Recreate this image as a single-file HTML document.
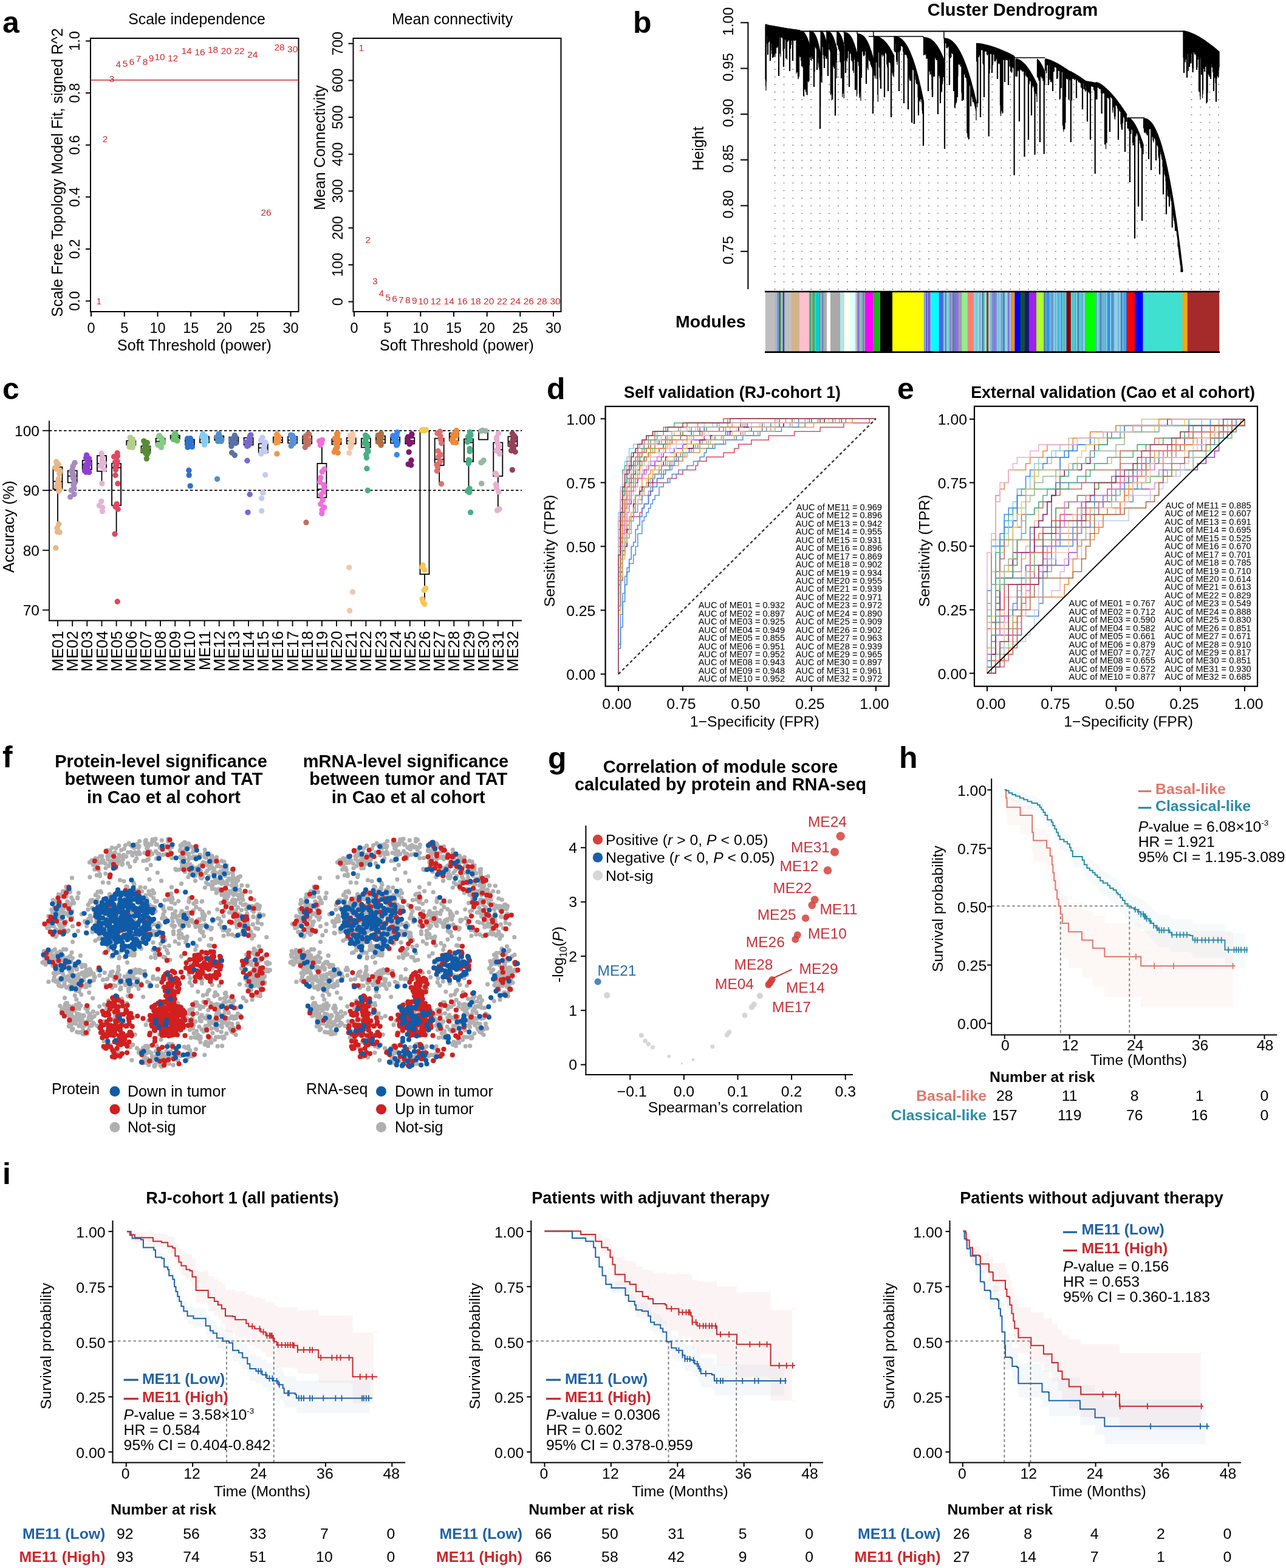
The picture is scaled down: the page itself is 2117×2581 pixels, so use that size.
<!DOCTYPE html>
<html><head><meta charset="utf-8"><title>Figure</title>
<style>
html,body{margin:0;padding:0;background:#fff;}
svg{display:block;font-family:"Liberation Sans",Arial,sans-serif;}
</style></head><body>
<svg width="2117" height="2581" viewBox="0 0 2117 2581" font-family="Liberation Sans, Arial, sans-serif">
<rect width="2117" height="2581" fill="#fff"/>
<text x="4" y="53.5" font-size="50" font-weight="bold">a</text>
<rect x="149" y="63" width="342.5" height="450" fill="none" stroke="#000" stroke-width="2" />
<line x1="141" y1="495.5" x2="149" y2="495.5" stroke="#000" stroke-width="2" />
<text x="131" y="495.5" font-size="23.5" text-anchor="middle" transform="rotate(-90 131 495.5)">0.0</text>
<line x1="141" y1="409.9" x2="149" y2="409.9" stroke="#000" stroke-width="2" />
<text x="131" y="409.9" font-size="23.5" text-anchor="middle" transform="rotate(-90 131 409.9)">0.2</text>
<line x1="141" y1="324.3" x2="149" y2="324.3" stroke="#000" stroke-width="2" />
<text x="131" y="324.3" font-size="23.5" text-anchor="middle" transform="rotate(-90 131 324.3)">0.4</text>
<line x1="141" y1="238.7" x2="149" y2="238.7" stroke="#000" stroke-width="2" />
<text x="131" y="238.7" font-size="23.5" text-anchor="middle" transform="rotate(-90 131 238.7)">0.6</text>
<line x1="141" y1="153.1" x2="149" y2="153.1" stroke="#000" stroke-width="2" />
<text x="131" y="153.1" font-size="23.5" text-anchor="middle" transform="rotate(-90 131 153.1)">0.8</text>
<line x1="141" y1="67.5" x2="149" y2="67.5" stroke="#000" stroke-width="2" />
<text x="131" y="67.5" font-size="23.5" text-anchor="middle" transform="rotate(-90 131 67.5)">1.0</text>
<line x1="150" y1="513" x2="150" y2="521" stroke="#000" stroke-width="2" />
<text x="150" y="548" font-size="23.5" text-anchor="middle">0</text>
<line x1="204.8" y1="513" x2="204.8" y2="521" stroke="#000" stroke-width="2" />
<text x="204.8" y="548" font-size="23.5" text-anchor="middle">5</text>
<line x1="259.5" y1="513" x2="259.5" y2="521" stroke="#000" stroke-width="2" />
<text x="259.5" y="548" font-size="23.5" text-anchor="middle">10</text>
<line x1="314.2" y1="513" x2="314.2" y2="521" stroke="#000" stroke-width="2" />
<text x="314.2" y="548" font-size="23.5" text-anchor="middle">15</text>
<line x1="369" y1="513" x2="369" y2="521" stroke="#000" stroke-width="2" />
<text x="369" y="548" font-size="23.5" text-anchor="middle">20</text>
<line x1="423.8" y1="513" x2="423.8" y2="521" stroke="#000" stroke-width="2" />
<text x="423.8" y="548" font-size="23.5" text-anchor="middle">25</text>
<line x1="478.5" y1="513" x2="478.5" y2="521" stroke="#000" stroke-width="2" />
<text x="478.5" y="548" font-size="23.5" text-anchor="middle">30</text>
<line x1="150" y1="513" x2="478.5" y2="513" stroke="#000" stroke-width="2" />
<text x="320" y="577" font-size="25" text-anchor="middle">Soft Threshold (power)</text>
<text x="102.5" y="284" font-size="25" text-anchor="middle" transform="rotate(-90 102.5 284)">Scale Free Topology Model Fit, signed R^2</text>
<text x="324" y="39.5" font-size="24.9" text-anchor="middle">Scale independence</text>
<line x1="149" y1="131.8" x2="491.5" y2="131.8" stroke="#d02a2e" stroke-width="1.6" />
<text x="162.7" y="501.3" font-size="15.5" text-anchor="middle" fill="#d02a2e">1</text>
<text x="173" y="233.5" font-size="15.5" text-anchor="middle" fill="#d02a2e">2</text>
<text x="184" y="135.2" font-size="15.5" text-anchor="middle" fill="#d02a2e">3</text>
<text x="194.7" y="111" font-size="15.5" text-anchor="middle" fill="#d02a2e">4</text>
<text x="206" y="109.5" font-size="15.5" text-anchor="middle" fill="#d02a2e">5</text>
<text x="217" y="107.4" font-size="15.5" text-anchor="middle" fill="#d02a2e">6</text>
<text x="228" y="102" font-size="15.5" text-anchor="middle" fill="#d02a2e">7</text>
<text x="239" y="107.4" font-size="15.5" text-anchor="middle" fill="#d02a2e">8</text>
<text x="249" y="101.4" font-size="15.5" text-anchor="middle" fill="#d02a2e">9</text>
<text x="263" y="99.3" font-size="15.5" text-anchor="middle" fill="#d02a2e">10</text>
<text x="284.6" y="100.8" font-size="15.5" text-anchor="middle" fill="#d02a2e">12</text>
<text x="307" y="88.5" font-size="15.5" text-anchor="middle" fill="#d02a2e">14</text>
<text x="329" y="90.9" font-size="15.5" text-anchor="middle" fill="#d02a2e">16</text>
<text x="350.5" y="87" font-size="15.5" text-anchor="middle" fill="#d02a2e">18</text>
<text x="372.4" y="88.8" font-size="15.5" text-anchor="middle" fill="#d02a2e">20</text>
<text x="394" y="88.8" font-size="15.5" text-anchor="middle" fill="#d02a2e">22</text>
<text x="415.8" y="94.5" font-size="15.5" text-anchor="middle" fill="#d02a2e">24</text>
<text x="438" y="354.5" font-size="15.5" text-anchor="middle" fill="#d02a2e">26</text>
<text x="460" y="83.4" font-size="15.5" text-anchor="middle" fill="#d02a2e">28</text>
<text x="481.7" y="86.4" font-size="15.5" text-anchor="middle" fill="#d02a2e">30</text>
<rect x="581.5" y="63" width="342" height="450" fill="none" stroke="#000" stroke-width="2" />
<line x1="573.5" y1="496.6" x2="581.5" y2="496.6" stroke="#000" stroke-width="2" />
<text x="564" y="496.6" font-size="23.5" text-anchor="middle" transform="rotate(-90 564 496.6)">0</text>
<line x1="573.5" y1="435.9" x2="581.5" y2="435.9" stroke="#000" stroke-width="2" />
<text x="564" y="435.9" font-size="23.5" text-anchor="middle" transform="rotate(-90 564 435.9)">100</text>
<line x1="573.5" y1="375.2" x2="581.5" y2="375.2" stroke="#000" stroke-width="2" />
<text x="564" y="375.2" font-size="23.5" text-anchor="middle" transform="rotate(-90 564 375.2)">200</text>
<line x1="573.5" y1="314.5" x2="581.5" y2="314.5" stroke="#000" stroke-width="2" />
<text x="564" y="314.5" font-size="23.5" text-anchor="middle" transform="rotate(-90 564 314.5)">300</text>
<line x1="573.5" y1="253.8" x2="581.5" y2="253.8" stroke="#000" stroke-width="2" />
<text x="564" y="253.8" font-size="23.5" text-anchor="middle" transform="rotate(-90 564 253.8)">400</text>
<line x1="573.5" y1="193.1" x2="581.5" y2="193.1" stroke="#000" stroke-width="2" />
<text x="564" y="193.1" font-size="23.5" text-anchor="middle" transform="rotate(-90 564 193.1)">500</text>
<line x1="573.5" y1="132.4" x2="581.5" y2="132.4" stroke="#000" stroke-width="2" />
<text x="564" y="132.4" font-size="23.5" text-anchor="middle" transform="rotate(-90 564 132.4)">600</text>
<line x1="573.5" y1="71.7" x2="581.5" y2="71.7" stroke="#000" stroke-width="2" />
<text x="564" y="71.7" font-size="23.5" text-anchor="middle" transform="rotate(-90 564 71.7)">700</text>
<line x1="583" y1="513" x2="583" y2="521" stroke="#000" stroke-width="2" />
<text x="583" y="548" font-size="23.5" text-anchor="middle">0</text>
<line x1="637.7" y1="513" x2="637.7" y2="521" stroke="#000" stroke-width="2" />
<text x="637.7" y="548" font-size="23.5" text-anchor="middle">5</text>
<line x1="692.3" y1="513" x2="692.3" y2="521" stroke="#000" stroke-width="2" />
<text x="692.3" y="548" font-size="23.5" text-anchor="middle">10</text>
<line x1="747" y1="513" x2="747" y2="521" stroke="#000" stroke-width="2" />
<text x="747" y="548" font-size="23.5" text-anchor="middle">15</text>
<line x1="801.7" y1="513" x2="801.7" y2="521" stroke="#000" stroke-width="2" />
<text x="801.7" y="548" font-size="23.5" text-anchor="middle">20</text>
<line x1="856.3" y1="513" x2="856.3" y2="521" stroke="#000" stroke-width="2" />
<text x="856.3" y="548" font-size="23.5" text-anchor="middle">25</text>
<line x1="911" y1="513" x2="911" y2="521" stroke="#000" stroke-width="2" />
<text x="911" y="548" font-size="23.5" text-anchor="middle">30</text>
<line x1="583" y1="513" x2="911" y2="513" stroke="#000" stroke-width="2" />
<text x="752" y="577" font-size="25" text-anchor="middle">Soft Threshold (power)</text>
<text x="535" y="243" font-size="25" text-anchor="middle" transform="rotate(-90 535 243)">Mean Connectivity</text>
<text x="744.5" y="40" font-size="24.9" text-anchor="middle">Mean connectivity</text>
<text x="594.7" y="83.8" font-size="15.5" text-anchor="middle" fill="#d02a2e">1</text>
<text x="605.8" y="400" font-size="15.5" text-anchor="middle" fill="#d02a2e">2</text>
<text x="617.2" y="467.8" font-size="15.5" text-anchor="middle" fill="#d02a2e">3</text>
<text x="627.7" y="488.1" font-size="15.5" text-anchor="middle" fill="#d02a2e">4</text>
<text x="638.8" y="494.5" font-size="15.5" text-anchor="middle" fill="#d02a2e">5</text>
<text x="649.5" y="497.2" font-size="15.5" text-anchor="middle" fill="#d02a2e">6</text>
<text x="660.3" y="498.5" font-size="15.5" text-anchor="middle" fill="#d02a2e">7</text>
<text x="671.4" y="499.2" font-size="15.5" text-anchor="middle" fill="#d02a2e">8</text>
<text x="682.4" y="500" font-size="15.5" text-anchor="middle" fill="#d02a2e">9</text>
<text x="696.8" y="500.5" font-size="15.5" text-anchor="middle" fill="#d02a2e">10</text>
<text x="717.3" y="500.5" font-size="15.5" text-anchor="middle" fill="#d02a2e">12</text>
<text x="739.2" y="500.5" font-size="15.5" text-anchor="middle" fill="#d02a2e">14</text>
<text x="761" y="500.5" font-size="15.5" text-anchor="middle" fill="#d02a2e">16</text>
<text x="783" y="500.5" font-size="15.5" text-anchor="middle" fill="#d02a2e">18</text>
<text x="804.7" y="500.5" font-size="15.5" text-anchor="middle" fill="#d02a2e">20</text>
<text x="826.6" y="500.5" font-size="15.5" text-anchor="middle" fill="#d02a2e">22</text>
<text x="848.4" y="500.5" font-size="15.5" text-anchor="middle" fill="#d02a2e">24</text>
<text x="870.3" y="500.5" font-size="15.5" text-anchor="middle" fill="#d02a2e">26</text>
<text x="892" y="500.5" font-size="15.5" text-anchor="middle" fill="#d02a2e">28</text>
<text x="914" y="500.5" font-size="15.5" text-anchor="middle" fill="#d02a2e">30</text>
<text x="1042" y="53.5" font-size="50" font-weight="bold">b</text>
<text x="1667" y="26" font-size="29" text-anchor="middle" font-weight="bold">Cluster Dendrogram</text>
<line x1="1231.4" y1="36.3" x2="1231.4" y2="476" stroke="#000" stroke-width="2" />
<line x1="1219" y1="37.3" x2="1231.4" y2="37.3" stroke="#000" stroke-width="2" />
<text x="1207.4" y="35.3" font-size="24" text-anchor="middle" transform="rotate(-90 1207.4 35.3)">1.00</text>
<line x1="1219" y1="112.6" x2="1231.4" y2="112.6" stroke="#000" stroke-width="2" />
<text x="1207.4" y="110.6" font-size="24" text-anchor="middle" transform="rotate(-90 1207.4 110.6)">0.95</text>
<line x1="1219" y1="187.9" x2="1231.4" y2="187.9" stroke="#000" stroke-width="2" />
<text x="1207.4" y="185.9" font-size="24" text-anchor="middle" transform="rotate(-90 1207.4 185.9)">0.90</text>
<line x1="1219" y1="263.2" x2="1231.4" y2="263.2" stroke="#000" stroke-width="2" />
<text x="1207.4" y="261.2" font-size="24" text-anchor="middle" transform="rotate(-90 1207.4 261.2)">0.85</text>
<line x1="1219" y1="338.5" x2="1231.4" y2="338.5" stroke="#000" stroke-width="2" />
<text x="1207.4" y="336.5" font-size="24" text-anchor="middle" transform="rotate(-90 1207.4 336.5)">0.80</text>
<line x1="1219" y1="413.8" x2="1231.4" y2="413.8" stroke="#000" stroke-width="2" />
<text x="1207.4" y="411.8" font-size="24" text-anchor="middle" transform="rotate(-90 1207.4 411.8)">0.75</text>
<text x="1158" y="244.5" font-size="25" text-anchor="middle" transform="rotate(-90 1158 244.5)">Height</text>
<text x="1112" y="539" font-size="28.5" font-weight="bold">Modules</text>
<path d="M1260 40.5V130.6M1260.5 40.7V141.5M1261 40.9V148.9M1261.5 41V133.8M1262 41.2V57.9M1262.5 41.3V59.5M1263 41.4V71.7M1263.5 41.6V75.7M1264 41.7V63.4M1264.5 41.8V62.8M1265 41.9V66.8M1265.5 42V69.7M1266 42.2V64.4M1266.5 42.3V65.3M1267 42.4V68.1M1267.5 42.5V68.9M1268 42.6V68.3M1268.5 42.7V68M1269 42.8V71.8M1269.5 42.9V67.6M1270 43V82.5M1270.5 43.1V89M1271 43.2V81.1M1271.5 43.3V84M1272 43.4V94.9M1272.5 43.5V85.8M1273 43.6V90.9M1273.5 43.7V93.4M1274 43.8V93.8M1274.5 43.8V88.9M1275 43.9V89.1M1275.5 44V90.7M1276 44.1V94M1276.5 44.2V86.5M1277 44.3V70.8M1277.5 44.4V75.1M1278 44.5V77.1M1278.5 44.6V78.3M1279 44.7V74.7M1279.5 44.7V78.9M1280 44.8V74.9M1280.5 44.9V76.8M1281 45V76.1M1281.5 45.1V74.2M1282 45.2V62.5M1282.5 45.3V59.8M1283 45.3V61.2M1283.5 45.4V61.6M1284 45.5V88.5M1284.5 45.6V88M1285 45.7V93.2M1285.5 45.8V60M1286 45.8V61M1286.5 45.9V61.4M1287 46V62.6M1287.5 46.1V61.7M1288 46.2V61.1M1288.5 46.2V63.8M1289 46.3V83.5M1289.5 46.4V84.2M1290 46.5V82.2M1290.5 46.6V81.4M1291 46.6V80.2M1291.5 46.7V80.3M1292 46.8V64.7M1292.5 46.9V64.6M1293 47V65.4M1293.5 47V64.2M1294 47.1V64.1M1294.5 47.2V94.3M1295 47.3V96M1295.5 47.3V98M1296 47.4V64.9M1296.5 47.5V68M1297 47.6V68.7M1297.5 47.7V66.6M1298 47.7V66.7M1298.5 47.8V65.1M1299 47.9V65.3M1299.5 48V66.3M1300 48V76.4M1300.5 48.1V81.5M1301 48.2V77.6M1301.5 48.3V79.9M1302 48.3V70M1302.5 48.4V74.1M1303 48.5V66.1M1303.5 48.6V67.1M1304 48.6V65.5M1304.5 48.7V65.1M1305 48.8V67.5M1305.5 48.9V68.2M1306 48.9V66.7M1306.5 49V64.5M1307 49.1V65.7M1307.5 49.1V66.6M1308 49.2V67.6M1308.5 49.3V67M1309 49.4V65.9M1309.5 49.4V64.9M1310 49.5V66.5M1310.5 49.6V65.6M1311 49.6V121M1311.5 49.7V118.7M1312 49.8V118.9M1312.5 49.9V118.4M1313 49.9V118.6M1313.5 50V125.6M1314 50.1V130.2M1314.5 50.1V129.3M1315 50.2V123.4M1315.5 50.3V126.3M1316 50.4V88.9M1316.5 50.4V91.8M1317 50.5V87.4M1317 50.5V94.3M1317.5 51.5V93.3M1318 51.5V91.1M1318.5 51.6V99.9M1319 51.7V100.3M1319.5 51.8V109.3M1320 52V108.3M1320.5 52.2V100.8M1321 52.4V109M1321.5 52.8V111.1M1322 53.1V107.7M1322.5 53.5V157.5M1323 54V144.3M1323.5 54.5V159M1324 55.1V146.2M1324.5 55.8V141.7M1325 56.5V147.5M1325.5 57.3V139.9M1326 58.1V144.9M1326.5 59.1V151.4M1327 60.1V137.6M1327.5 61.1V151.6M1328 62.3V155.8M1328.5 63.5V152.5M1329 64.8V156.7M1329.5 66.1V132.4M1330 67.6V133.7M1330.5 69.1V127.8M1331 70.7V135.6M1331.5 72.4V133.5M1332 74.1V132.7M1332.5 76V94.7M1332.5 76V107.4M1333 51.5V78.5M1333.5 51.5V94.3M1334 51.6V90.3M1334.5 51.6V98.7M1335 51.7V90.8M1335.5 51.9V93.5M1336 52.1V99.9M1336.5 52.3V92.4M1337 52.6V92.2M1337.5 52.9V96.7M1338 53.3V94.9M1338.5 53.8V96.9M1339 54.3V98.1M1339.5 54.9V117.7M1340 55.6V117.9M1340.5 56.3V118.3M1341 57.2V118.1M1341.5 58.1V76.2M1342 59.1V77.6M1342.5 60.2V75.9M1343 61.3V79.2M1343.5 62.6V80.2M1344 64V79.6M1344.5 65.4V83.9M1345 67V85.7M1345.5 68.6V90.7M1346 70.4V95.1M1346.5 72.3V94.6M1347 74.3V103M1347.5 76.4V105.9M1348 78.6V110.9M1348.5 80.9V108.4M1349 83.3V114.5M1349.5 85.9V116.3M1350 88.6V116.1M1350.5 91.4V121.1M1350.6 92V176M1351.1 51.5V123.7M1351.6 51.6V134.9M1352.1 51.9V121.6M1352.6 52.2V125.1M1353.1 52.6V136.4M1353.6 53.1V77.2M1354.1 53.8V77.4M1354.6 54.6V75.4M1355.1 55.5V90.5M1355.6 56.5V91.1M1356.1 57.7V96.5M1356.6 59V83M1357.1 60.4V85.3M1357.6 62V83.2M1358.1 63.7V85.3M1358.6 65.6V92.5M1359.1 67.6V91.4M1359.6 69.7V96.2M1360.1 72V97M1360.3 73V97.2M1360.8 51.5V75.1M1361.3 51.5V93.1M1361.8 51.6V95.6M1362.3 51.6V97.9M1362.8 51.8V68.9M1363.3 51.9V72.1M1363.8 52.1V71.6M1364.3 52.3V70.3M1364.8 52.6V81.5M1365.3 53V81.8M1365.8 53.4V81.5M1366.3 53.8V84.1M1366.8 54.3V85.1M1367.3 54.9V156.6M1367.8 55.6V154.6M1368.3 56.3V153.8M1368.8 57.1V149.7M1369.3 57.9V165.3M1369.8 58.9V156.3M1370.3 59.9V149.1M1370.8 60.9V163.6M1371.3 62.1V105.2M1371.8 63.4V107M1372.3 64.7V110M1372.8 66.1V108.4M1373.3 67.6V112.8M1373.8 69.2V94.3M1374.3 70.9V94.3M1374.8 72.7V101M1375.3 74.5V99M1375.8 76.5V99M1376.3 78.6V99.6M1376.8 80.7V103.2M1377.3 83V129M1377.3 83V104.1M1377.8 52.7V73.6M1378.3 52.8V74.7M1378.8 53V74.4M1379.3 53.2V74.9M1379.8 53.5V77.9M1380.3 53.9V81.6M1380.8 54.4V81.6M1381.3 54.9V78.7M1381.8 55.6V84M1382.3 56.3V85.1M1382.8 57.2V102.2M1383.3 58.1V101.7M1383.8 59.1V101M1384.3 60.3V104.4M1384.8 61.5V98.4M1385.3 62.9V105.8M1385.8 64.3V108.3M1386.3 65.9V109.1M1386.8 67.6V159.7M1387.3 69.3V150.7M1387.8 71.2V153.9M1388.3 73.2V148.5M1388.8 75.3V150M1389.3 77.5V161.7M1389.4 78V97.9M1389.9 54V72.9M1390.4 54V73M1390.9 54V100.3M1391.4 54.1V100.7M1391.9 54.2V94.9M1392.4 54.3V100.1M1392.9 54.4V95.1M1393.4 54.6V99.3M1393.9 54.8V97.7M1394.4 55V101.6M1394.9 55.2V95.1M1395.4 55.5V95.7M1395.9 55.9V84.3M1396.4 56.3V84.3M1396.9 56.7V71.1M1397.4 57.2V71.7M1397.9 57.7V72.1M1398.4 58.3V87.4M1398.9 58.9V89.4M1399.4 59.5V87.3M1399.9 60.3V86.6M1400.4 61V87.6M1400.9 61.9V89.2M1401.4 62.7V99.8M1401.9 63.7V94.3M1402.4 64.7V95.4M1402.9 65.7V101.4M1403.4 66.9V98.8M1403.9 68V116.3M1404.4 69.3V115.7M1404.9 70.6V112.4M1405.4 71.9V120.3M1405.9 73.4V94.9M1406.4 74.9V95.1M1406.9 76.5V98.2M1407.4 78.1V98.4M1407.9 79.8V99.9M1408.4 81.6V106.6M1408.9 83.4V104.7M1409.4 85.3V145.9M1409.9 87.3V148.2M1410.4 89.4V158.7M1410.9 91.6V155.4M1411 92V141.9M1411.5 56.3V99.3M1412 56.3V99.5M1412.5 56.3V102M1413 56.4V100.6M1413.5 56.4V108.7M1414 56.5V104.8M1414.5 56.6V154.5M1415 56.7V161.2M1415.5 56.8V159M1416 57V151.3M1416.5 57.1V146.2M1417 57.3V165.7M1417.5 57.6V80.5M1418 57.8V83.3M1418.5 58.1V83.1M1419 58.4V85M1419.5 58.8V84M1420 59.2V84.3M1420.5 59.6V85M1421 60V89.7M1421.5 60.5V92.4M1422 61V90.7M1422.5 61.6V92.1M1423 62.2V90.6M1423.5 62.8V90.8M1424 63.5V82.3M1424.5 64.2V84.4M1425 64.9V84.5M1425.5 65.7V83.9M1426 66.5V84.8M1426.5 67.4V86.1M1427 68.3V109.5M1427.5 69.3V108.6M1428 70.3V112.5M1428.5 71.4V112.1M1429 72.5V115.6M1429.5 73.6V94M1430 74.8V95.5M1430.5 76V99.1M1431 77.3V99.9M1431.5 78.7V101.3M1432 80.1V98.7M1432.5 81.5V100.2M1433 83V104.9M1433.5 84.5V107.3M1434 86.1V106.9M1434.5 87.8V109.8M1435 89.5V109.7M1435.5 91.2V111.2M1436 93V113M1436.5 94.9V116.3M1437 96.8V115.7M1437.5 98.8V140.1M1437.8 100V166.7M1438.3 60V115.9M1438.8 60V117.7M1439.3 60V123.9M1439.8 60.1V116.5M1440.3 60.1V126M1440.8 60.2V129.5M1441.3 60.2V124.9M1441.8 60.3V98M1442.3 60.4V102.3M1442.8 60.5V103M1443.3 60.6V101.3M1443.8 60.7V99.9M1444.3 60.9V103.5M1444.8 61V156M1445.3 61.2V167.7M1445.8 61.4V87.1M1446.3 61.6V86M1446.8 61.8V84.1M1447.3 62V110.1M1447.8 62.3V112.1M1448.3 62.5V127.5M1448.8 62.8V131.7M1449.3 63.1V124.8M1449.8 63.4V133.9M1450.3 63.7V133.4M1450.8 64V91M1451.3 64.4V88.1M1451.8 64.7V90.1M1452.3 65.1V89.3M1452.8 65.5V93.2M1453.3 65.9V89.2M1453.8 66.4V88.5M1454.3 66.8V90.2M1454.8 67.3V92.1M1455.3 67.8V88.5M1455.8 68.3V90.3M1456.3 68.8V89.9M1456.8 69.3V84.3M1457.3 69.8V86.6M1457.8 70.4V87.1M1458.3 71V87.1M1458.8 71.6V88.6M1459.3 72.2V89M1459.8 72.8V106.2M1460.3 73.5V105.7M1460.8 74.1V109.4M1461.3 74.8V111M1461.8 75.5V93.9M1462.3 76.3V96.1M1462.8 77V99M1463.3 77.8V98.3M1463.8 78.5V103.2M1464.3 79.3V102M1464.8 80.1V100.8M1465.3 81V103.8M1465.8 81.8V104.2M1466.3 82.7V107.8M1466.8 83.6V105M1467.3 84.5V106.8M1467.8 85.4V110.4M1468.3 86.3V106.9M1468.8 87.3V119.4M1469.3 88.3V121M1469.8 89.3V124.5M1470.3 90.3V120.1M1470.8 91.3V122.1M1471.3 92.4V126.8M1471.6 93V118.6M1472.1 60.5V82.8M1472.6 60.5V85M1473.1 60.5V84.4M1473.6 60.6V85.5M1474.1 60.6V86.3M1474.6 60.7V72M1475.1 60.8V72.1M1475.6 60.8V98.7M1476.1 61V102.1M1476.6 61.1V97.8M1477.1 61.2V106.4M1477.6 61.4V100.8M1478.1 61.6V84M1478.6 61.8V84.4M1479.1 62V86.8M1479.6 62.2V83.4M1480.1 62.5V84.3M1480.6 62.7V87.4M1481.1 63V85.1M1481.6 63.4V84.5M1482.1 63.7V83M1482.6 64.1V81.9M1483.1 64.4V74.3M1483.6 64.8V75.2M1484.1 65.3V76M1484.6 65.7V75M1485.1 66.2V76.2M1485.6 66.7V77.2M1486.1 67.2V77.7M1486.6 67.8V84.3M1487.1 68.3V86.2M1487.6 68.9V84.8M1488.1 69.5V85.6M1488.6 70.2V86.2M1489.1 70.9V86.5M1489.6 71.6V90M1490.1 72.3V89.6M1490.6 73V89.4M1491.1 73.8V90.4M1491.6 74.6V88.7M1492.1 75.4V90.6M1492.6 76.3V88.7M1493.1 77.1V93M1493.6 78V95.7M1494.1 79V94.3M1494.6 79.9V94.6M1495.1 80.9V97.6M1495.6 81.9V127.6M1496.1 83V124.7M1496.6 84V124M1497.1 85.1V130M1497.6 86.2V132.7M1498.1 87.4V126M1498.6 88.6V131.7M1499.1 89.8V133.2M1499.6 91V130.6M1500.1 92.3V133.3M1500.6 93.6V201.7M1501.1 94.9V200.8M1501.6 96.3V202.3M1502.1 97.7V110.9M1502.6 99.1V114.2M1503.1 100.5V114.9M1503.6 102V114.8M1504.1 103.5V116.4M1504.6 105V119.2M1505.1 106.6V120M1505.6 108.2V121.2M1506.1 109.8V125M1506.6 111.5V125.7M1507.1 113.2V130.7M1507.6 114.9V132.7M1508.1 116.7V136.2M1508.6 118.5V138.5M1509.1 120.3V137.8M1509.6 122.1V137.7M1510.1 124V138.6M1510.6 125.9V140.4M1511.1 127.9V160.2M1511.6 129.8V161M1512.1 131.9V159.5M1512.6 133.9V163.7M1513.1 136V164.6M1513.6 138.1V163.3M1514.1 140.2V166.5M1514.6 142.4V167.6M1515.1 144.6V160.5M1515.6 146.8V163.2M1516.1 149.1V163M1516.6 151.4V164.3M1517.1 153.8V167.5M1517.6 156.1V170M1518.1 158.5V181.4M1518.6 161V187.2M1519.1 163.5V185.9M1519.6 166V188.8M1520 168V195.9M1520.5 62.3V91.1M1521 62.3V91M1521.5 62.3V90M1522 62.3V90M1522.5 62.4V88M1523 62.4V88.5M1523.5 62.5V88.9M1524 62.5V91.3M1524.5 62.6V90.9M1525 62.7V97.1M1525.5 62.8V95.7M1526 62.9V95.7M1526.5 63V92.8M1527 63.2V97.3M1527.5 63.3V96.5M1528 63.5V94.8M1528.5 63.7V98.9M1529 63.9V117.4M1529.5 64.1V113.6M1530 64.3V117.4M1530.5 64.6V117.7M1531 64.8V123.3M1531.5 65.1V119.9M1532 65.4V122.1M1532.5 65.7V114.9M1533 66.1V116.3M1533.5 66.4V126.3M1534 66.8V147.3M1534.5 67.2V158.3M1535 67.6V143.7M1535.5 68.1V157.4M1536 68.5V125.5M1536.5 69V120.4M1537 69.5V126.2M1537.5 70V126.3M1538 70.6V118.2M1538.5 71.1V125.9M1539 71.7V91.1M1539.5 72.3V95.2M1540 72.9V92.9M1540.5 73.6V97M1541 74.2V98.3M1541.5 74.9V99.1M1542 75.7V97.8M1542.5 76.4V99.3M1543 77.2V99.1M1543.5 77.9V101M1544 78.8V103M1544.5 79.6V102M1545 80.5V103.1M1545.5 81.3V123.4M1546 82.2V125.2M1546.5 83.2V123.6M1547 84.1V129.3M1547.5 85.1V127.4M1548 86.1V147.7M1548.5 87.2V153.1M1549 88.2V152.5M1549.5 89.3V148.6M1550 90.4V149.8M1550.5 91.6V150.9M1551 92.7V132.2M1551.5 93.9V138.8M1552 95.1V133.4M1552.5 96.4V124.2M1553 97.6V125.8M1553.5 98.9V126.9M1553.9 100V107.6M1554.4 63.5V70.8M1554.9 63.5V71M1555.4 63.5V71.6M1555.9 63.6V70.4M1556.4 63.6V70.6M1556.9 63.7V71.4M1557.4 63.8V70.4M1557.9 63.9V79.2M1558.4 64V78.9M1558.9 64.1V77.8M1559.4 64.2V76.9M1559.9 64.4V79.5M1560.4 64.5V77.6M1560.9 64.7V76.1M1561.4 64.9V75.3M1561.9 65.2V76.9M1562.4 65.4V93.5M1562.9 65.6V93.7M1563.4 65.9V97.6M1563.9 66.2V92.3M1564.4 66.5V95.8M1564.9 66.8V95.3M1565.4 67.2V94.6M1565.9 67.5V93.8M1566.4 67.9V85.5M1566.9 68.3V86.8M1567.4 68.7V87.7M1567.9 69.2V88.6M1568.4 69.6V89.1M1568.9 70.1V88.6M1569.4 70.6V89.9M1569.9 71.1V90M1570.4 71.6V88.7M1570.9 72.2V91.6M1571.4 72.8V177.2M1571.9 73.4V171.6M1572.4 74V178.3M1572.9 74.6V172.6M1573.4 75.3V168.2M1573.9 75.9V166.2M1574.4 76.6V169.7M1574.9 77.3V166.2M1575.4 78.1V119.4M1575.9 78.8V118.1M1576.4 79.6V124.5M1576.9 80.4V125.7M1577.4 81.2V103.1M1577.9 82.1V105.5M1578.4 82.9V102.8M1578.9 83.8V106.8M1579.4 84.7V103.6M1579.9 85.6V105.7M1580.4 86.6V106.6M1580.9 87.6V109.9M1581.4 88.5V104.8M1581.9 89.6V105.5M1582.4 90.6V109M1582.9 91.6V152.4M1583.4 92.7V152.6M1583.9 93.8V154.5M1584.4 94.9V148.6M1584.9 96.1V150M1585.4 97.3V163.6M1585.9 98.5V155.2M1586.4 99.7V165.1M1586.9 100.9V122.6M1587.4 102.2V120.5M1587.9 103.4V121.3M1588.4 104.7V122.9M1588.9 106.1V127.9M1589.4 107.4V126.6M1589.9 108.8V127.1M1590.4 110.2V128M1590.9 111.6V129.5M1591.4 113V133.8M1591.9 114.5V219.3M1592.4 116V208.4M1592.9 117.5V226.5M1593.4 119V218.8M1593.9 120.6V223.2M1594.4 122.2V229.5M1594.9 123.8V228.4M1595.4 125.4V229.1M1595.9 127.1V136.5M1596.4 128.8V140M1596.9 130.5V141.6M1597.4 132.2V143M1597.9 133.9V145.1M1598.4 135.7V156M1598.9 137.5V157.2M1599.4 139.3V157.5M1599.9 141.2V159.5M1600.4 143V161.1M1600.9 144.9V163.3M1601.4 146.8V167.7M1601.9 148.8V165.9M1602.4 150.8V164.9M1602.9 152.7V168M1603.4 154.8V169.3M1603.9 156.8V169.5M1604.4 158.9V172.7M1604.9 161V174.9M1605.4 163.1V178.1M1605.9 165.2V178.9M1606.4 167.4V182.1M1606.9 169.6V183.8M1607 170V198M1607.5 72V100.9M1608 72V101.5M1608.5 72.1V169.9M1609 72.1V176.6M1609.5 72.1V163.3M1610 72.2V170.1M1610.5 72.2V90.7M1611 72.3V93.6M1611.5 72.3V94.2M1612 72.4V91.2M1612.5 72.4V91.2M1613 72.5V90.9M1613.5 72.6V91.4M1614 72.6V82.9M1614.5 72.7V82.7M1615 72.8V82.1M1615.5 72.9V82.6M1616 72.9V82.1M1616.5 73V82M1617 73.1V82.4M1617.5 73.2V82.7M1618 73.3V104.4M1618.5 73.4V105M1619 73.5V106.7M1619.5 73.6V84.2M1620 73.7V85.1M1620.5 73.8V84.2M1621 73.9V84.5M1621.5 74V84.1M1622 74.1V84.6M1622.5 74.3V85.2M1623 74.4V84.3M1623.5 74.5V84.4M1624 74.6V84.7M1624.5 74.7V88.9M1625 74.9V90.3M1625.5 75V90.9M1626 75.1V88.8M1626.5 75.2V88.9M1627 75.4V89.3M1627.5 75.5V89.7M1628 75.7V90.5M1628.5 75.8V120.6M1629 75.9V121.1M1629.5 76.1V113.7M1630 76.2V89.1M1630.5 76.4V89.1M1631 76.5V88.4M1631.5 76.7V87.9M1632 76.8V89.3M1632.5 77V88M1633 77.1V88.4M1633.5 77.3V89.1M1634 77.5V102.5M1634.5 77.6V107.2M1635 77.8V88.4M1635.5 78V89.4M1636 78.1V90M1636.5 78.3V89M1637 78.5V100.3M1637.5 78.6V100.4M1638 78.8V101.6M1638.5 79V100.7M1639 79.2V100.6M1639.5 79.4V99.1M1640 79.5V96.8M1640.5 79.7V95M1641 79.9V96.4M1641.5 80.1V103.8M1642 80.3V102.2M1642.5 80.5V100.1M1643 80.7V104.4M1643.5 80.9V102.9M1644 81.1V103.8M1644.5 81.3V105M1645 81.4V105.4M1645.5 81.6V102.8M1646 81.8V101.4M1646.5 82.1V173.4M1647 82.3V187.3M1647.5 82.5V191M1648 82.7V181.9M1648.5 82.9V172.9M1649 83.1V183.5M1649.5 83.3V183M1650 83.5V187.1M1650.5 83.7V182.8M1651 83.9V185.8M1651.5 84.2V97.1M1652 84.4V98.9M1652.5 84.6V96.8M1653 84.8V97.9M1653.5 85.1V99.4M1654 85.3V99M1654.5 85.5V98.9M1655 85.7V99.2M1655.5 86V98.3M1656 86.2V98.9M1656.5 86.4V99.1M1657 86.7V98.4M1657.5 86.9V98.8M1658 87.1V99.1M1658.5 87.4V99.4M1659 87.6V99.5M1659.5 87.8V97.6M1660 88.1V97.5M1660.5 88.3V97.4M1661 88.6V97.8M1661.5 88.8V97.4M1662 89.1V109.7M1662.5 89.3V108.5M1663 89.6V108M1663.5 89.8V117.8M1664 90.1V114.9M1664.5 90.3V117.9M1665 90.6V118M1665.5 90.8V120M1666 91.1V118.5M1666.5 91.4V110M1667 91.6V110.6M1667.5 91.9V111.6M1668 92.1V111.6M1668.5 92.4V112.8M1669 92.7V106.1M1669.5 92.9V105.4M1672 97.4V125.9M1672.5 97.4V124.7M1673 97.5V121.1M1673.5 97.5V121.2M1674 97.6V126.8M1674.5 97.8V125.2M1675 97.9V114.6M1675.5 98.1V115.8M1676 98.3V117.3M1676.5 98.5V115.2M1677 98.7V110.9M1677.5 98.9V111.6M1678 99.2V111.5M1678.5 99.5V112.4M1679 99.8V112.4M1679.5 100.1V113M1680 100.4V115.8M1680.5 100.7V115.6M1681 101.1V114.2M1681.5 101.5V114.6M1682 101.9V115.9M1682.5 102.3V117.6M1683 102.7V116.9M1683.5 103.1V117.6M1684 103.6V117.9M1684.5 104.1V116.8M1685 104.6V117.6M1685.5 105.1V116.6M1686 105.6V123.6M1686.5 106.1V122.4M1687 106.7V123.1M1687.5 107.2V125.7M1688 107.8V117.8M1688.5 108.4V118.5M1689 109V124M1689.5 109.6V124.5M1690 110.3V126.5M1690.5 110.9V124.3M1691 111.6V127.3M1691.5 112.3V127.6M1692 113V127.4M1692.5 113.7V129.8M1693 114.4V139.6M1693.5 115.1V137.1M1694 115.9V138.2M1694.5 116.6V138.5M1695 117.4V130.9M1695.5 118.2V132M1696 119V133.8M1696.5 119.8V133.4M1697 120.6V134.5M1697.5 121.5V137M1698 122.3V139.7M1698.5 123.2V143.5M1699 124.1V145M1699.5 125V137.6M1700 125.9V141M1700.5 126.8V140.8M1701 127.8V142.7M1701.5 128.7V141.4M1702 129.7V143.7M1702.5 130.7V150.4M1703 131.6V151M1703.5 132.6V152.3M1704 133.7V151.4M1704.5 134.7V154.3M1705 135.7V154.5M1705.5 136.8V154.3M1706 137.8V154.1M1706.5 138.9V158.5M1707 140V155.9M1707 140V168M1707.5 98.2V126.4M1708 98.5V127.5M1708.5 98.9V127.2M1709 99.3V128.4M1709.5 99.9V130.4M1710 100.4V132.9M1710.5 101.1V127.7M1711 101.8V131.8M1711.5 102.5V129M1712 103.2V121.7M1712.5 104.1V121.1M1713 104.9V126.6M1713.5 105.8V125.3M1714 106.7V125.9M1714.5 107.6V125.5M1715 108.6V128.9M1715.5 109.6V128M1716 110.7V128.8M1716.5 111.7V129.2M1717 112.8V133.3M1717.5 114V131.8M1718 115.1V123.2M1718.5 116.3V125.3M1719 117.5V137.4M1719.5 118.7V136.3M1720 120V140.1M1720.4 97.4V116.4M1720.9 97.4V113.8M1721.4 97.5V116.6M1721.9 97.6V115.8M1722.4 97.7V120.7M1722.9 97.8V119.7M1723.4 97.9V106.9M1723.9 98.1V106.2M1724.4 98.2V107M1724.9 98.4V107.5M1725.4 98.5V105.7M1725.9 98.7V107.4M1726.4 98.8V106.2M1726.9 99V107.4M1727.4 99.2V107.1M1727.9 99.4V131.6M1728.4 99.6V129.9M1728.9 99.8V128.4M1729.4 100V135.1M1729.9 100.2V133.4M1730.4 100.4V134.4M1730.9 100.6V131.2M1731.4 100.8V133.3M1731.9 101V136.1M1732.4 101.2V135.3M1732.9 101.4V115.8M1733.4 101.7V116.5M1733.9 101.9V116.7M1734.4 102.1V118.3M1734.9 102.4V116.7M1735.4 102.6V117.7M1735.9 102.9V109.9M1736.4 103.1V110.5M1736.9 103.4V110.8M1737.4 103.6V109.8M1737.9 103.9V111.3M1738.4 104.1V111.5M1738.9 104.4V111.8M1739.4 104.7V111.7M1739.9 104.9V128.1M1740.4 105.2V127M1740.9 105.5V127.4M1741.4 105.8V127.8M1741.9 106V116.6M1742.4 106.3V115.4M1742.9 106.6V116.5M1743.4 106.9V116.9M1743.9 107.2V116.8M1744.4 107.5V163.7M1744.9 107.8V163.9M1745.4 108.1V162M1745.9 108.4V122M1746.4 108.7V121.3M1746.9 109V116.6M1747.4 109.3V118.3M1747.9 109.6V117.6M1748.4 109.9V118.5M1748.9 110.2V118.4M1749.4 110.5V206.8M1749.9 110.9V201.2M1750.4 111.2V213.1M1750.9 111.5V216.8M1751.4 111.8V203.3M1751.9 112.1V213.3M1752.4 112.5V208.1M1752.9 112.8V212.2M1753.4 113.1V201.6M1753.9 113.5V202.2M1754.4 113.8V126.7M1754.9 114.1V128.6M1755.4 114.5V127.9M1755.9 114.8V129.8M1756.4 115.2V129.6M1756.9 115.5V130.1M1757.4 115.9V130.9M1757.9 116.2V129.1M1758.4 116.6V128.8M1758.9 116.9V129.7M1759 117V163.5M1759.5 117.1V161.5M1760 117.3V165.2M1760.5 117.5V132.5M1761 117.7V130.7M1761.5 117.9V131.7M1762 118.2V131.1M1762.5 118.4V131.5M1763 118.6V130.9M1763.5 118.9V159.9M1764 119.2V165.3M1764.5 119.4V165.6M1765 119.7V129.5M1765.5 119.9V129.8M1766 120.2V129.5M1766.5 120.5V129M1767 120.8V129.7M1767.5 121.1V129.4M1768 121.4V130M1768.5 121.6V131.5M1769 121.9V131.4M1769.5 122.2V131.4M1770 122.5V128.9M1770.5 122.8V129.8M1771 123.2V129.6M1771.5 123.5V130M1772 123.8V130.2M1772.5 124.1V131.3M1773 124.4V130.6M1773.5 124.7V132M1774 125V132.2M1774.5 125.4V133.5M1775 125.7V133.4M1775.5 126V135.4M1776 126.3V135.5M1776.5 126.7V135.5M1777 127V135.5M1777.5 127.3V135.6M1778 127.7V136.8M1778.5 128V136.5M1779 128.4V137.1M1779.5 128.7V143.1M1780 129V144.9M1780.5 129.4V143.8M1781 129.7V137.9M1781.5 130.1V139.3M1782 130.4V138.7M1782.5 130.8V136.3M1783 131.1V136.2M1783.5 131.5V137M1784 131.8V146.8M1784.5 132.2V146.5M1785 132.6V146.8M1785.5 132.9V147M1786 133.3V147.9M1786.5 133.6V150.3M1787 134V150.7M1787 134V139.9M1787.5 134.1V141M1788 134.2V140.4M1788.5 134.3V148.7M1789 134.4V148.3M1789.5 134.4V151.3M1790 134.5V150.3M1790.5 134.6V149.2M1791 134.7V150.2M1791.5 134.8V151.9M1792 134.9V149.6M1792.5 135V151.7M1793 135.1V151.6M1793.5 135.1V153.4M1794 135.2V154.4M1794.5 135.3V154.7M1795 135.4V154.2M1795.5 135.5V142.2M1796 135.6V142.5M1796.5 135.7V142.2M1797 135.8V141.8M1797.5 135.9V141.7M1798 135.9V142.7M1798.5 136V142.3M1799 136.1V142.9M1799.5 136.2V142M1800 136.3V143.2M1800.5 136.4V147.4M1801 136.5V148.4M1801.5 136.6V149.4M1802 136.6V147.8M1802.5 136.7V142.8M1803 136.8V142.6M1803.5 136.9V142.9M1804 137V143.3M1804 137V163.2M1804.5 136.1V164.1M1805 136.1V163M1805.5 136.3V161.2M1806 136.4V163.5M1806.5 136.6V143.9M1807 136.8V143.4M1807.5 137V144.3M1808 137.2V144.4M1808.5 137.4V144.5M1809 137.7V145M1809.5 137.9V146.3M1810 138.2V145.2M1810.5 138.5V145.6M1811 138.7V146.9M1811.5 139V146.3M1812 139.3V146.3M1812.5 139.7V152.8M1813 140V152.8M1813.5 140.3V152.4M1814 140.7V153M1814.5 141V153.7M1815 141.4V154.6M1815.5 141.8V151.7M1816 142.1V151.5M1816.5 142.5V152.9M1817 142.9V153.9M1817.5 143.3V152.7M1818 143.7V154.1M1818.5 144.2V238.3M1819 144.6V236.8M1819.5 145V237.3M1820 145.5V226.4M1820.5 145.9V245.6M1821 146.4V227.6M1821.5 146.8V234.3M1822 147.3V235.5M1822.5 147.8V159.9M1823 148.3V160.7M1823.5 148.7V160.9M1824 149.2V161.5M1824.5 149.7V160M1825 150.2V161.6M1825.5 150.7V163.3M1826 151.3V163.7M1826.5 151.8V162.5M1827 152.3V163.5M1827.5 152.9V158.6M1828 153.4V159M1828.5 153.9V160.1M1829 154.5V160.1M1829.5 155V160.9M1830 155.6V161.5M1830.5 156.2V162.8M1831 156.8V162.7M1831.5 157.3V181.4M1832 157.9V185.6M1832.5 158.5V177.3M1833 159.1V174.9M1833.5 159.7V175.8M1834 160.3V176.4M1834.5 160.9V191.6M1835 161.5V194.7M1835.5 162.2V196.7M1836 162.8V191.6M1836.5 163.4V171.6M1837 164V172.6M1837.5 164.7V173.4M1838 165.3V173.9M1838.5 166V174.4M1839 166.6V174.8M1839.5 167.3V178M1840 168V179.1M1840.5 168.6V180.1M1841 169.3V180.4M1841.5 170V182.4M1842 170.7V181.6M1842.5 171.3V181.1M1843 172V182.4M1843.5 172.7V182.8M1844 173.4V184M1844.5 174.1V183.4M1845 174.8V204.6M1845.5 175.5V204.9M1846 176.3V209.8M1846.5 177V206M1847 177.7V188.8M1847.5 178.4V188.5M1848 179.2V202.9M1848.5 179.9V202.4M1849 180.7V190.4M1849.5 181.4V191.8M1850 182.1V192.4M1850.5 182.9V193.7M1851 183.7V194.4M1851.5 184.4V194.5M1852 185.2V195.8M1852.5 186V196.5M1853 186.7V199.6M1853.5 187.5V200.6M1854 188.3V200.6M1854.5 189.1V200.5M1856 194V211.7M1856.5 194V210.4M1857 194.1V209.9M1857.5 194.3V211.4M1858 194.5V211.9M1858.5 194.7V215M1859 194.9V215.6M1859.5 195.2V215.9M1860 195.6V217M1860.5 196V217.7M1861 196.4V218.4M1861.5 196.8V221.1M1862 197.3V220.1M1862.5 197.8V210.7M1863 198.3V213M1863.5 198.9V212.1M1864 199.5V214.6M1864.5 200.1V235.1M1865 200.8V239.6M1865.5 201.5V233.2M1866 202.2V234.2M1866.5 203V239M1867 203.8V239.3M1867.5 204.6V219.9M1868 205.4V220.7M1868.5 206.3V222.1M1869 207.2V222M1869.5 208.1V222.9M1870 209.1V224.6M1870.5 210.1V216.9M1871 211.1V218.2M1871.5 212.1V219.4M1872 213.2V220.7M1872.5 214.3V221.6M1873 215.4V223.3M1873.5 216.6V224.7M1874 217.7V225.3M1874.5 218.9V226.7M1875 220.2V228M1875.5 221.4V231M1876 222.7V231.7M1876.5 224V236.2M1877 225.3V236.5M1877.5 226.7V240M1878 228.1V243.5M1878.5 229.5V243.4M1879 230.9V243.7M1879.5 232.3V246.8M1880 233.8V277.6M1880.5 235.3V283.1M1881 236.9V253.5M1881.5 238.4V253.3M1882 240V253.9M1882.5 195.4V211.3M1883 195.4V210.3M1883.5 195.4V216.7M1884 195.5V218.8M1884.5 195.5V216.5M1885 195.6V218.5M1885.5 195.7V218.5M1886 195.8V216.2M1886.5 196V216.6M1887 196.1V221.2M1887.5 196.3V218.5M1888 196.5V218.4M1888.5 196.8V222.8M1889 197V220.6M1889.5 197.3V223M1890 197.6V209.1M1890.5 198V209.7M1891 198.4V208M1891.5 198.7V208.7M1892 199.2V211.2M1892.5 199.6V212.6M1893 200.1V211.7M1893.5 200.6V212.7M1894 201.1V212.3M1894.5 201.7V212.3M1895 202.3V222.5M1895.5 202.9V221M1896 203.6V222.9M1896.5 204.3V225.1M1897 205V223.8M1897.5 205.7V226.5M1898 206.5V231.2M1898.5 207.3V231.9M1899 208.1V234.5M1899.5 209V225.8M1900 209.9V226M1900.5 210.8V228M1901 211.7V227.1M1901.5 212.7V229.2M1902 213.8V231.3M1902.5 214.8V232.7M1903 215.9V234.2M1903.5 217V235.1M1904 218.2V235.4M1904.5 219.3V239.3M1905 220.5V236.8M1905.5 221.8V239.4M1906 223.1V241.6M1906.5 224.4V242M1907 225.7V256.4M1907.5 227.1V260.4M1908 228.5V259.4M1908.5 230V264.9M1909 231.4V261.1M1909.5 233V246.6M1910 234.5V250M1910.5 236.1V250.1M1911 237.7V253.8M1911.5 239.3V254.4M1912 241V257.3M1912.5 242.7V261.5M1913 244.5V262.9M1913.5 246.3V262.4M1914 248.1V274.6M1914.5 250V275.9M1915 251.9V276.3M1915.5 253.8V278.7M1916 255.8V279M1916.5 257.8V281.5M1917 259.8V287.3M1917.5 261.9V286.4M1918 264V290.4M1918.5 266.1V289.4M1919 268.3V298.5M1919.5 270.5V304.5M1920 272.8V302.2M1920.5 275V305.9M1921 277.4V312M1921.5 279.7V311.4M1922 282.1V321.3M1922.5 284.6V323.6M1923 287V320.2M1923.5 289.5V323.9M1924 292.1V322.2M1924.5 294.7V319.4M1925 297.3V313.4M1925.5 299.9V317.1M1926 302.6V318.1M1926.5 305.4V320.6M1927 308.1V326.3M1927.5 310.9V328.5M1928 313.8V331.2M1928.5 316.7V331.6M1929 319.6V336.9M1929.5 322.5V342.3M1930 325.5V348.2M1930.5 328.6V350M1931 331.6V353.7M1931.5 334.7V354.7M1932 337.9V358.7M1932.5 341.1V363M1933 344.3V361.7M1933.5 347.6V365.9M1934 350.9V369.1M1934.5 354.2V371.4M1935 357.6V369.7M1935.5 361V371.6M1936 364.4V376.8M1936.5 367.9V379.9M1937 371.5V381.8M1937.5 375V386.9M1938 378.7V389.7M1938.5 382.3V394.3M1939 386V405.4M1939.5 389.7V407.1M1940 393.5V410.5M1940.5 397.3V414.9M1941 401.2V419.5M1941.5 405.1V424M1942 409V427.1M1942.5 412.9V430.6M1943 417V435.3M1943.5 421V437.5M1944 425.1V448M1944.5 429.2V448M1945 433.4V448M1945.5 437.6V448M1946 441.8V448M1946.5 446.1V448M1948 51.5V95.1M1948.5 51.5V98.4M1949 51.6V99M1949.5 51.6V96.8M1950 51.7V98.1M1950.5 51.8V96.3M1951 51.9V102.5M1951.5 52V102.2M1952 52.1V97.7M1952.5 52.2V97.8M1953 52.4V88.6M1953.5 52.5V84.4M1954 52.6V89M1954.5 52.8V88.2M1955 52.9V85.7M1955.5 53.1V88.8M1956 53.2V116.9M1956.5 53.4V116.1M1957 53.6V101.6M1957.5 53.7V94.9M1958 53.9V99.9M1958.5 54.1V95.5M1959 54.3V104.5M1959.5 54.5V100M1960 54.7V102.6M1960.5 54.9V104.4M1961 55.1V103.4M1961.5 55.3V88.6M1962 55.5V85.5M1962.5 55.7V87.4M1963 55.9V111.6M1963.5 56.1V111.1M1964 56.4V108.3M1964.5 56.6V112.9M1965 56.8V85M1965.5 57.1V86M1966 57.3V83.9M1966.5 57.6V89.1M1967 57.8V89.8M1967.5 58.1V86.5M1968 58.3V86M1968.5 58.6V89.2M1969 58.8V90.9M1969.5 59.1V91.7M1970 59.4V110.1M1970.5 59.6V107.7M1971 59.9V110.9M1971.5 60.2V94.2M1972 60.5V98.1M1972.5 60.7V93.8M1973 61V92.5M1973.5 61.3V150.7M1974 61.6V143.9M1974.5 61.9V147.5M1975 62.2V152M1975.5 62.5V158.6M1976 62.8V164.3M1976.5 63.1V92.1M1977 63.4V94.4M1977.5 63.7V98.3M1978 64V92.5M1978.5 64.3V92.5M1979 64.6V95.6M1979.5 65V161.4M1980 65.3V155.3M1980.5 65.6V148.3M1981 65.9V111.6M1981.5 66.3V113M1982 66.6V106.3M1982.5 66.9V103.3M1983 67.3V110.9M1983.5 67.6V110M1984 67.9V109.4M1984.5 68.3V108.9M1985 68.6V109.9M1985.5 69V110M1986 69.3V170.2M1986.5 69.7V170.3M1987 70V163.7M1987.5 70.4V167.9M1988 70.8V153.1M1988.5 71.1V119.5M1989 71.5V119.3M1989.5 71.9V122.8M1990 72.2V117.5M1990.5 72.6V125.9M1991 73V122.6M1991.5 73.3V124.1M1992 73.7V126.8M1992.5 74.1V120.5M1993 74.5V118M1993.5 74.9V120.4M1994 75.3V105.2M1994.5 75.6V105.3M1995 76V110.9M1995.5 76.4V105.9M1996 76.8V110.2M1996.5 77.2V118.8M1997 77.6V116.7M1997.5 78V119.3M1998 78.4V125.7M1998.5 78.8V127.8M1999 79.2V124.8M1999.5 79.6V128.1M2000 80V126.7M2000.5 80.5V128.4M2001 80.9V136.8M2001.5 81.3V129.7M2002 81.7V140.4M2002.5 82.1V124.8M2003 82.6V129.2M2003.5 83V122.3M2004 83.4V125.4M2004.5 83.8V122.3M2005 84.3V125.3M2005.5 84.7V128.1M2006 85.1V126.5M2006.5 85.6V109.8M2007 86V110.8" stroke="#000" stroke-width="1.25" fill="none"/>
<path d="M1282 45.2V125M1300 48V117M1272 43.4V95M1290 46.5V110M1325 56.5V147M1340 55.6V143M1350 88.6V212M1375 73.4V190.6M1385 62.1V129M1398 57.8V143M1408 80.1V148M1437 96.8V187M1450 63.5V146M1467 83.9V193M1505 106.3V204M1520 168V240M1544 78.8V188M1555 63.5V245M1584 94V166M1592.6 116.6V168M1604.7 160.1V171M1614 72.6V193M1627.7 75.6V224.5M1642 80.3V130M1654 85.3V135M1669.6 93V288.6M1686.5 106.1V258M1703.5 132.6V254.7M1712 103.2V234M1718.7 116.8V253.5M1762.8 118.5V234M1772 123.8V161.5M1802.7 136.8V286M1813.6 140.4V187M1827 152.3V217M1847 177.7V213.6M1868 205.4V392.6M1880 233.8V363.6M1891 198.4V262M1903 215.9V264M1909 231.4V287M1920 272.8V352.7M1929.7 323.7V374.5M1939 386V392.6M1946.6 447V447M1949 51.6V120M1954 52.6V127.7M1963.6 56.2V119M1978 64V123M1987.8 70.6V121.6M2002 81.7V167.6M2006 85.1V115.6M1264 41.7V90M1268 42.6V100M1277 44.3V88M1294 47.1V96M1305 48.8V100M1312 49.8V108M1330 67.6V118M1345 67V115M1357 60.1V112M1363 51.8V125M1392 54.2V120M1418 57.8V128M1426 66.5V138M1444 60.8V130M1456 68.5V160M1462 75.8V150M1480 62.4V150M1488 69.4V170M1495 80.7V180M1512 131.4V190M1528 63.5V150M1535 67.6V160M1548 86.1V170M1563 65.7V140M1570 71.2V150M1576 79V160M1598 134.3V175M1620 73.7V160M1633 77.1V120M1648 82.7V125M1660 88.1V140M1678 99.2V200M1693 114.4V230M1698 122.3V190M1726 98.7V140M1733 101.5V150M1740 105V130M1747 109V145M1754 113.5V160M1782 130.4V180M1790 134.5V200M1795 135.4V230M1820 145.5V200M1835 161.5V190M1841 169.3V230M1852 185.2V250M1860 195.6V300M1874 217.7V340M1895 202.3V280M1915 251.9V320M1925 297.3V340M1935 357.6V380M1942 409V420M1958 53.9V110M1970 59.4V115M1983 67.3V118M1993 74.5V130M1998 78.4V150" stroke="#000" stroke-width="2.2" fill="none"/>
<path d="M1260 40.5 L1262.8 41.4 L1265.7 42.1 L1268.5 42.7 L1271.4 43.3 L1274.2 43.8 L1277.1 44.3 L1280 44.8 L1282.8 45.3 L1285.7 45.8 L1288.5 46.2 L1291.3 46.7 L1294.2 47.1 L1297 47.6 L1299.9 48 L1302.8 48.4 L1305.6 48.9 L1308.5 49.3 L1311.3 49.7 L1314.2 50.1 L1317 50.5" fill="none" stroke="#000" stroke-width="2.4" />
<path d="M1317 51.5 L1317.8 51.5 L1318.5 51.6 L1319.3 51.8 L1320.1 52 L1320.9 52.4 L1321.7 52.9 L1322.4 53.5 L1323.2 54.2 L1324 55.1 L1324.8 56.1 L1325.5 57.3 L1326.3 58.7 L1327.1 60.2 L1327.8 61.9 L1328.6 63.8 L1329.4 65.8 L1330.2 68.1 L1331 70.5 L1331.7 73.2 L1332.5 76" fill="none" stroke="#000" stroke-width="2.4" />
<path d="M1332.5 51.5 L1333.4 51.5 L1334.3 51.6 L1335.2 51.8 L1336.1 52.1 L1337 52.6 L1337.9 53.3 L1338.8 54.1 L1339.7 55.2 L1340.6 56.6 L1341.5 58.2 L1342.5 60.1 L1343.4 62.2 L1344.3 64.7 L1345.2 67.5 L1346.1 70.7 L1347 74.2 L1347.9 78 L1348.8 82.3 L1349.7 86.9 L1350.6 92" fill="none" stroke="#000" stroke-width="2.4" />
<path d="M1350.6 51.5 L1351.1 51.5 L1351.6 51.6 L1352.1 51.8 L1352.5 52.1 L1353 52.5 L1353.5 53 L1354 53.6 L1354.5 54.4 L1355 55.2 L1355.4 56.2 L1355.9 57.3 L1356.4 58.5 L1356.9 59.8 L1357.4 61.3 L1357.9 62.9 L1358.4 64.7 L1358.8 66.5 L1359.3 68.6 L1359.8 70.7 L1360.3 73" fill="none" stroke="#000" stroke-width="2.4" />
<path d="M1360.3 51.5 L1361.1 51.5 L1362 51.6 L1362.8 51.8 L1363.7 52.1 L1364.5 52.5 L1365.4 53.1 L1366.2 53.8 L1367.1 54.7 L1368 55.8 L1368.8 57.1 L1369.6 58.6 L1370.5 60.3 L1371.3 62.2 L1372.2 64.4 L1373 66.8 L1373.9 69.5 L1374.8 72.5 L1375.6 75.7 L1376.5 79.2 L1377.3 83" fill="none" stroke="#000" stroke-width="2.4" />
<path d="M1377.3 52.7 L1377.9 52.7 L1378.5 52.9 L1379.1 53.1 L1379.7 53.4 L1380.3 53.9 L1380.9 54.5 L1381.5 55.2 L1382.1 56.1 L1382.7 57.1 L1383.3 58.2 L1384 59.5 L1384.6 60.9 L1385.2 62.5 L1385.8 64.2 L1386.4 66.1 L1387 68.2 L1387.6 70.4 L1388.2 72.8 L1388.8 75.3 L1389.4 78" fill="none" stroke="#000" stroke-width="2.4" />
<path d="M1389.4 54 L1390.5 54 L1391.6 54.1 L1392.6 54.3 L1393.7 54.7 L1394.8 55.2 L1395.9 55.9 L1397 56.8 L1398 57.8 L1399.1 59.2 L1400.2 60.7 L1401.3 62.5 L1402.4 64.6 L1403.4 66.9 L1404.5 69.6 L1405.6 72.5 L1406.7 75.8 L1407.8 79.3 L1408.8 83.2 L1409.9 87.4 L1411 92" fill="none" stroke="#000" stroke-width="2.4" />
<line x1="1389.4" y1="51.5" x2="1389.4" y2="54" stroke="#000" stroke-width="1.5" />
<path d="M1411 56.3 L1412.3 56.3 L1413.7 56.4 L1415 56.7 L1416.4 57.1 L1417.7 57.7 L1419 58.5 L1420.4 59.5 L1421.7 60.7 L1423.1 62.2 L1424.4 64 L1425.7 66.1 L1427.1 68.5 L1428.4 71.2 L1429.8 74.2 L1431.1 77.6 L1432.4 81.3 L1433.8 85.4 L1435.1 89.9 L1436.5 94.7 L1437.8 100" fill="none" stroke="#000" stroke-width="2.4" />
<line x1="1411" y1="51.5" x2="1411" y2="56.3" stroke="#000" stroke-width="1.5" />
<path d="M1437.8 60 L1439.5 60 L1441.2 60.2 L1442.9 60.5 L1444.6 61 L1446.2 61.6 L1447.9 62.3 L1449.6 63.3 L1451.3 64.4 L1453 65.7 L1454.7 67.2 L1456.4 68.9 L1458.1 70.7 L1459.8 72.8 L1461.5 75.1 L1463.1 77.5 L1464.8 80.2 L1466.5 83.1 L1468.2 86.2 L1469.9 89.5 L1471.6 93" fill="none" stroke="#000" stroke-width="2.4" />
<line x1="1437.8" y1="51.5" x2="1437.8" y2="60" stroke="#000" stroke-width="1.5" />
<path d="M1471.6 60.5 L1474 60.6 L1476.4 61 L1478.9 61.9 L1481.3 63.2 L1483.7 64.9 L1486.1 67.2 L1488.5 70.1 L1491 73.6 L1493.4 77.6 L1495.8 82.3 L1498.2 87.7 L1500.6 93.7 L1503.1 100.4 L1505.5 107.8 L1507.9 116 L1510.3 124.8 L1512.7 134.5 L1515.2 144.9 L1517.6 156 L1520 168" fill="none" stroke="#000" stroke-width="2.4" />
<path d="M1520 62.3 L1521.7 62.3 L1523.4 62.5 L1525.1 62.7 L1526.8 63.1 L1528.5 63.7 L1530.2 64.4 L1531.9 65.3 L1533.6 66.5 L1535.3 67.8 L1537 69.4 L1538.6 71.3 L1540.3 73.4 L1542 75.7 L1543.7 78.3 L1545.4 81.2 L1547.1 84.4 L1548.8 87.8 L1550.5 91.6 L1552.2 95.6 L1553.9 100" fill="none" stroke="#000" stroke-width="2.4" />
<line x1="1520" y1="60" x2="1520" y2="62.3" stroke="#000" stroke-width="1.5" />
<path d="M1553.9 63.5 L1556.6 63.6 L1559.2 64.2 L1561.9 65.1 L1564.5 66.6 L1567.2 68.5 L1569.8 71 L1572.5 74.1 L1575.1 77.7 L1577.8 81.9 L1580.5 86.7 L1583.1 92.1 L1585.8 98.1 L1588.4 104.8 L1591.1 112.1 L1593.7 120.1 L1596.4 128.7 L1599 138 L1601.7 148 L1604.3 158.6 L1607 170" fill="none" stroke="#000" stroke-width="2.4" />
<line x1="1553.9" y1="51.5" x2="1553.9" y2="63.5" stroke="#000" stroke-width="1.5" />
<path d="M1607 72 L1610.1 72.2 L1613.3 72.5 L1616.4 73 L1619.5 73.6 L1622.7 74.3 L1625.8 75.1 L1628.9 75.9 L1632 76.8 L1635.2 77.9 L1638.3 78.9 L1641.4 80.1 L1644.6 81.3 L1647.7 82.5 L1650.8 83.9 L1653.9 85.3 L1657.1 86.7 L1660.2 88.2 L1663.3 89.7 L1666.5 91.3 L1669.6 93" fill="none" stroke="#000" stroke-width="2.4" />
<path d="M1672 97.4 L1673.8 97.6 L1675.5 98.1 L1677.2 98.8 L1679 99.8 L1680.8 100.9 L1682.5 102.3 L1684.2 103.8 L1686 105.6 L1687.8 107.5 L1689.5 109.6 L1691.2 111.9 L1693 114.4 L1694.8 117 L1696.5 119.8 L1698.2 122.8 L1700 125.9 L1701.8 129.2 L1703.5 132.6 L1705.2 136.2 L1707 140" fill="none" stroke="#000" stroke-width="2.4" />
<path d="M1707 98 L1707.7 98.2 L1708.3 98.7 L1709 99.3 L1709.6 100 L1710.2 100.8 L1710.9 101.6 L1711.5 102.6 L1712.2 103.6 L1712.8 104.6 L1713.5 105.8 L1714.2 107 L1714.8 108.2 L1715.5 109.5 L1716.1 110.9 L1716.8 112.3 L1717.4 113.7 L1718 115.2 L1718.7 116.8 L1719.3 118.4 L1720 120" fill="none" stroke="#000" stroke-width="2.4" />
<path d="M1720.4 97.4 L1722.3 97.7 L1724.3 98.2 L1726.2 98.8 L1728.1 99.5 L1730.1 100.2 L1732 101 L1733.9 101.9 L1735.8 102.8 L1737.8 103.8 L1739.7 104.8 L1741.6 105.9 L1743.6 107 L1745.5 108.1 L1747.4 109.3 L1749.3 110.5 L1751.3 111.7 L1753.2 113 L1755.1 114.3 L1757.1 115.6 L1759 117" fill="none" stroke="#000" stroke-width="2.4" />
<path d="M1759 117 L1760.4 117.5 L1761.8 118.1 L1763.2 118.7 L1764.6 119.5 L1766 120.2 L1767.4 121 L1768.8 121.8 L1770.2 122.7 L1771.6 123.5 L1773 124.4 L1774.4 125.3 L1775.8 126.2 L1777.2 127.1 L1778.6 128.1 L1780 129 L1781.4 130 L1782.8 131 L1784.2 132 L1785.6 133 L1787 134" fill="none" stroke="#000" stroke-width="2.4" />
<path d="M1787 134 L1787.8 134.2 L1788.7 134.3 L1789.5 134.4 L1790.4 134.6 L1791.2 134.8 L1792.1 134.9 L1793 135.1 L1793.8 135.2 L1794.7 135.3 L1795.5 135.5 L1796.3 135.7 L1797.2 135.8 L1798 135.9 L1798.9 136.1 L1799.8 136.2 L1800.6 136.4 L1801.5 136.6 L1802.3 136.7 L1803.2 136.8 L1804 137" fill="none" stroke="#000" stroke-width="2.4" />
<path d="M1804 136 L1806.5 136.6 L1809.1 137.7 L1811.6 139.1 L1814.1 140.8 L1816.7 142.7 L1819.2 144.8 L1821.7 147.1 L1824.3 149.5 L1826.8 152.1 L1829.3 154.9 L1831.9 157.8 L1834.4 160.8 L1837 164 L1839.5 167.3 L1842 170.7 L1844.6 174.2 L1847.1 177.8 L1849.6 181.6 L1852.2 185.4 L1854.7 189.4" fill="none" stroke="#000" stroke-width="2.4" />
<path d="M1856 194 L1857.3 194.2 L1858.6 194.7 L1859.9 195.5 L1861.2 196.5 L1862.5 197.8 L1863.8 199.3 L1865.1 201 L1866.4 202.8 L1867.7 204.9 L1869 207.2 L1870.3 209.7 L1871.6 212.3 L1872.9 215.2 L1874.2 218.2 L1875.5 221.4 L1876.8 224.8 L1878.1 228.3 L1879.4 232.1 L1880.7 235.9 L1882 240" fill="none" stroke="#000" stroke-width="2.4" />
<path d="M1882.5 195.4 L1885.7 195.7 L1888.9 197 L1892.1 199.3 L1895.3 202.7 L1898.5 207.3 L1901.7 213.2 L1904.9 220.4 L1908.1 228.9 L1911.3 238.8 L1914.5 250.2 L1917.8 262.9 L1921 277.2 L1924.2 292.9 L1927.4 310.2 L1930.6 329 L1933.8 349.4 L1937 371.4 L1940.2 394.9 L1943.4 420.2 L1946.6 447" fill="none" stroke="#000" stroke-width="2.4" />
<path d="M1948 51.5 L1951 51.9 L1953.9 52.6 L1956.8 53.5 L1959.8 54.6 L1962.8 55.8 L1965.7 57.2 L1968.7 58.6 L1971.6 60.2 L1974.5 61.9 L1977.5 63.7 L1980.5 65.6 L1983.4 67.5 L1986.3 69.6 L1989.3 71.7 L1992.2 73.9 L1995.2 76.2 L1998.2 78.5 L2001.1 81 L2004 83.4 L2007 86" fill="none" stroke="#000" stroke-width="2.4" />
<line x1="1318" y1="51.5" x2="1950" y2="51.5" stroke="#000" stroke-width="2.2" />
<line x1="1430" y1="60" x2="1520" y2="60" stroke="#000" stroke-width="1.6" />
<line x1="1669.6" y1="95" x2="1720.4" y2="95" stroke="#000" stroke-width="1.6" />
<line x1="1856" y1="194" x2="1884" y2="194" stroke="#000" stroke-width="1.6" />
<line x1="1990" y1="84" x2="2005" y2="84" stroke="#000" stroke-width="1.6" />
<line x1="2005" y1="84" x2="2005" y2="115" stroke="#000" stroke-width="1.6" />
<path d="M1274.8 101.7h1.6M1274.8 114.1h1.6M1274.8 126.6h1.6M1274.8 139.1h1.6M1274.8 151.6h1.6M1274.8 164.1h1.6M1274.8 176.5h1.6M1274.8 189h1.6M1274.8 201.5h1.6M1274.8 214h1.6M1274.8 226.5h1.6M1274.8 238.9h1.6M1274.8 251.4h1.6M1274.8 263.9h1.6M1274.8 276.4h1.6M1274.8 288.9h1.6M1274.8 301.3h1.6M1274.8 313.8h1.6M1274.8 326.3h1.6M1274.8 338.8h1.6M1274.8 351.3h1.6M1274.8 363.7h1.6M1274.8 376.2h1.6M1274.8 388.7h1.6M1274.8 401.2h1.6M1274.8 413.7h1.6M1274.8 426.1h1.6M1274.8 438.6h1.6M1274.8 451.1h1.6M1274.8 463.6h1.6M1274.8 476.1h1.6M1289.7 114.1h1.6M1289.7 126.6h1.6M1289.7 139.1h1.6M1289.7 151.6h1.6M1289.7 164.1h1.6M1289.7 176.5h1.6M1289.7 189h1.6M1289.7 201.5h1.6M1289.7 214h1.6M1289.7 226.5h1.6M1289.7 238.9h1.6M1289.7 251.4h1.6M1289.7 263.9h1.6M1289.7 276.4h1.6M1289.7 288.9h1.6M1289.7 301.3h1.6M1289.7 313.8h1.6M1289.7 326.3h1.6M1289.7 338.8h1.6M1289.7 351.3h1.6M1289.7 363.7h1.6M1289.7 376.2h1.6M1289.7 388.7h1.6M1289.7 401.2h1.6M1289.7 413.7h1.6M1289.7 426.1h1.6M1289.7 438.6h1.6M1289.7 451.1h1.6M1289.7 463.6h1.6M1289.7 476.1h1.6M1304.6 114.1h1.6M1304.6 126.6h1.6M1304.6 139.1h1.6M1304.6 151.6h1.6M1304.6 164.1h1.6M1304.6 176.5h1.6M1304.6 189h1.6M1304.6 201.5h1.6M1304.6 214h1.6M1304.6 226.5h1.6M1304.6 238.9h1.6M1304.6 251.4h1.6M1304.6 263.9h1.6M1304.6 276.4h1.6M1304.6 288.9h1.6M1304.6 301.3h1.6M1304.6 313.8h1.6M1304.6 326.3h1.6M1304.6 338.8h1.6M1304.6 351.3h1.6M1304.6 363.7h1.6M1304.6 376.2h1.6M1304.6 388.7h1.6M1304.6 401.2h1.6M1304.6 413.7h1.6M1304.6 426.1h1.6M1304.6 438.6h1.6M1304.6 451.1h1.6M1304.6 463.6h1.6M1304.6 476.1h1.6M1319.5 164.1h1.6M1319.5 176.5h1.6M1319.5 189h1.6M1319.5 201.5h1.6M1319.5 214h1.6M1319.5 226.5h1.6M1319.5 238.9h1.6M1319.5 251.4h1.6M1319.5 263.9h1.6M1319.5 276.4h1.6M1319.5 288.9h1.6M1319.5 301.3h1.6M1319.5 313.8h1.6M1319.5 326.3h1.6M1319.5 338.8h1.6M1319.5 351.3h1.6M1319.5 363.7h1.6M1319.5 376.2h1.6M1319.5 388.7h1.6M1319.5 401.2h1.6M1319.5 413.7h1.6M1319.5 426.1h1.6M1319.5 438.6h1.6M1319.5 451.1h1.6M1319.5 463.6h1.6M1319.5 476.1h1.6M1334.4 114.1h1.6M1334.4 126.6h1.6M1334.4 139.1h1.6M1334.4 151.6h1.6M1334.4 164.1h1.6M1334.4 176.5h1.6M1334.4 189h1.6M1334.4 201.5h1.6M1334.4 214h1.6M1334.4 226.5h1.6M1334.4 238.9h1.6M1334.4 251.4h1.6M1334.4 263.9h1.6M1334.4 276.4h1.6M1334.4 288.9h1.6M1334.4 301.3h1.6M1334.4 313.8h1.6M1334.4 326.3h1.6M1334.4 338.8h1.6M1334.4 351.3h1.6M1334.4 363.7h1.6M1334.4 376.2h1.6M1334.4 388.7h1.6M1334.4 401.2h1.6M1334.4 413.7h1.6M1334.4 426.1h1.6M1334.4 438.6h1.6M1334.4 451.1h1.6M1334.4 463.6h1.6M1334.4 476.1h1.6M1349.3 226.5h1.6M1349.3 238.9h1.6M1349.3 251.4h1.6M1349.3 263.9h1.6M1349.3 276.4h1.6M1349.3 288.9h1.6M1349.3 301.3h1.6M1349.3 313.8h1.6M1349.3 326.3h1.6M1349.3 338.8h1.6M1349.3 351.3h1.6M1349.3 363.7h1.6M1349.3 376.2h1.6M1349.3 388.7h1.6M1349.3 401.2h1.6M1349.3 413.7h1.6M1349.3 426.1h1.6M1349.3 438.6h1.6M1349.3 451.1h1.6M1349.3 463.6h1.6M1349.3 476.1h1.6M1364.3 139.1h1.6M1364.3 151.6h1.6M1364.3 164.1h1.6M1364.3 176.5h1.6M1364.3 189h1.6M1364.3 201.5h1.6M1364.3 214h1.6M1364.3 226.5h1.6M1364.3 238.9h1.6M1364.3 251.4h1.6M1364.3 263.9h1.6M1364.3 276.4h1.6M1364.3 288.9h1.6M1364.3 301.3h1.6M1364.3 313.8h1.6M1364.3 326.3h1.6M1364.3 338.8h1.6M1364.3 351.3h1.6M1364.3 363.7h1.6M1364.3 376.2h1.6M1364.3 388.7h1.6M1364.3 401.2h1.6M1364.3 413.7h1.6M1364.3 426.1h1.6M1364.3 438.6h1.6M1364.3 451.1h1.6M1364.3 463.6h1.6M1364.3 476.1h1.6M1379.2 89.2h1.6M1379.2 101.7h1.6M1379.2 114.1h1.6M1379.2 126.6h1.6M1379.2 139.1h1.6M1379.2 151.6h1.6M1379.2 164.1h1.6M1379.2 176.5h1.6M1379.2 189h1.6M1379.2 201.5h1.6M1379.2 214h1.6M1379.2 226.5h1.6M1379.2 238.9h1.6M1379.2 251.4h1.6M1379.2 263.9h1.6M1379.2 276.4h1.6M1379.2 288.9h1.6M1379.2 301.3h1.6M1379.2 313.8h1.6M1379.2 326.3h1.6M1379.2 338.8h1.6M1379.2 351.3h1.6M1379.2 363.7h1.6M1379.2 376.2h1.6M1379.2 388.7h1.6M1379.2 401.2h1.6M1379.2 413.7h1.6M1379.2 426.1h1.6M1379.2 438.6h1.6M1379.2 451.1h1.6M1379.2 463.6h1.6M1379.2 476.1h1.6M1394.1 114.1h1.6M1394.1 126.6h1.6M1394.1 139.1h1.6M1394.1 151.6h1.6M1394.1 164.1h1.6M1394.1 176.5h1.6M1394.1 189h1.6M1394.1 201.5h1.6M1394.1 214h1.6M1394.1 226.5h1.6M1394.1 238.9h1.6M1394.1 251.4h1.6M1394.1 263.9h1.6M1394.1 276.4h1.6M1394.1 288.9h1.6M1394.1 301.3h1.6M1394.1 313.8h1.6M1394.1 326.3h1.6M1394.1 338.8h1.6M1394.1 351.3h1.6M1394.1 363.7h1.6M1394.1 376.2h1.6M1394.1 388.7h1.6M1394.1 401.2h1.6M1394.1 413.7h1.6M1394.1 426.1h1.6M1394.1 438.6h1.6M1394.1 451.1h1.6M1394.1 463.6h1.6M1394.1 476.1h1.6M1409 164.1h1.6M1409 176.5h1.6M1409 189h1.6M1409 201.5h1.6M1409 214h1.6M1409 226.5h1.6M1409 238.9h1.6M1409 251.4h1.6M1409 263.9h1.6M1409 276.4h1.6M1409 288.9h1.6M1409 301.3h1.6M1409 313.8h1.6M1409 326.3h1.6M1409 338.8h1.6M1409 351.3h1.6M1409 363.7h1.6M1409 376.2h1.6M1409 388.7h1.6M1409 401.2h1.6M1409 413.7h1.6M1409 426.1h1.6M1409 438.6h1.6M1409 451.1h1.6M1409 463.6h1.6M1409 476.1h1.6M1423.9 151.6h1.6M1423.9 164.1h1.6M1423.9 176.5h1.6M1423.9 189h1.6M1423.9 201.5h1.6M1423.9 214h1.6M1423.9 226.5h1.6M1423.9 238.9h1.6M1423.9 251.4h1.6M1423.9 263.9h1.6M1423.9 276.4h1.6M1423.9 288.9h1.6M1423.9 301.3h1.6M1423.9 313.8h1.6M1423.9 326.3h1.6M1423.9 338.8h1.6M1423.9 351.3h1.6M1423.9 363.7h1.6M1423.9 376.2h1.6M1423.9 388.7h1.6M1423.9 401.2h1.6M1423.9 413.7h1.6M1423.9 426.1h1.6M1423.9 438.6h1.6M1423.9 451.1h1.6M1423.9 463.6h1.6M1423.9 476.1h1.6M1438.8 176.5h1.6M1438.8 189h1.6M1438.8 201.5h1.6M1438.8 214h1.6M1438.8 226.5h1.6M1438.8 238.9h1.6M1438.8 251.4h1.6M1438.8 263.9h1.6M1438.8 276.4h1.6M1438.8 288.9h1.6M1438.8 301.3h1.6M1438.8 313.8h1.6M1438.8 326.3h1.6M1438.8 338.8h1.6M1438.8 351.3h1.6M1438.8 363.7h1.6M1438.8 376.2h1.6M1438.8 388.7h1.6M1438.8 401.2h1.6M1438.8 413.7h1.6M1438.8 426.1h1.6M1438.8 438.6h1.6M1438.8 451.1h1.6M1438.8 463.6h1.6M1438.8 476.1h1.6M1453.7 164.1h1.6M1453.7 176.5h1.6M1453.7 189h1.6M1453.7 201.5h1.6M1453.7 214h1.6M1453.7 226.5h1.6M1453.7 238.9h1.6M1453.7 251.4h1.6M1453.7 263.9h1.6M1453.7 276.4h1.6M1453.7 288.9h1.6M1453.7 301.3h1.6M1453.7 313.8h1.6M1453.7 326.3h1.6M1453.7 338.8h1.6M1453.7 351.3h1.6M1453.7 363.7h1.6M1453.7 376.2h1.6M1453.7 388.7h1.6M1453.7 401.2h1.6M1453.7 413.7h1.6M1453.7 426.1h1.6M1453.7 438.6h1.6M1453.7 451.1h1.6M1453.7 463.6h1.6M1453.7 476.1h1.6M1468.6 139.1h1.6M1468.6 151.6h1.6M1468.6 164.1h1.6M1468.6 176.5h1.6M1468.6 189h1.6M1468.6 201.5h1.6M1468.6 214h1.6M1468.6 226.5h1.6M1468.6 238.9h1.6M1468.6 251.4h1.6M1468.6 263.9h1.6M1468.6 276.4h1.6M1468.6 288.9h1.6M1468.6 301.3h1.6M1468.6 313.8h1.6M1468.6 326.3h1.6M1468.6 338.8h1.6M1468.6 351.3h1.6M1468.6 363.7h1.6M1468.6 376.2h1.6M1468.6 388.7h1.6M1468.6 401.2h1.6M1468.6 413.7h1.6M1468.6 426.1h1.6M1468.6 438.6h1.6M1468.6 451.1h1.6M1468.6 463.6h1.6M1468.6 476.1h1.6M1483.5 89.2h1.6M1483.5 101.7h1.6M1483.5 114.1h1.6M1483.5 126.6h1.6M1483.5 139.1h1.6M1483.5 151.6h1.6M1483.5 164.1h1.6M1483.5 176.5h1.6M1483.5 189h1.6M1483.5 201.5h1.6M1483.5 214h1.6M1483.5 226.5h1.6M1483.5 238.9h1.6M1483.5 251.4h1.6M1483.5 263.9h1.6M1483.5 276.4h1.6M1483.5 288.9h1.6M1483.5 301.3h1.6M1483.5 313.8h1.6M1483.5 326.3h1.6M1483.5 338.8h1.6M1483.5 351.3h1.6M1483.5 363.7h1.6M1483.5 376.2h1.6M1483.5 388.7h1.6M1483.5 401.2h1.6M1483.5 413.7h1.6M1483.5 426.1h1.6M1483.5 438.6h1.6M1483.5 451.1h1.6M1483.5 463.6h1.6M1483.5 476.1h1.6M1498.5 214h1.6M1498.5 226.5h1.6M1498.5 238.9h1.6M1498.5 251.4h1.6M1498.5 263.9h1.6M1498.5 276.4h1.6M1498.5 288.9h1.6M1498.5 301.3h1.6M1498.5 313.8h1.6M1498.5 326.3h1.6M1498.5 338.8h1.6M1498.5 351.3h1.6M1498.5 363.7h1.6M1498.5 376.2h1.6M1498.5 388.7h1.6M1498.5 401.2h1.6M1498.5 413.7h1.6M1498.5 426.1h1.6M1498.5 438.6h1.6M1498.5 451.1h1.6M1498.5 463.6h1.6M1498.5 476.1h1.6M1513.4 201.5h1.6M1513.4 214h1.6M1513.4 226.5h1.6M1513.4 238.9h1.6M1513.4 251.4h1.6M1513.4 263.9h1.6M1513.4 276.4h1.6M1513.4 288.9h1.6M1513.4 301.3h1.6M1513.4 313.8h1.6M1513.4 326.3h1.6M1513.4 338.8h1.6M1513.4 351.3h1.6M1513.4 363.7h1.6M1513.4 376.2h1.6M1513.4 388.7h1.6M1513.4 401.2h1.6M1513.4 413.7h1.6M1513.4 426.1h1.6M1513.4 438.6h1.6M1513.4 451.1h1.6M1513.4 463.6h1.6M1513.4 476.1h1.6M1528.3 164.1h1.6M1528.3 176.5h1.6M1528.3 189h1.6M1528.3 201.5h1.6M1528.3 214h1.6M1528.3 226.5h1.6M1528.3 238.9h1.6M1528.3 251.4h1.6M1528.3 263.9h1.6M1528.3 276.4h1.6M1528.3 288.9h1.6M1528.3 301.3h1.6M1528.3 313.8h1.6M1528.3 326.3h1.6M1528.3 338.8h1.6M1528.3 351.3h1.6M1528.3 363.7h1.6M1528.3 376.2h1.6M1528.3 388.7h1.6M1528.3 401.2h1.6M1528.3 413.7h1.6M1528.3 426.1h1.6M1528.3 438.6h1.6M1528.3 451.1h1.6M1528.3 463.6h1.6M1528.3 476.1h1.6M1543.2 201.5h1.6M1543.2 214h1.6M1543.2 226.5h1.6M1543.2 238.9h1.6M1543.2 251.4h1.6M1543.2 263.9h1.6M1543.2 276.4h1.6M1543.2 288.9h1.6M1543.2 301.3h1.6M1543.2 313.8h1.6M1543.2 326.3h1.6M1543.2 338.8h1.6M1543.2 351.3h1.6M1543.2 363.7h1.6M1543.2 376.2h1.6M1543.2 388.7h1.6M1543.2 401.2h1.6M1543.2 413.7h1.6M1543.2 426.1h1.6M1543.2 438.6h1.6M1543.2 451.1h1.6M1543.2 463.6h1.6M1543.2 476.1h1.6M1558.1 89.2h1.6M1558.1 101.7h1.6M1558.1 114.1h1.6M1558.1 126.6h1.6M1558.1 139.1h1.6M1558.1 151.6h1.6M1558.1 164.1h1.6M1558.1 176.5h1.6M1558.1 189h1.6M1558.1 201.5h1.6M1558.1 214h1.6M1558.1 226.5h1.6M1558.1 238.9h1.6M1558.1 251.4h1.6M1558.1 263.9h1.6M1558.1 276.4h1.6M1558.1 288.9h1.6M1558.1 301.3h1.6M1558.1 313.8h1.6M1558.1 326.3h1.6M1558.1 338.8h1.6M1558.1 351.3h1.6M1558.1 363.7h1.6M1558.1 376.2h1.6M1558.1 388.7h1.6M1558.1 401.2h1.6M1558.1 413.7h1.6M1558.1 426.1h1.6M1558.1 438.6h1.6M1558.1 451.1h1.6M1558.1 463.6h1.6M1558.1 476.1h1.6M1573 189h1.6M1573 201.5h1.6M1573 214h1.6M1573 226.5h1.6M1573 238.9h1.6M1573 251.4h1.6M1573 263.9h1.6M1573 276.4h1.6M1573 288.9h1.6M1573 301.3h1.6M1573 313.8h1.6M1573 326.3h1.6M1573 338.8h1.6M1573 351.3h1.6M1573 363.7h1.6M1573 376.2h1.6M1573 388.7h1.6M1573 401.2h1.6M1573 413.7h1.6M1573 426.1h1.6M1573 438.6h1.6M1573 451.1h1.6M1573 463.6h1.6M1573 476.1h1.6M1587.9 176.5h1.6M1587.9 189h1.6M1587.9 201.5h1.6M1587.9 214h1.6M1587.9 226.5h1.6M1587.9 238.9h1.6M1587.9 251.4h1.6M1587.9 263.9h1.6M1587.9 276.4h1.6M1587.9 288.9h1.6M1587.9 301.3h1.6M1587.9 313.8h1.6M1587.9 326.3h1.6M1587.9 338.8h1.6M1587.9 351.3h1.6M1587.9 363.7h1.6M1587.9 376.2h1.6M1587.9 388.7h1.6M1587.9 401.2h1.6M1587.9 413.7h1.6M1587.9 426.1h1.6M1587.9 438.6h1.6M1587.9 451.1h1.6M1587.9 463.6h1.6M1587.9 476.1h1.6M1602.8 189h1.6M1602.8 201.5h1.6M1602.8 214h1.6M1602.8 226.5h1.6M1602.8 238.9h1.6M1602.8 251.4h1.6M1602.8 263.9h1.6M1602.8 276.4h1.6M1602.8 288.9h1.6M1602.8 301.3h1.6M1602.8 313.8h1.6M1602.8 326.3h1.6M1602.8 338.8h1.6M1602.8 351.3h1.6M1602.8 363.7h1.6M1602.8 376.2h1.6M1602.8 388.7h1.6M1602.8 401.2h1.6M1602.8 413.7h1.6M1602.8 426.1h1.6M1602.8 438.6h1.6M1602.8 451.1h1.6M1602.8 463.6h1.6M1602.8 476.1h1.6M1617.7 164.1h1.6M1617.7 176.5h1.6M1617.7 189h1.6M1617.7 201.5h1.6M1617.7 214h1.6M1617.7 226.5h1.6M1617.7 238.9h1.6M1617.7 251.4h1.6M1617.7 263.9h1.6M1617.7 276.4h1.6M1617.7 288.9h1.6M1617.7 301.3h1.6M1617.7 313.8h1.6M1617.7 326.3h1.6M1617.7 338.8h1.6M1617.7 351.3h1.6M1617.7 363.7h1.6M1617.7 376.2h1.6M1617.7 388.7h1.6M1617.7 401.2h1.6M1617.7 413.7h1.6M1617.7 426.1h1.6M1617.7 438.6h1.6M1617.7 451.1h1.6M1617.7 463.6h1.6M1617.7 476.1h1.6M1632.6 126.6h1.6M1632.6 139.1h1.6M1632.6 151.6h1.6M1632.6 164.1h1.6M1632.6 176.5h1.6M1632.6 189h1.6M1632.6 201.5h1.6M1632.6 214h1.6M1632.6 226.5h1.6M1632.6 238.9h1.6M1632.6 251.4h1.6M1632.6 263.9h1.6M1632.6 276.4h1.6M1632.6 288.9h1.6M1632.6 301.3h1.6M1632.6 313.8h1.6M1632.6 326.3h1.6M1632.6 338.8h1.6M1632.6 351.3h1.6M1632.6 363.7h1.6M1632.6 376.2h1.6M1632.6 388.7h1.6M1632.6 401.2h1.6M1632.6 413.7h1.6M1632.6 426.1h1.6M1632.6 438.6h1.6M1632.6 451.1h1.6M1632.6 463.6h1.6M1632.6 476.1h1.6M1647.5 201.5h1.6M1647.5 214h1.6M1647.5 226.5h1.6M1647.5 238.9h1.6M1647.5 251.4h1.6M1647.5 263.9h1.6M1647.5 276.4h1.6M1647.5 288.9h1.6M1647.5 301.3h1.6M1647.5 313.8h1.6M1647.5 326.3h1.6M1647.5 338.8h1.6M1647.5 351.3h1.6M1647.5 363.7h1.6M1647.5 376.2h1.6M1647.5 388.7h1.6M1647.5 401.2h1.6M1647.5 413.7h1.6M1647.5 426.1h1.6M1647.5 438.6h1.6M1647.5 451.1h1.6M1647.5 463.6h1.6M1647.5 476.1h1.6M1662.5 126.6h1.6M1662.5 139.1h1.6M1662.5 151.6h1.6M1662.5 164.1h1.6M1662.5 176.5h1.6M1662.5 189h1.6M1662.5 201.5h1.6M1662.5 214h1.6M1662.5 226.5h1.6M1662.5 238.9h1.6M1662.5 251.4h1.6M1662.5 263.9h1.6M1662.5 276.4h1.6M1662.5 288.9h1.6M1662.5 301.3h1.6M1662.5 313.8h1.6M1662.5 326.3h1.6M1662.5 338.8h1.6M1662.5 351.3h1.6M1662.5 363.7h1.6M1662.5 376.2h1.6M1662.5 388.7h1.6M1662.5 401.2h1.6M1662.5 413.7h1.6M1662.5 426.1h1.6M1662.5 438.6h1.6M1662.5 451.1h1.6M1662.5 463.6h1.6M1662.5 476.1h1.6M1677.4 214h1.6M1677.4 226.5h1.6M1677.4 238.9h1.6M1677.4 251.4h1.6M1677.4 263.9h1.6M1677.4 276.4h1.6M1677.4 288.9h1.6M1677.4 301.3h1.6M1677.4 313.8h1.6M1677.4 326.3h1.6M1677.4 338.8h1.6M1677.4 351.3h1.6M1677.4 363.7h1.6M1677.4 376.2h1.6M1677.4 388.7h1.6M1677.4 401.2h1.6M1677.4 413.7h1.6M1677.4 426.1h1.6M1677.4 438.6h1.6M1677.4 451.1h1.6M1677.4 463.6h1.6M1677.4 476.1h1.6M1692.3 238.9h1.6M1692.3 251.4h1.6M1692.3 263.9h1.6M1692.3 276.4h1.6M1692.3 288.9h1.6M1692.3 301.3h1.6M1692.3 313.8h1.6M1692.3 326.3h1.6M1692.3 338.8h1.6M1692.3 351.3h1.6M1692.3 363.7h1.6M1692.3 376.2h1.6M1692.3 388.7h1.6M1692.3 401.2h1.6M1692.3 413.7h1.6M1692.3 426.1h1.6M1692.3 438.6h1.6M1692.3 451.1h1.6M1692.3 463.6h1.6M1692.3 476.1h1.6M1707.2 176.5h1.6M1707.2 189h1.6M1707.2 201.5h1.6M1707.2 214h1.6M1707.2 226.5h1.6M1707.2 238.9h1.6M1707.2 251.4h1.6M1707.2 263.9h1.6M1707.2 276.4h1.6M1707.2 288.9h1.6M1707.2 301.3h1.6M1707.2 313.8h1.6M1707.2 326.3h1.6M1707.2 338.8h1.6M1707.2 351.3h1.6M1707.2 363.7h1.6M1707.2 376.2h1.6M1707.2 388.7h1.6M1707.2 401.2h1.6M1707.2 413.7h1.6M1707.2 426.1h1.6M1707.2 438.6h1.6M1707.2 451.1h1.6M1707.2 463.6h1.6M1707.2 476.1h1.6M1722.1 126.6h1.6M1722.1 139.1h1.6M1722.1 151.6h1.6M1722.1 164.1h1.6M1722.1 176.5h1.6M1722.1 189h1.6M1722.1 201.5h1.6M1722.1 214h1.6M1722.1 226.5h1.6M1722.1 238.9h1.6M1722.1 251.4h1.6M1722.1 263.9h1.6M1722.1 276.4h1.6M1722.1 288.9h1.6M1722.1 301.3h1.6M1722.1 313.8h1.6M1722.1 326.3h1.6M1722.1 338.8h1.6M1722.1 351.3h1.6M1722.1 363.7h1.6M1722.1 376.2h1.6M1722.1 388.7h1.6M1722.1 401.2h1.6M1722.1 413.7h1.6M1722.1 426.1h1.6M1722.1 438.6h1.6M1722.1 451.1h1.6M1722.1 463.6h1.6M1722.1 476.1h1.6M1737 139.1h1.6M1737 151.6h1.6M1737 164.1h1.6M1737 176.5h1.6M1737 189h1.6M1737 201.5h1.6M1737 214h1.6M1737 226.5h1.6M1737 238.9h1.6M1737 251.4h1.6M1737 263.9h1.6M1737 276.4h1.6M1737 288.9h1.6M1737 301.3h1.6M1737 313.8h1.6M1737 326.3h1.6M1737 338.8h1.6M1737 351.3h1.6M1737 363.7h1.6M1737 376.2h1.6M1737 388.7h1.6M1737 401.2h1.6M1737 413.7h1.6M1737 426.1h1.6M1737 438.6h1.6M1737 451.1h1.6M1737 463.6h1.6M1737 476.1h1.6M1751.9 226.5h1.6M1751.9 238.9h1.6M1751.9 251.4h1.6M1751.9 263.9h1.6M1751.9 276.4h1.6M1751.9 288.9h1.6M1751.9 301.3h1.6M1751.9 313.8h1.6M1751.9 326.3h1.6M1751.9 338.8h1.6M1751.9 351.3h1.6M1751.9 363.7h1.6M1751.9 376.2h1.6M1751.9 388.7h1.6M1751.9 401.2h1.6M1751.9 413.7h1.6M1751.9 426.1h1.6M1751.9 438.6h1.6M1751.9 451.1h1.6M1751.9 463.6h1.6M1751.9 476.1h1.6M1766.8 139.1h1.6M1766.8 151.6h1.6M1766.8 164.1h1.6M1766.8 176.5h1.6M1766.8 189h1.6M1766.8 201.5h1.6M1766.8 214h1.6M1766.8 226.5h1.6M1766.8 238.9h1.6M1766.8 251.4h1.6M1766.8 263.9h1.6M1766.8 276.4h1.6M1766.8 288.9h1.6M1766.8 301.3h1.6M1766.8 313.8h1.6M1766.8 326.3h1.6M1766.8 338.8h1.6M1766.8 351.3h1.6M1766.8 363.7h1.6M1766.8 376.2h1.6M1766.8 388.7h1.6M1766.8 401.2h1.6M1766.8 413.7h1.6M1766.8 426.1h1.6M1766.8 438.6h1.6M1766.8 451.1h1.6M1766.8 463.6h1.6M1766.8 476.1h1.6M1781.7 189h1.6M1781.7 201.5h1.6M1781.7 214h1.6M1781.7 226.5h1.6M1781.7 238.9h1.6M1781.7 251.4h1.6M1781.7 263.9h1.6M1781.7 276.4h1.6M1781.7 288.9h1.6M1781.7 301.3h1.6M1781.7 313.8h1.6M1781.7 326.3h1.6M1781.7 338.8h1.6M1781.7 351.3h1.6M1781.7 363.7h1.6M1781.7 376.2h1.6M1781.7 388.7h1.6M1781.7 401.2h1.6M1781.7 413.7h1.6M1781.7 426.1h1.6M1781.7 438.6h1.6M1781.7 451.1h1.6M1781.7 463.6h1.6M1781.7 476.1h1.6M1796.6 151.6h1.6M1796.6 164.1h1.6M1796.6 176.5h1.6M1796.6 189h1.6M1796.6 201.5h1.6M1796.6 214h1.6M1796.6 226.5h1.6M1796.6 238.9h1.6M1796.6 251.4h1.6M1796.6 263.9h1.6M1796.6 276.4h1.6M1796.6 288.9h1.6M1796.6 301.3h1.6M1796.6 313.8h1.6M1796.6 326.3h1.6M1796.6 338.8h1.6M1796.6 351.3h1.6M1796.6 363.7h1.6M1796.6 376.2h1.6M1796.6 388.7h1.6M1796.6 401.2h1.6M1796.6 413.7h1.6M1796.6 426.1h1.6M1796.6 438.6h1.6M1796.6 451.1h1.6M1796.6 463.6h1.6M1796.6 476.1h1.6M1811.6 201.5h1.6M1811.6 214h1.6M1811.6 226.5h1.6M1811.6 238.9h1.6M1811.6 251.4h1.6M1811.6 263.9h1.6M1811.6 276.4h1.6M1811.6 288.9h1.6M1811.6 301.3h1.6M1811.6 313.8h1.6M1811.6 326.3h1.6M1811.6 338.8h1.6M1811.6 351.3h1.6M1811.6 363.7h1.6M1811.6 376.2h1.6M1811.6 388.7h1.6M1811.6 401.2h1.6M1811.6 413.7h1.6M1811.6 426.1h1.6M1811.6 438.6h1.6M1811.6 451.1h1.6M1811.6 463.6h1.6M1811.6 476.1h1.6M1826.5 226.5h1.6M1826.5 238.9h1.6M1826.5 251.4h1.6M1826.5 263.9h1.6M1826.5 276.4h1.6M1826.5 288.9h1.6M1826.5 301.3h1.6M1826.5 313.8h1.6M1826.5 326.3h1.6M1826.5 338.8h1.6M1826.5 351.3h1.6M1826.5 363.7h1.6M1826.5 376.2h1.6M1826.5 388.7h1.6M1826.5 401.2h1.6M1826.5 413.7h1.6M1826.5 426.1h1.6M1826.5 438.6h1.6M1826.5 451.1h1.6M1826.5 463.6h1.6M1826.5 476.1h1.6M1841.4 238.9h1.6M1841.4 251.4h1.6M1841.4 263.9h1.6M1841.4 276.4h1.6M1841.4 288.9h1.6M1841.4 301.3h1.6M1841.4 313.8h1.6M1841.4 326.3h1.6M1841.4 338.8h1.6M1841.4 351.3h1.6M1841.4 363.7h1.6M1841.4 376.2h1.6M1841.4 388.7h1.6M1841.4 401.2h1.6M1841.4 413.7h1.6M1841.4 426.1h1.6M1841.4 438.6h1.6M1841.4 451.1h1.6M1841.4 463.6h1.6M1841.4 476.1h1.6M1856.3 226.5h1.6M1856.3 238.9h1.6M1856.3 251.4h1.6M1856.3 263.9h1.6M1856.3 276.4h1.6M1856.3 288.9h1.6M1856.3 301.3h1.6M1856.3 313.8h1.6M1856.3 326.3h1.6M1856.3 338.8h1.6M1856.3 351.3h1.6M1856.3 363.7h1.6M1856.3 376.2h1.6M1856.3 388.7h1.6M1856.3 401.2h1.6M1856.3 413.7h1.6M1856.3 426.1h1.6M1856.3 438.6h1.6M1856.3 451.1h1.6M1856.3 463.6h1.6M1856.3 476.1h1.6M1871.2 351.3h1.6M1871.2 363.7h1.6M1871.2 376.2h1.6M1871.2 388.7h1.6M1871.2 401.2h1.6M1871.2 413.7h1.6M1871.2 426.1h1.6M1871.2 438.6h1.6M1871.2 451.1h1.6M1871.2 463.6h1.6M1871.2 476.1h1.6M1886.1 238.9h1.6M1886.1 251.4h1.6M1886.1 263.9h1.6M1886.1 276.4h1.6M1886.1 288.9h1.6M1886.1 301.3h1.6M1886.1 313.8h1.6M1886.1 326.3h1.6M1886.1 338.8h1.6M1886.1 351.3h1.6M1886.1 363.7h1.6M1886.1 376.2h1.6M1886.1 388.7h1.6M1886.1 401.2h1.6M1886.1 413.7h1.6M1886.1 426.1h1.6M1886.1 438.6h1.6M1886.1 451.1h1.6M1886.1 463.6h1.6M1886.1 476.1h1.6M1901 276.4h1.6M1901 288.9h1.6M1901 301.3h1.6M1901 313.8h1.6M1901 326.3h1.6M1901 338.8h1.6M1901 351.3h1.6M1901 363.7h1.6M1901 376.2h1.6M1901 388.7h1.6M1901 401.2h1.6M1901 413.7h1.6M1901 426.1h1.6M1901 438.6h1.6M1901 451.1h1.6M1901 463.6h1.6M1901 476.1h1.6M1915.9 326.3h1.6M1915.9 338.8h1.6M1915.9 351.3h1.6M1915.9 363.7h1.6M1915.9 376.2h1.6M1915.9 388.7h1.6M1915.9 401.2h1.6M1915.9 413.7h1.6M1915.9 426.1h1.6M1915.9 438.6h1.6M1915.9 451.1h1.6M1915.9 463.6h1.6M1915.9 476.1h1.6M1930.8 388.7h1.6M1930.8 401.2h1.6M1930.8 413.7h1.6M1930.8 426.1h1.6M1930.8 438.6h1.6M1930.8 451.1h1.6M1930.8 463.6h1.6M1930.8 476.1h1.6M1945.8 463.6h1.6M1945.8 476.1h1.6M1960.7 126.6h1.6M1960.7 139.1h1.6M1960.7 151.6h1.6M1960.7 164.1h1.6M1960.7 176.5h1.6M1960.7 189h1.6M1960.7 201.5h1.6M1960.7 214h1.6M1960.7 226.5h1.6M1960.7 238.9h1.6M1960.7 251.4h1.6M1960.7 263.9h1.6M1960.7 276.4h1.6M1960.7 288.9h1.6M1960.7 301.3h1.6M1960.7 313.8h1.6M1960.7 326.3h1.6M1960.7 338.8h1.6M1960.7 351.3h1.6M1960.7 363.7h1.6M1960.7 376.2h1.6M1960.7 388.7h1.6M1960.7 401.2h1.6M1960.7 413.7h1.6M1960.7 426.1h1.6M1960.7 438.6h1.6M1960.7 451.1h1.6M1960.7 463.6h1.6M1960.7 476.1h1.6M1975.6 176.5h1.6M1975.6 189h1.6M1975.6 201.5h1.6M1975.6 214h1.6M1975.6 226.5h1.6M1975.6 238.9h1.6M1975.6 251.4h1.6M1975.6 263.9h1.6M1975.6 276.4h1.6M1975.6 288.9h1.6M1975.6 301.3h1.6M1975.6 313.8h1.6M1975.6 326.3h1.6M1975.6 338.8h1.6M1975.6 351.3h1.6M1975.6 363.7h1.6M1975.6 376.2h1.6M1975.6 388.7h1.6M1975.6 401.2h1.6M1975.6 413.7h1.6M1975.6 426.1h1.6M1975.6 438.6h1.6M1975.6 451.1h1.6M1975.6 463.6h1.6M1975.6 476.1h1.6M1990.5 139.1h1.6M1990.5 151.6h1.6M1990.5 164.1h1.6M1990.5 176.5h1.6M1990.5 189h1.6M1990.5 201.5h1.6M1990.5 214h1.6M1990.5 226.5h1.6M1990.5 238.9h1.6M1990.5 251.4h1.6M1990.5 263.9h1.6M1990.5 276.4h1.6M1990.5 288.9h1.6M1990.5 301.3h1.6M1990.5 313.8h1.6M1990.5 326.3h1.6M1990.5 338.8h1.6M1990.5 351.3h1.6M1990.5 363.7h1.6M1990.5 376.2h1.6M1990.5 388.7h1.6M1990.5 401.2h1.6M1990.5 413.7h1.6M1990.5 426.1h1.6M1990.5 438.6h1.6M1990.5 451.1h1.6M1990.5 463.6h1.6M1990.5 476.1h1.6M2005.4 139.1h1.6M2005.4 151.6h1.6M2005.4 164.1h1.6M2005.4 176.5h1.6M2005.4 189h1.6M2005.4 201.5h1.6M2005.4 214h1.6M2005.4 226.5h1.6M2005.4 238.9h1.6M2005.4 251.4h1.6M2005.4 263.9h1.6M2005.4 276.4h1.6M2005.4 288.9h1.6M2005.4 301.3h1.6M2005.4 313.8h1.6M2005.4 326.3h1.6M2005.4 338.8h1.6M2005.4 351.3h1.6M2005.4 363.7h1.6M2005.4 376.2h1.6M2005.4 388.7h1.6M2005.4 401.2h1.6M2005.4 413.7h1.6M2005.4 426.1h1.6M2005.4 438.6h1.6M2005.4 451.1h1.6M2005.4 463.6h1.6M2005.4 476.1h1.6" stroke="#707070" stroke-width="1.6" fill="none"/>
<rect x="1276" y="480" width="1.50" height="99.6" fill="#9999CC"/>
<rect x="1277.2" y="480" width="1.10" height="99.6" fill="#B0C4DE"/>
<rect x="1278" y="480" width="1.50" height="99.6" fill="#B0C4DE"/>
<rect x="1279.2" y="480" width="1.10" height="99.6" fill="#3050A0"/>
<rect x="1280" y="480" width="1.90" height="99.6" fill="#BEBEBE"/>
<rect x="1281.6" y="480" width="1.90" height="99.6" fill="#3050A0"/>
<rect x="1283.2" y="480" width="1.90" height="99.6" fill="#2E8B57"/>
<rect x="1284.8" y="480" width="1.10" height="99.6" fill="#2E8B57"/>
<rect x="1285.6" y="480" width="1.90" height="99.6" fill="#BEBEBE"/>
<rect x="1287.2" y="480" width="1.50" height="99.6" fill="#BEBEBE"/>
<rect x="1288.4" y="480" width="3.30" height="99.6" fill="#3050A0"/>
<rect x="1291.4" y="480" width="3.30" height="99.6" fill="#BEBEBE"/>
<rect x="1294.4" y="480" width="2.50" height="99.6" fill="#BEBEBE"/>
<rect x="1296.6" y="480" width="3.30" height="99.6" fill="#BEBEBE"/>
<rect x="1299.6" y="480" width="1.10" height="99.6" fill="#BEBEBE"/>
<rect x="1300.4" y="480" width="2.90" height="99.6" fill="#BEBEBE"/>
<rect x="1332" y="480" width="3.30" height="99.6" fill="#3CB371"/>
<rect x="1335" y="480" width="1.10" height="99.6" fill="#9370DB"/>
<rect x="1335.8" y="480" width="1.90" height="99.6" fill="#BEBEBE"/>
<rect x="1337.4" y="480" width="1.50" height="99.6" fill="#2E8B57"/>
<rect x="1338.6" y="480" width="1.10" height="99.6" fill="#2E8B57"/>
<rect x="1339.4" y="480" width="1.10" height="99.6" fill="#3CB371"/>
<rect x="1340.2" y="480" width="2.50" height="99.6" fill="#3CB371"/>
<rect x="1342.4" y="480" width="0.90" height="99.6" fill="#BEBEBE"/>
<rect x="1349" y="480" width="1.50" height="99.6" fill="#4682B4"/>
<rect x="1350.2" y="480" width="3.30" height="99.6" fill="#A9A9A9"/>
<rect x="1353.2" y="480" width="2.50" height="99.6" fill="#4682B4"/>
<rect x="1355.4" y="480" width="3.30" height="99.6" fill="#A9A9A9"/>
<rect x="1358.4" y="480" width="2.90" height="99.6" fill="#A9A9A9"/>
<rect x="1408" y="480" width="2.50" height="99.6" fill="#BEBEBE"/>
<rect x="1410.2" y="480" width="1.10" height="99.6" fill="#B0C4DE"/>
<rect x="1411" y="480" width="1.50" height="99.6" fill="#9370DB"/>
<rect x="1412.2" y="480" width="3.30" height="99.6" fill="#9370DB"/>
<rect x="1415.2" y="480" width="1.10" height="99.6" fill="#BEBEBE"/>
<rect x="1416" y="480" width="1.10" height="99.6" fill="#8FBC8F"/>
<rect x="1416.8" y="480" width="3.30" height="99.6" fill="#66CDAA"/>
<rect x="1419.8" y="480" width="2.50" height="99.6" fill="#9370DB"/>
<rect x="1422" y="480" width="1.50" height="99.6" fill="#9370DB"/>
<rect x="1423.2" y="480" width="1.10" height="99.6" fill="#8FBC8F"/>
<rect x="1519.6" y="480" width="3.30" height="99.6" fill="#B0C4DE"/>
<rect x="1522.6" y="480" width="1.10" height="99.6" fill="#0000CD"/>
<rect x="1523.4" y="480" width="1.90" height="99.6" fill="#B0C4DE"/>
<rect x="1525" y="480" width="1.50" height="99.6" fill="#0000CD"/>
<rect x="1526.2" y="480" width="1.50" height="99.6" fill="#B0C4DE"/>
<rect x="1527.4" y="480" width="3.30" height="99.6" fill="#6A5ACD"/>
<rect x="1530.4" y="480" width="1.50" height="99.6" fill="#4169E1"/>
<rect x="1531.6" y="480" width="1.70" height="99.6" fill="#87CEEB"/>
<rect x="1552" y="480" width="1.90" height="99.6" fill="#9370DB"/>
<rect x="1553.6" y="480" width="2.50" height="99.6" fill="#87CEEB"/>
<rect x="1555.8" y="480" width="1.90" height="99.6" fill="#4682B4"/>
<rect x="1557.4" y="480" width="1.10" height="99.6" fill="#4682B4"/>
<rect x="1558.2" y="480" width="3.30" height="99.6" fill="#87CEEB"/>
<rect x="1561.2" y="480" width="1.90" height="99.6" fill="#66CDAA"/>
<rect x="1562.8" y="480" width="1.10" height="99.6" fill="#66CDAA"/>
<rect x="1563.6" y="480" width="2.50" height="99.6" fill="#9370DB"/>
<rect x="1565.8" y="480" width="1.10" height="99.6" fill="#A9A9A9"/>
<rect x="1566.6" y="480" width="1.50" height="99.6" fill="#A9A9A9"/>
<rect x="1567.8" y="480" width="1.50" height="99.6" fill="#4682B4"/>
<rect x="1569" y="480" width="2.50" height="99.6" fill="#4682B4"/>
<rect x="1571.2" y="480" width="1.10" height="99.6" fill="#9370DB"/>
<rect x="1572" y="480" width="1.90" height="99.6" fill="#4682B4"/>
<rect x="1573.6" y="480" width="3.30" height="99.6" fill="#9370DB"/>
<rect x="1576.6" y="480" width="1.70" height="99.6" fill="#9370DB"/>
<rect x="1602.7" y="480" width="1.50" height="99.6" fill="#87CEEB"/>
<rect x="1603.9" y="480" width="3.30" height="99.6" fill="#87CEEB"/>
<rect x="1606.9" y="480" width="1.50" height="99.6" fill="#66CDAA"/>
<rect x="1608.1" y="480" width="3.30" height="99.6" fill="#87CEEB"/>
<rect x="1611.1" y="480" width="1.90" height="99.6" fill="#ADD8E6"/>
<rect x="1612.7" y="480" width="1.50" height="99.6" fill="#4682B4"/>
<rect x="1613.9" y="480" width="1.10" height="99.6" fill="#ADD8E6"/>
<rect x="1614.7" y="480" width="1.90" height="99.6" fill="#ADD8E6"/>
<rect x="1616.3" y="480" width="3.30" height="99.6" fill="#4682B4"/>
<rect x="1619.3" y="480" width="1.90" height="99.6" fill="#66CDAA"/>
<rect x="1620.9" y="480" width="1.90" height="99.6" fill="#87CEEB"/>
<rect x="1622.5" y="480" width="1.80" height="99.6" fill="#ADD8E6"/>
<rect x="1627" y="480" width="2.50" height="99.6" fill="#ADD8E6"/>
<rect x="1629.2" y="480" width="1.90" height="99.6" fill="#87CEEB"/>
<rect x="1630.8" y="480" width="1.50" height="99.6" fill="#6CA6CD"/>
<rect x="1632" y="480" width="1.50" height="99.6" fill="#87CEEB"/>
<rect x="1633.2" y="480" width="1.50" height="99.6" fill="#4682B4"/>
<rect x="1634.4" y="480" width="2.50" height="99.6" fill="#9370DB"/>
<rect x="1636.6" y="480" width="2.50" height="99.6" fill="#9370DB"/>
<rect x="1638.8" y="480" width="3.30" height="99.6" fill="#6CA6CD"/>
<rect x="1641.8" y="480" width="1.50" height="99.6" fill="#ADD8E6"/>
<rect x="1643" y="480" width="1.10" height="99.6" fill="#87CEEB"/>
<rect x="1643.8" y="480" width="1.90" height="99.6" fill="#6CA6CD"/>
<rect x="1645.4" y="480" width="1.90" height="99.6" fill="#ADD8E6"/>
<rect x="1647" y="480" width="3.30" height="99.6" fill="#6CA6CD"/>
<rect x="1650" y="480" width="1.10" height="99.6" fill="#87CEEB"/>
<rect x="1650.8" y="480" width="3.30" height="99.6" fill="#4682B4"/>
<rect x="1653.8" y="480" width="3.30" height="99.6" fill="#87CEEB"/>
<rect x="1656.8" y="480" width="1.90" height="99.6" fill="#ADD8E6"/>
<rect x="1658.4" y="480" width="1.90" height="99.6" fill="#9370DB"/>
<rect x="1660" y="480" width="1.90" height="99.6" fill="#9370DB"/>
<rect x="1661.6" y="480" width="1.10" height="99.6" fill="#9370DB"/>
<rect x="1662.4" y="480" width="1.90" height="99.6" fill="#87CEEB"/>
<rect x="1664" y="480" width="1.10" height="99.6" fill="#6CA6CD"/>
<rect x="1718" y="480" width="3.30" height="99.6" fill="#4682B4"/>
<rect x="1721" y="480" width="1.50" height="99.6" fill="#48D1CC"/>
<rect x="1722.2" y="480" width="1.50" height="99.6" fill="#4682B4"/>
<rect x="1723.4" y="480" width="1.50" height="99.6" fill="#4682B4"/>
<rect x="1724.6" y="480" width="2.50" height="99.6" fill="#1E90FF"/>
<rect x="1726.8" y="480" width="1.50" height="99.6" fill="#6CA6CD"/>
<rect x="1728" y="480" width="1.90" height="99.6" fill="#6CA6CD"/>
<rect x="1729.6" y="480" width="1.10" height="99.6" fill="#87CEEB"/>
<rect x="1730.4" y="480" width="1.50" height="99.6" fill="#4682B4"/>
<rect x="1731.6" y="480" width="1.50" height="99.6" fill="#6CA6CD"/>
<rect x="1732.8" y="480" width="1.10" height="99.6" fill="#4682B4"/>
<rect x="1733.6" y="480" width="1.10" height="99.6" fill="#6CA6CD"/>
<rect x="1734.4" y="480" width="1.90" height="99.6" fill="#87CEEB"/>
<rect x="1736" y="480" width="1.10" height="99.6" fill="#87CEEB"/>
<rect x="1736.8" y="480" width="1.90" height="99.6" fill="#6CA6CD"/>
<rect x="1738.4" y="480" width="1.10" height="99.6" fill="#48D1CC"/>
<rect x="1739.2" y="480" width="1.10" height="99.6" fill="#87CEEB"/>
<rect x="1740" y="480" width="1.90" height="99.6" fill="#48D1CC"/>
<rect x="1741.6" y="480" width="1.10" height="99.6" fill="#1E90FF"/>
<rect x="1742.4" y="480" width="2.50" height="99.6" fill="#6CA6CD"/>
<rect x="1744.6" y="480" width="1.90" height="99.6" fill="#87CEEB"/>
<rect x="1746.2" y="480" width="1.10" height="99.6" fill="#1E90FF"/>
<rect x="1747" y="480" width="1.10" height="99.6" fill="#4682B4"/>
<rect x="1747.8" y="480" width="3.30" height="99.6" fill="#48D1CC"/>
<rect x="1750.8" y="480" width="2.50" height="99.6" fill="#6CA6CD"/>
<rect x="1753" y="480" width="2.50" height="99.6" fill="#48D1CC"/>
<rect x="1755.2" y="480" width="0.90" height="99.6" fill="#4682B4"/>
<rect x="1762.6" y="480" width="1.10" height="99.6" fill="#48D1CC"/>
<rect x="1763.4" y="480" width="3.30" height="99.6" fill="#48D1CC"/>
<rect x="1766.4" y="480" width="1.10" height="99.6" fill="#1E90FF"/>
<rect x="1767.2" y="480" width="3.30" height="99.6" fill="#48D1CC"/>
<rect x="1770.2" y="480" width="1.50" height="99.6" fill="#4682B4"/>
<rect x="1771.4" y="480" width="1.10" height="99.6" fill="#87CEEB"/>
<rect x="1772.2" y="480" width="1.50" height="99.6" fill="#87CEEB"/>
<rect x="1773.4" y="480" width="3.30" height="99.6" fill="#4682B4"/>
<rect x="1776.4" y="480" width="1.90" height="99.6" fill="#48D1CC"/>
<rect x="1778" y="480" width="2.50" height="99.6" fill="#48D1CC"/>
<rect x="1780.2" y="480" width="3.30" height="99.6" fill="#6CA6CD"/>
<rect x="1783.2" y="480" width="3.10" height="99.6" fill="#87CEEB"/>
<rect x="1803" y="480" width="3.30" height="99.6" fill="#6CA6CD"/>
<rect x="1806" y="480" width="1.90" height="99.6" fill="#87CEEB"/>
<rect x="1807.6" y="480" width="3.30" height="99.6" fill="#48D1CC"/>
<rect x="1810.6" y="480" width="2.50" height="99.6" fill="#4682B4"/>
<rect x="1812.8" y="480" width="1.90" height="99.6" fill="#6CA6CD"/>
<rect x="1814.4" y="480" width="2.50" height="99.6" fill="#6CA6CD"/>
<rect x="1816.6" y="480" width="1.90" height="99.6" fill="#48D1CC"/>
<rect x="1818.2" y="480" width="3.30" height="99.6" fill="#6CA6CD"/>
<rect x="1821.2" y="480" width="1.90" height="99.6" fill="#87CEEB"/>
<rect x="1822.8" y="480" width="1.90" height="99.6" fill="#4682B4"/>
<rect x="1824.4" y="480" width="3.30" height="99.6" fill="#1E90FF"/>
<rect x="1827.4" y="480" width="1.10" height="99.6" fill="#48D1CC"/>
<rect x="1828.2" y="480" width="1.50" height="99.6" fill="#87CEEB"/>
<rect x="1829.4" y="480" width="2.50" height="99.6" fill="#4682B4"/>
<rect x="1831.6" y="480" width="1.10" height="99.6" fill="#6CA6CD"/>
<rect x="1832.4" y="480" width="1.50" height="99.6" fill="#4682B4"/>
<rect x="1833.6" y="480" width="1.10" height="99.6" fill="#6CA6CD"/>
<rect x="1834.4" y="480" width="3.30" height="99.6" fill="#87CEEB"/>
<rect x="1837.4" y="480" width="3.30" height="99.6" fill="#87CEEB"/>
<rect x="1840.4" y="480" width="1.90" height="99.6" fill="#6CA6CD"/>
<rect x="1842" y="480" width="1.90" height="99.6" fill="#87CEEB"/>
<rect x="1843.6" y="480" width="1.50" height="99.6" fill="#87CEEB"/>
<rect x="1844.8" y="480" width="3.30" height="99.6" fill="#4682B4"/>
<rect x="1847.8" y="480" width="1.90" height="99.6" fill="#87CEEB"/>
<rect x="1849.4" y="480" width="2.50" height="99.6" fill="#1E90FF"/>
<rect x="1851.6" y="480" width="1.50" height="99.6" fill="#48D1CC"/>
<rect x="1852.8" y="480" width="2.20" height="99.6" fill="#1E90FF"/>
<rect x="1260" y="480" width="16.20" height="99.6" fill="#BEBEBE"/>
<rect x="1303" y="480" width="13.40" height="99.6" fill="#D2B48C"/>
<rect x="1316" y="480" width="16.20" height="99.6" fill="#FFC0CB"/>
<rect x="1343" y="480" width="6.20" height="99.6" fill="#00CED1"/>
<rect x="1361" y="480" width="6.20" height="99.6" fill="#FFFFFF"/>
<rect x="1367" y="480" width="16.20" height="99.6" fill="#A9A9A9"/>
<rect x="1383" y="480" width="7.20" height="99.6" fill="#B4E4EA"/>
<rect x="1390" y="480" width="9.20" height="99.6" fill="#FFFFF0"/>
<rect x="1399" y="480" width="9.20" height="99.6" fill="#E0FFFF"/>
<rect x="1424" y="480" width="13.80" height="99.6" fill="#FF00FF"/>
<rect x="1437.6" y="480" width="11.60" height="99.6" fill="#1DB51D"/>
<rect x="1449" y="480" width="20.20" height="99.6" fill="#000000"/>
<rect x="1469" y="480" width="50.80" height="99.6" fill="#FFFF00"/>
<rect x="1533" y="480" width="12.70" height="99.6" fill="#00FFFF"/>
<rect x="1545.5" y="480" width="6.70" height="99.6" fill="#4169E1"/>
<rect x="1578" y="480" width="5.80" height="99.6" fill="#A0A0A0"/>
<rect x="1583.6" y="480" width="9.20" height="99.6" fill="#90EE90"/>
<rect x="1592.6" y="480" width="10.30" height="99.6" fill="#FA8072"/>
<rect x="1624" y="480" width="3.20" height="99.6" fill="#8B4513"/>
<rect x="1664.8" y="480" width="5.80" height="99.6" fill="#FF8C00"/>
<rect x="1670.4" y="480" width="9.70" height="99.6" fill="#0000FF"/>
<rect x="1679.9" y="480" width="6.50" height="99.6" fill="#006400"/>
<rect x="1686.2" y="480" width="8.00" height="99.6" fill="#191970"/>
<rect x="1694" y="480" width="12.20" height="99.6" fill="#A020F0"/>
<rect x="1706" y="480" width="12.20" height="99.6" fill="#ADFF2F"/>
<rect x="1755.8" y="480" width="7.00" height="99.6" fill="#8B0000"/>
<rect x="1786" y="480" width="17.20" height="99.6" fill="#00FF00"/>
<rect x="1854.7" y="480" width="13.50" height="99.6" fill="#FF0000"/>
<rect x="1868" y="480" width="13.80" height="99.6" fill="#0000FF"/>
<rect x="1881.6" y="480" width="65.40" height="99.6" fill="#40E0D0"/>
<rect x="1946.8" y="480" width="8.00" height="99.6" fill="#FFA500"/>
<rect x="1954.6" y="480" width="52.60" height="99.6" fill="#A52A2A"/>
<line x1="1259" y1="480" x2="2008" y2="480" stroke="#000" stroke-width="2.6" />
<line x1="1259" y1="579.6" x2="2008" y2="579.6" stroke="#000" stroke-width="2.6" />
<text x="4" y="657" font-size="50" font-weight="bold">c</text>
<line x1="81" y1="708.8" x2="859" y2="708.8" stroke="#000" stroke-width="1.8" stroke-dasharray="4.5 3.5"/>
<line x1="81" y1="807.2" x2="859" y2="807.2" stroke="#000" stroke-width="1.8" stroke-dasharray="4.5 3.5"/>
<line x1="81" y1="692.5" x2="81" y2="1022.3" stroke="#000" stroke-width="1.8" />
<line x1="80.1" y1="1021.5" x2="859" y2="1021.5" stroke="#000" stroke-width="1.8" />
<line x1="70" y1="1004.2" x2="81" y2="1004.2" stroke="#000" stroke-width="1.8" />
<text x="65" y="1013" font-size="24.5" text-anchor="end">70</text>
<line x1="70" y1="905.8" x2="81" y2="905.8" stroke="#000" stroke-width="1.8" />
<text x="65" y="914.5" font-size="24.5" text-anchor="end">80</text>
<line x1="70" y1="807.2" x2="81" y2="807.2" stroke="#000" stroke-width="1.8" />
<text x="65" y="816" font-size="24.5" text-anchor="end">90</text>
<line x1="70" y1="708.8" x2="81" y2="708.8" stroke="#000" stroke-width="1.8" />
<text x="65" y="717.5" font-size="24.5" text-anchor="end">100</text>
<text x="22.5" y="867" font-size="25.5" text-anchor="middle" transform="rotate(-90 22.5 867)">Accuracy (%)</text>
<line x1="95" y1="1021.5" x2="95" y2="1031" stroke="#000" stroke-width="1.8" />
<text x="104" y="1038.5" font-size="25.5" text-anchor="end" transform="rotate(-90 104 1038.5)">ME01</text>
<line x1="119.2" y1="1021.5" x2="119.2" y2="1031" stroke="#000" stroke-width="1.8" />
<text x="128.2" y="1038.5" font-size="25.5" text-anchor="end" transform="rotate(-90 128.2 1038.5)">ME02</text>
<line x1="143.3" y1="1021.5" x2="143.3" y2="1031" stroke="#000" stroke-width="1.8" />
<text x="152.3" y="1038.5" font-size="25.5" text-anchor="end" transform="rotate(-90 152.3 1038.5)">ME03</text>
<line x1="167.5" y1="1021.5" x2="167.5" y2="1031" stroke="#000" stroke-width="1.8" />
<text x="176.5" y="1038.5" font-size="25.5" text-anchor="end" transform="rotate(-90 176.5 1038.5)">ME04</text>
<line x1="191.6" y1="1021.5" x2="191.6" y2="1031" stroke="#000" stroke-width="1.8" />
<text x="200.6" y="1038.5" font-size="25.5" text-anchor="end" transform="rotate(-90 200.6 1038.5)">ME05</text>
<line x1="215.8" y1="1021.5" x2="215.8" y2="1031" stroke="#000" stroke-width="1.8" />
<text x="224.8" y="1038.5" font-size="25.5" text-anchor="end" transform="rotate(-90 224.8 1038.5)">ME06</text>
<line x1="240" y1="1021.5" x2="240" y2="1031" stroke="#000" stroke-width="1.8" />
<text x="249" y="1038.5" font-size="25.5" text-anchor="end" transform="rotate(-90 249 1038.5)">ME07</text>
<line x1="264.1" y1="1021.5" x2="264.1" y2="1031" stroke="#000" stroke-width="1.8" />
<text x="273.1" y="1038.5" font-size="25.5" text-anchor="end" transform="rotate(-90 273.1 1038.5)">ME08</text>
<line x1="288.3" y1="1021.5" x2="288.3" y2="1031" stroke="#000" stroke-width="1.8" />
<text x="297.3" y="1038.5" font-size="25.5" text-anchor="end" transform="rotate(-90 297.3 1038.5)">ME09</text>
<line x1="312.4" y1="1021.5" x2="312.4" y2="1031" stroke="#000" stroke-width="1.8" />
<text x="321.4" y="1038.5" font-size="25.5" text-anchor="end" transform="rotate(-90 321.4 1038.5)">ME10</text>
<line x1="336.6" y1="1021.5" x2="336.6" y2="1031" stroke="#000" stroke-width="1.8" />
<text x="345.6" y="1038.5" font-size="25.5" text-anchor="end" transform="rotate(-90 345.6 1038.5)">ME11</text>
<line x1="360.8" y1="1021.5" x2="360.8" y2="1031" stroke="#000" stroke-width="1.8" />
<text x="369.8" y="1038.5" font-size="25.5" text-anchor="end" transform="rotate(-90 369.8 1038.5)">ME12</text>
<line x1="384.9" y1="1021.5" x2="384.9" y2="1031" stroke="#000" stroke-width="1.8" />
<text x="393.9" y="1038.5" font-size="25.5" text-anchor="end" transform="rotate(-90 393.9 1038.5)">ME13</text>
<line x1="409.1" y1="1021.5" x2="409.1" y2="1031" stroke="#000" stroke-width="1.8" />
<text x="418.1" y="1038.5" font-size="25.5" text-anchor="end" transform="rotate(-90 418.1 1038.5)">ME14</text>
<line x1="433.2" y1="1021.5" x2="433.2" y2="1031" stroke="#000" stroke-width="1.8" />
<text x="442.2" y="1038.5" font-size="25.5" text-anchor="end" transform="rotate(-90 442.2 1038.5)">ME15</text>
<line x1="457.4" y1="1021.5" x2="457.4" y2="1031" stroke="#000" stroke-width="1.8" />
<text x="466.4" y="1038.5" font-size="25.5" text-anchor="end" transform="rotate(-90 466.4 1038.5)">ME16</text>
<line x1="481.6" y1="1021.5" x2="481.6" y2="1031" stroke="#000" stroke-width="1.8" />
<text x="490.6" y="1038.5" font-size="25.5" text-anchor="end" transform="rotate(-90 490.6 1038.5)">ME17</text>
<line x1="505.7" y1="1021.5" x2="505.7" y2="1031" stroke="#000" stroke-width="1.8" />
<text x="514.7" y="1038.5" font-size="25.5" text-anchor="end" transform="rotate(-90 514.7 1038.5)">ME18</text>
<line x1="529.9" y1="1021.5" x2="529.9" y2="1031" stroke="#000" stroke-width="1.8" />
<text x="538.9" y="1038.5" font-size="25.5" text-anchor="end" transform="rotate(-90 538.9 1038.5)">ME19</text>
<line x1="554" y1="1021.5" x2="554" y2="1031" stroke="#000" stroke-width="1.8" />
<text x="563" y="1038.5" font-size="25.5" text-anchor="end" transform="rotate(-90 563 1038.5)">ME20</text>
<line x1="578.2" y1="1021.5" x2="578.2" y2="1031" stroke="#000" stroke-width="1.8" />
<text x="587.2" y="1038.5" font-size="25.5" text-anchor="end" transform="rotate(-90 587.2 1038.5)">ME21</text>
<line x1="602.4" y1="1021.5" x2="602.4" y2="1031" stroke="#000" stroke-width="1.8" />
<text x="611.4" y="1038.5" font-size="25.5" text-anchor="end" transform="rotate(-90 611.4 1038.5)">ME22</text>
<line x1="626.5" y1="1021.5" x2="626.5" y2="1031" stroke="#000" stroke-width="1.8" />
<text x="635.5" y="1038.5" font-size="25.5" text-anchor="end" transform="rotate(-90 635.5 1038.5)">ME23</text>
<line x1="650.7" y1="1021.5" x2="650.7" y2="1031" stroke="#000" stroke-width="1.8" />
<text x="659.7" y="1038.5" font-size="25.5" text-anchor="end" transform="rotate(-90 659.7 1038.5)">ME24</text>
<line x1="674.8" y1="1021.5" x2="674.8" y2="1031" stroke="#000" stroke-width="1.8" />
<text x="683.8" y="1038.5" font-size="25.5" text-anchor="end" transform="rotate(-90 683.8 1038.5)">ME25</text>
<line x1="699" y1="1021.5" x2="699" y2="1031" stroke="#000" stroke-width="1.8" />
<text x="708" y="1038.5" font-size="25.5" text-anchor="end" transform="rotate(-90 708 1038.5)">ME26</text>
<line x1="723.2" y1="1021.5" x2="723.2" y2="1031" stroke="#000" stroke-width="1.8" />
<text x="732.2" y="1038.5" font-size="25.5" text-anchor="end" transform="rotate(-90 732.2 1038.5)">ME27</text>
<line x1="747.3" y1="1021.5" x2="747.3" y2="1031" stroke="#000" stroke-width="1.8" />
<text x="756.3" y="1038.5" font-size="25.5" text-anchor="end" transform="rotate(-90 756.3 1038.5)">ME28</text>
<line x1="771.5" y1="1021.5" x2="771.5" y2="1031" stroke="#000" stroke-width="1.8" />
<text x="780.5" y="1038.5" font-size="25.5" text-anchor="end" transform="rotate(-90 780.5 1038.5)">ME29</text>
<line x1="795.6" y1="1021.5" x2="795.6" y2="1031" stroke="#000" stroke-width="1.8" />
<text x="804.6" y="1038.5" font-size="25.5" text-anchor="end" transform="rotate(-90 804.6 1038.5)">ME30</text>
<line x1="819.8" y1="1021.5" x2="819.8" y2="1031" stroke="#000" stroke-width="1.8" />
<text x="828.8" y="1038.5" font-size="25.5" text-anchor="end" transform="rotate(-90 828.8 1038.5)">ME31</text>
<line x1="844" y1="1021.5" x2="844" y2="1031" stroke="#000" stroke-width="1.8" />
<text x="853" y="1038.5" font-size="25.5" text-anchor="end" transform="rotate(-90 853 1038.5)">ME32</text>
<line x1="95" y1="760" x2="95" y2="768.8" stroke="#000" stroke-width="1.8" />
<line x1="95" y1="805.3" x2="95" y2="860.4" stroke="#000" stroke-width="1.8" />
<rect x="87.5" y="768.8" width="15" height="36.4" fill="none" stroke="#000" stroke-width="1.8" />
<line x1="87.5" y1="792.5" x2="102.5" y2="792.5" stroke="#000" stroke-width="1.8" />
<circle cx="92.8" cy="760.1" r="4.7" fill="#E8B888" />
<circle cx="93.9" cy="763.2" r="4.7" fill="#E8B888" />
<circle cx="96.1" cy="764.6" r="4.7" fill="#E8B888" />
<circle cx="90.9" cy="769.8" r="4.7" fill="#E8B888" />
<circle cx="93" cy="772" r="4.7" fill="#E8B888" />
<circle cx="99.2" cy="775.6" r="4.7" fill="#E8B888" />
<circle cx="97.8" cy="779.6" r="4.7" fill="#E8B888" />
<circle cx="96.2" cy="788.5" r="4.7" fill="#E8B888" />
<circle cx="96.1" cy="793.6" r="4.7" fill="#E8B888" />
<circle cx="95.2" cy="795.2" r="4.7" fill="#E8B888" />
<circle cx="96.4" cy="796.1" r="4.7" fill="#E8B888" />
<circle cx="97.2" cy="799.6" r="4.7" fill="#E8B888" />
<circle cx="93.3" cy="800.9" r="4.7" fill="#E8B888" />
<circle cx="98.1" cy="805.2" r="4.7" fill="#E8B888" />
<circle cx="96.8" cy="808.4" r="4.7" fill="#E8B888" />
<circle cx="96.8" cy="862.7" r="4.7" fill="#E8B888" />
<circle cx="94.1" cy="869.2" r="4.7" fill="#E8B888" />
<circle cx="94.5" cy="875.5" r="4.7" fill="#E8B888" />
<circle cx="98.2" cy="876" r="4.7" fill="#E8B888" />
<circle cx="91.9" cy="901.9" r="4.7" fill="#E8B888" />
<line x1="119.2" y1="761.9" x2="119.2" y2="774.7" stroke="#000" stroke-width="1.8" />
<line x1="119.2" y1="794.4" x2="119.2" y2="817.1" stroke="#000" stroke-width="1.8" />
<rect x="111.7" y="774.7" width="15" height="19.7" fill="none" stroke="#000" stroke-width="1.8" />
<line x1="111.7" y1="783.6" x2="126.7" y2="783.6" stroke="#000" stroke-width="1.8" />
<circle cx="123.1" cy="761.7" r="4.7" fill="#A78BC0" />
<circle cx="120.2" cy="767.3" r="4.7" fill="#A78BC0" />
<circle cx="119.2" cy="772.4" r="4.7" fill="#A78BC0" />
<circle cx="117.9" cy="776" r="4.7" fill="#A78BC0" />
<circle cx="119.9" cy="779.9" r="4.7" fill="#A78BC0" />
<circle cx="120.7" cy="782.9" r="4.7" fill="#A78BC0" />
<circle cx="122.2" cy="787.1" r="4.7" fill="#A78BC0" />
<circle cx="120.6" cy="787.5" r="4.7" fill="#A78BC0" />
<circle cx="122.2" cy="793.9" r="4.7" fill="#A78BC0" />
<circle cx="122.6" cy="795.6" r="4.7" fill="#A78BC0" />
<circle cx="121" cy="798.5" r="4.7" fill="#A78BC0" />
<circle cx="121.9" cy="803.5" r="4.7" fill="#A78BC0" />
<circle cx="117.4" cy="806.9" r="4.7" fill="#A78BC0" />
<circle cx="122.1" cy="813.6" r="4.7" fill="#A78BC0" />
<circle cx="115.7" cy="818" r="4.7" fill="#A78BC0" />
<line x1="143.3" y1="750.1" x2="143.3" y2="758" stroke="#000" stroke-width="1.8" />
<line x1="143.3" y1="772.8" x2="143.3" y2="777.7" stroke="#000" stroke-width="1.8" />
<rect x="135.8" y="758" width="15" height="14.8" fill="none" stroke="#000" stroke-width="1.8" />
<line x1="135.8" y1="764.9" x2="150.8" y2="764.9" stroke="#000" stroke-width="1.8" />
<circle cx="142.6" cy="749.1" r="4.7" fill="#9040D0" />
<circle cx="141.6" cy="753.9" r="4.7" fill="#9040D0" />
<circle cx="146.5" cy="754.7" r="4.7" fill="#9040D0" />
<circle cx="144.3" cy="756.6" r="4.7" fill="#9040D0" />
<circle cx="145.2" cy="759.5" r="4.7" fill="#9040D0" />
<circle cx="146.5" cy="763.4" r="4.7" fill="#9040D0" />
<circle cx="143.4" cy="765.4" r="4.7" fill="#9040D0" />
<circle cx="141.7" cy="764.6" r="4.7" fill="#9040D0" />
<circle cx="144.2" cy="766.4" r="4.7" fill="#9040D0" />
<circle cx="140.8" cy="769.5" r="4.7" fill="#9040D0" />
<circle cx="144.2" cy="770.8" r="4.7" fill="#9040D0" />
<circle cx="139.5" cy="774.9" r="4.7" fill="#9040D0" />
<circle cx="141.8" cy="777.1" r="4.7" fill="#9040D0" />
<circle cx="146.7" cy="777.3" r="4.7" fill="#9040D0" />
<line x1="167.5" y1="746.2" x2="167.5" y2="750.1" stroke="#000" stroke-width="1.8" />
<line x1="167.5" y1="775.7" x2="167.5" y2="797.4" stroke="#000" stroke-width="1.8" />
<rect x="160" y="750.1" width="15" height="25.6" fill="none" stroke="#000" stroke-width="1.8" />
<line x1="160" y1="762.9" x2="175" y2="762.9" stroke="#000" stroke-width="1.8" />
<circle cx="167.1" cy="746.2" r="4.7" fill="#E4B4D4" />
<circle cx="168.7" cy="753.4" r="4.7" fill="#E4B4D4" />
<circle cx="168" cy="758.4" r="4.7" fill="#E4B4D4" />
<circle cx="171.2" cy="762" r="4.7" fill="#E4B4D4" />
<circle cx="166.9" cy="765.6" r="4.7" fill="#E4B4D4" />
<circle cx="165.3" cy="767.3" r="4.7" fill="#E4B4D4" />
<circle cx="171.5" cy="772.8" r="4.7" fill="#E4B4D4" />
<circle cx="167.9" cy="795.9" r="4.7" fill="#E4B4D4" />
<circle cx="166.8" cy="825.2" r="4.7" fill="#E4B4D4" />
<circle cx="163.4" cy="832.2" r="4.7" fill="#E4B4D4" />
<circle cx="168.6" cy="835.5" r="4.7" fill="#E4B4D4" />
<circle cx="168.5" cy="841.6" r="4.7" fill="#E4B4D4" />
<line x1="191.6" y1="746.2" x2="191.6" y2="762.9" stroke="#000" stroke-width="1.8" />
<line x1="191.6" y1="831.9" x2="191.6" y2="879.2" stroke="#000" stroke-width="1.8" />
<rect x="184.1" y="762.9" width="15" height="69" fill="none" stroke="#000" stroke-width="1.8" />
<line x1="184.1" y1="769.8" x2="199.1" y2="769.8" stroke="#000" stroke-width="1.8" />
<circle cx="193.1" cy="745.7" r="4.7" fill="#E04860" />
<circle cx="193.4" cy="750.8" r="4.7" fill="#E04860" />
<circle cx="187.6" cy="751.8" r="4.7" fill="#E04860" />
<circle cx="193.1" cy="759.4" r="4.7" fill="#E04860" />
<circle cx="189.5" cy="760.8" r="4.7" fill="#E04860" />
<circle cx="192.4" cy="764.4" r="4.7" fill="#E04860" />
<circle cx="190.5" cy="767.3" r="4.7" fill="#E04860" />
<circle cx="190.5" cy="773.1" r="4.7" fill="#E04860" />
<circle cx="190" cy="782.3" r="4.7" fill="#E04860" />
<circle cx="193.9" cy="796" r="4.7" fill="#E04860" />
<circle cx="192.2" cy="829.6" r="4.7" fill="#E04860" />
<circle cx="190" cy="834" r="4.7" fill="#E04860" />
<circle cx="194.2" cy="838" r="4.7" fill="#E04860" />
<circle cx="189" cy="879" r="4.7" fill="#E04860" />
<circle cx="193.3" cy="990.3" r="4.7" fill="#E04860" />
<line x1="215.8" y1="720.6" x2="215.8" y2="725.5" stroke="#000" stroke-width="1.8" />
<line x1="215.8" y1="732.4" x2="215.8" y2="736.3" stroke="#000" stroke-width="1.8" />
<rect x="208.3" y="725.5" width="15" height="6.9" fill="none" stroke="#000" stroke-width="1.8" />
<line x1="208.3" y1="729.4" x2="223.3" y2="729.4" stroke="#000" stroke-width="1.8" />
<circle cx="214.3" cy="720.1" r="4.7" fill="#B5CF88" />
<circle cx="218.6" cy="723.3" r="4.7" fill="#B5CF88" />
<circle cx="218.8" cy="725.5" r="4.7" fill="#B5CF88" />
<circle cx="214.4" cy="728.9" r="4.7" fill="#B5CF88" />
<circle cx="219" cy="730.3" r="4.7" fill="#B5CF88" />
<circle cx="213.5" cy="731.3" r="4.7" fill="#B5CF88" />
<circle cx="216" cy="733.4" r="4.7" fill="#B5CF88" />
<circle cx="218.4" cy="736.4" r="4.7" fill="#B5CF88" />
<circle cx="213.1" cy="735.7" r="4.7" fill="#B5CF88" />
<circle cx="218.4" cy="725.9" r="4.7" fill="#B5CF88" />
<circle cx="218.4" cy="729" r="4.7" fill="#B5CF88" />
<line x1="240" y1="726.5" x2="240" y2="734.4" stroke="#000" stroke-width="1.8" />
<line x1="240" y1="745.2" x2="240" y2="755" stroke="#000" stroke-width="1.8" />
<rect x="232.5" y="734.4" width="15" height="10.8" fill="none" stroke="#000" stroke-width="1.8" />
<line x1="232.5" y1="740.3" x2="247.5" y2="740.3" stroke="#000" stroke-width="1.8" />
<circle cx="236.8" cy="725.9" r="4.7" fill="#5A8A3A" />
<circle cx="242.4" cy="728.7" r="4.7" fill="#5A8A3A" />
<circle cx="238.7" cy="732.1" r="4.7" fill="#5A8A3A" />
<circle cx="239.3" cy="735.1" r="4.7" fill="#5A8A3A" />
<circle cx="243.5" cy="737.3" r="4.7" fill="#5A8A3A" />
<circle cx="235.8" cy="741.6" r="4.7" fill="#5A8A3A" />
<circle cx="243.2" cy="743.7" r="4.7" fill="#5A8A3A" />
<circle cx="239.4" cy="745.6" r="4.7" fill="#5A8A3A" />
<circle cx="243.5" cy="745.3" r="4.7" fill="#5A8A3A" />
<circle cx="242" cy="748.2" r="4.7" fill="#5A8A3A" />
<circle cx="241.3" cy="755.1" r="4.7" fill="#5A8A3A" />
<line x1="264.1" y1="717.6" x2="264.1" y2="721.6" stroke="#000" stroke-width="1.8" />
<line x1="264.1" y1="730.4" x2="264.1" y2="736.3" stroke="#000" stroke-width="1.8" />
<rect x="256.6" y="721.6" width="15" height="8.9" fill="none" stroke="#000" stroke-width="1.8" />
<line x1="256.6" y1="726.5" x2="271.6" y2="726.5" stroke="#000" stroke-width="1.8" />
<circle cx="262.3" cy="717.1" r="4.7" fill="#88CC88" />
<circle cx="261.8" cy="718.3" r="4.7" fill="#88CC88" />
<circle cx="264.9" cy="720.9" r="4.7" fill="#88CC88" />
<circle cx="266.7" cy="722.2" r="4.7" fill="#88CC88" />
<circle cx="267.5" cy="726.1" r="4.7" fill="#88CC88" />
<circle cx="267.7" cy="728.7" r="4.7" fill="#88CC88" />
<circle cx="267.5" cy="729.7" r="4.7" fill="#88CC88" />
<circle cx="260" cy="732.1" r="4.7" fill="#88CC88" />
<circle cx="261.4" cy="732.8" r="4.7" fill="#88CC88" />
<circle cx="265.5" cy="736.4" r="4.7" fill="#88CC88" />
<line x1="288.3" y1="712.7" x2="288.3" y2="716.6" stroke="#000" stroke-width="1.8" />
<line x1="288.3" y1="722.5" x2="288.3" y2="726.5" stroke="#000" stroke-width="1.8" />
<rect x="280.8" y="716.6" width="15" height="5.9" fill="none" stroke="#000" stroke-width="1.8" />
<line x1="280.8" y1="719.6" x2="295.8" y2="719.6" stroke="#000" stroke-width="1.8" />
<circle cx="287.6" cy="714" r="4.7" fill="#6CC070" />
<circle cx="289.2" cy="714.2" r="4.7" fill="#6CC070" />
<circle cx="286.2" cy="717.7" r="4.7" fill="#6CC070" />
<circle cx="288.1" cy="719.4" r="4.7" fill="#6CC070" />
<circle cx="287" cy="718.7" r="4.7" fill="#6CC070" />
<circle cx="288.6" cy="721.5" r="4.7" fill="#6CC070" />
<circle cx="285.5" cy="723.4" r="4.7" fill="#6CC070" />
<circle cx="291.8" cy="725.4" r="4.7" fill="#6CC070" />
<circle cx="291" cy="725" r="4.7" fill="#6CC070" />
<line x1="312.4" y1="720.6" x2="312.4" y2="723.5" stroke="#000" stroke-width="1.8" />
<line x1="312.4" y1="732.4" x2="312.4" y2="736.3" stroke="#000" stroke-width="1.8" />
<rect x="304.9" y="723.5" width="15" height="8.9" fill="none" stroke="#000" stroke-width="1.8" />
<line x1="304.9" y1="728.5" x2="319.9" y2="728.5" stroke="#000" stroke-width="1.8" />
<circle cx="313.5" cy="721.7" r="4.7" fill="#3070D0" />
<circle cx="308.7" cy="721.9" r="4.7" fill="#3070D0" />
<circle cx="310.5" cy="724.6" r="4.7" fill="#3070D0" />
<circle cx="311.8" cy="726.4" r="4.7" fill="#3070D0" />
<circle cx="314.8" cy="727" r="4.7" fill="#3070D0" />
<circle cx="308.7" cy="729.3" r="4.7" fill="#3070D0" />
<circle cx="309.3" cy="731.1" r="4.7" fill="#3070D0" />
<circle cx="316.4" cy="735.4" r="4.7" fill="#3070D0" />
<circle cx="309" cy="736.3" r="4.7" fill="#3070D0" />
<circle cx="310.9" cy="774.2" r="4.7" fill="#3070D0" />
<circle cx="311.2" cy="782.1" r="4.7" fill="#3070D0" />
<circle cx="313.2" cy="799.9" r="4.7" fill="#3070D0" />
<line x1="336.6" y1="714.7" x2="336.6" y2="718.6" stroke="#000" stroke-width="1.8" />
<line x1="336.6" y1="728.5" x2="336.6" y2="731.4" stroke="#000" stroke-width="1.8" />
<rect x="329.1" y="718.6" width="15" height="9.9" fill="none" stroke="#000" stroke-width="1.8" />
<line x1="329.1" y1="723.5" x2="344.1" y2="723.5" stroke="#000" stroke-width="1.8" />
<circle cx="334" cy="714.1" r="4.7" fill="#88CCF0" />
<circle cx="333.4" cy="716.8" r="4.7" fill="#88CCF0" />
<circle cx="338.4" cy="718.2" r="4.7" fill="#88CCF0" />
<circle cx="333.1" cy="719.6" r="4.7" fill="#88CCF0" />
<circle cx="335.5" cy="722.9" r="4.7" fill="#88CCF0" />
<circle cx="339" cy="724.2" r="4.7" fill="#88CCF0" />
<circle cx="339.1" cy="726.8" r="4.7" fill="#88CCF0" />
<circle cx="336" cy="728.1" r="4.7" fill="#88CCF0" />
<circle cx="336.6" cy="732" r="4.7" fill="#88CCF0" />
<line x1="360.8" y1="713.7" x2="360.8" y2="717.6" stroke="#000" stroke-width="1.8" />
<line x1="360.8" y1="724.5" x2="360.8" y2="726.5" stroke="#000" stroke-width="1.8" />
<rect x="353.3" y="717.6" width="15" height="6.9" fill="none" stroke="#000" stroke-width="1.8" />
<line x1="353.3" y1="721.6" x2="368.3" y2="721.6" stroke="#000" stroke-width="1.8" />
<circle cx="360.1" cy="714.3" r="4.7" fill="#5090C8" />
<circle cx="360.4" cy="714.9" r="4.7" fill="#5090C8" />
<circle cx="361.1" cy="718.2" r="4.7" fill="#5090C8" />
<circle cx="357.2" cy="719.4" r="4.7" fill="#5090C8" />
<circle cx="360.1" cy="722.7" r="4.7" fill="#5090C8" />
<circle cx="364.4" cy="723.1" r="4.7" fill="#5090C8" />
<circle cx="364.1" cy="726.4" r="4.7" fill="#5090C8" />
<circle cx="358.8" cy="726.4" r="4.7" fill="#5090C8" />
<circle cx="357.6" cy="788.5" r="4.7" fill="#5090C8" />
<line x1="384.9" y1="715.6" x2="384.9" y2="719.6" stroke="#000" stroke-width="1.8" />
<line x1="384.9" y1="730.4" x2="384.9" y2="733.4" stroke="#000" stroke-width="1.8" />
<rect x="377.4" y="719.6" width="15" height="10.8" fill="none" stroke="#000" stroke-width="1.8" />
<line x1="377.4" y1="725.5" x2="392.4" y2="725.5" stroke="#000" stroke-width="1.8" />
<circle cx="386.3" cy="716.8" r="4.7" fill="#5870A8" />
<circle cx="387.4" cy="719.1" r="4.7" fill="#5870A8" />
<circle cx="386.9" cy="720.8" r="4.7" fill="#5870A8" />
<circle cx="381.6" cy="722.8" r="4.7" fill="#5870A8" />
<circle cx="380.8" cy="723.4" r="4.7" fill="#5870A8" />
<circle cx="387.2" cy="725.1" r="4.7" fill="#5870A8" />
<circle cx="381.5" cy="727.2" r="4.7" fill="#5870A8" />
<circle cx="388.1" cy="729.5" r="4.7" fill="#5870A8" />
<circle cx="380.9" cy="734.4" r="4.7" fill="#5870A8" />
<circle cx="381.7" cy="745.2" r="4.7" fill="#5870A8" />
<circle cx="386.4" cy="749.2" r="4.7" fill="#5870A8" />
<line x1="409.1" y1="715.6" x2="409.1" y2="720.6" stroke="#000" stroke-width="1.8" />
<line x1="409.1" y1="732.4" x2="409.1" y2="735.3" stroke="#000" stroke-width="1.8" />
<rect x="401.6" y="720.6" width="15" height="11.8" fill="none" stroke="#000" stroke-width="1.8" />
<line x1="401.6" y1="727.5" x2="416.6" y2="727.5" stroke="#000" stroke-width="1.8" />
<circle cx="412.9" cy="715.9" r="4.7" fill="#7868D0" />
<circle cx="411.6" cy="717.2" r="4.7" fill="#7868D0" />
<circle cx="411.3" cy="720.6" r="4.7" fill="#7868D0" />
<circle cx="410.9" cy="722.3" r="4.7" fill="#7868D0" />
<circle cx="411.2" cy="727.8" r="4.7" fill="#7868D0" />
<circle cx="405.4" cy="727.9" r="4.7" fill="#7868D0" />
<circle cx="409.6" cy="732.4" r="4.7" fill="#7868D0" />
<circle cx="406.9" cy="734.4" r="4.7" fill="#7868D0" />
<circle cx="407" cy="758.3" r="4.7" fill="#7868D0" />
<circle cx="411.2" cy="813.8" r="4.7" fill="#7868D0" />
<circle cx="408" cy="843.4" r="4.7" fill="#7868D0" />
<line x1="433.2" y1="720.6" x2="433.2" y2="730.4" stroke="#000" stroke-width="1.8" />
<line x1="433.2" y1="745.2" x2="433.2" y2="746.2" stroke="#000" stroke-width="1.8" />
<rect x="425.7" y="730.4" width="15" height="14.8" fill="none" stroke="#000" stroke-width="1.8" />
<line x1="425.7" y1="737.3" x2="440.7" y2="737.3" stroke="#000" stroke-width="1.8" />
<circle cx="432" cy="720.3" r="4.7" fill="#C0CCF4" />
<circle cx="429.7" cy="724.5" r="4.7" fill="#C0CCF4" />
<circle cx="437.2" cy="728.2" r="4.7" fill="#C0CCF4" />
<circle cx="435.3" cy="731.4" r="4.7" fill="#C0CCF4" />
<circle cx="434.8" cy="736.1" r="4.7" fill="#C0CCF4" />
<circle cx="434.7" cy="738.4" r="4.7" fill="#C0CCF4" />
<circle cx="433.1" cy="741.7" r="4.7" fill="#C0CCF4" />
<circle cx="436.6" cy="743.2" r="4.7" fill="#C0CCF4" />
<circle cx="429.8" cy="746.9" r="4.7" fill="#C0CCF4" />
<circle cx="436.7" cy="781.7" r="4.7" fill="#C0CCF4" />
<circle cx="432.8" cy="810.9" r="4.7" fill="#C0CCF4" />
<circle cx="430.6" cy="820.3" r="4.7" fill="#C0CCF4" />
<circle cx="430.7" cy="841" r="4.7" fill="#C0CCF4" />
<line x1="457.4" y1="715.6" x2="457.4" y2="719.6" stroke="#000" stroke-width="1.8" />
<line x1="457.4" y1="728.5" x2="457.4" y2="729.4" stroke="#000" stroke-width="1.8" />
<rect x="449.9" y="719.6" width="15" height="8.9" fill="none" stroke="#000" stroke-width="1.8" />
<line x1="449.9" y1="724.5" x2="464.9" y2="724.5" stroke="#000" stroke-width="1.8" />
<circle cx="455.8" cy="714.8" r="4.7" fill="#F09848" />
<circle cx="459" cy="719" r="4.7" fill="#F09848" />
<circle cx="455.7" cy="720.2" r="4.7" fill="#F09848" />
<circle cx="456.7" cy="723.6" r="4.7" fill="#F09848" />
<circle cx="458.1" cy="723.8" r="4.7" fill="#F09848" />
<circle cx="455" cy="725" r="4.7" fill="#F09848" />
<circle cx="457.2" cy="728.1" r="4.7" fill="#F09848" />
<circle cx="454.6" cy="729" r="4.7" fill="#F09848" />
<circle cx="455.9" cy="747" r="4.7" fill="#F09848" />
<line x1="481.6" y1="714.7" x2="481.6" y2="718.6" stroke="#000" stroke-width="1.8" />
<line x1="481.6" y1="729.4" x2="481.6" y2="733.4" stroke="#000" stroke-width="1.8" />
<rect x="474.1" y="718.6" width="15" height="10.8" fill="none" stroke="#000" stroke-width="1.8" />
<line x1="474.1" y1="724.5" x2="489.1" y2="724.5" stroke="#000" stroke-width="1.8" />
<circle cx="478.6" cy="716.1" r="4.7" fill="#5890D8" />
<circle cx="481.4" cy="716.9" r="4.7" fill="#5890D8" />
<circle cx="481.3" cy="719.6" r="4.7" fill="#5890D8" />
<circle cx="484.3" cy="720.7" r="4.7" fill="#5890D8" />
<circle cx="481.4" cy="724.2" r="4.7" fill="#5890D8" />
<circle cx="484.6" cy="726.2" r="4.7" fill="#5890D8" />
<circle cx="483.5" cy="729.8" r="4.7" fill="#5890D8" />
<circle cx="481.3" cy="730.6" r="4.7" fill="#5890D8" />
<circle cx="479.3" cy="734" r="4.7" fill="#5890D8" />
<line x1="505.7" y1="712.7" x2="505.7" y2="717.6" stroke="#000" stroke-width="1.8" />
<line x1="505.7" y1="730.4" x2="505.7" y2="735.3" stroke="#000" stroke-width="1.8" />
<rect x="498.2" y="717.6" width="15" height="12.8" fill="none" stroke="#000" stroke-width="1.8" />
<line x1="498.2" y1="723.5" x2="513.2" y2="723.5" stroke="#000" stroke-width="1.8" />
<circle cx="507.2" cy="714.1" r="4.7" fill="#C07060" />
<circle cx="508.7" cy="714.9" r="4.7" fill="#C07060" />
<circle cx="503.1" cy="717.9" r="4.7" fill="#C07060" />
<circle cx="503.1" cy="721.2" r="4.7" fill="#C07060" />
<circle cx="508.7" cy="724.7" r="4.7" fill="#C07060" />
<circle cx="503.7" cy="727.6" r="4.7" fill="#C07060" />
<circle cx="504.2" cy="728.2" r="4.7" fill="#C07060" />
<circle cx="507.6" cy="731.1" r="4.7" fill="#C07060" />
<circle cx="502.3" cy="736.3" r="4.7" fill="#C07060" />
<circle cx="504" cy="860" r="4.7" fill="#C07060" />
<line x1="529.9" y1="730.4" x2="529.9" y2="762.9" stroke="#000" stroke-width="1.8" />
<line x1="529.9" y1="819.1" x2="529.9" y2="845.7" stroke="#000" stroke-width="1.8" />
<rect x="522.4" y="762.9" width="15" height="56.1" fill="none" stroke="#000" stroke-width="1.8" />
<line x1="522.4" y1="805.3" x2="537.4" y2="805.3" stroke="#000" stroke-width="1.8" />
<circle cx="530.6" cy="724.1" r="4.7" fill="#EE70DD" />
<circle cx="525.7" cy="726" r="4.7" fill="#EE70DD" />
<circle cx="529.3" cy="729.4" r="4.7" fill="#EE70DD" />
<circle cx="527.4" cy="732.6" r="4.7" fill="#EE70DD" />
<circle cx="533.7" cy="772.4" r="4.7" fill="#EE70DD" />
<circle cx="530.3" cy="776.6" r="4.7" fill="#EE70DD" />
<circle cx="528" cy="786.1" r="4.7" fill="#EE70DD" />
<circle cx="526.6" cy="793.6" r="4.7" fill="#EE70DD" />
<circle cx="533.3" cy="798.2" r="4.7" fill="#EE70DD" />
<circle cx="533.6" cy="803.9" r="4.7" fill="#EE70DD" />
<circle cx="532.2" cy="810" r="4.7" fill="#EE70DD" />
<circle cx="528.2" cy="814.7" r="4.7" fill="#EE70DD" />
<circle cx="531.2" cy="822.9" r="4.7" fill="#EE70DD" />
<circle cx="527.9" cy="829.7" r="4.7" fill="#EE70DD" />
<circle cx="533.8" cy="835.3" r="4.7" fill="#EE70DD" />
<circle cx="530.2" cy="839.6" r="4.7" fill="#EE70DD" />
<circle cx="529.8" cy="845.2" r="4.7" fill="#EE70DD" />
<line x1="554" y1="712.7" x2="554" y2="722.5" stroke="#000" stroke-width="1.8" />
<line x1="554" y1="731.4" x2="554" y2="745.2" stroke="#000" stroke-width="1.8" />
<rect x="546.5" y="722.5" width="15" height="8.9" fill="none" stroke="#000" stroke-width="1.8" />
<line x1="546.5" y1="726.5" x2="561.5" y2="726.5" stroke="#000" stroke-width="1.8" />
<circle cx="555.9" cy="713.2" r="4.7" fill="#F08840" />
<circle cx="554.6" cy="713.7" r="4.7" fill="#F08840" />
<circle cx="555.3" cy="718" r="4.7" fill="#F08840" />
<circle cx="551.3" cy="721.7" r="4.7" fill="#F08840" />
<circle cx="555.3" cy="722.4" r="4.7" fill="#F08840" />
<circle cx="557.7" cy="725.4" r="4.7" fill="#F08840" />
<circle cx="552.6" cy="730.1" r="4.7" fill="#F08840" />
<circle cx="554.9" cy="732.6" r="4.7" fill="#F08840" />
<circle cx="555.3" cy="736.2" r="4.7" fill="#F08840" />
<circle cx="552.5" cy="739.3" r="4.7" fill="#F08840" />
<circle cx="550.4" cy="743.9" r="4.7" fill="#F08840" />
<circle cx="556.2" cy="745.3" r="4.7" fill="#F08840" />
<line x1="578.2" y1="714.7" x2="578.2" y2="720.6" stroke="#000" stroke-width="1.8" />
<line x1="578.2" y1="730.4" x2="578.2" y2="735.3" stroke="#000" stroke-width="1.8" />
<rect x="570.7" y="720.6" width="15" height="9.9" fill="none" stroke="#000" stroke-width="1.8" />
<line x1="570.7" y1="725.5" x2="585.7" y2="725.5" stroke="#000" stroke-width="1.8" />
<circle cx="580.2" cy="714.2" r="4.7" fill="#F4C8A8" />
<circle cx="576.2" cy="717.3" r="4.7" fill="#F4C8A8" />
<circle cx="581.3" cy="719.2" r="4.7" fill="#F4C8A8" />
<circle cx="578.2" cy="722.8" r="4.7" fill="#F4C8A8" />
<circle cx="580.5" cy="726" r="4.7" fill="#F4C8A8" />
<circle cx="576.8" cy="729.1" r="4.7" fill="#F4C8A8" />
<circle cx="578.5" cy="733.2" r="4.7" fill="#F4C8A8" />
<circle cx="577" cy="736.4" r="4.7" fill="#F4C8A8" />
<circle cx="574.9" cy="745.5" r="4.7" fill="#F4C8A8" />
<circle cx="574.8" cy="934.1" r="4.7" fill="#F4C8A8" />
<circle cx="580.5" cy="974.4" r="4.7" fill="#F4C8A8" />
<circle cx="575.6" cy="1005.3" r="4.7" fill="#F4C8A8" />
<line x1="602.4" y1="715.6" x2="602.4" y2="721.6" stroke="#000" stroke-width="1.8" />
<line x1="602.4" y1="736.3" x2="602.4" y2="752.1" stroke="#000" stroke-width="1.8" />
<rect x="594.9" y="721.6" width="15" height="14.8" fill="none" stroke="#000" stroke-width="1.8" />
<line x1="594.9" y1="728.5" x2="609.9" y2="728.5" stroke="#000" stroke-width="1.8" />
<circle cx="601.7" cy="716.4" r="4.7" fill="#48B080" />
<circle cx="605" cy="719.3" r="4.7" fill="#48B080" />
<circle cx="603.1" cy="720.5" r="4.7" fill="#48B080" />
<circle cx="601.5" cy="723.6" r="4.7" fill="#48B080" />
<circle cx="602.6" cy="727.7" r="4.7" fill="#48B080" />
<circle cx="599.9" cy="729.7" r="4.7" fill="#48B080" />
<circle cx="604.7" cy="733" r="4.7" fill="#48B080" />
<circle cx="604.9" cy="739.5" r="4.7" fill="#48B080" />
<circle cx="606.1" cy="742.9" r="4.7" fill="#48B080" />
<circle cx="602.8" cy="748.4" r="4.7" fill="#48B080" />
<circle cx="603.5" cy="753.5" r="4.7" fill="#48B080" />
<circle cx="603.9" cy="771.2" r="4.7" fill="#48B080" />
<circle cx="605.4" cy="807.2" r="4.7" fill="#48B080" />
<line x1="626.5" y1="712.7" x2="626.5" y2="717.6" stroke="#000" stroke-width="1.8" />
<line x1="626.5" y1="729.4" x2="626.5" y2="731.4" stroke="#000" stroke-width="1.8" />
<rect x="619" y="717.6" width="15" height="11.8" fill="none" stroke="#000" stroke-width="1.8" />
<line x1="619" y1="723.5" x2="634" y2="723.5" stroke="#000" stroke-width="1.8" />
<circle cx="627.4" cy="713.4" r="4.7" fill="#B07040" />
<circle cx="622.3" cy="716.5" r="4.7" fill="#B07040" />
<circle cx="627.9" cy="718.6" r="4.7" fill="#B07040" />
<circle cx="626.7" cy="721.4" r="4.7" fill="#B07040" />
<circle cx="623.9" cy="724.6" r="4.7" fill="#B07040" />
<circle cx="622.6" cy="727.5" r="4.7" fill="#B07040" />
<circle cx="627.7" cy="729.3" r="4.7" fill="#B07040" />
<circle cx="627.1" cy="732.8" r="4.7" fill="#B07040" />
<line x1="650.7" y1="712.7" x2="650.7" y2="719.6" stroke="#000" stroke-width="1.8" />
<line x1="650.7" y1="729.4" x2="650.7" y2="733.4" stroke="#000" stroke-width="1.8" />
<rect x="643.2" y="719.6" width="15" height="9.9" fill="none" stroke="#000" stroke-width="1.8" />
<line x1="643.2" y1="723.5" x2="658.2" y2="723.5" stroke="#000" stroke-width="1.8" />
<circle cx="654" cy="711.6" r="4.7" fill="#3888F0" />
<circle cx="653.1" cy="716" r="4.7" fill="#3888F0" />
<circle cx="646.9" cy="717.2" r="4.7" fill="#3888F0" />
<circle cx="648.4" cy="718.3" r="4.7" fill="#3888F0" />
<circle cx="651" cy="722.8" r="4.7" fill="#3888F0" />
<circle cx="649.2" cy="724.6" r="4.7" fill="#3888F0" />
<circle cx="652.3" cy="725.4" r="4.7" fill="#3888F0" />
<circle cx="653.7" cy="728.8" r="4.7" fill="#3888F0" />
<circle cx="654.3" cy="731.1" r="4.7" fill="#3888F0" />
<circle cx="652.7" cy="732.9" r="4.7" fill="#3888F0" />
<circle cx="653.3" cy="748.5" r="4.7" fill="#3888F0" />
<line x1="674.8" y1="714.7" x2="674.8" y2="720.6" stroke="#000" stroke-width="1.8" />
<line x1="674.8" y1="730.4" x2="674.8" y2="730.4" stroke="#000" stroke-width="1.8" />
<rect x="667.3" y="720.6" width="15" height="9.9" fill="none" stroke="#000" stroke-width="1.8" />
<line x1="667.3" y1="725.5" x2="682.3" y2="725.5" stroke="#000" stroke-width="1.8" />
<circle cx="677.9" cy="714.5" r="4.7" fill="#801870" />
<circle cx="677" cy="717.6" r="4.7" fill="#801870" />
<circle cx="671.6" cy="719.2" r="4.7" fill="#801870" />
<circle cx="671.3" cy="722.6" r="4.7" fill="#801870" />
<circle cx="672" cy="726.5" r="4.7" fill="#801870" />
<circle cx="676.5" cy="728.6" r="4.7" fill="#801870" />
<circle cx="674.2" cy="730.9" r="4.7" fill="#801870" />
<circle cx="673.2" cy="744.1" r="4.7" fill="#801870" />
<circle cx="677" cy="757.7" r="4.7" fill="#801870" />
<circle cx="672.2" cy="764.1" r="4.7" fill="#801870" />
<circle cx="676.7" cy="765.5" r="4.7" fill="#801870" />
<line x1="699" y1="708.8" x2="699" y2="708.8" stroke="#000" stroke-width="1.8" />
<line x1="699" y1="945.1" x2="699" y2="995.4" stroke="#000" stroke-width="1.8" />
<rect x="691.5" y="708.8" width="15" height="236.4" fill="none" stroke="#000" stroke-width="1.8" />
<line x1="691.5" y1="708.8" x2="706.5" y2="708.8" stroke="#000" stroke-width="1.8" />
<circle cx="697.9" cy="708.8" r="4.7" fill="#F8C858" />
<circle cx="699.8" cy="707.9" r="4.7" fill="#F8C858" />
<circle cx="694.8" cy="707.9" r="4.7" fill="#F8C858" />
<circle cx="701.4" cy="707.7" r="4.7" fill="#F8C858" />
<circle cx="698.7" cy="707.8" r="4.7" fill="#F8C858" />
<circle cx="696.6" cy="707.8" r="4.7" fill="#F8C858" />
<circle cx="698.2" cy="707.8" r="4.7" fill="#F8C858" />
<circle cx="695" cy="708.6" r="4.7" fill="#F8C858" />
<circle cx="696.2" cy="930.3" r="4.7" fill="#F8C858" />
<circle cx="695.3" cy="933.9" r="4.7" fill="#F8C858" />
<circle cx="698.6" cy="938" r="4.7" fill="#F8C858" />
<circle cx="700.7" cy="968.4" r="4.7" fill="#F8C858" />
<circle cx="698.2" cy="971.4" r="4.7" fill="#F8C858" />
<circle cx="695" cy="985.9" r="4.7" fill="#F8C858" />
<circle cx="696.6" cy="991.2" r="4.7" fill="#F8C858" />
<circle cx="698.8" cy="994.4" r="4.7" fill="#F8C858" />
<line x1="723.2" y1="710.7" x2="723.2" y2="721.6" stroke="#000" stroke-width="1.8" />
<line x1="723.2" y1="765.9" x2="723.2" y2="797.4" stroke="#000" stroke-width="1.8" />
<rect x="715.7" y="721.6" width="15" height="44.3" fill="none" stroke="#000" stroke-width="1.8" />
<line x1="715.7" y1="756" x2="730.7" y2="756" stroke="#000" stroke-width="1.8" />
<circle cx="724.2" cy="710.3" r="4.7" fill="#E07070" />
<circle cx="720" cy="713.3" r="4.7" fill="#E07070" />
<circle cx="725.1" cy="717.9" r="4.7" fill="#E07070" />
<circle cx="725.6" cy="723.4" r="4.7" fill="#E07070" />
<circle cx="726.8" cy="729.8" r="4.7" fill="#E07070" />
<circle cx="721.1" cy="742.5" r="4.7" fill="#E07070" />
<circle cx="725.8" cy="748.5" r="4.7" fill="#E07070" />
<circle cx="721.9" cy="751.9" r="4.7" fill="#E07070" />
<circle cx="724.7" cy="759.4" r="4.7" fill="#E07070" />
<circle cx="723.9" cy="760.5" r="4.7" fill="#E07070" />
<circle cx="719.2" cy="764.7" r="4.7" fill="#E07070" />
<circle cx="720.4" cy="768.4" r="4.7" fill="#E07070" />
<circle cx="719.4" cy="775.2" r="4.7" fill="#E07070" />
<circle cx="726.5" cy="796.5" r="4.7" fill="#E07070" />
<line x1="747.3" y1="708.8" x2="747.3" y2="712.7" stroke="#000" stroke-width="1.8" />
<line x1="747.3" y1="725.5" x2="747.3" y2="729.4" stroke="#000" stroke-width="1.8" />
<rect x="739.8" y="712.7" width="15" height="12.8" fill="none" stroke="#000" stroke-width="1.8" />
<line x1="739.8" y1="718.6" x2="754.8" y2="718.6" stroke="#000" stroke-width="1.8" />
<circle cx="751.3" cy="708.7" r="4.7" fill="#F08838" />
<circle cx="749.9" cy="712" r="4.7" fill="#F08838" />
<circle cx="751" cy="711.3" r="4.7" fill="#F08838" />
<circle cx="745.7" cy="716" r="4.7" fill="#F08838" />
<circle cx="751.1" cy="717.4" r="4.7" fill="#F08838" />
<circle cx="745.6" cy="722.6" r="4.7" fill="#F08838" />
<circle cx="744.1" cy="724.2" r="4.7" fill="#F08838" />
<circle cx="745.9" cy="728" r="4.7" fill="#F08838" />
<circle cx="750.9" cy="728.5" r="4.7" fill="#F08838" />
<line x1="771.5" y1="710.7" x2="771.5" y2="722.5" stroke="#000" stroke-width="1.8" />
<line x1="771.5" y1="760" x2="771.5" y2="806.3" stroke="#000" stroke-width="1.8" />
<rect x="764" y="722.5" width="15" height="37.4" fill="none" stroke="#000" stroke-width="1.8" />
<line x1="764" y1="728.5" x2="779" y2="728.5" stroke="#000" stroke-width="1.8" />
<circle cx="773.5" cy="711.4" r="4.7" fill="#48B088" />
<circle cx="774.3" cy="713.8" r="4.7" fill="#48B088" />
<circle cx="775" cy="716.2" r="4.7" fill="#48B088" />
<circle cx="770.8" cy="718.8" r="4.7" fill="#48B088" />
<circle cx="773.8" cy="723.5" r="4.7" fill="#48B088" />
<circle cx="769.5" cy="727.5" r="4.7" fill="#48B088" />
<circle cx="773.3" cy="738.6" r="4.7" fill="#48B088" />
<circle cx="773.2" cy="742.9" r="4.7" fill="#48B088" />
<circle cx="771.4" cy="757" r="4.7" fill="#48B088" />
<circle cx="773.2" cy="758.5" r="4.7" fill="#48B088" />
<circle cx="771.2" cy="762.7" r="4.7" fill="#48B088" />
<circle cx="773" cy="804.1" r="4.7" fill="#48B088" />
<circle cx="769.3" cy="808.3" r="4.7" fill="#48B088" />
<circle cx="772.7" cy="810.4" r="4.7" fill="#48B088" />
<circle cx="774.6" cy="843.5" r="4.7" fill="#48B088" />
<line x1="795.6" y1="708.8" x2="795.6" y2="708.8" stroke="#000" stroke-width="1.8" />
<line x1="795.6" y1="723.5" x2="795.6" y2="723.5" stroke="#000" stroke-width="1.8" />
<rect x="788.1" y="708.8" width="15" height="14.8" fill="none" stroke="#000" stroke-width="1.8" />
<line x1="788.1" y1="709.7" x2="803.1" y2="709.7" stroke="#000" stroke-width="1.8" />
<circle cx="799" cy="709.4" r="4.7" fill="#98B8A0" />
<circle cx="794.2" cy="708.4" r="4.7" fill="#98B8A0" />
<circle cx="792" cy="709.4" r="4.7" fill="#98B8A0" />
<circle cx="799.5" cy="709.5" r="4.7" fill="#98B8A0" />
<circle cx="796.2" cy="757.8" r="4.7" fill="#98B8A0" />
<circle cx="792.1" cy="761.4" r="4.7" fill="#98B8A0" />
<circle cx="793.5" cy="760.6" r="4.7" fill="#98B8A0" />
<circle cx="792.7" cy="795.9" r="4.7" fill="#98B8A0" />
<line x1="819.8" y1="714.7" x2="819.8" y2="728.5" stroke="#000" stroke-width="1.8" />
<line x1="819.8" y1="783.6" x2="819.8" y2="834.8" stroke="#000" stroke-width="1.8" />
<rect x="812.3" y="728.5" width="15" height="55.2" fill="none" stroke="#000" stroke-width="1.8" />
<line x1="812.3" y1="740.3" x2="827.3" y2="740.3" stroke="#000" stroke-width="1.8" />
<circle cx="820.5" cy="713.2" r="4.7" fill="#E8B0D0" />
<circle cx="817.5" cy="720" r="4.7" fill="#E8B0D0" />
<circle cx="817.4" cy="722.7" r="4.7" fill="#E8B0D0" />
<circle cx="819.1" cy="729.3" r="4.7" fill="#E8B0D0" />
<circle cx="820.7" cy="734.2" r="4.7" fill="#E8B0D0" />
<circle cx="820.1" cy="737.4" r="4.7" fill="#E8B0D0" />
<circle cx="817.1" cy="742" r="4.7" fill="#E8B0D0" />
<circle cx="822.5" cy="747" r="4.7" fill="#E8B0D0" />
<circle cx="815.8" cy="779.1" r="4.7" fill="#E8B0D0" />
<circle cx="817.3" cy="781.8" r="4.7" fill="#E8B0D0" />
<circle cx="816.3" cy="797.3" r="4.7" fill="#E8B0D0" />
<circle cx="817.5" cy="803.3" r="4.7" fill="#E8B0D0" />
<circle cx="820.8" cy="809.6" r="4.7" fill="#E8B0D0" />
<circle cx="822" cy="837.9" r="4.7" fill="#E8B0D0" />
<circle cx="818.5" cy="840.1" r="4.7" fill="#E8B0D0" />
<line x1="844" y1="714.7" x2="844" y2="718.6" stroke="#000" stroke-width="1.8" />
<line x1="844" y1="734.4" x2="844" y2="744.2" stroke="#000" stroke-width="1.8" />
<rect x="836.5" y="718.6" width="15" height="15.8" fill="none" stroke="#000" stroke-width="1.8" />
<line x1="836.5" y1="726.5" x2="851.5" y2="726.5" stroke="#000" stroke-width="1.8" />
<circle cx="843.5" cy="713.5" r="4.7" fill="#984058" />
<circle cx="846.8" cy="717.9" r="4.7" fill="#984058" />
<circle cx="846.6" cy="719.7" r="4.7" fill="#984058" />
<circle cx="844.3" cy="723.4" r="4.7" fill="#984058" />
<circle cx="845.9" cy="725.2" r="4.7" fill="#984058" />
<circle cx="842.7" cy="729.4" r="4.7" fill="#984058" />
<circle cx="840.4" cy="732.5" r="4.7" fill="#984058" />
<circle cx="845.9" cy="734.1" r="4.7" fill="#984058" />
<circle cx="845.2" cy="738.6" r="4.7" fill="#984058" />
<circle cx="841.6" cy="741.8" r="4.7" fill="#984058" />
<circle cx="848.1" cy="743.7" r="4.7" fill="#984058" />
<circle cx="843.4" cy="773.5" r="4.7" fill="#984058" />
<text x="900" y="657" font-size="50" font-weight="bold">d</text>
<text x="1205.5" y="655" font-size="26.9" text-anchor="middle" font-weight="bold">Self validation (RJ-cohort 1)</text>
<path d="M1018 1109.6V962.5H1021.5V920.5H1025.1V885.4H1028.6V864.4H1032.1V843.4H1035.7V829.4H1039.2V815.4H1042.7V808.4H1046.3V801.4H1049.8V787.4H1056.9V773.4H1063.9V766.4H1067.5V759.3H1071V752.3H1085.1V745.3H1095.7V738.3H1102.8V731.3H1131V724.3H1138.1V717.3H1159.3V710.3H1201.7V703.3H1251.1V696.3H1346.5V689.3H1441.9" fill="none" stroke="#E8B888" stroke-width="1.5"/>
<path d="M1018 1109.6V1004.5H1021.5V948.5H1025.1V920.5H1028.6V899.4H1032.1V885.4H1035.7V871.4H1039.2V857.4H1042.7V843.4H1049.8V829.4H1056.9V815.4H1067.5V808.4H1071V801.4H1074.5V794.4H1081.6V787.4H1088.7V780.4H1092.2V773.4H1106.3V759.3H1124V752.3H1127.5V745.3H1138.1V738.3H1145.2V731.3H1166.4V724.3H1191.1V717.3H1222.9V710.3H1254.7V703.3H1300.6V696.3H1381.8V689.3H1441.9" fill="none" stroke="#A78BC0" stroke-width="1.5"/>
<path d="M1018 1109.6V941.5H1021.5V885.4H1025.1V864.4H1028.6V836.4H1032.1V829.4H1039.2V808.4H1042.7V801.4H1046.3V794.4H1049.8V787.4H1056.9V780.4H1060.4V773.4H1067.5V766.4H1078.1V759.3H1088.7V752.3H1092.2V745.3H1109.8V738.3H1124V731.3H1138.1V724.3H1159.3V717.3H1198.2V710.3H1237V703.3H1282.9V696.3H1385.4V689.3H1441.9" fill="none" stroke="#9040D0" stroke-width="1.5"/>
<path d="M1018 1109.6V948.5H1021.5V878.4H1025.1V843.4H1028.6V822.4H1032.1V815.4H1035.7V801.4H1039.2V794.4H1042.7V780.4H1049.8V773.4H1053.3V766.4H1056.9V759.3H1060.4V752.3H1067.5V745.3H1074.5V738.3H1078.1V731.3H1085.1V724.3H1102.8V717.3H1120.4V710.3H1145.2V703.3H1184V696.3H1282.9V689.3H1441.9" fill="none" stroke="#E4B4D4" stroke-width="1.5"/>
<path d="M1018 1109.6V997.5H1021.5V955.5H1025.1V913.5H1028.6V885.4H1032.1V857.4H1039.2V850.4H1053.3V843.4H1056.9V836.4H1060.4V829.4H1067.5V815.4H1071V808.4H1074.5V794.4H1099.2V787.4H1113.4V780.4H1124V773.4H1145.2V766.4H1148.7V759.3H1162.8V752.3H1191.1V745.3H1208.8V738.3H1215.8V731.3H1237V724.3H1265.3V717.3H1307.7V710.3H1350.1V703.3H1388.9V696.3H1431.3V689.3H1441.9" fill="none" stroke="#E04860" stroke-width="1.5"/>
<path d="M1018 1109.6V997.5H1021.5V934.5H1025.1V885.4H1028.6V864.4H1032.1V836.4H1035.7V815.4H1039.2V801.4H1042.7V794.4H1046.3V780.4H1049.8V773.4H1053.3V766.4H1060.4V752.3H1067.5V745.3H1071V738.3H1078.1V731.3H1085.1V724.3H1099.2V717.3H1109.8V710.3H1134.6V703.3H1159.3V696.3H1219.4V689.3H1441.9" fill="none" stroke="#B5CF88" stroke-width="1.5"/>
<path d="M1018 1109.6V885.4H1021.5V843.4H1025.1V808.4H1028.6V794.4H1032.1V780.4H1035.7V773.4H1039.2V766.4H1049.8V759.3H1053.3V752.3H1056.9V745.3H1060.4V738.3H1067.5V731.3H1095.7V724.3H1106.3V717.3H1124V710.3H1162.8V703.3H1219.4V696.3H1304.1V689.3H1441.9" fill="none" stroke="#5A8A3A" stroke-width="1.5"/>
<path d="M1018 1109.6V906.5H1021.5V850.4H1025.1V829.4H1028.6V808.4H1032.1V801.4H1035.7V787.4H1039.2V780.4H1042.7V773.4H1046.3V766.4H1056.9V759.3H1060.4V752.3H1067.5V745.3H1074.5V738.3H1092.2V731.3H1099.2V724.3H1131V717.3H1141.6V710.3H1191.1V703.3H1258.2V696.3H1350.1V689.3H1441.9" fill="none" stroke="#88CC88" stroke-width="1.5"/>
<path d="M1018 1109.6V955.5H1021.5V899.4H1025.1V864.4H1028.6V829.4H1032.1V808.4H1039.2V794.4H1042.7V780.4H1046.3V773.4H1053.3V759.3H1063.9V752.3H1071V738.3H1078.1V731.3H1088.7V724.3H1106.3V717.3H1120.4V710.3H1162.8V703.3H1198.2V696.3H1293.5V689.3H1441.9" fill="none" stroke="#6CC070" stroke-width="1.5"/>
<path d="M1018 1109.6V871.4H1021.5V822.4H1025.1V801.4H1028.6V794.4H1032.1V780.4H1035.7V773.4H1039.2V766.4H1042.7V759.3H1049.8V752.3H1053.3V745.3H1063.9V738.3H1071V731.3H1081.6V724.3H1095.7V717.3H1138.1V710.3H1159.3V703.3H1230V696.3H1335.9V689.3H1441.9" fill="none" stroke="#3070D0" stroke-width="1.5"/>
<path d="M1018 1109.6V843.4H1021.5V801.4H1025.1V773.4H1028.6V759.3H1032.1V752.3H1035.7V738.3H1042.7V731.3H1056.9V724.3H1063.9V717.3H1081.6V710.3H1120.4V703.3H1173.4V696.3H1279.4V689.3H1441.9" fill="none" stroke="#88CCF0" stroke-width="1.5"/>
<path d="M1018 1109.6V976.5H1021.5V927.5H1025.1V885.4H1028.6V864.4H1035.7V850.4H1042.7V843.4H1046.3V829.4H1049.8V822.4H1056.9V815.4H1060.4V801.4H1067.5V787.4H1074.5V780.4H1088.7V766.4H1095.7V759.3H1109.8V752.3H1124V745.3H1141.6V738.3H1173.4V731.3H1191.1V724.3H1212.3V717.3H1240.5V710.3H1286.5V703.3H1325.3V696.3H1392.4V689.3H1441.9" fill="none" stroke="#5090C8" stroke-width="1.5"/>
<path d="M1018 1109.6V899.4H1021.5V864.4H1025.1V843.4H1028.6V822.4H1032.1V801.4H1035.7V794.4H1039.2V787.4H1042.7V780.4H1046.3V773.4H1053.3V759.3H1060.4V752.3H1067.5V745.3H1085.1V738.3H1092.2V731.3H1106.3V724.3H1120.4V717.3H1152.2V710.3H1184V703.3H1254.7V696.3H1350.1V689.3H1441.9" fill="none" stroke="#5870A8" stroke-width="1.5"/>
<path d="M1018 1109.6V885.4H1021.5V843.4H1025.1V815.4H1028.6V794.4H1032.1V787.4H1035.7V773.4H1039.2V766.4H1042.7V759.3H1046.3V752.3H1049.8V745.3H1063.9V738.3H1071V731.3H1085.1V724.3H1095.7V717.3H1120.4V710.3H1152.2V703.3H1219.4V696.3H1332.4V689.3H1441.9" fill="none" stroke="#7868D0" stroke-width="1.5"/>
<path d="M1018 1109.6V976.5H1021.5V920.5H1025.1V885.4H1028.6V864.4H1032.1V836.4H1035.7V822.4H1039.2V808.4H1042.7V801.4H1046.3V787.4H1053.3V780.4H1056.9V766.4H1067.5V759.3H1071V752.3H1085.1V745.3H1102.8V738.3H1113.4V731.3H1124V724.3H1134.6V717.3H1166.4V710.3H1191.1V703.3H1237V696.3H1328.9V689.3H1441.9" fill="none" stroke="#C0CCF4" stroke-width="1.5"/>
<path d="M1018 1109.6V962.5H1021.5V906.5H1025.1V878.4H1028.6V871.4H1032.1V857.4H1035.7V850.4H1039.2V843.4H1042.7V822.4H1046.3V815.4H1053.3V801.4H1056.9V787.4H1067.5V780.4H1071V773.4H1085.1V766.4H1116.9V759.3H1124V752.3H1131V745.3H1152.2V738.3H1166.4V731.3H1191.1V724.3H1208.8V717.3H1247.6V710.3H1268.8V703.3H1339.5V696.3H1403V689.3H1441.9" fill="none" stroke="#F09848" stroke-width="1.5"/>
<path d="M1018 1109.6V1060.6H1021.5V1011.5H1025.1V976.5H1028.6V948.5H1032.1V934.5H1035.7V927.5H1042.7V913.5H1046.3V899.4H1049.8V878.4H1056.9V857.4H1060.4V850.4H1063.9V843.4H1067.5V836.4H1071V829.4H1074.5V822.4H1078.1V815.4H1085.1V801.4H1092.2V794.4H1102.8V787.4H1106.3V780.4H1116.9V773.4H1131V766.4H1141.6V759.3H1152.2V752.3H1159.3V745.3H1162.8V738.3H1177V731.3H1194.6V724.3H1222.9V717.3H1251.1V710.3H1261.7V703.3H1314.7V696.3H1371.2V689.3H1441.9" fill="none" stroke="#5890D8" stroke-width="1.5"/>
<path d="M1018 1109.6V1004.5H1021.5V955.5H1025.1V913.5H1028.6V892.4H1032.1V871.4H1035.7V857.4H1039.2V843.4H1042.7V829.4H1046.3V815.4H1053.3V808.4H1056.9V801.4H1063.9V794.4H1067.5V787.4H1074.5V773.4H1078.1V766.4H1102.8V759.3H1113.4V752.3H1120.4V745.3H1134.6V738.3H1148.7V731.3H1155.8V724.3H1187.6V717.3H1219.4V710.3H1254.7V703.3H1290V696.3H1371.2V689.3H1441.9" fill="none" stroke="#C07060" stroke-width="1.5"/>
<path d="M1018 1109.6V962.5H1021.5V920.5H1025.1V878.4H1028.6V857.4H1032.1V843.4H1035.7V822.4H1039.2V808.4H1042.7V801.4H1046.3V787.4H1056.9V780.4H1063.9V773.4H1067.5V766.4H1071V759.3H1081.6V752.3H1088.7V745.3H1095.7V738.3H1099.2V731.3H1113.4V724.3H1141.6V717.3H1155.8V710.3H1194.6V703.3H1226.4V696.3H1325.3V689.3H1441.9" fill="none" stroke="#EE70DD" stroke-width="1.5"/>
<path d="M1018 1109.6V899.4H1021.5V857.4H1025.1V822.4H1028.6V808.4H1032.1V794.4H1035.7V787.4H1039.2V773.4H1042.7V766.4H1046.3V759.3H1049.8V752.3H1053.3V745.3H1063.9V738.3H1071V731.3H1078.1V724.3H1099.2V717.3H1120.4V710.3H1148.7V703.3H1205.2V696.3H1275.9V689.3H1441.9" fill="none" stroke="#F08840" stroke-width="1.5"/>
<path d="M1018 1109.6V892.4H1021.5V850.4H1025.1V829.4H1028.6V815.4H1032.1V794.4H1035.7V780.4H1039.2V773.4H1049.8V766.4H1056.9V759.3H1063.9V752.3H1071V745.3H1092.2V738.3H1099.2V731.3H1113.4V724.3H1138.1V717.3H1159.3V710.3H1212.3V703.3H1258.2V696.3H1353.6V689.3H1441.9" fill="none" stroke="#F4C8A8" stroke-width="1.5"/>
<path d="M1018 1109.6V934.5H1021.5V864.4H1025.1V815.4H1028.6V794.4H1032.1V773.4H1035.7V766.4H1039.2V752.3H1042.7V745.3H1046.3V738.3H1053.3V731.3H1056.9V724.3H1067.5V717.3H1074.5V710.3H1092.2V703.3H1109.8V696.3H1198.2V689.3H1441.9" fill="none" stroke="#48B080" stroke-width="1.5"/>
<path d="M1018 1109.6V913.5H1021.5V836.4H1025.1V801.4H1028.6V773.4H1032.1V766.4H1035.7V759.3H1039.2V752.3H1042.7V745.3H1049.8V738.3H1053.3V731.3H1060.4V724.3H1063.9V717.3H1078.1V710.3H1095.7V703.3H1131V696.3H1191.1V689.3H1441.9" fill="none" stroke="#B07040" stroke-width="1.5"/>
<path d="M1018 1109.6V1067.6H1021.5V1032.5H1025.1V990.5H1028.6V962.5H1032.1V941.5H1035.7V920.5H1039.2V899.4H1042.7V892.4H1046.3V871.4H1049.8V864.4H1053.3V850.4H1056.9V836.4H1060.4V829.4H1067.5V815.4H1071V808.4H1074.5V801.4H1081.6V787.4H1092.2V780.4H1095.7V773.4H1102.8V766.4H1109.8V759.3H1116.9V752.3H1124V745.3H1134.6V738.3H1152.2V731.3H1162.8V724.3H1177V717.3H1194.6V710.3H1215.8V703.3H1268.8V696.3H1314.7V689.3H1441.9" fill="none" stroke="#3888F0" stroke-width="1.5"/>
<path d="M1018 1109.6V997.5H1021.5V941.5H1025.1V906.5H1028.6V899.4H1032.1V871.4H1035.7V857.4H1039.2V850.4H1042.7V829.4H1046.3V815.4H1053.3V808.4H1056.9V801.4H1067.5V794.4H1074.5V787.4H1078.1V780.4H1085.1V773.4H1088.7V766.4H1092.2V759.3H1095.7V752.3H1113.4V745.3H1124V738.3H1141.6V731.3H1152.2V724.3H1169.9V717.3H1201.7V710.3H1215.8V703.3H1290V696.3H1357.1V689.3H1441.9" fill="none" stroke="#801870" stroke-width="1.5"/>
<path d="M1018 1109.6V1011.5H1021.5V948.5H1025.1V920.5H1028.6V892.4H1032.1V878.4H1035.7V857.4H1039.2V843.4H1042.7V836.4H1046.3V829.4H1049.8V822.4H1053.3V815.4H1060.4V801.4H1063.9V787.4H1074.5V773.4H1085.1V766.4H1088.7V759.3H1099.2V752.3H1109.8V745.3H1124V738.3H1131V731.3H1162.8V724.3H1173.4V717.3H1205.2V710.3H1233.5V703.3H1275.9V696.3H1364.2V689.3H1441.9" fill="none" stroke="#F8C858" stroke-width="1.5"/>
<path d="M1018 1109.6V962.5H1021.5V892.4H1025.1V850.4H1028.6V822.4H1032.1V801.4H1035.7V787.4H1039.2V780.4H1042.7V766.4H1046.3V752.3H1049.8V745.3H1056.9V738.3H1060.4V731.3H1067.5V724.3H1078.1V717.3H1092.2V710.3H1116.9V703.3H1148.7V696.3H1191.1V689.3H1441.9" fill="none" stroke="#E07070" stroke-width="1.5"/>
<path d="M1018 1109.6V948.5H1021.5V892.4H1025.1V857.4H1028.6V836.4H1032.1V822.4H1035.7V808.4H1039.2V801.4H1042.7V787.4H1049.8V780.4H1053.3V766.4H1056.9V759.3H1063.9V752.3H1067.5V745.3H1078.1V738.3H1095.7V731.3H1102.8V724.3H1131V717.3H1155.8V710.3H1191.1V703.3H1222.9V696.3H1346.5V689.3H1441.9" fill="none" stroke="#F08838" stroke-width="1.5"/>
<path d="M1018 1109.6V857.4H1021.5V808.4H1025.1V773.4H1028.6V766.4H1032.1V759.3H1035.7V752.3H1039.2V745.3H1046.3V738.3H1060.4V731.3H1071V724.3H1081.6V717.3H1106.3V710.3H1138.1V703.3H1180.5V696.3H1282.9V689.3H1441.9" fill="none" stroke="#48B088" stroke-width="1.5"/>
<path d="M1018 1109.6V997.5H1021.5V934.5H1025.1V899.4H1028.6V885.4H1035.7V878.4H1039.2V857.4H1042.7V836.4H1046.3V815.4H1056.9V808.4H1060.4V801.4H1071V787.4H1078.1V780.4H1085.1V773.4H1088.7V766.4H1099.2V759.3H1109.8V752.3H1124V745.3H1141.6V738.3H1152.2V731.3H1169.9V724.3H1187.6V717.3H1226.4V710.3H1275.9V703.3H1304.1V696.3H1374.8V689.3H1441.9" fill="none" stroke="#98B8A0" stroke-width="1.5"/>
<path d="M1018 1109.6V850.4H1021.5V808.4H1025.1V780.4H1028.6V773.4H1032.1V766.4H1035.7V752.3H1042.7V745.3H1046.3V738.3H1053.3V731.3H1081.6V724.3H1088.7V717.3H1106.3V710.3H1131V703.3H1184V696.3H1307.7V689.3H1441.9" fill="none" stroke="#E8B0D0" stroke-width="1.5"/>
<path d="M1018 1109.6V913.5H1021.5V843.4H1025.1V801.4H1028.6V780.4H1032.1V773.4H1035.7V766.4H1039.2V752.3H1042.7V745.3H1046.3V738.3H1049.8V731.3H1056.9V724.3H1063.9V717.3H1074.5V710.3H1099.2V703.3H1124V696.3H1201.7V689.3H1441.9" fill="none" stroke="#984058" stroke-width="1.5"/>
<line x1="1018" y1="1109.6" x2="1441.9" y2="689.3" stroke="#333" stroke-width="2.3" stroke-dasharray="5 4"/>
<rect x="996.6" y="669" width="466.8" height="460.6" fill="none" stroke="#000" stroke-width="2.2" />
<line x1="1018" y1="1129.6" x2="1018" y2="1137.6" stroke="#000" stroke-width="2" />
<text x="1015.5" y="1167.1" font-size="24.8" text-anchor="middle">0.00</text>
<line x1="988.6" y1="1109.6" x2="996.6" y2="1109.6" stroke="#000" stroke-width="2" />
<text x="980.4" y="1118.9" font-size="24.8" text-anchor="end">0.00</text>
<line x1="1124" y1="1129.6" x2="1124" y2="1137.6" stroke="#000" stroke-width="2" />
<text x="1121.5" y="1167.1" font-size="24.8" text-anchor="middle">0.75</text>
<line x1="988.6" y1="1004.5" x2="996.6" y2="1004.5" stroke="#000" stroke-width="2" />
<text x="980.4" y="1013.8" font-size="24.8" text-anchor="end">0.25</text>
<line x1="1230" y1="1129.6" x2="1230" y2="1137.6" stroke="#000" stroke-width="2" />
<text x="1227.5" y="1167.1" font-size="24.8" text-anchor="middle">0.50</text>
<line x1="988.6" y1="899.4" x2="996.6" y2="899.4" stroke="#000" stroke-width="2" />
<text x="980.4" y="908.7" font-size="24.8" text-anchor="end">0.50</text>
<line x1="1335.9" y1="1129.6" x2="1335.9" y2="1137.6" stroke="#000" stroke-width="2" />
<text x="1333.4" y="1167.1" font-size="24.8" text-anchor="middle">0.25</text>
<line x1="988.6" y1="794.4" x2="996.6" y2="794.4" stroke="#000" stroke-width="2" />
<text x="980.4" y="803.7" font-size="24.8" text-anchor="end">0.75</text>
<line x1="1441.9" y1="1129.6" x2="1441.9" y2="1137.6" stroke="#000" stroke-width="2" />
<text x="1439.4" y="1167.1" font-size="24.8" text-anchor="middle">1.00</text>
<line x1="988.6" y1="689.3" x2="996.6" y2="689.3" stroke="#000" stroke-width="2" />
<text x="980.4" y="698.6" font-size="24.8" text-anchor="end">1.00</text>
<text x="1242.3" y="1196.1" font-size="24.8" text-anchor="middle">1−Specificity (FPR)</text>
<text x="913.3" y="906.7" font-size="24.8" text-anchor="middle" transform="rotate(-90 913.3 906.7)">Sensitivity (TPR)</text>
<text x="1452" y="840" font-size="14.6" text-anchor="end">AUC of ME11 = 0.969</text>
<text x="1452" y="853.4" font-size="14.6" text-anchor="end">AUC of ME12 = 0.896</text>
<text x="1452" y="866.9" font-size="14.6" text-anchor="end">AUC of ME13 = 0.942</text>
<text x="1452" y="880.3" font-size="14.6" text-anchor="end">AUC of ME14 = 0.955</text>
<text x="1452" y="893.8" font-size="14.6" text-anchor="end">AUC of ME15 = 0.931</text>
<text x="1452" y="907.2" font-size="14.6" text-anchor="end">AUC of ME16 = 0.896</text>
<text x="1452" y="920.6" font-size="14.6" text-anchor="end">AUC of ME17 = 0.869</text>
<text x="1452" y="934.1" font-size="14.6" text-anchor="end">AUC of ME18 = 0.902</text>
<text x="1452" y="947.5" font-size="14.6" text-anchor="end">AUC of ME19 = 0.934</text>
<text x="1452" y="961" font-size="14.6" text-anchor="end">AUC of ME20 = 0.955</text>
<text x="1452" y="974.4" font-size="14.6" text-anchor="end">AUC of ME21 = 0.939</text>
<text x="1452" y="987.8" font-size="14.6" text-anchor="end">AUC of ME22 = 0.971</text>
<text x="1452" y="1001.3" font-size="14.6" text-anchor="end">AUC of ME23 = 0.972</text>
<text x="1452" y="1014.7" font-size="14.6" text-anchor="end">AUC of ME24 = 0.890</text>
<text x="1452" y="1028.2" font-size="14.6" text-anchor="end">AUC of ME25 = 0.909</text>
<text x="1452" y="1041.6" font-size="14.6" text-anchor="end">AUC of ME26 = 0.902</text>
<text x="1452" y="1055" font-size="14.6" text-anchor="end">AUC of ME27 = 0.963</text>
<text x="1452" y="1068.5" font-size="14.6" text-anchor="end">AUC of ME28 = 0.939</text>
<text x="1452" y="1081.9" font-size="14.6" text-anchor="end">AUC of ME29 = 0.965</text>
<text x="1452" y="1095.4" font-size="14.6" text-anchor="end">AUC of ME30 = 0.897</text>
<text x="1452" y="1108.8" font-size="14.6" text-anchor="end">AUC of ME31 = 0.961</text>
<text x="1452" y="1122.2" font-size="14.6" text-anchor="end">AUC of ME32 = 0.972</text>
<text x="1292" y="1001.3" font-size="14.6" text-anchor="end">AUC of ME01 = 0.932</text>
<text x="1292" y="1014.7" font-size="14.6" text-anchor="end">AUC of ME02 = 0.897</text>
<text x="1292" y="1028.2" font-size="14.6" text-anchor="end">AUC of ME03 = 0.925</text>
<text x="1292" y="1041.6" font-size="14.6" text-anchor="end">AUC of ME04 = 0.949</text>
<text x="1292" y="1055" font-size="14.6" text-anchor="end">AUC of ME05 = 0.855</text>
<text x="1292" y="1068.5" font-size="14.6" text-anchor="end">AUC of ME06 = 0.951</text>
<text x="1292" y="1081.9" font-size="14.6" text-anchor="end">AUC of ME07 = 0.952</text>
<text x="1292" y="1095.4" font-size="14.6" text-anchor="end">AUC of ME08 = 0.943</text>
<text x="1292" y="1108.8" font-size="14.6" text-anchor="end">AUC of ME09 = 0.948</text>
<text x="1292" y="1122.2" font-size="14.6" text-anchor="end">AUC of ME10 = 0.952</text>
<text x="1477" y="657" font-size="50" font-weight="bold">e</text>
<text x="1832" y="655" font-size="26.9" text-anchor="middle" font-weight="bold">External validation (Cao et al cohort)</text>
<path d="M1625 1108.3V1076.9H1632.1V1035.1H1646.2V1014.2H1653.3V982.8H1674.5V972.3H1681.5V920H1688.6V899.1H1695.7V878.2H1702.7V857.3H1709.8V825.9H1731V815.4H1738.1V784H1745.1V773.6H1759.3V763.1H1829.9V752.7H1837V742.2H1872.3V731.7H1907.7V721.3H1943V710.8H1978.3V700.4H2020.7V689.9H2049" fill="none" stroke="#E8B888" stroke-width="1.5"/>
<path d="M1625 1108.3V1076.9H1632.1V1045.5H1639.1V982.8H1646.2V940.9H1681.5V909.6H1702.7V899.1H1738.1V888.6H1745.1V867.7H1780.5V836.3H1815.8V825.9H1837V815.4H1844.1V794.5H1858.2V784H1907.7V773.6H1914.7V763.1H1928.9V752.7H1935.9V742.2H1950.1V731.7H1978.3V721.3H1992.5V710.8H2027.8V700.4H2041.9V689.9H2049" fill="none" stroke="#A78BC0" stroke-width="1.5"/>
<path d="M1625 1108.3H1639.1V1045.5H1681.5V961.9H1688.6V930.5H1759.3V909.6H1773.4V878.2H1780.5V825.9H1851.1V805H1900.6V794.5H1914.7V773.6H1971.3V763.1H1985.4V752.7H1999.5V742.2H2006.6V721.3H2020.7V710.8H2034.9V700.4H2049V689.9" fill="none" stroke="#9040D0" stroke-width="1.5"/>
<path d="M1625 1108.3H1632.1V1087.4H1639.1V1076.9H1646.2V1056H1674.5V1024.6H1681.5V1003.7H1709.8V982.8H1731V972.3H1745.1V940.9H1752.2V920H1780.5V888.6H1787.5V878.2H1794.6V867.7H1808.7V857.3H1815.8V846.8H1837V836.3H1851.1V825.9H1858.2V815.4H1893.5V805H1900.6V794.5H1921.8V784H1935.9V773.6H1943V763.1H1957.1V752.7H1964.2V742.2H1978.3V721.3H2006.6V710.8H2027.8V700.4H2049V689.9" fill="none" stroke="#E4B4D4" stroke-width="1.5"/>
<path d="M1625 1108.3V1097.8H1632.1V1087.4H1639.1V1024.6H1646.2V1003.7H1653.3V961.9H1688.6V951.4H1702.7V888.6H1709.8V878.2H1716.9V867.7H1731V857.3H1745.1V846.8H1844.1V825.9H1851.1V815.4H1865.3V794.5H1872.3V784H1879.4V773.6H1886.5V763.1H1893.5V752.7H1907.7V742.2H1921.8V731.7H1978.3V721.3H1992.5V710.8H2013.7V700.4H2041.9V689.9H2049" fill="none" stroke="#E04860" stroke-width="1.5"/>
<path d="M1625 1108.3V1076.9H1632.1V1045.5H1639.1V993.2H1646.2V909.6H1653.3V899.1H1660.3V857.3H1674.5V836.3H1688.6V825.9H1695.7V815.4H1702.7V784H1709.8V763.1H1731V752.7H1738.1V742.2H1759.3V721.3H1794.6V710.8H1837V700.4H1879.4V689.9H2049" fill="none" stroke="#B5CF88" stroke-width="1.5"/>
<path d="M1625 1108.3V1066.5H1632.1V1024.6H1639.1V972.3H1646.2V940.9H1660.3V930.5H1667.4V920H1674.5V888.6H1731V867.7H1738.1V836.3H1759.3V825.9H1773.4V815.4H1801.7V805H1808.7V794.5H1858.2V784H1865.3V773.6H1872.3V763.1H1900.6V752.7H1914.7V742.2H1928.9V731.7H1950.1V721.3H1999.5V710.8H2013.7V700.4H2049V689.9" fill="none" stroke="#5A8A3A" stroke-width="1.5"/>
<path d="M1625 1108.3H1632.1V1097.8H1639.1V1076.9H1653.3V1066.5H1660.3V1003.7H1681.5V982.8H1688.6V940.9H1702.7V909.6H1716.9V888.6H1787.5V857.3H1794.6V846.8H1801.7V836.3H1808.7V825.9H1829.9V815.4H1844.1V805H1851.1V784H1858.2V773.6H1865.3V763.1H1893.5V752.7H1907.7V742.2H1928.9V731.7H1964.2V721.3H1978.3V710.8H1999.5V700.4H2027.8V689.9H2049" fill="none" stroke="#88CC88" stroke-width="1.5"/>
<path d="M1625 1108.3H1639.1V1097.8H1646.2V1066.5H1653.3V1035.1H1667.4V1003.7H1681.5V951.4H1723.9V940.9H1731V888.6H1745.1V867.7H1815.8V846.8H1822.9V836.3H1829.9V805H1879.4V794.5H1893.5V784H1921.8V773.6H1964.2V752.7H1985.4V742.2H1992.5V731.7H2006.6V721.3H2027.8V710.8H2034.9V700.4H2049V689.9" fill="none" stroke="#6CC070" stroke-width="1.5"/>
<path d="M1625 1108.3V1076.9H1632.1V961.9H1639.1V951.4H1646.2V899.1H1653.3V867.7H1667.4V857.3H1674.5V805H1702.7V773.6H1745.1V752.7H1759.3V742.2H1766.3V731.7H1794.6V721.3H1822.9V710.8H1851.1V700.4H1928.9V689.9H2049" fill="none" stroke="#3070D0" stroke-width="1.5"/>
<path d="M1625 1108.3V1003.7H1632.1V940.9H1639.1V888.6H1653.3V878.2H1660.3V857.3H1667.4V825.9H1674.5V805H1695.7V784H1702.7V763.1H1709.8V752.7H1731V742.2H1745.1V731.7H1801.7V721.3H1815.8V710.8H1844.1V700.4H1978.3V689.9H2049" fill="none" stroke="#88CCF0" stroke-width="1.5"/>
<path d="M1625 1108.3H1632.1V1076.9H1639.1V1014.2H1709.8V993.2H1716.9V940.9H1723.9V920H1731V899.1H1745.1V878.2H1773.4V846.8H1780.5V825.9H1865.3V805H1872.3V794.5H1886.5V773.6H1893.5V763.1H1900.6V752.7H1964.2V742.2H1978.3V731.7H1999.5V721.3H2013.7V710.8H2027.8V700.4H2049V689.9" fill="none" stroke="#5090C8" stroke-width="1.5"/>
<path d="M1625 1108.3V1087.4H1632.1V1056H1639.1V993.2H1646.2V951.4H1688.6V940.9H1695.7V867.7H1731V815.4H1738.1V794.5H1837V784H1865.3V773.6H1886.5V763.1H1907.7V752.7H1928.9V742.2H1943V731.7H1971.3V721.3H1999.5V710.8H2020.7V700.4H2049V689.9" fill="none" stroke="#5870A8" stroke-width="1.5"/>
<path d="M1625 1108.3H1632.1V1066.5H1639.1V1045.5H1646.2V1014.2H1667.4V1003.7H1674.5V961.9H1709.8V951.4H1716.9V940.9H1723.9V930.5H1738.1V888.6H1773.4V878.2H1780.5V867.7H1794.6V846.8H1808.7V836.3H1815.8V815.4H1822.9V805H1829.9V784H1837V773.6H1879.4V763.1H1886.5V752.7H1893.5V742.2H1935.9V731.7H1950.1V721.3H1964.2V710.8H1978.3V700.4H2027.8V689.9H2049" fill="none" stroke="#7868D0" stroke-width="1.5"/>
<path d="M1625 1108.3H1639.1V1097.8H1653.3V1056H1688.6V1045.5H1695.7V1035.1H1702.7V1003.7H1709.8V930.5H1716.9V920H1738.1V899.1H1766.3V857.3H1858.2V836.3H1886.5V825.9H1893.5V815.4H1907.7V805H1914.7V794.5H1921.8V784H1943V773.6H1950.1V752.7H1964.2V742.2H1971.3V731.7H1985.4V721.3H1999.5V710.8H2006.6V700.4H2034.9V689.9H2049" fill="none" stroke="#C0CCF4" stroke-width="1.5"/>
<path d="M1625 1108.3V1097.8H1632.1V1076.9H1639.1V1035.1H1646.2V951.4H1667.4V930.5H1674.5V888.6H1709.8V878.2H1780.5V857.3H1794.6V836.3H1844.1V825.9H1851.1V805H1858.2V794.5H1865.3V784H1879.4V773.6H1886.5V763.1H1900.6V742.2H1950.1V731.7H1964.2V721.3H1992.5V710.8H2006.6V700.4H2027.8V689.9H2049" fill="none" stroke="#F09848" stroke-width="1.5"/>
<path d="M1625 1108.3V1087.4H1632.1V1024.6H1660.3V1014.2H1667.4V993.2H1674.5V982.8H1695.7V951.4H1709.8V930.5H1716.9V899.1H1766.3V867.7H1773.4V857.3H1780.5V836.3H1801.7V815.4H1837V805H1851.1V794.5H1865.3V784H1872.3V773.6H1893.5V752.7H1921.8V742.2H1928.9V731.7H1971.3V721.3H1978.3V710.8H2013.7V700.4H2034.9V689.9H2049" fill="none" stroke="#5890D8" stroke-width="1.5"/>
<path d="M1625 1108.3V1035.1H1632.1V1024.6H1639.1V940.9H1646.2V920H1653.3V888.6H1667.4V867.7H1681.5V846.8H1702.7V836.3H1716.9V825.9H1731V815.4H1745.1V805H1780.5V794.5H1787.5V773.6H1844.1V742.2H1886.5V731.7H1900.6V721.3H1964.2V710.8H2013.7V700.4H2049V689.9" fill="none" stroke="#C07060" stroke-width="1.5"/>
<path d="M1625 1108.3V1076.9H1632.1V1056H1639.1V1045.5H1646.2V1035.1H1653.3V1014.2H1688.6V972.3H1695.7V961.9H1709.8V940.9H1716.9V920H1723.9V899.1H1738.1V878.2H1745.1V867.7H1752.2V825.9H1787.5V815.4H1829.9V805H1844.1V794.5H1851.1V784H1872.3V773.6H1900.6V752.7H1914.7V742.2H1935.9V731.7H1971.3V721.3H2006.6V710.8H2020.7V700.4H2041.9V689.9H2049" fill="none" stroke="#EE70DD" stroke-width="1.5"/>
<path d="M1625 1108.3H1632.1V1097.8H1639.1V1087.4H1653.3V1076.9H1660.3V1066.5H1667.4V1024.6H1674.5V1014.2H1681.5V982.8H1752.2V961.9H1759.3V951.4H1766.3V920H1773.4V899.1H1780.5V888.6H1801.7V878.2H1808.7V867.7H1815.8V846.8H1822.9V836.3H1844.1V825.9H1851.1V815.4H1858.2V805H1865.3V794.5H1886.5V763.1H1914.7V752.7H1928.9V742.2H1935.9V731.7H1971.3V721.3H1978.3V710.8H1999.5V700.4H2041.9V689.9H2049" fill="none" stroke="#F08840" stroke-width="1.5"/>
<path d="M1625 1108.3H1632.1V1066.5H1639.1V1056H1653.3V1024.6H1660.3V1014.2H1688.6V940.9H1695.7V909.6H1759.3V857.3H1766.3V846.8H1780.5V836.3H1829.9V825.9H1858.2V815.4H1865.3V794.5H1886.5V784H1893.5V763.1H1900.6V752.7H1950.1V742.2H1964.2V731.7H1971.3V721.3H1999.5V710.8H2020.7V700.4H2041.9V689.9H2049" fill="none" stroke="#F4C8A8" stroke-width="1.5"/>
<path d="M1625 1108.3V1014.2H1632.1V961.9H1639.1V909.6H1646.2V888.6H1653.3V857.3H1660.3V846.8H1667.4V836.3H1674.5V815.4H1681.5V805H1759.3V794.5H1773.4V784H1794.6V773.6H1801.7V763.1H1822.9V752.7H1865.3V742.2H1872.3V731.7H1914.7V721.3H1950.1V710.8H1964.2V700.4H2027.8V689.9H2049" fill="none" stroke="#48B080" stroke-width="1.5"/>
<path d="M1625 1108.3H1639.1V1097.8H1646.2V1087.4H1653.3V1076.9H1667.4V1066.5H1674.5V1014.2H1681.5V1003.7H1695.7V982.8H1702.7V961.9H1709.8V951.4H1766.3V940.9H1780.5V920H1787.5V899.1H1794.6V878.2H1801.7V846.8H1851.1V836.3H1886.5V825.9H1900.6V815.4H1907.7V794.5H1914.7V784H1928.9V763.1H1950.1V752.7H1957.1V742.2H1985.4V731.7H1992.5V721.3H2006.6V710.8H2027.8V700.4H2049V689.9" fill="none" stroke="#B07040" stroke-width="1.5"/>
<path d="M1625 1108.3V972.3H1632.1V899.1H1646.2V878.2H1653.3V846.8H1660.3V836.3H1674.5V815.4H1688.6V784H1695.7V773.6H1716.9V763.1H1723.9V752.7H1752.2V742.2H1773.4V731.7H1794.6V721.3H1829.9V710.8H1907.7V700.4H1992.5V689.9H2049" fill="none" stroke="#3888F0" stroke-width="1.5"/>
<path d="M1625 1108.3V1097.8H1632.1V1076.9H1639.1V1003.7H1646.2V951.4H1667.4V909.6H1702.7V867.7H1709.8V857.3H1716.9V846.8H1723.9V825.9H1731V815.4H1738.1V805H1745.1V784H1752.2V773.6H1780.5V763.1H1794.6V742.2H1801.7V731.7H1822.9V721.3H1851.1V710.8H1865.3V700.4H1921.8V689.9H2049" fill="none" stroke="#801870" stroke-width="1.5"/>
<path d="M1625 1108.3V1066.5H1632.1V1014.2H1639.1V972.3H1646.2V940.9H1660.3V920H1667.4V867.7H1674.5V846.8H1681.5V825.9H1688.6V805H1702.7V773.6H1773.4V752.7H1780.5V742.2H1787.5V731.7H1808.7V721.3H1851.1V710.8H1900.6V700.4H1950.1V689.9H2049" fill="none" stroke="#F8C858" stroke-width="1.5"/>
<path d="M1625 1108.3H1632.1V1097.8H1653.3V1087.4H1660.3V1076.9H1667.4V1035.1H1681.5V993.2H1688.6V982.8H1695.7V909.6H1731V888.6H1773.4V836.3H1808.7V825.9H1822.9V805H1829.9V794.5H1844.1V763.1H1879.4V752.7H1893.5V742.2H1928.9V731.7H1935.9V721.3H1957.1V710.8H1992.5V700.4H2027.8V689.9H2049" fill="none" stroke="#E07070" stroke-width="1.5"/>
<path d="M1625 1108.3V993.2H1632.1V888.6H1639.1V815.4H1646.2V805H1653.3V794.5H1660.3V773.6H1688.6V763.1H1695.7V752.7H1716.9V742.2H1723.9V731.7H1766.3V721.3H1794.6V710.8H1837V700.4H1907.7V689.9H2049" fill="none" stroke="#F08838" stroke-width="1.5"/>
<path d="M1625 1108.3V1097.8H1632.1V1045.5H1639.1V972.3H1646.2V961.9H1653.3V951.4H1667.4V930.5H1674.5V888.6H1681.5V878.2H1688.6V846.8H1702.7V836.3H1709.8V825.9H1716.9V815.4H1723.9V805H1745.1V784H1759.3V773.6H1766.3V763.1H1787.5V752.7H1801.7V742.2H1808.7V731.7H1822.9V721.3H1844.1V710.8H1879.4V700.4H1957.1V689.9H2049" fill="none" stroke="#48B088" stroke-width="1.5"/>
<path d="M1625 1108.3V1024.6H1632.1V961.9H1646.2V951.4H1653.3V930.5H1660.3V920H1667.4V888.6H1681.5V857.3H1688.6V815.4H1702.7V794.5H1716.9V784H1738.1V773.6H1773.4V763.1H1787.5V752.7H1794.6V742.2H1837V731.7H1851.1V710.8H1907.7V700.4H2006.6V689.9H2049" fill="none" stroke="#98B8A0" stroke-width="1.5"/>
<path d="M1625 1108.3V909.6H1632.1V878.2H1639.1V825.9H1646.2V794.5H1660.3V773.6H1667.4V763.1H1674.5V752.7H1695.7V742.2H1709.8V731.7H1773.4V721.3H1815.8V710.8H1865.3V700.4H1928.9V689.9H2049" fill="none" stroke="#E8B0D0" stroke-width="1.5"/>
<path d="M1625 1108.3H1639.1V1097.8H1646.2V1056H1660.3V961.9H1709.8V930.5H1716.9V878.2H1738.1V867.7H1745.1V857.3H1787.5V825.9H1794.6V815.4H1801.7V794.5H1837V784H1851.1V773.6H1865.3V763.1H1872.3V752.7H1879.4V742.2H1893.5V731.7H1928.9V721.3H1943V710.8H1957.1V700.4H2013.7V689.9H2049" fill="none" stroke="#984058" stroke-width="1.5"/>
<line x1="1625" y1="1108.3" x2="2049" y2="689.9" stroke="#000" stroke-width="1.8" />
<rect x="1604" y="668.8" width="466" height="460.9" fill="none" stroke="#000" stroke-width="2.2" />
<line x1="1625" y1="1129.7" x2="1625" y2="1137.7" stroke="#000" stroke-width="2" />
<text x="1631.5" y="1167.2" font-size="24.8" text-anchor="middle">0.00</text>
<line x1="1596" y1="1108.3" x2="1604" y2="1108.3" stroke="#000" stroke-width="2" />
<text x="1592" y="1117.6" font-size="24.8" text-anchor="end">0.00</text>
<line x1="1731" y1="1129.7" x2="1731" y2="1137.7" stroke="#000" stroke-width="2" />
<text x="1737.5" y="1167.2" font-size="24.8" text-anchor="middle">0.75</text>
<line x1="1596" y1="1003.7" x2="1604" y2="1003.7" stroke="#000" stroke-width="2" />
<text x="1592" y="1013" font-size="24.8" text-anchor="end">0.25</text>
<line x1="1837" y1="1129.7" x2="1837" y2="1137.7" stroke="#000" stroke-width="2" />
<text x="1843.5" y="1167.2" font-size="24.8" text-anchor="middle">0.50</text>
<line x1="1596" y1="899.1" x2="1604" y2="899.1" stroke="#000" stroke-width="2" />
<text x="1592" y="908.4" font-size="24.8" text-anchor="end">0.50</text>
<line x1="1943" y1="1129.7" x2="1943" y2="1137.7" stroke="#000" stroke-width="2" />
<text x="1949.5" y="1167.2" font-size="24.8" text-anchor="middle">0.25</text>
<line x1="1596" y1="794.5" x2="1604" y2="794.5" stroke="#000" stroke-width="2" />
<text x="1592" y="803.8" font-size="24.8" text-anchor="end">0.75</text>
<line x1="2049" y1="1129.7" x2="2049" y2="1137.7" stroke="#000" stroke-width="2" />
<text x="2055.5" y="1167.2" font-size="24.8" text-anchor="middle">1.00</text>
<line x1="1596" y1="689.9" x2="1604" y2="689.9" stroke="#000" stroke-width="2" />
<text x="1592" y="699.2" font-size="24.8" text-anchor="end">1.00</text>
<text x="1857.6" y="1196.2" font-size="24.8" text-anchor="middle">1−Specificity (FPR)</text>
<text x="1529.7" y="906.7" font-size="24.8" text-anchor="middle" transform="rotate(-90 1529.7 906.7)">Sensitivity (TPR)</text>
<text x="2059.7" y="837" font-size="14.6" text-anchor="end">AUC of ME11 = 0.885</text>
<text x="2059.7" y="850.4" font-size="14.6" text-anchor="end">AUC of ME12 = 0.607</text>
<text x="2059.7" y="863.9" font-size="14.6" text-anchor="end">AUC of ME13 = 0.691</text>
<text x="2059.7" y="877.3" font-size="14.6" text-anchor="end">AUC of ME14 = 0.695</text>
<text x="2059.7" y="890.8" font-size="14.6" text-anchor="end">AUC of ME15 = 0.525</text>
<text x="2059.7" y="904.2" font-size="14.6" text-anchor="end">AUC of ME16 = 0.670</text>
<text x="2059.7" y="917.6" font-size="14.6" text-anchor="end">AUC of ME17 = 0.701</text>
<text x="2059.7" y="931.1" font-size="14.6" text-anchor="end">AUC of ME18 = 0.785</text>
<text x="2059.7" y="944.5" font-size="14.6" text-anchor="end">AUC of ME19 = 0.710</text>
<text x="2059.7" y="958" font-size="14.6" text-anchor="end">AUC of ME20 = 0.614</text>
<text x="2059.7" y="971.4" font-size="14.6" text-anchor="end">AUC of ME21 = 0.613</text>
<text x="2059.7" y="984.8" font-size="14.6" text-anchor="end">AUC of ME22 = 0.829</text>
<text x="2059.7" y="998.3" font-size="14.6" text-anchor="end">AUC of ME23 = 0.549</text>
<text x="2059.7" y="1011.7" font-size="14.6" text-anchor="end">AUC of ME24 = 0.888</text>
<text x="2059.7" y="1025.2" font-size="14.6" text-anchor="end">AUC of ME25 = 0.830</text>
<text x="2059.7" y="1038.6" font-size="14.6" text-anchor="end">AUC of ME26 = 0.851</text>
<text x="2059.7" y="1052" font-size="14.6" text-anchor="end">AUC of ME27 = 0.671</text>
<text x="2059.7" y="1065.5" font-size="14.6" text-anchor="end">AUC of ME28 = 0.910</text>
<text x="2059.7" y="1078.9" font-size="14.6" text-anchor="end">AUC of ME29 = 0.817</text>
<text x="2059.7" y="1092.4" font-size="14.6" text-anchor="end">AUC of ME30 = 0.851</text>
<text x="2059.7" y="1105.8" font-size="14.6" text-anchor="end">AUC of ME31 = 0.930</text>
<text x="2059.7" y="1119.2" font-size="14.6" text-anchor="end">AUC of ME32 = 0.685</text>
<text x="1901.8" y="998.3" font-size="14.6" text-anchor="end">AUC of ME01 = 0.767</text>
<text x="1901.8" y="1011.7" font-size="14.6" text-anchor="end">AUC of ME02 = 0.712</text>
<text x="1901.8" y="1025.2" font-size="14.6" text-anchor="end">AUC of ME03 = 0.590</text>
<text x="1901.8" y="1038.6" font-size="14.6" text-anchor="end">AUC of ME04 = 0.582</text>
<text x="1901.8" y="1052" font-size="14.6" text-anchor="end">AUC of ME05 = 0.661</text>
<text x="1901.8" y="1065.5" font-size="14.6" text-anchor="end">AUC of ME06 = 0.879</text>
<text x="1901.8" y="1078.9" font-size="14.6" text-anchor="end">AUC of ME07 = 0.727</text>
<text x="1901.8" y="1092.4" font-size="14.6" text-anchor="end">AUC of ME08 = 0.655</text>
<text x="1901.8" y="1105.8" font-size="14.6" text-anchor="end">AUC of ME09 = 0.572</text>
<text x="1901.8" y="1119.2" font-size="14.6" text-anchor="end">AUC of ME10 = 0.877</text>
<text x="4" y="1263" font-size="50" font-weight="bold">f</text>
<text x="265" y="1263" font-size="29" text-anchor="middle" font-weight="bold">Protein-level significance</text>
<text x="269.5" y="1292.3" font-size="29" text-anchor="middle" font-weight="bold">between tumor and TAT</text>
<text x="269.5" y="1321.6" font-size="29" text-anchor="middle" font-weight="bold">in Cao et al cohort</text>
<text x="668" y="1263" font-size="29" text-anchor="middle" font-weight="bold">mRNA-level significance</text>
<text x="672.3" y="1292.3" font-size="29" text-anchor="middle" font-weight="bold">between tumor and TAT</text>
<text x="672.3" y="1321.6" font-size="29" text-anchor="middle" font-weight="bold">in Cao et al cohort</text>
<path d="M255.9 1499.9h0M198.1 1514.9h0M205.4 1516.1h0M218.3 1572.5h0M169.6 1524.4h0M183.4 1517.3h0M210.8 1492.1h0M214.9 1485.4h0M188.3 1511.5h0M223.8 1548.8h0M220.8 1538.2h0M158.6 1509.9h0M201 1509h0M239.9 1533.4h0M243.4 1531.8h0M158.8 1518.1h0M226 1503.5h0M211.4 1501.8h0M178.4 1488.2h0M199.8 1513.7h0M188.8 1526.7h0M182.9 1508.8h0M166.9 1531.3h0M195.6 1509.8h0M253 1513.2h0M173.7 1523.1h0M183.8 1575h0M203.6 1515.8h0M210.8 1512.8h0M157.2 1473.5h0M204 1450.5h0M231.3 1475.6h0M238.8 1461h0M200.4 1514.6h0M178.7 1453h0M233.7 1517h0M221.4 1524.5h0M158.5 1482.1h0M212.8 1529.5h0M204.2 1518.2h0M231.1 1460.4h0M245.7 1519.5h0M198.1 1483.2h0M198.3 1468.7h0M254.2 1501.2h0M183.8 1550.5h0M201.1 1515.5h0M209.5 1460h0M147.8 1485.5h0M184.9 1503.6h0M248 1524.6h0M252.4 1532.5h0M178.4 1563.9h0M216.6 1567.8h0M223.4 1541.7h0M145.7 1512.6h0M227.3 1465.4h0M170.1 1518.4h0M201.5 1512.5h0M232.6 1561.4h0M163.5 1531.2h0M237.1 1510h0M180 1484.5h0M225.7 1479.8h0M220.9 1456.2h0M254.9 1539.5h0M184.3 1475.1h0M184.7 1474.7h0M176.9 1480.7h0M161.9 1476.4h0M185.5 1571.9h0M212.6 1546.4h0M196.7 1546.4h0M159.9 1482h0M251.6 1564h0M235.1 1507.2h0M174.8 1486.8h0M180.2 1475.3h0M216.9 1520.5h0M207.9 1503.2h0M253.6 1470.1h0M195.4 1568.1h0M149.2 1484.9h0M151.6 1494.4h0M227.4 1541h0M191.2 1501.3h0M182.3 1509.5h0M165.4 1466.8h0M192 1479.9h0M211.1 1509.6h0M198.4 1550.3h0M186.3 1538.1h0M212.1 1480.4h0M231 1489.3h0M200.7 1509.5h0M209.6 1490h0M240.6 1478.3h0M217.2 1501.4h0M152.2 1482.7h0M186.2 1527.3h0M173.3 1524h0M237.7 1491.3h0M215.8 1466.8h0M185.2 1552.2h0M159.9 1486.1h0M178.5 1558.3h0M185.9 1497.4h0M237.2 1484.6h0M200.1 1531.6h0M142.7 1524.5h0M219.1 1559.5h0M215.3 1497.7h0M211.4 1503.9h0M237.4 1479.1h0M221.7 1517.1h0M219.6 1524h0M171.4 1568.5h0M156.9 1548.3h0M162.1 1545.3h0M235.3 1492.9h0M229.6 1548.8h0M184.6 1537.7h0M228.9 1472.1h0M190.3 1491.9h0M250.9 1492.3h0M173.7 1533h0M149.8 1510.2h0M198.9 1486.3h0M167.6 1530.5h0M233.6 1467.5h0M168.7 1512.8h0M248.4 1473.7h0M258.9 1533.3h0M181.8 1545.1h0M145.2 1489.3h0M238.4 1517.9h0M152.4 1534.1h0M157.8 1472.5h0M188.8 1498h0M241.6 1485.4h0M144.8 1497.2h0M199.2 1505.1h0M246.1 1471.7h0M184.4 1497.7h0M199 1509h0M166.5 1469h0M143.3 1536.3h0M201.2 1523.6h0M161.6 1533.6h0M203.5 1495h0M160.9 1468.1h0M221.6 1560.1h0M234.5 1530.8h0M149 1516.2h0M209.7 1567.7h0M197.9 1547.8h0M147.9 1443.8h0M216.3 1465.4h0M196 1549.8h0M199.5 1530h0M231.1 1531.6h0M167 1494.8h0M204.4 1498.3h0M202 1510.8h0M213.8 1426.6h0M165.2 1528.6h0M150 1515.9h0M201.2 1541.2h0M233 1532.9h0M196.2 1534h0M184.3 1547.8h0M190.7 1515h0M180.6 1471.8h0M207.5 1479.7h0M207.8 1459.1h0M196.7 1546.6h0M194.3 1466.3h0M208.6 1510.9h0M286.3 1525.6h0M202.8 1521.1h0M151.9 1481.4h0M158.4 1512.2h0M187.2 1564h0M244.8 1467h0M225.8 1549.9h0M162.1 1515.4h0M191.7 1513.2h0M192.8 1469.6h0M246.3 1518.2h0M140.1 1518h0M193.1 1474.8h0M164.7 1541.2h0M283 1403.8h0M276.7 1381.2h0M221 1395.7h0M249.5 1405.2h0M147.5 1419.5h0M225.3 1406.1h0M244.5 1414.3h0M164.4 1442h0M165 1409.6h0M239.1 1387.3h0M174 1429h0M184.4 1395.4h0M222.2 1417.4h0M273.8 1405.9h0M224.8 1413.2h0M245.9 1389.8h0M151.2 1416.2h0M240.3 1382.8h0M282.7 1394.2h0M201.7 1421.9h0M276.6 1385.1h0M153.3 1423.6h0M189.7 1412h0M241.7 1396.5h0M218.1 1408h0M210.6 1403.1h0M258.9 1404.6h0M157.1 1412.8h0M259.3 1412.2h0M282.8 1412.3h0M173.5 1421.5h0M200 1410.6h0M244.8 1400.8h0M174.8 1400.2h0M243.5 1394.2h0M254.2 1383.8h0M270.3 1391h0M257.3 1413.4h0M202.5 1412.3h0M179.2 1402.6h0M229 1392.7h0M195.8 1392.2h0M256.1 1380.8h0M225.2 1389.5h0M206.5 1391.3h0M156.9 1424h0M169.8 1416.2h0M243.5 1414.4h0M176.9 1399.9h0M190.1 1419.2h0M167.5 1417h0M162.8 1420.5h0M249 1390.1h0M275.2 1393.9h0M203.6 1407.4h0M167.1 1419.8h0M239.3 1383.8h0M222.1 1403.1h0M210.5 1421.2h0M187.6 1405.9h0M183.4 1416.6h0M227.8 1395.3h0M256.6 1401.1h0M204.4 1397.2h0M274.9 1394.7h0M238.1 1403.8h0M166.5 1410.1h0M250.6 1405.4h0M240 1390.4h0M191.7 1418.1h0M250.2 1385.9h0M199.6 1399.3h0M152.3 1420.7h0M279.1 1398.6h0M176.8 1409.6h0M212.1 1388.2h0M258.5 1390h0M181.3 1419.2h0M268.8 1406.9h0M214.1 1390.5h0M191.1 1396h0M187.1 1426.7h0M202.3 1414.9h0M257 1390.1h0M157 1413.1h0M181.4 1401.7h0M242.9 1388.6h0M250.9 1381.8h0M177.7 1414.7h0M179.2 1425.3h0M190.4 1428.9h0M184.3 1405.3h0M207.6 1410h0M201 1423.3h0M173.8 1438h0M162.3 1432.3h0M195.6 1410.9h0M217.4 1393.6h0M189.4 1403.2h0M167.9 1409.3h0M261.9 1405.7h0M196.2 1417.7h0M188 1416.6h0M176.7 1402.7h0M259.7 1412h0M160.4 1413.5h0M193.4 1422.2h0M160.2 1416.4h0M164.4 1439.2h0M215.4 1402.7h0M262.6 1409.5h0M246.9 1407.3h0M228.3 1402.3h0M370 1478.9h0M321.9 1436.1h0M336.7 1409.3h0M361.6 1437.9h0M327.8 1435.5h0M371.8 1466h0M357.4 1425.6h0M372.7 1464.9h0M391.9 1449.1h0M298.9 1419.2h0M337.3 1398.8h0M296.6 1410.3h0M384 1466.3h0M368.7 1484.6h0M370.6 1441.6h0M385.9 1470h0M360.4 1450.9h0M350.3 1436.2h0M366.3 1450.8h0M369.9 1453.9h0M325.4 1428.1h0M358.7 1421.6h0M376.2 1472.9h0M331.5 1443.4h0M339.4 1452.8h0M304.6 1386.5h0M347.7 1412.4h0M374.1 1449.9h0M385.1 1462.6h0M367.1 1471.3h0M342 1445.7h0M356.4 1469.8h0M368.5 1473.3h0M365.6 1449.3h0M303.6 1386.6h0M309.5 1406h0M407.4 1458.1h0M333.6 1443.2h0M299.6 1425.9h0M342.3 1421.4h0M384.7 1449.5h0M309.3 1421.7h0M328.8 1411.4h0M395.4 1442.7h0M314.8 1434.7h0M312 1392.1h0M383.3 1453.9h0M352.6 1443.7h0M336.7 1410.7h0M343.5 1425.8h0M378.1 1449h0M382.7 1465.7h0M320.1 1442.2h0M389.8 1465.8h0M348.6 1408.6h0M305.6 1404.3h0M388.4 1452.9h0M371.6 1436.6h0M347.6 1422.9h0M338.4 1436.8h0M380.2 1446.8h0M300 1420.6h0M373.1 1424.7h0M347.8 1417.9h0M310.3 1388.5h0M305.6 1425.1h0M304.3 1434.9h0M330.4 1433.5h0M329.4 1407h0M337.4 1404.5h0M354.6 1463.8h0M384.3 1449.1h0M310.9 1408.9h0M370.1 1432.4h0M341.2 1433.3h0M348.8 1459.8h0M311 1389.4h0M318.1 1396.1h0M332.1 1445.7h0M327.6 1430.3h0M296.4 1400.4h0M311.2 1427.8h0M362.4 1434.7h0M366.6 1451.1h0M345.4 1429.6h0M308 1429h0M375.7 1475.1h0M399.3 1470.9h0M364.7 1417.2h0M397.3 1471.2h0M369.5 1485.6h0M387.2 1450.8h0M301.8 1422.5h0M388.9 1458.4h0M343.8 1442.3h0M304.4 1387.9h0M366.9 1433h0M322.8 1414.3h0M374.9 1449.6h0M356.7 1411.1h0M301.7 1401.9h0M297.1 1391.7h0M332.3 1441h0M381.3 1457.3h0M392.1 1444h0M334.5 1423h0M321.4 1441.4h0M304.7 1398.1h0M303.6 1413.5h0M304.5 1403.3h0M301 1388.8h0M290.2 1431.9h0M352.1 1415.8h0M301 1418h0M369.2 1426.6h0M297.1 1398.3h0M288.8 1430.4h0M319.8 1437.5h0M312.2 1439.4h0M386 1445.8h0M311 1405.7h0M315.4 1394h0M376 1437.4h0M298.6 1392.3h0M364.8 1454.3h0M373.7 1479.2h0M349.7 1459.5h0M344.3 1421.6h0M354.9 1436.7h0M318.8 1400.3h0M384.4 1468.5h0M310.4 1414.8h0M329 1424.8h0M354.4 1453.6h0M383.1 1435.9h0M362.8 1426.5h0M369.1 1418.7h0M339.6 1412h0M355 1436h0M386.9 1459.4h0M364.9 1473h0M324.3 1430.7h0M297.6 1412.2h0M371.6 1428.2h0M370 1427.2h0M360.5 1463.5h0M322.9 1437.8h0M321.7 1399.5h0M386.7 1467.9h0M339.2 1420.7h0M349.1 1451.5h0M349.4 1427.8h0M305.5 1392.9h0M349.7 1411.6h0M376.3 1467.2h0M373.1 1429.7h0M342.6 1455.6h0M316 1425.9h0M372 1472.9h0M348.5 1458h0M316.9 1432h0M361.1 1465.2h0M362.9 1435.7h0M347.9 1427.3h0M329.6 1442.7h0M302.1 1409.8h0M342.4 1406.6h0M352.2 1431.4h0M313.9 1437.1h0M305.4 1422.9h0M381.8 1431.5h0M388.1 1452.9h0M361.8 1466.4h0M340.1 1422.8h0M344.4 1425h0M349.1 1418h0M305.5 1428.4h0M318.6 1395h0M360.5 1452.4h0M393.6 1473.2h0M384.6 1473.1h0M313 1422.6h0M352.4 1430h0M300.2 1389h0M372.8 1434.1h0M349.3 1414.6h0M335 1420.7h0M330.8 1445.3h0M317.5 1402.3h0M322.5 1410.2h0M374.2 1455.6h0M376.9 1446.2h0M299.5 1390.4h0M303.4 1422.8h0M362.6 1436.6h0M349.3 1463.1h0M334.5 1419.2h0M397.8 1457.4h0M394.7 1464.4h0M354.7 1447.1h0M299.5 1430h0M383.4 1440.7h0M97.2 1508.4h0M97.7 1498.2h0M111.1 1533.1h0M85 1497.3h0M106.1 1502.4h0M111.4 1460.5h0M118.6 1510.2h0M89.1 1494.4h0M109.1 1467.1h0M104.6 1495.5h0M102.8 1526.9h0M118.7 1500.2h0M109.2 1475.7h0M92.5 1530.2h0M113.7 1506h0M83.9 1520h0M101.1 1475.3h0M97.4 1483.3h0M106.2 1531.1h0M111.6 1490.2h0M100.4 1491.7h0M90.7 1497.5h0M97 1483.7h0M119.5 1524.7h0M114.6 1488.6h0M86.4 1502.1h0M100.9 1499.9h0M87.4 1481.6h0M96.9 1520.7h0M120 1481.7h0M95.6 1499.1h0M79.7 1508.1h0M100.3 1497.2h0M91.9 1511.4h0M92.5 1513.8h0M97.7 1510.6h0M102.5 1475h0M88.4 1484.8h0M115.5 1468.3h0M77.7 1527.4h0M88.9 1538.9h0M107.1 1504.4h0M101.5 1513.4h0M93.9 1500.5h0M85.9 1499h0M92.8 1493.4h0M99.2 1472.9h0M84.3 1523.6h0M96.8 1486.4h0M109.8 1462.2h0M98.4 1510.1h0M102.4 1490.1h0M91.8 1542h0M87.7 1539.1h0M76.8 1524.2h0M77.3 1520.4h0M102.6 1499.1h0M84.9 1522.9h0M88.7 1495.8h0M94.7 1496.4h0M110.5 1533.3h0M102.9 1538.6h0M108.5 1516.9h0M75.1 1521.8h0M117.4 1477.3h0M98.6 1495.6h0M81.1 1526h0M112.7 1531.5h0M96.7 1521.4h0M99.9 1527.5h0M84.5 1521.2h0M97.2 1504.3h0M111.4 1484h0M90 1501.1h0M108.9 1459.7h0M116.3 1499.6h0M112.6 1489.5h0M94.7 1513.8h0M85.6 1509.8h0M88 1514h0M110.8 1483.9h0M102 1471.8h0M113 1507.8h0M101.3 1502.1h0M79.2 1523.3h0M98.6 1523.9h0M119.4 1484.8h0M129.3 1469.8h0M106.3 1522.7h0M106 1475.9h0M118.5 1445.1h0M92.1 1485.4h0M103.7 1467h0M96.4 1472.3h0M92.7 1501.1h0M115.9 1489.8h0M103.5 1496.4h0M92.9 1539.8h0M98.8 1520.9h0M88.5 1524.6h0M121.6 1486.4h0M110.2 1503.3h0M88.1 1482.4h0M100.2 1494.1h0M94.9 1508h0M99.2 1497.5h0M94.4 1510h0M97.3 1496.9h0M96.5 1505.8h0M108.5 1491.3h0M85.8 1565.7h0M86.4 1575.6h0M81.9 1576.1h0M111.5 1576.2h0M73.9 1584.5h0M77.8 1569.2h0M76 1585h0M87.8 1578.3h0M106.1 1581.8h0M90.2 1576.3h0M79.9 1567.2h0M119.5 1577h0M93.1 1580.3h0M90 1575.5h0M94.4 1568.9h0M89.8 1573h0M103.8 1572.5h0M76.1 1585.3h0M101 1589.2h0M106.8 1577.7h0M69.9 1584.3h0M80.6 1572.2h0M72.3 1582.7h0M97.2 1574.4h0M106.7 1579.3h0M118.1 1567.8h0M98.9 1566.3h0M96.7 1576.1h0M97.9 1581.1h0M88.9 1591h0M72.1 1574.5h0M93.1 1585.5h0M92.3 1573.1h0M105.1 1589.1h0M72.8 1585.4h0M86.7 1589.4h0M100.5 1567.3h0M100.2 1567.8h0M93.6 1590.8h0M86.7 1573.8h0M112.1 1578.7h0M102.5 1580.3h0M83.9 1570.5h0M108.8 1562.8h0M98 1583.5h0M94.5 1579.9h0M104.6 1562.7h0M78.8 1576.5h0M91.8 1580.5h0M75.1 1587.6h0M101.7 1576h0M100.2 1579.2h0M79.8 1580.6h0M87.2 1587.4h0M90.4 1562.8h0M109.8 1584.2h0M115.7 1573.6h0M126 1607.7h0M95.3 1599.2h0M120.6 1611.9h0M89.4 1608.7h0M137.7 1622.9h0M115.1 1615.1h0M135.6 1603.6h0M137.6 1604.4h0M96.7 1600.8h0M119.4 1616h0M136.1 1588.3h0M89.1 1614.2h0M140.5 1624.6h0M124.8 1627.7h0M95.2 1613.8h0M142.3 1606.2h0M101 1623.7h0M123.7 1624.6h0M115.5 1628.3h0M132.5 1620.1h0M150.9 1602.5h0M134.7 1591.4h0M109.5 1612.4h0M98.7 1594h0M115.6 1592.6h0M109.9 1588.8h0M96.4 1595.6h0M98 1600h0M122.1 1592.2h0M144.8 1602.3h0M96.6 1620.3h0M135 1601h0M105.8 1607.6h0M138.7 1608.5h0M101.7 1600.1h0M147.1 1604.1h0M152.2 1614.2h0M112.9 1609.4h0M140.8 1622.1h0M154.6 1606.5h0M114.3 1614.1h0M123.3 1618.1h0M126.6 1593.6h0M125 1630.8h0M127.3 1584.4h0M104.5 1606.9h0M147.3 1621.9h0M142.2 1596.3h0M125.9 1611.1h0M101.6 1596.8h0M113 1609.7h0M137.8 1613.5h0M88.1 1601.8h0M112.3 1606.8h0M138.1 1600.7h0M109.5 1625.4h0M117.5 1622.2h0M116.7 1601.1h0M141.6 1624.7h0M114.5 1595.8h0M142.1 1620.1h0M154.1 1602.8h0M149.6 1598.7h0M124.5 1606.8h0M105.9 1591.4h0M96.3 1621.6h0M124.7 1622.7h0M133 1612.8h0M104.7 1611.1h0M99.6 1609.6h0M115.8 1600.3h0M113.9 1623.7h0M98.7 1613.9h0M104.1 1604.6h0M127.3 1611.8h0M154.5 1613.4h0M147.8 1595.3h0M120.2 1621.6h0M121.1 1607.6h0M140.4 1590.2h0M97.9 1622.4h0M106.3 1618.7h0M130.8 1583.6h0M130.1 1603.5h0M128.5 1611.5h0M101.5 1613.2h0M91.9 1596.8h0M118.7 1598.4h0M90.5 1593.6h0M156.2 1608.2h0M115.9 1599.6h0M92.3 1615.9h0M106.3 1622.2h0M145.9 1620.3h0M121.7 1606.3h0M117.6 1583.3h0M112.9 1596.1h0M124.4 1605.7h0M140.1 1588.7h0M131.9 1586.7h0M115.3 1592h0M101.5 1589.5h0M136.8 1696h0M120 1677.9h0M120.1 1693.5h0M116.5 1659.4h0M98.9 1655.9h0M149.7 1677.6h0M136.5 1702.2h0M148.6 1678.8h0M116.4 1676.2h0M151.2 1688.3h0M114.1 1683.9h0M130 1651.7h0M115.8 1684.6h0M125.8 1645.2h0M153.5 1665.2h0M126.6 1676.6h0M126.3 1678.2h0M118 1686.5h0M132.4 1684.4h0M117.6 1669.5h0M106.6 1642.7h0M127.2 1698.9h0M143.9 1701.2h0M109.8 1670.7h0M130.1 1689h0M110.3 1661.4h0M106.7 1656.2h0M130.5 1679.3h0M154.4 1684.9h0M114.9 1682.2h0M126.7 1668.6h0M139.8 1687.9h0M108.5 1667.3h0M145.2 1679.9h0M126.1 1676.7h0M118.3 1695.6h0M115.4 1689.3h0M113.1 1667.9h0M111.6 1664.7h0M122.2 1674h0M107.5 1652.8h0M127.4 1672.4h0M142.7 1661h0M127.6 1672h0M137.6 1671.1h0M130.5 1670h0M128.8 1673.1h0M133.8 1637.1h0M131.2 1699.3h0M114.4 1662.8h0M117.1 1679.7h0M127 1654.8h0M101.4 1662.9h0M132.4 1674.1h0M120 1656.9h0M124 1660.9h0M119.9 1683h0M101.7 1664.3h0M113.7 1680.5h0M130.3 1660.4h0M146.3 1675h0M124.8 1679.5h0M136 1700.5h0M142.8 1682.3h0M134.8 1671.7h0M109 1669.5h0M113.3 1689.3h0M124.8 1685h0M122.6 1659.3h0M147 1671.4h0M138.4 1672.1h0M132.9 1655.3h0M145.7 1695.2h0M120.6 1657.2h0M139.3 1702.2h0M125 1653.8h0M113.8 1671.4h0M153.2 1683.6h0M111.1 1654.6h0M114.7 1674.6h0M125.3 1675h0M126.6 1698.6h0M142.5 1656.2h0M141.6 1685.5h0M133.3 1682.4h0M127.8 1676h0M122.4 1663.3h0M152.2 1674.7h0M148.3 1669.2h0M144.6 1659.5h0M140.8 1659.5h0M126.7 1676.2h0M130.5 1669.5h0M144.1 1665.5h0M118.5 1679h0M155.3 1672.7h0M127.7 1699h0M147 1688.6h0M135.1 1677.6h0M115.2 1658.3h0M113.9 1656.2h0M110.6 1651.1h0M117.3 1668.3h0M116.7 1678.6h0M124.6 1678.3h0M193.9 1687.2h0M170.9 1713.8h0M197.7 1719.9h0M178.6 1647h0M193.5 1662.3h0M186.3 1732.6h0M198.6 1656.1h0M192.2 1673.8h0M187.4 1661h0M179.3 1669.3h0M196.7 1654.3h0M171 1697.8h0M198.9 1695.7h0M176.9 1702.2h0M189.5 1670.5h0M203.8 1715.6h0M203.9 1652.6h0M198.4 1668.4h0M171.5 1681.1h0M187.8 1641.3h0M197.3 1685.5h0M190.4 1690.4h0M194.7 1663h0M171.4 1653.7h0M175.6 1659.7h0M175.8 1687.7h0M187.2 1677.3h0M172 1726h0M184 1738.8h0M189.5 1688.9h0M189.2 1734.8h0M213.1 1681.9h0M205.3 1686.3h0M190.9 1702.8h0M200.5 1644.1h0M183.4 1687.5h0M181.7 1720.1h0M279.8 1703h0M300.9 1670.9h0M280 1675.6h0M272.8 1688.2h0M264 1673.2h0M268 1677.1h0M282.2 1679.1h0M247.3 1670.5h0M276.2 1675.4h0M291.9 1651.8h0M275.6 1677.8h0M280.7 1686.7h0M262.6 1702.7h0M276.7 1676.4h0M254.6 1673.7h0M292.9 1651.7h0M276.1 1675.8h0M279.6 1644.9h0M255 1666.9h0M289.3 1674.4h0M276.5 1649.4h0M266.3 1668.9h0M289.9 1654.4h0M254.8 1676.9h0M272.1 1674h0M261.8 1680.9h0M272.6 1693.4h0M293.8 1671.9h0M275.1 1677.4h0M250.4 1683.2h0M284 1668.3h0M252.4 1674.1h0M277.2 1673.7h0M297.9 1656.9h0M255.9 1684.8h0M275.7 1684h0M253.4 1674.6h0M257.3 1672.8h0M275.4 1690.1h0M269.5 1670.6h0M258.9 1679.1h0M290.8 1669.4h0M276.1 1675.1h0M295.4 1691.3h0M295.8 1697.3h0M272.9 1681.9h0M273.3 1633.2h0M279.9 1643.8h0M287.6 1626h0M284.2 1615.4h0M268.6 1625.5h0M280.9 1721.2h0M250.6 1740.5h0M288.5 1736.9h0M259 1730.9h0M228.8 1728.9h0M267.1 1738.4h0M265 1711.3h0M249.9 1746.8h0M311.9 1728h0M284 1724.7h0M253.9 1754h0M266.2 1737h0M245.4 1731.1h0M265.1 1753.3h0M286.4 1724.6h0M312.6 1732.8h0M313.5 1738.5h0M241.8 1749.6h0M265.2 1745.9h0M242.2 1742.4h0M273.9 1730.7h0M239 1722.2h0M268.6 1736.1h0M307.1 1737.4h0M238.2 1745.5h0M269 1742.3h0M252 1740.7h0M249.1 1733.4h0M248.2 1745.6h0M279 1718.7h0M295 1733.3h0M250.5 1739.1h0M322.5 1727h0M263.6 1741.7h0M237.4 1741.2h0M279.1 1741.2h0M255 1754.9h0M303.1 1723h0M293.1 1745.6h0M273.6 1751h0M265.7 1737.8h0M256.4 1730.7h0M285.4 1721.1h0M266.3 1734.8h0M235.4 1731.5h0M310.6 1739.6h0M297.5 1738.2h0M256 1751.8h0M291.3 1737.3h0M283.5 1719h0M264 1732.4h0M235.1 1727.4h0M272.8 1739.7h0M336.8 1736.5h0M310.1 1722.7h0M312.8 1729.1h0M318.6 1734.4h0M266.2 1755.7h0M307.3 1744.5h0M280.6 1730.8h0M306.5 1737.2h0M271.6 1749.2h0M257.2 1738.2h0M278.6 1751h0M240.6 1731.7h0M228.3 1732.6h0M265.1 1753h0M243.3 1724.1h0M280.1 1733.8h0M284.5 1740.8h0M289.9 1727.9h0M241.6 1733.4h0M216.9 1745.1h0M258.7 1722.1h0M279.6 1738.4h0M264 1753.8h0M292.1 1744.8h0M229.8 1731.3h0M241.4 1721.7h0M254.1 1755.3h0M282.8 1735.8h0M244.9 1752.9h0M277.2 1719h0M258.2 1723h0M272.6 1748.2h0M285.2 1753.1h0M317 1738.7h0M267.7 1734.3h0M352.5 1569.2h0M337.5 1590.5h0M345.3 1582.1h0M322.4 1576.2h0M333.3 1604.4h0M310.7 1603.8h0M337.3 1582.2h0M334.8 1574.3h0M328.2 1589.3h0M315.1 1579h0M350.2 1593.7h0M363.8 1595.4h0M363.4 1577.2h0M353.8 1583.4h0M337.7 1589.2h0M307.7 1582.7h0M332 1613.7h0M342.2 1568.7h0M395.2 1507.9h0M348.5 1527.3h0M387.6 1483.6h0M398.1 1477.1h0M400.1 1480.9h0M392.5 1506.8h0M396.4 1520.7h0M368.1 1507.9h0M417.7 1497.5h0M409 1523.5h0M425.6 1495.7h0M383.5 1486.4h0M390 1524.6h0M402.9 1517.6h0M388.2 1498.7h0M417.1 1509.4h0M418.3 1481h0M416.9 1508.3h0M415.9 1538.9h0M406.7 1504.2h0M386.8 1481.7h0M367.9 1526.2h0M414.1 1491.4h0M387.4 1541.2h0M410.7 1537.5h0M400.4 1512.6h0M424.8 1528.9h0M420.1 1491.6h0M391.5 1473.4h0M371.7 1485.6h0M412.9 1533.7h0M406.6 1505.8h0M385.6 1499.6h0M424.4 1496.2h0M373.3 1532.1h0M363.9 1516.9h0M392.9 1515.1h0M405.2 1496.3h0M416.5 1494.2h0M416.4 1521.6h0M377.2 1531h0M396.3 1506.7h0M369.9 1527.9h0M408.6 1490.8h0M426 1496.1h0M404.1 1528.1h0M424.6 1510.2h0M427.2 1504h0M393.3 1505.2h0M400.1 1489.6h0M401.8 1523.3h0M388.7 1511.1h0M425.5 1508.3h0M397.3 1524.9h0M404.1 1536.3h0M407.6 1517.8h0M387.9 1501.1h0M397.5 1498.1h0M390.8 1504.6h0M423.5 1488.9h0M424.1 1512.8h0M404.1 1488.7h0M389.8 1526.1h0M392.9 1538.4h0M424.2 1518.8h0M426.9 1493.3h0M382.6 1500.4h0M402.1 1515.3h0M419.1 1495.4h0M393.8 1524.7h0M396.1 1486.5h0M373.2 1492.8h0M425.2 1507.2h0M393.2 1479.8h0M377.5 1502.1h0M383.4 1480.9h0M361.5 1521.5h0M382.7 1502.9h0M404.7 1522h0M358.9 1511.6h0M433.8 1506.3h0M360.6 1512.1h0M389 1513.4h0M415.2 1497.9h0M369.1 1498.4h0M389.1 1512h0M399 1474.5h0M387.3 1489.6h0M407.2 1506.9h0M377.7 1501.8h0M382.5 1482.7h0M386.8 1519.7h0M364.9 1526.7h0M387.7 1484.5h0M367.3 1530.9h0M375.8 1537.9h0M385.8 1504h0M427.4 1491.1h0M422.7 1489h0M376.7 1487.2h0M357.7 1497h0M417.7 1500.4h0M395.2 1537.8h0M418.8 1581h0M422.8 1637.5h0M415.6 1568.6h0M415.6 1605.6h0M433.5 1599.5h0M409.3 1575.9h0M416.8 1613.2h0M443.8 1586h0M428.5 1639.6h0M407.3 1586.4h0M439.5 1596h0M422.1 1600.3h0M425.1 1620.2h0M433.2 1611.6h0M435.6 1607.5h0M435.4 1606.1h0M428.2 1610.3h0M426.4 1624.1h0M419.4 1622.7h0M423.3 1595.2h0M423.9 1570.5h0M400.9 1643.2h0M424.2 1638.6h0M409.5 1583.5h0M422.1 1601h0M397.5 1593.9h0M412 1628.4h0M444.4 1596.7h0M413.5 1629.4h0M426.5 1557.8h0M415 1604h0M415 1622.9h0M405.5 1571.7h0M424.2 1592.6h0M414.7 1617.7h0M419.9 1600.5h0M409.9 1608.6h0M421.2 1564.5h0M423 1605.4h0M417.7 1569.2h0M406.8 1614.8h0M423.5 1584.5h0M400.1 1642.1h0M431.4 1627.8h0M424 1596.6h0M400 1582.8h0M418 1561.7h0M428.9 1604.4h0M418.7 1622.1h0M419.8 1571.6h0M413.9 1587.9h0M440.5 1587.1h0M420.9 1612h0M441.9 1598.8h0M404.1 1611.5h0M405.9 1621.6h0M422.9 1620.5h0M423.3 1637.4h0M422.3 1636.3h0M429.6 1592.6h0M418.6 1612.8h0M432.9 1605.8h0M418.4 1618.5h0M425.7 1579h0M429.4 1622.8h0M425.1 1612h0M404.6 1583.2h0M421.1 1634.5h0M422.9 1588.3h0M400.3 1587.6h0M429.9 1614.9h0M428.2 1618.8h0M429.7 1626.1h0M430 1602.1h0M419.6 1617.4h0M417.9 1609.1h0M411.5 1628.3h0M415 1568.3h0M418.4 1593.3h0M418 1609.5h0M434.6 1574.4h0M424.6 1569.5h0M414.8 1618.4h0M428.9 1599h0M440.2 1584.2h0M436.1 1617.4h0M423.4 1592.1h0M407.1 1610.4h0M413.5 1583.2h0M418.7 1619.7h0M423.1 1605.9h0M430.3 1564h0M410.5 1610.5h0M424.4 1614.1h0M428.7 1577.5h0M414.3 1600h0M428.2 1580.9h0M380.1 1642.3h0M337 1695.1h0M347.8 1692.8h0M357.9 1637.7h0M329.6 1706.1h0M340.6 1696.4h0M340.5 1688.5h0M312 1682.4h0M391.5 1668.5h0M378.2 1692.4h0M338.3 1688.8h0M380.4 1675.4h0M307.7 1676.6h0M371.3 1642.6h0M371.1 1635.4h0M342.8 1662.6h0M365.4 1681.8h0M344.8 1686.9h0M337.8 1696.3h0M339 1653.6h0M361.7 1688.2h0M371.3 1680.8h0M342.4 1721.7h0M345.8 1673.4h0M343.1 1645.9h0M342.6 1631.4h0M364.3 1698.7h0M376.7 1676.7h0M365.7 1706.9h0M325.9 1707h0M328.8 1675.2h0M349.5 1683.6h0M317.4 1692.9h0M331.8 1670.9h0M392.2 1691.1h0M368.3 1650.1h0M374 1659.1h0M353 1639.4h0M388.6 1675.8h0M314.9 1664.5h0M359.6 1679.7h0M395.5 1671.3h0M381.6 1673.1h0M357.7 1679.6h0M370.2 1635.3h0M340.5 1636.7h0M372.9 1701.2h0M387.8 1694.7h0M315.2 1661.4h0M322.1 1708.2h0M335.4 1698h0M377.5 1648.1h0M391.4 1684.9h0M355.7 1673.5h0M365.5 1690.8h0M371.7 1634.2h0M355.6 1672h0M316.4 1676.1h0M315.4 1688.3h0M384 1657.4h0M323.6 1697h0M372 1662h0M381.6 1698.7h0M340.9 1720.2h0M348 1716.1h0M324.7 1667.9h0M369.8 1676h0M353.2 1681.1h0M356.2 1675.5h0M334.6 1657.5h0M368.9 1669.5h0M369.2 1708.3h0M339.2 1716.1h0M319 1700.6h0M318.6 1687.5h0M363.8 1657.8h0M346.7 1707.8h0M357.6 1695.6h0M352.2 1683.2h0M332 1694.6h0M354 1653.9h0M367.4 1709.2h0M347.6 1651.3h0M335.1 1649.2h0M388.2 1703.3h0M316.9 1662.2h0M330.3 1708.8h0M359.9 1662.1h0M383.1 1651h0M317.8 1686.6h0M367.2 1683.9h0M353.6 1711.5h0M381.6 1698.5h0M351.1 1681h0M357.4 1666.3h0M357.6 1655.6h0M291.4 1666.4h0M345.8 1716h0M393.9 1693h0M362.5 1644.2h0M321.3 1681.6h0M329.5 1680.5h0M372.9 1640.1h0M358.2 1722.1h0M336.1 1675.2h0M384.4 1676.6h0M355.8 1690.5h0M314 1688.9h0M328 1690.1h0M325.8 1703.7h0M344.5 1682.2h0M341.6 1671.6h0M371.8 1649.5h0M330 1656.5h0M320.6 1707.3h0M387 1673.3h0M377.8 1656.2h0M376.4 1667.4h0M316.1 1690h0M385.5 1646.6h0M354.4 1676.9h0M360.1 1669.3h0M321.8 1681.4h0M331.2 1681h0M321 1650.2h0M312.5 1695.2h0M329.9 1715.5h0M360.8 1654.1h0M384.3 1691.8h0M365 1677.6h0M350 1700.4h0M354.4 1633.7h0M349.1 1621h0M306.4 1669.6h0M356.7 1694.2h0M390.6 1671.5h0M334.3 1638.4h0M373.2 1675.5h0M382 1685.4h0M337.2 1719.3h0M376 1666h0M327.8 1710.2h0M379.5 1694.9h0M339.4 1676.4h0M383.3 1694.7h0M369.5 1643.2h0M311.7 1662.6h0M354.7 1677.6h0M359.9 1707.2h0M358 1653.4h0M342.2 1704.8h0M368.8 1706.3h0M337.6 1717.3h0M367.7 1674.2h0M377.8 1684.1h0M364.9 1653.8h0M339.7 1716.4h0M374.3 1656.8h0M353.7 1685.9h0M312.2 1668.7h0M384.6 1699.8h0M355.7 1707.1h0M356.9 1675.8h0M343 1673.6h0M339.2 1714.8h0M356.8 1652.9h0M354.9 1659h0M365.7 1721.7h0M305.3 1503.1h0M311.9 1478.6h0M298.1 1503h0M297.9 1504.9h0M246.2 1489.3h0M311.2 1484.6h0M333.2 1500.4h0M318.6 1498.9h0M284.4 1509.7h0M310.6 1515.7h0M293.7 1483.3h0M323.3 1518.6h0M309.6 1505.1h0M263.9 1523.3h0M332.1 1534.8h0M304 1504.9h0M329.9 1525.7h0M324.5 1515.3h0M294.1 1517.7h0M299.5 1514.7h0M284.3 1504.5h0M292.9 1514.6h0M352.2 1514.3h0M295 1532.5h0M284.2 1516.8h0M288.2 1549.7h0M298.8 1537.7h0M282.1 1485h0M288.7 1500.1h0M264.3 1553.6h0M368.1 1540.3h0M271.7 1547.4h0M320.5 1520h0M265.8 1535.1h0M335.6 1504.8h0M310.7 1502.1h0M289.4 1509.8h0M305.6 1551.2h0M287.6 1524.1h0M237.9 1511.7h0M282.9 1476.6h0M309.8 1503.9h0M272.5 1511.6h0M284 1480.2h0M316.8 1504.5h0M341.4 1527.7h0M304 1516.5h0M328.8 1496.6h0M332.7 1483.5h0M267.8 1493.7h0M329 1546.3h0M306.9 1509.8h0M337.2 1507.4h0M271 1500h0M268.6 1507.3h0M307.8 1494.5h0M332.3 1523.7h0M308.1 1541.7h0M316.2 1517.2h0M310 1510.8h0M323 1493.1h0M245.4 1512.9h0M295.2 1544.1h0M285.4 1533.2h0M256 1483.9h0M243 1535.7h0M281.9 1470.9h0M239.2 1533.7h0M240.1 1494.3h0M271.3 1481.6h0M295.3 1507.3h0M309.3 1518.6h0M350 1516.7h0M302.1 1543.4h0M274.2 1514.8h0M334.1 1533.9h0M322.7 1482.9h0M268.6 1492h0M306.9 1546.9h0M298.7 1523.2h0M289 1507.2h0M296.4 1518.9h0M255 1493.4h0M288.4 1508.9h0M316 1514.7h0M330.3 1527.2h0M282.8 1523.1h0M278.3 1556.6h0M294.3 1553.5h0M248.7 1531.9h0M311.1 1523.9h0M310.9 1483.1h0M326.8 1524.5h0M344.4 1526.3h0M282 1495.7h0M327.7 1523.5h0M285.6 1537.4h0M252.4 1537.7h0M335.6 1541h0M332.1 1484h0M323.4 1485.2h0M338.1 1521.9h0M261.2 1519.5h0M298.6 1454.4h0M341.2 1526.9h0M261.4 1527.6h0M283.3 1511h0M277.9 1471.7h0M259.2 1535.3h0M329.4 1528.3h0M285.8 1525.4h0M224.3 1531.2h0M268.8 1505.1h0M348.3 1528.1h0M294.3 1532.6h0M193.2 1610.9h0M194.8 1610.4h0M200.8 1616.3h0M219.6 1608.5h0M175.2 1622.5h0M224.6 1600.9h0M176.4 1611.5h0M192.7 1603.6h0M231 1601.5h0M214.4 1615.9h0M214.5 1621h0M242.3 1616h0M182.5 1600.6h0M238.9 1607.4h0M217 1610.3h0M219.7 1601.7h0M185.2 1599.3h0M188.6 1612.6h0M169.5 1612.7h0M175.7 1612h0M229.3 1596.4h0M216.1 1622.7h0M226.8 1612.1h0M214.2 1611.2h0M260.3 1610.9h0M237.9 1603.2h0M210.1 1609.9h0M197.8 1628.4h0M163.9 1605.4h0M238.2 1598.5h0M200.9 1614.9h0M214.5 1614.8h0M198.9 1627.8h0M192.5 1606.8h0M252.1 1607.3h0M221.3 1620.4h0M219.1 1600.8h0M196.1 1606.6h0M228.2 1627.6h0M205.8 1620h0M192.6 1609h0M245.7 1623.8h0M180.1 1623.1h0M192.7 1609.7h0M212.4 1627h0M223.8 1611.7h0M213.8 1620.6h0M186.2 1622.1h0M217.5 1597.9h0M246.1 1618.7h0M206.6 1621.5h0M211.6 1627.6h0M199.5 1612.8h0M232.7 1619.2h0M180.6 1605.7h0M184.4 1626h0M209.8 1611.8h0M208.9 1613.6h0M212.7 1606.6h0M174 1621.3h0M205.2 1607.5h0M222.9 1595.8h0M258.5 1611.7h0M211.9 1602.8h0M231.2 1597.4h0M193.7 1600.8h0M181.5 1622.2h0M195.1 1596.4h0M220.8 1602.5h0M196.9 1617.9h0M217.9 1604.3h0M216.8 1609.5h0M230.2 1599.3h0M161.2 1596.7h0M196.8 1605.2h0M211.1 1602.8h0M224.4 1612h0M186 1607h0M251.9 1610.9h0M211.8 1609.3h0M236 1417h0M332.2 1423h0M79.9 1616.2h0M257.8 1565.3h0M248.7 1495.8h0M160.4 1667.8h0M263.1 1395.2h0M387.3 1469.9h0M219 1507.2h0M242.3 1480.6h0M219.9 1453.1h0M265.5 1449.9h0M259.3 1436.5h0M277.7 1480.7h0M92.6 1570h0M414.9 1544.8h0M219.7 1675.5h0M371.2 1634.7h0M177.4 1548.8h0M240.1 1686.9h0M127.7 1477.1h0M139.5 1516.3h0M294.7 1431.5h0M351.3 1454.4h0M114.6 1672.8h0M198.4 1614.2h0M318.8 1487.3h0M227.1 1532.8h0M159.4 1440.7h0M276.6 1569h0M221.4 1569.5h0M328.3 1515.4h0M152.9 1530h0M321 1655.9h0M415.1 1645.4h0M269.2 1575.3h0M368.7 1430.9h0M235.7 1724.9h0M405.9 1496.8h0M240.8 1533.6h0M306.9 1505.2h0M324.5 1655.2h0M197.6 1448.7h0M385.7 1462.7h0M255.7 1576.6h0M193.9 1719.3h0M345.5 1679.7h0M321.6 1563.3h0M244.4 1509.5h0M299.2 1527.4h0M224.6 1392.4h0M353.8 1418.5h0M405.4 1647.8h0M196.2 1577.3h0M273.7 1394.4h0M130.3 1631.9h0M268.1 1492h0M242.1 1529.6h0M268.9 1496.1h0M418.3 1540.2h0M146.7 1633.8h0M102.9 1601.4h0M215.7 1640.9h0M159.9 1688.6h0M329.4 1532.5h0M216.8 1720.6h0M398.7 1521.9h0M264 1666.4h0M235.7 1640.8h0M338.6 1605.2h0M138.2 1682.7h0M185.9 1525.8h0M152.1 1531.7h0M347.1 1529.8h0M429.6 1614.6h0M186.3 1726.7h0M325.9 1632.3h0M134.4 1504.8h0M108.7 1651.1h0M294.1 1539h0M271 1558.6h0M335.9 1593.8h0M309.8 1443.6h0M185.9 1533.2h0M128.5 1532.4h0M428.1 1634.7h0M332.4 1612.2h0M360.7 1622.5h0M196 1406.9h0M248.2 1423.9h0M373.9 1687.3h0M333.1 1504.2h0M382.6 1431.9h0M169.3 1452.5h0M157 1502.9h0M103.5 1661.8h0M313.4 1693.1h0M346.5 1556.6h0M278.1 1495.1h0M220.8 1512.6h0M408.7 1623.2h0M181.2 1408.4h0M438 1598.5h0M123.4 1638.7h0M369.1 1530.1h0M361.3 1668.3h0M155.7 1431.1h0M282.6 1691.3h0M348.5 1595.8h0M217 1519.7h0M236.6 1749.5h0M194.8 1591.6h0M344 1677.9h0M298.5 1573.9h0M281.2 1478.4h0M316.2 1412.1h0M110.1 1660h0M87.9 1613.5h0M132.4 1572.9h0M214.6 1723.8h0M292.1 1614.9h0M256.5 1538.8h0M210.5 1639.6h0M194.6 1704.8h0M195.2 1732.6h0M255.1 1570.8h0M363.2 1466.9h0M370.2 1663.5h0M211.7 1631.8h0M129.6 1609.4h0M119.6 1550.3h0M136.2 1690.7h0M148.9 1418.5h0M321.5 1449.8h0M225.1 1622.1h0M181.3 1399.6h0M323.5 1649.9h0M318.5 1410.1h0M269.4 1652.7h0M345.5 1578h0M244.4 1680.2h0M254 1521.6h0M208.5 1560.1h0M241.3 1416.3h0M295.9 1522.1h0M92 1597.9h0M406.3 1527.1h0M316 1622.1h0M127.7 1478.4h0M198.2 1508.4h0M346.1 1710.2h0M321.9 1525.4h0M332.3 1618.6h0M196.6 1575.2h0M438.1 1584.9h0M314.3 1708.2h0M185.8 1476.8h0M91.5 1603.6h0M299.2 1499.9h0M252.1 1551.3h0M266.7 1511.6h0M323.4 1556.9h0M234.9 1526.1h0M126.2 1596h0M394.6 1620.2h0M381.1 1469.9h0M420.7 1527.8h0M350.4 1414.3h0M328 1513.1h0M343.8 1556.2h0M260.9 1747h0M229.6 1384.5h0M125 1628.4h0M201.6 1559.1h0M333.3 1510.3h0M195.1 1411.9h0M132.3 1625.3h0M234.6 1549.6h0M206.1 1564h0M312.2 1617.2h0M173.6 1708.5h0M306.2 1724.9h0M391.6 1493.7h0M248.6 1575.8h0M365.7 1653.7h0M389.5 1659.2h0M335.7 1513.6h0M313.3 1610.3h0M412.1 1468.1h0M282.5 1460.3h0M320.8 1429.2h0M287.7 1487.5h0M207 1607.4h0M312.5 1684h0M190.1 1622.7h0M104.5 1660.5h0M172.3 1601.1h0M301.7 1671.9h0M247.6 1401.3h0M344.5 1629.5h0M347.8 1545.4h0M309 1520.9h0M271.9 1575.9h0M356.3 1670h0M251.3 1465.7h0M176.5 1506.1h0M258.6 1623h0M241.9 1725.7h0M209.9 1689.6h0M149.4 1482.1h0M363.5 1486.4h0M266.4 1612.7h0M163.7 1507h0M222.1 1525.3h0M241.9 1430.5h0M382.2 1538.3h0M337.3 1461h0M252.8 1478.3h0M148.5 1507.4h0M247.2 1721.5h0M225.5 1725.4h0M111.6 1583.3h0M255.4 1563.7h0M163.8 1656.6h0M274.6 1564.7h0M430.7 1521.1h0M210.4 1519.8h0M209.5 1584.3h0M292.9 1657.7h0M218.1 1508.3h0M208.9 1651.3h0M273.7 1610.9h0M348.7 1569.5h0M245.9 1447.6h0M213.8 1611.7h0M438.8 1542.7h0M197.4 1740.3h0M262.8 1561.3h0M222.3 1703h0M218.8 1719.8h0M265.6 1542.6h0M329.2 1660.4h0M266.3 1383.1h0M212.7 1571.7h0M258.5 1666.3h0M343.9 1502.2h0M230.3 1405.4h0M314.3 1587.5h0M211.4 1531.3h0M259.1 1571.8h0M353.9 1692.1h0M175.9 1535h0M237.5 1738.5h0M205.2 1575.4h0M151.3 1686.3h0M198.9 1625.6h0M206 1475.4h0M215.1 1561.2h0M258.3 1483.3h0M221 1572.4h0M279.9 1580h0M152.7 1643.1h0M178 1659.6h0M325.5 1654h0M266.4 1536.2h0M239.6 1473.5h0M72.3 1565.5h0M240.1 1552.9h0M275.9 1695.6h0M94.7 1585.3h0" stroke="#b0b0b0" stroke-width="7.2" stroke-linecap="round" fill="none"/>
<path d="M210 1503.4h0M181.4 1489.3h0M247.2 1538.1h0M205.2 1523.8h0M227.9 1468.9h0M226.3 1478.9h0M200.4 1531.4h0M214.3 1479h0M202.2 1517h0M213.2 1483.5h0M230.6 1479h0M244.6 1544.9h0M190.8 1515.3h0M197.5 1517.1h0M225.9 1469.7h0M240.3 1517.8h0M219.1 1526.8h0M175.8 1491.5h0M206.5 1465.9h0M175.4 1489.5h0M246.7 1517.7h0M225.3 1479.4h0M208.9 1540.3h0M197.1 1516.2h0M176.6 1517.4h0M203.6 1510.2h0M174.2 1567.7h0M164.6 1493.7h0M225.5 1520.8h0M174.6 1401.4h0M279.5 1382.4h0M267.5 1397.9h0M187.2 1409.6h0M190.3 1427.1h0M276.8 1407h0M155.9 1417.3h0M186.8 1422.9h0M281.6 1405.2h0M243.7 1403.2h0M243.1 1406h0M276.2 1393.8h0M383.7 1430.7h0M322.7 1393.4h0M371 1462h0M333.7 1425.6h0M356.5 1417.3h0M364.8 1464.9h0M403.7 1467h0M302.5 1431.5h0M300.9 1404.3h0M330.8 1439.1h0M311.8 1431h0M106.5 1518.8h0M86 1512.8h0M73.4 1520.8h0M106.7 1490.3h0M86.8 1537.9h0M82.8 1533.9h0M109 1469.6h0M105.4 1475.6h0M116.8 1513.4h0M93.2 1516.5h0M97.5 1485.1h0M113.3 1460.4h0M113.1 1495.8h0M95.4 1478.1h0M80 1516.1h0M98.3 1534.3h0M105.2 1533.4h0M91.9 1494.7h0M83.4 1509.3h0M91.2 1590.1h0M77.2 1577.1h0M86.7 1584.1h0M76.4 1568.8h0M96.5 1581h0M107.3 1585.1h0M143.3 1655.3h0M119.3 1660.4h0M141.6 1699.8h0M105.9 1672.5h0M102.1 1667.4h0M188.7 1740.2h0M182 1657.7h0M178.7 1692.5h0M181.1 1660.8h0M212.7 1685h0M202.4 1701.4h0M192.7 1641.8h0M179.8 1690.1h0M182.3 1723.5h0M198.7 1713.4h0M213.5 1699.2h0M207.3 1662.4h0M226.3 1672.5h0M211.5 1668h0M201 1734.3h0M188.5 1665.5h0M171.8 1667.9h0M188.4 1695.3h0M216.8 1674.7h0M192 1680.5h0M170.8 1702h0M180.8 1700.6h0M192.8 1725.8h0M174.7 1725.6h0M190.6 1694.8h0M185.4 1729.1h0M170.6 1722.7h0M201.8 1710.1h0M211.5 1675.5h0M187.2 1704.5h0M166.4 1688.6h0M170.6 1669.9h0M181.4 1696.8h0M165.9 1699.8h0M210.4 1704.2h0M185.2 1642.6h0M185.7 1689.3h0M170.1 1687.3h0M175.8 1706.2h0M181.4 1678.4h0M208.3 1663.5h0M193.9 1717.7h0M192.4 1640.5h0M193.6 1673.1h0M207 1666.3h0M205.2 1710.4h0M188.4 1650.5h0M205.2 1707.5h0M190.1 1680.3h0M216.9 1702.8h0M191.1 1681.9h0M212.2 1679.7h0M188.7 1652.6h0M199 1719.7h0M197.9 1737.9h0M194.3 1713.7h0M177.9 1654.1h0M195 1680.1h0M212.5 1715.2h0M186.8 1656.1h0M172.3 1667.7h0M180.7 1661.3h0M175.9 1681.9h0M208.8 1718.3h0M185.7 1695.5h0M177.8 1697h0M178.3 1687.4h0M165.9 1692.5h0M190 1680.6h0M195.3 1646.4h0M213.8 1671.5h0M196 1678.4h0M193.5 1665.2h0M168.1 1698.4h0M200 1687.3h0M198.6 1690.1h0M180 1677.5h0M177.8 1703.6h0M207.3 1689.1h0M183.9 1693.6h0M208.3 1688.7h0M212 1669.2h0M190.4 1685.5h0M191.5 1688.8h0M196.6 1708.1h0M194.7 1657.4h0M178.3 1688.1h0M200.9 1705.1h0M191.9 1661.7h0M182.9 1652.7h0M168.7 1664.5h0M186 1642.1h0M178 1666.8h0M217.7 1689.7h0M195.6 1690h0M192.3 1737.6h0M200.9 1649h0M189.7 1642.9h0M209.7 1654.8h0M164.5 1692.1h0M195.8 1689.6h0M165.3 1681.3h0M179.1 1670.7h0M217.6 1689.4h0M216.6 1705.1h0M180.1 1688.4h0M196.6 1704.5h0M181.3 1687.7h0M187.2 1647.6h0M181.4 1622.3h0M185.1 1739.5h0M194.4 1670.7h0M168.3 1708.1h0M173.4 1671.2h0M188.5 1715.1h0M182.5 1703.6h0M188.7 1735.2h0M179.4 1650.7h0M189.5 1702.3h0M209.3 1722.1h0M198 1696.6h0M187.7 1732.5h0M214.8 1699h0M215.3 1668.1h0M205 1718h0M177.2 1719.9h0M202.1 1655.8h0M183.8 1700.6h0M304.3 1666.4h0M263.8 1658.6h0M299.3 1662.8h0M295.2 1657.3h0M280.2 1683.9h0M291.5 1675.6h0M299 1667.1h0M276.9 1675.3h0M284 1657h0M260.3 1661.8h0M284.9 1687h0M250 1657.7h0M268.9 1658.4h0M255 1709h0M288.5 1671.2h0M304.6 1704.7h0M300.4 1671.9h0M247 1671.7h0M267.9 1704.3h0M285.6 1684.8h0M281.7 1677.4h0M254.4 1664.6h0M279.4 1673h0M294.4 1657.5h0M293.1 1687.7h0M274.4 1692.3h0M253.2 1663.4h0M275.2 1647.3h0M258.8 1680.9h0M273.4 1676.7h0M277.7 1660.4h0M286.3 1649.9h0M267.7 1675.8h0M299.2 1663.3h0M288.7 1663.2h0M280.9 1692.1h0M280.9 1678.7h0M294.1 1669.4h0M291.3 1694h0M295.8 1665.7h0M263.7 1648.8h0M273.2 1658.6h0M271 1674.4h0M277.8 1677.2h0M294.7 1685.4h0M256.3 1672.6h0M273.2 1685.2h0M281.5 1701.4h0M267 1704.5h0M266.8 1653.3h0M254.1 1655.6h0M288 1666.3h0M280.7 1700.4h0M295.9 1694h0M297.6 1694.9h0M264.2 1680.6h0M292.7 1658.3h0M282.5 1664.7h0M251.4 1672.5h0M269.5 1663.2h0M253.9 1694.9h0M257.8 1675.8h0M269.9 1700.3h0M291.9 1703.5h0M289.5 1697.6h0M279.6 1679.2h0M287.3 1702.9h0M247.5 1678.6h0M275.5 1658.5h0M254.9 1696.4h0M314.9 1687.3h0M265 1675.2h0M280.8 1658h0M295.4 1660.3h0M290.4 1679.2h0M260.1 1651.4h0M292.5 1664h0M283 1704h0M287.1 1689.3h0M290 1693h0M287.9 1679.3h0M278.7 1650.2h0M266.4 1697.8h0M266.9 1695.7h0M282.9 1663h0M265.9 1702.2h0M275.8 1675.5h0M280.9 1671.6h0M255.5 1654.4h0M254.1 1661.9h0M280.6 1647.5h0M285.1 1682.7h0M266.9 1689.6h0M268.1 1691.4h0M260.3 1678h0M268 1684.8h0M270.9 1682.2h0M277.4 1656.6h0M268.3 1666.9h0M267.5 1686.9h0M274.1 1703.6h0M235.5 1676.4h0M302.6 1677.3h0M298.4 1680h0M290.1 1686.7h0M255.6 1663.7h0M298.9 1663.3h0M301.7 1691.2h0M282.4 1701.1h0M284.7 1661.2h0M294.4 1688.6h0M282.9 1688.8h0M277 1698.1h0M287.6 1676h0M246.9 1700.5h0M294.3 1665.5h0M281.5 1699.4h0M280.3 1676.8h0M255.5 1682h0M298.2 1658.6h0M257.6 1679.2h0M266.3 1677.1h0M281.7 1657.2h0M264.3 1664.9h0M279.3 1678.9h0M280.1 1676.6h0M265.7 1663.2h0M283.3 1681h0M302.1 1688.1h0M249.4 1686.5h0M280.1 1683.4h0M294.7 1687.4h0M269 1690.8h0M269.7 1649h0M266 1652.2h0M253.6 1679.9h0M273.7 1672h0M301.2 1681.5h0M250 1689.1h0M270.4 1701.8h0M278.3 1680.2h0M300.4 1679.8h0M294.5 1682h0M290.8 1671.6h0M315.2 1686.2h0M259.7 1663h0M301.8 1674.5h0M272.6 1689.7h0M274.2 1665.7h0M261.9 1686.1h0M276.5 1646.4h0M301.7 1663.1h0M274.1 1678h0M282.6 1679.4h0M273.6 1650.1h0M277.5 1670.6h0M296.7 1659.6h0M280.9 1683h0M259.3 1682.2h0M263.9 1673.4h0M265.4 1694.7h0M293.1 1687.3h0M276.5 1658.7h0M290.2 1661.3h0M270.7 1704.2h0M278.9 1653h0M246.2 1703.4h0M267.4 1664.4h0M259.8 1665.8h0M263.2 1669.4h0M290.1 1656.3h0M265.8 1697.8h0M275.2 1672.6h0M265.8 1689h0M266.8 1663.3h0M297.3 1671h0M285.8 1651.2h0M253.4 1659.7h0M293.6 1680.9h0M268.2 1684.1h0M268.6 1688.6h0M268.7 1665.1h0M289 1700.5h0M273.1 1676.5h0M270.3 1673.2h0M282 1684.5h0M294.3 1669.8h0M267.8 1667.8h0M266.4 1682.1h0M290.2 1683.4h0M304.3 1679.5h0M278.8 1700.2h0M262.7 1690.4h0M278.4 1677.5h0M275.1 1676.8h0M277 1675.6h0M267 1655.9h0M267.8 1668.7h0M272.6 1679.5h0M282.3 1685.5h0M268.9 1672.7h0M255 1666.3h0M275.9 1675.6h0M289 1664.8h0M269.2 1692.3h0M252.8 1658.7h0M286.3 1694.1h0M265.4 1650.5h0M284 1671.2h0M288.1 1675.5h0M250.4 1677.9h0M276.5 1677.5h0M297.8 1694.9h0M279.3 1646.7h0M269.7 1667.5h0M300.7 1686.1h0M277.1 1676.8h0M275.1 1697.8h0M275 1678.3h0M299 1680.6h0M286.8 1699.3h0M254.7 1691.8h0M273.1 1674.7h0M294.1 1661.3h0M277 1649.3h0M304 1668.1h0M258.6 1673.8h0M296.4 1694.3h0M282.8 1651.7h0M264.1 1663.8h0M293.9 1668.3h0M254.2 1684.9h0M256.1 1692.3h0M279.1 1647.5h0M272.4 1688.7h0M267.6 1699.8h0M256.5 1672.2h0M273.5 1695h0M278 1705.3h0M275.3 1673.3h0M264.5 1667.3h0M299.7 1685.3h0M291.2 1693.1h0M291.4 1672.2h0M275.8 1695.2h0M277.9 1635.3h0M279.8 1617.8h0M285.2 1636.3h0M275.9 1643.9h0M276.9 1623.6h0M275.4 1601.4h0M291.4 1614.4h0M274.5 1639.7h0M295.2 1619.8h0M280.3 1615.5h0M292.7 1632.7h0M275.9 1601.1h0M276.9 1619.3h0M292 1615.5h0M286.7 1637.9h0M294.6 1627.7h0M287.6 1632.5h0M275 1626.7h0M270.7 1624.7h0M282.1 1641.2h0M284.3 1617.5h0M279.6 1609.9h0M282.2 1629.3h0M292.7 1615.1h0M284.6 1615.9h0M283.5 1598.6h0M287.8 1644.6h0M281.8 1617.3h0M287.5 1601.1h0M269 1609.8h0M269.7 1607.4h0M276.1 1624.5h0M285.1 1599.3h0M269.3 1611.9h0M292.1 1615h0M289.6 1610.2h0M294.4 1617.4h0M273 1639.3h0M280.6 1607.2h0M288.1 1617.6h0M283.3 1644.6h0M292.9 1612.4h0M283.1 1622.1h0M281.5 1615.4h0M271.9 1630.9h0M291.7 1618.2h0M272.5 1603.4h0M275.8 1638.3h0M292.1 1624.6h0M298.1 1600.2h0M266.3 1616.8h0M319.9 1735.7h0M263.1 1746.8h0M267.2 1723.8h0M289.4 1733.7h0M261.5 1727.1h0M277.3 1744.3h0M284.2 1722.5h0M293 1733.1h0M233.8 1748.8h0M269.5 1745.7h0M246.1 1746.4h0M294.6 1751.2h0M254.9 1714h0M233.3 1736.1h0M271.9 1746.4h0M285.8 1743.1h0M270 1753.4h0M251.1 1720.3h0M335.4 1588.4h0M356 1609.9h0M325.1 1572.2h0M320.8 1587.5h0M326.4 1580.7h0M332.4 1567h0M341.4 1609.2h0M316.7 1599.8h0M346.2 1615.4h0M337.2 1592h0M360 1585.4h0M352.1 1588.5h0M330.2 1599.7h0M314.2 1591.7h0M352.5 1588.1h0M345.2 1590.2h0M346.4 1588.5h0M353.1 1588.2h0M356.7 1590.5h0M304.1 1569.4h0M313.1 1599.3h0M332.5 1588.8h0M355.9 1583.4h0M345.5 1606.1h0M360.6 1604.4h0M319.2 1579.1h0M339.7 1593.1h0M341.8 1577.9h0M346.1 1590h0M334.6 1589.2h0M329.9 1590.3h0M334.5 1591h0M345.2 1591.8h0M363 1575.4h0M343.8 1588.1h0M352 1574.8h0M332.9 1594.4h0M361.8 1595h0M351.2 1576.5h0M307.5 1593.6h0M341.3 1569.1h0M362.8 1577.9h0M351.9 1605.7h0M355.6 1603.4h0M363.6 1590.3h0M346.7 1566.6h0M324.3 1587.7h0M344.5 1609.2h0M364.4 1616.7h0M338.5 1587.3h0M327.9 1580.1h0M351.6 1566.8h0M350 1586h0M351 1574.3h0M339.3 1568.2h0M331.1 1577.7h0M345.3 1580.4h0M323.6 1572.8h0M346.7 1612.6h0M363.7 1589.4h0M349 1574.7h0M333.1 1599.2h0M361.9 1574h0M325 1572.9h0M359.1 1602.2h0M326.5 1608h0M332.6 1602.1h0M321.4 1608.2h0M306.2 1593.2h0M348.5 1579.8h0M356.4 1604.4h0M343.2 1588.5h0M317.2 1590.8h0M334.4 1588.8h0M336.2 1585.2h0M343.5 1595.7h0M312.1 1599.2h0M350.7 1607.1h0M346 1589.1h0M312.3 1579.6h0M339.5 1577.6h0M355.6 1600.4h0M329.6 1609h0M340.1 1592.3h0M319.9 1586.8h0M324.9 1603.9h0M327.5 1607.3h0M321.4 1582.6h0M333.5 1601.8h0M352 1574.1h0M328.5 1571.5h0M306.5 1585h0M359.2 1585.9h0M325.1 1598h0M320.5 1572.5h0M353 1557.6h0M339.3 1607.2h0M320.8 1574.7h0M380.7 1518.3h0M400 1513h0M371.9 1492.4h0M408.3 1528.5h0M406.6 1513.1h0M394.4 1522.2h0M412.8 1479h0M381 1494.7h0M377.9 1517.5h0M390.2 1507.3h0M384.5 1508.5h0M408.8 1539.9h0M365.8 1500.3h0M403.4 1509.1h0M386.9 1505.2h0M405.6 1509h0M368.6 1484.7h0M402.7 1514.7h0M417.5 1495.3h0M409.2 1574.9h0M431.3 1601.7h0M415.4 1638.5h0M430.1 1628.8h0M418.4 1597h0M400.4 1588.5h0M409.8 1615.7h0M408.6 1631.4h0M424.6 1605.4h0M406.3 1606.1h0M429.3 1593.8h0M400.6 1600.5h0M422.6 1633.5h0M428.1 1598.8h0M430.9 1578.2h0M414.3 1637.9h0M422.3 1587h0M432.4 1628.7h0M429 1565.4h0M432.4 1593.1h0M423.1 1605.7h0M405.6 1583.8h0M398.9 1582h0M409.5 1568.6h0M432.5 1618.4h0M411 1602.9h0M424.1 1570.8h0M439 1571.7h0M356.2 1675.9h0M343.3 1706.7h0M396.9 1674.3h0M314.3 1679.7h0M317.3 1653.6h0M340.2 1695.2h0M382.2 1640.4h0M317.7 1669.1h0M370.5 1675.7h0M383.8 1696h0M347.1 1657.5h0M373.1 1659.6h0M309.5 1687.9h0M392.6 1690.4h0M338.6 1650h0M385.2 1659h0M275.9 1472.8h0M268.5 1542.1h0M316 1477.3h0M315.8 1502.7h0M323.6 1517.6h0M213 1619.2h0M175.2 1624.5h0M190.7 1608.8h0M262.7 1570.9h0M180.7 1443.4h0M209.1 1732.8h0M162.9 1593h0M198 1670.5h0M133.2 1621.2h0M160.9 1428.6h0M215.3 1639.4h0M181.4 1440h0M259.9 1595.5h0M203.5 1669.5h0M242.1 1538.3h0M321.3 1615.3h0M275 1580.9h0M353.5 1661h0M300.9 1608.6h0M232.8 1621.3h0M215.5 1518.1h0M290.7 1466.8h0M129.4 1521h0M114.5 1679.2h0M201.1 1529.9h0M260.3 1563.6h0M142.1 1684.4h0" stroke="#d21f1f" stroke-width="8.2" stroke-linecap="round" fill="none"/>
<path d="M177.5 1483.9h0M190.1 1514.5h0M239.7 1531.1h0M215.3 1514.8h0M200.6 1523.1h0M178.4 1543.8h0M158.9 1529h0M226 1520h0M223.7 1500.3h0M235.7 1544.7h0M241.5 1483.8h0M236 1514h0M247.3 1513.1h0M212.6 1557.6h0M215.2 1533.6h0M191.5 1551.2h0M216.4 1448.5h0M250.8 1502.7h0M144 1518.5h0M225.5 1548.3h0M267.8 1536.3h0M223.7 1523.7h0M204.8 1508h0M259.9 1524.9h0M211.7 1508.9h0M188.6 1558.1h0M165.2 1491.7h0M207.8 1513.1h0M197.5 1517.6h0M187.7 1510.7h0M213.2 1533.6h0M202.4 1504.6h0M241 1530.2h0M196.7 1491.3h0M227.6 1498.8h0M244.6 1543.3h0M186.9 1560.7h0M243.9 1546.2h0M205.1 1513.1h0M167.4 1529.2h0M227.6 1522.2h0M197.6 1470.4h0M197.8 1480.7h0M183.6 1477.1h0M226.4 1502.6h0M272.4 1517.7h0M187 1508.7h0M203.9 1491.2h0M201.5 1520.8h0M183.7 1558.8h0M217.8 1554.2h0M157.5 1525h0M189.4 1528.8h0M227.2 1519.9h0M229.5 1516.2h0M231.6 1494.3h0M223 1520.7h0M212.7 1492.5h0M243.4 1519.3h0M166.3 1522.1h0M196.2 1543.4h0M192 1514h0M216.8 1517.8h0M220.8 1527.1h0M199.2 1473.8h0M223.2 1550.2h0M221.1 1471.8h0M241.1 1489.7h0M264.4 1490.1h0M174.4 1490.6h0M158 1504.1h0M155 1497h0M197.2 1520.3h0M197.8 1523.4h0M242.6 1521.3h0M157.3 1508.1h0M183.2 1526.2h0M190.9 1521.6h0M201.2 1470.4h0M236.4 1515.7h0M221.3 1562.2h0M175.1 1539.9h0M205.4 1468.5h0M205 1515h0M201.1 1525.1h0M204.2 1523.9h0M182.3 1515.3h0M187.9 1491.7h0M201 1503.7h0M204.4 1511h0M170.6 1549.9h0M205.9 1485.6h0M184.9 1502.8h0M211.2 1495.6h0M209.3 1525.1h0M206.1 1520.9h0M207.2 1483.2h0M205.7 1529.6h0M220.8 1480.5h0M193.6 1540h0M236.2 1489.7h0M223.7 1546.2h0M212.6 1487.5h0M196.2 1500.8h0M163.5 1536.1h0M180.5 1543.2h0M216.2 1541.5h0M207 1523.7h0M191 1495.5h0M199.2 1545.1h0M188.6 1545.5h0M210.7 1474.2h0M229.5 1557.9h0M212.1 1490.2h0M240.2 1508.1h0M223.7 1534.7h0M190.4 1519.3h0M188.4 1513.9h0M180 1535.2h0M196.7 1488.3h0M176 1553.7h0M249.2 1516h0M227.8 1518.7h0M226.8 1484.8h0M240.7 1540.1h0M186.5 1529.1h0M206.6 1557.7h0M251.7 1513.8h0M153.3 1528h0M244 1510.5h0M162.9 1518.6h0M210.8 1498.6h0M192.6 1500.9h0M172.1 1498.4h0M204.9 1481.8h0M206.3 1523.1h0M192.5 1544.5h0M191.7 1535.6h0M209.6 1480.9h0M162.8 1505.8h0M209.6 1514.3h0M200.9 1557.3h0M203.9 1539.9h0M163.4 1512.3h0M209.2 1566.9h0M202.2 1556h0M185.7 1533.9h0M233 1480h0M224.1 1522.5h0M235.6 1526.5h0M194.1 1533.6h0M201 1493.4h0M229 1481h0M188.6 1527.4h0M212.9 1533.7h0M235.9 1507.6h0M220.3 1547.4h0M187.3 1489.7h0M202.9 1500.6h0M188.5 1535.5h0M187.4 1488.8h0M206.3 1511.2h0M193.4 1472h0M165.1 1534.8h0M227 1507.2h0M206.8 1470.6h0M223.5 1526.8h0M210.2 1490.1h0M208.9 1527.3h0M238.3 1491.9h0M209.6 1546.9h0M245.5 1528.5h0M238.8 1498.4h0M230.9 1513.1h0M204 1516h0M244.9 1521.4h0M166.8 1502.1h0M240.6 1492.4h0M204.6 1503.8h0M217 1472.5h0M204.9 1542.4h0M205.4 1517h0M242.9 1502.2h0M227.1 1502.4h0M183 1481.4h0M226 1507h0M240.4 1552.8h0M207.8 1525h0M187.2 1542.7h0M181.1 1487.6h0M229.7 1552.3h0M159.7 1509.6h0M201.5 1551.4h0M180.6 1519.6h0M181.2 1550.4h0M163.5 1519.1h0M206.9 1510.5h0M232.2 1529.2h0M233 1514h0M177.3 1501.7h0M181 1539.4h0M226.4 1553.1h0M242.1 1496h0M237.2 1550.8h0M210.7 1486.2h0M216.5 1466.6h0M198.5 1484.2h0M187.7 1493.5h0M174.1 1479h0M178.7 1551.3h0M187.4 1557.9h0M206.7 1512.7h0M171.2 1530.3h0M179.1 1551.8h0M202.4 1492.8h0M229.5 1537.8h0M173.3 1552.9h0M221 1494.1h0M189.4 1545.9h0M208.5 1482.2h0M180 1506.8h0M233.5 1486.4h0M159.1 1531.6h0M185.8 1572.6h0M195 1517.2h0M240.1 1497.7h0M191 1503.8h0M251.1 1499.6h0M209 1507.6h0M158.8 1532.4h0M212.5 1513.2h0M190.1 1524.3h0M209 1544.7h0M223.8 1554.6h0M208.2 1511.6h0M201.7 1520.9h0M224.7 1500h0M206.1 1515.2h0M232.5 1535.3h0M195.7 1514.1h0M217.7 1517.2h0M164.3 1526.6h0M214.5 1489.8h0M176 1488.1h0M205.1 1530.1h0M167.8 1535h0M207.1 1574.2h0M176.3 1523.6h0M211 1483.3h0M189.4 1512.9h0M167.9 1485.4h0M157.8 1485.2h0M181.9 1497.4h0M241.2 1485.8h0M197.6 1527.6h0M254.3 1561.1h0M202.9 1515.6h0M156.4 1524h0M180.1 1529.8h0M224 1495h0M228.2 1532.8h0M197.2 1490.3h0M229.1 1555.8h0M194.2 1500.9h0M235.1 1536.8h0M210.6 1519.2h0M213.5 1484.9h0M163.2 1536.1h0M163.2 1523.5h0M186.1 1558.9h0M171.1 1480h0M214.2 1520.8h0M240 1502.2h0M225.8 1507h0M213.8 1534h0M187.4 1505.6h0M216 1468.9h0M220.9 1507.8h0M209.6 1515.6h0M200.3 1492.1h0M212.6 1483.8h0M162.9 1529.5h0M177 1551.3h0M242.5 1491.8h0M187.5 1510.7h0M192.7 1518.7h0M219.7 1560.6h0M181.9 1527.4h0M225.2 1472.7h0M200.7 1563.7h0M236.9 1488.6h0M167.3 1495.5h0M174.2 1502.5h0M219.6 1497.1h0M164.2 1493.6h0M197.4 1494.1h0M252.5 1496.9h0M224.5 1521.2h0M210 1485.9h0M213.8 1533.1h0M194.1 1464.5h0M210.3 1524.4h0M196.6 1549.3h0M199.7 1498.1h0M236.2 1478.2h0M163.8 1495.3h0M194 1518.9h0M175.9 1517.6h0M178.4 1518.7h0M207.1 1522h0M210.2 1541.2h0M138.5 1503.5h0M195.7 1524.4h0M213.3 1530.6h0M166.4 1495.9h0M175 1514.2h0M237.9 1519.7h0M199.3 1510.1h0M189.6 1496.9h0M197.3 1494.8h0M182.7 1513.9h0M201.3 1512.8h0M198 1485.4h0M213.2 1508.4h0M175 1494.1h0M217.3 1491.3h0M195.3 1525.9h0M189.7 1471.9h0M203.7 1528.5h0M176.1 1539.9h0M211.6 1491.8h0M227.4 1477.2h0M202.1 1516.7h0M213.9 1466.6h0M188 1533.1h0M214.6 1527.5h0M226.2 1520.8h0M190.3 1507.2h0M215.2 1520.8h0M253 1513.1h0M188.4 1516.7h0M204.3 1539.6h0M169.3 1546.4h0M169.3 1489.1h0M169.1 1510.8h0M160.5 1497.9h0M170.1 1519.5h0M248.2 1497.1h0M211.3 1521.3h0M193.5 1495.3h0M242.1 1542.6h0M188.1 1515.4h0M214.4 1492.9h0M210.9 1470.2h0M225.1 1477.6h0M209.6 1538.4h0M223.9 1527.2h0M234.3 1499.4h0M211.2 1544.2h0M219 1490.4h0M205.2 1483.4h0M228.6 1505.7h0M188.3 1509.9h0M214.9 1483.3h0M201.9 1543.4h0M235.7 1498.3h0M225.1 1537.2h0M176.1 1517.9h0M206.3 1522h0M165.9 1532.3h0M217.7 1479.4h0M238.7 1526.4h0M168.6 1553h0M188.4 1475.5h0M218.1 1518.2h0M173 1503.3h0M237.1 1525.1h0M190 1530.8h0M194.7 1471.9h0M223.1 1537.1h0M212 1523h0M247.5 1539.3h0M196.8 1543.2h0M179.6 1515h0M193 1468.7h0M230.7 1497.4h0M218.1 1544.6h0M184.6 1485.2h0M214.1 1557.9h0M172.8 1538.6h0M191.3 1567.9h0M242.3 1492.1h0M174.7 1546.2h0M211 1527.6h0M199 1500.9h0M229.1 1475h0M230.8 1496.3h0M210.5 1481h0M172.3 1536.1h0M160.4 1505.7h0M207.7 1472.6h0M185.2 1476.9h0M207.9 1538.5h0M175.5 1515.1h0M237.6 1519h0M160.8 1493.4h0M212 1527.2h0M209.6 1492.1h0M225.1 1505.2h0M207.2 1516.3h0M258.2 1538.2h0M210.2 1517.6h0M174.9 1539.1h0M195.8 1522.7h0M181 1531.5h0M219.4 1461.3h0M162.1 1531.4h0M219.5 1464.1h0M188.6 1479.5h0M194.8 1533.6h0M186.9 1508.9h0M142.1 1535.6h0M226 1505.6h0M205.2 1528.5h0M203.3 1561.3h0M216.5 1541.1h0M122.9 1539.4h0M166.4 1530.5h0M163.2 1496.5h0M186.8 1429.2h0M219.2 1391.2h0M266.8 1393.1h0M283.5 1390.3h0M261.6 1413h0M315.4 1429.2h0M342.4 1405.7h0M345.2 1417.8h0M323.8 1399.6h0M322.6 1413.5h0M370.9 1425.7h0M308.2 1397.3h0M341.7 1445.8h0M352.5 1441.4h0M327.7 1411.5h0M289.7 1412.3h0M317.6 1440.3h0M369.3 1438.3h0M302.1 1417.9h0M326.3 1431.4h0M387.3 1463.6h0M362.5 1444.6h0M103 1509.8h0M113.6 1463.1h0M92.9 1496.6h0M86.3 1487.8h0M104.5 1537.1h0M96.6 1490.8h0M89.6 1533.8h0M91.8 1505h0M86.2 1519.2h0M90.6 1510h0M116.9 1502.2h0M95.7 1574.4h0M79.4 1563.7h0M100 1589h0M108.1 1581.3h0M81.4 1583.3h0M71.5 1571.5h0M101.2 1571.6h0M100.8 1611.2h0M120.1 1606.2h0M113.7 1583.5h0M124.6 1627.8h0M130.1 1619.3h0M117.9 1625.8h0M129.1 1583.4h0M105.3 1592.7h0M134.1 1614.8h0M113.4 1593.4h0M147.7 1615.6h0M123.7 1588.8h0M118.1 1627.2h0M91.7 1594.2h0M124.7 1586.7h0M101.8 1596.5h0M104.8 1589.6h0M164.5 1596.7h0M190.4 1712.6h0M177.4 1714.1h0M196.8 1675.7h0M190.7 1639.4h0M202.4 1680.3h0M261.7 1692h0M262.3 1690.5h0M274.1 1679.6h0M273.5 1687h0M272.3 1686.5h0M257 1679.5h0M263.9 1652.1h0M256.2 1684.7h0M256.3 1679.8h0M276 1631.4h0M280.7 1644.2h0M275.6 1603.9h0M283.3 1611.6h0M233 1748.2h0M294.2 1722.4h0M308.7 1735.3h0M257.7 1743.9h0M232.9 1733h0M236.4 1730.7h0M286.8 1733.8h0M305.2 1746.1h0M301.7 1736.4h0M288.8 1740.8h0M277.5 1734.5h0M275.2 1722.8h0M260.2 1734.3h0M290.2 1725.9h0M365 1581.2h0M353.3 1583.5h0M319.5 1596.3h0M341.7 1577.5h0M400.6 1532.7h0M402.1 1537.9h0M403 1524.4h0M398.8 1509.3h0M427.3 1508.1h0M402.5 1535.6h0M391.4 1539.6h0M369.7 1526.7h0M404.8 1608.6h0M413.4 1623.1h0M405.6 1579.5h0M403.9 1596.1h0M420.2 1579.9h0M355.8 1686.4h0M364.7 1657h0M365.4 1672.8h0M366.4 1656.3h0M396.3 1657.2h0M380.7 1657h0M339.8 1524.9h0M350 1514.1h0M306.6 1512.1h0M309.4 1556.2h0M275.7 1516h0M268.2 1548.9h0M303.1 1506.4h0M301.5 1523.9h0M302.6 1510.1h0M317.8 1552.6h0M213.9 1619.2h0M238.8 1604.8h0M212.8 1614.1h0M225.9 1616h0M214.4 1599.5h0M210.7 1614.7h0M198.7 1615.3h0M262.8 1535.1h0M305.2 1468.5h0M222.9 1507.1h0M344.6 1674.3h0M248.1 1622.5h0M410.2 1493.7h0" stroke="#0f5ba7" stroke-width="8.2" stroke-linecap="round" fill="none"/>
<path d="M585.5 1483.9h0M598.1 1514.5h0M647.7 1531.1h0M608.6 1523.1h0M566.9 1529h0M634 1520h0M649.5 1483.8h0M644 1514h0M599.5 1551.2h0M552 1518.5h0M675.8 1536.3h0M612.8 1508h0M619.7 1508.9h0M596.6 1558.1h0M573.2 1491.7h0M615.8 1513.1h0M649 1530.2h0M604.7 1491.3h0M618 1503.4h0M651.9 1546.2h0M575.4 1529.2h0M635.6 1522.2h0M605.6 1470.4h0M589.4 1489.3h0M680.4 1517.7h0M595 1508.7h0M611.9 1491.2h0M625.8 1554.2h0M597.4 1528.8h0M637.5 1516.2h0M639.6 1494.3h0M631 1520.7h0M651.4 1519.3h0M574.3 1522.1h0M600 1514h0M607.2 1473.8h0M626.3 1572.5h0M672.4 1490.1h0M566 1504.1h0M605.8 1523.4h0M650.6 1521.3h0M591.4 1517.3h0M613.4 1468.5h0M613 1515h0M609.1 1525.1h0M612.2 1523.9h0M590.3 1515.3h0M595.9 1491.7h0M609 1503.7h0M612.4 1511h0M613.9 1485.6h0M592.9 1502.8h0M619.2 1495.6h0M613.7 1529.6h0M601.6 1540h0M622.9 1485.4h0M620.6 1487.5h0M604.2 1500.8h0M624.2 1541.5h0M615 1523.7h0M613.2 1523.8h0M648.2 1508.1h0M631.7 1534.7h0M598.4 1519.3h0M596.4 1513.9h0M588 1535.2h0M634.3 1478.9h0M604.7 1488.3h0M657.2 1516h0M635.8 1518.7h0M648.7 1540.1h0M614.6 1557.7h0M570.9 1518.6h0M618.8 1498.6h0M600.6 1500.9h0M612.9 1481.8h0M600.5 1544.5h0M596.3 1511.5h0M617.6 1480.9h0M608.9 1557.3h0M608.4 1531.4h0M617.2 1566.9h0M610.2 1556h0M632.1 1522.5h0M602.1 1533.6h0M609 1493.4h0M596.6 1527.4h0M628.3 1547.4h0M596.5 1535.5h0M601.4 1472h0M635 1507.2h0M614.8 1470.6h0M622.3 1479h0M646.3 1491.9h0M617.6 1546.9h0M646.8 1498.4h0M612 1516h0M652.9 1521.4h0M574.8 1502.1h0M648.6 1492.4h0M631.8 1548.8h0M621.2 1483.5h0M625 1472.5h0M613.4 1517h0M635.1 1502.4h0M634 1507h0M648.4 1552.8h0M615.8 1525h0M589.1 1487.6h0M637.7 1552.3h0M609.5 1551.4h0M588.6 1519.6h0M609 1509h0M634.4 1553.1h0M647.9 1533.4h0M624.5 1466.6h0M582.1 1479h0M587.1 1551.8h0M581.3 1552.9h0M629 1494.1h0M597.4 1545.9h0M616.5 1482.2h0M567.1 1531.6h0M593.8 1572.6h0M648.1 1497.7h0M599 1503.8h0M566.8 1532.4h0M598.1 1524.3h0M640.5 1535.3h0M603.7 1514.1h0M572.3 1526.6h0M622.5 1489.8h0M613.1 1530.1h0M575.8 1535h0M615.1 1574.2h0M584.3 1523.6h0M598.8 1515.3h0M575.9 1485.4h0M649.2 1485.8h0M605.6 1527.6h0M636.2 1532.8h0M605.5 1517.1h0M605.2 1490.3h0M637.1 1555.8h0M602.2 1500.9h0M643.1 1536.8h0M621.5 1484.9h0M633.9 1469.7h0M648.3 1517.8h0M571.2 1536.1h0M594.1 1558.9h0M622.2 1520.8h0M633.8 1507h0M621.8 1534h0M617.6 1515.6h0M620.6 1483.8h0M570.9 1529.5h0M585 1551.3h0M650.5 1491.8h0M595.5 1510.7h0M586.4 1488.2h0M633.2 1472.7h0M608.7 1563.7h0M644.9 1488.6h0M627.6 1497.1h0M660.5 1496.9h0M596.8 1526.7h0M621.8 1533.1h0M618.3 1524.4h0M583.9 1517.6h0M615.1 1522h0M583 1514.2h0M645.9 1519.7h0M597.6 1496.9h0M627.1 1526.8h0M605.3 1494.8h0M606 1485.4h0M621.2 1508.4h0M583 1494.1h0M625.3 1491.3h0M574.9 1531.3h0M584.1 1539.9h0M635.4 1477.2h0M610.1 1516.7h0M621.9 1466.6h0M583.8 1491.5h0M622.6 1527.5h0M634.2 1520.8h0M598.3 1507.2h0M661 1513.1h0M596.4 1516.7h0M612.3 1539.6h0M577.3 1489.1h0M656.2 1497.1h0M619.3 1521.3h0M601.5 1495.3h0M596.1 1515.4h0M618.9 1470.2h0M633.1 1477.6h0M617.6 1538.4h0M613.2 1483.4h0M636.6 1505.7h0M596.3 1509.9h0M633.1 1537.2h0M625.7 1479.4h0M583.4 1489.5h0M596.4 1475.5h0M626.1 1518.2h0M581 1503.3h0M645.1 1525.1h0M602.7 1471.9h0M604.8 1543.2h0M587.6 1515h0M592.6 1485.2h0M599.3 1567.9h0M582.7 1546.2h0M619 1527.6h0M607 1500.9h0M637.1 1475h0M638.8 1496.3h0M580.3 1536.1h0M593.2 1476.9h0M611.6 1515.8h0M645.6 1519h0M620 1527.2h0M617.6 1492.1h0M633.1 1505.2h0M615.2 1516.3h0M618.8 1512.8h0M565.2 1473.5h0M612 1450.5h0M639.3 1475.6h0M646.8 1461h0M608.4 1514.6h0M586.7 1453h0M641.7 1517h0M616.9 1540.3h0M629.4 1524.5h0M566.5 1482.1h0M620.8 1529.5h0M612.2 1518.2h0M639.1 1460.4h0M653.7 1519.5h0M606.1 1483.2h0M606.3 1468.7h0M662.2 1501.2h0M591.8 1550.5h0M618.2 1517.6h0M609.1 1515.5h0M617.5 1460h0M592.9 1503.6h0M603.8 1522.7h0M656 1524.6h0M660.4 1532.5h0M586.4 1563.9h0M624.6 1567.8h0M631.4 1541.7h0M553.7 1512.6h0M635.3 1465.4h0M589 1531.5h0M578.1 1518.4h0M627.4 1461.3h0M571.5 1531.2h0M570.1 1531.4h0M645.1 1510h0M588 1484.5h0M633.7 1479.8h0M628.9 1456.2h0M662.9 1539.5h0M627.5 1464.1h0M596.6 1479.5h0M592.3 1475.1h0M592.7 1474.7h0M584.9 1480.7h0M569.9 1476.4h0M593.5 1571.9h0M604.7 1546.4h0M567.9 1482h0M643.1 1507.2h0M582.8 1486.8h0M588.2 1475.3h0M624.9 1520.5h0M615.9 1503.2h0M661.6 1470.1h0M603.4 1568.1h0M605.1 1516.2h0M559.6 1494.4h0M635.4 1541h0M599.2 1501.3h0M573.4 1466.8h0M600 1479.9h0M619.1 1509.6h0M606.4 1550.3h0M594.3 1538.1h0M620.1 1480.4h0M639 1489.3h0M608.7 1509.5h0M584.6 1517.4h0M617.6 1490h0M560.2 1482.7h0M594.2 1527.3h0M581.3 1524h0M645.7 1491.3h0M623.8 1466.8h0M593.2 1552.2h0M567.9 1486.1h0M586.5 1558.3h0M593.9 1497.4h0M645.2 1484.6h0M608.1 1531.6h0M550.7 1524.5h0M627.1 1559.5h0M623.3 1497.7h0M611.6 1510.2h0M619.4 1503.9h0M629.7 1517.1h0M602.8 1533.6h0M627.6 1524h0M579.4 1568.5h0M594.9 1508.9h0M564.9 1548.3h0M570.1 1545.3h0M643.3 1492.9h0M637.6 1548.8h0M592.6 1537.7h0M636.9 1472.1h0M658.9 1492.3h0M581.7 1533h0M557.8 1510.2h0M606.9 1486.3h0M575.6 1530.5h0M641.6 1467.5h0M656.4 1473.7h0M666.9 1533.3h0M550.1 1535.6h0M589.8 1545.1h0M553.2 1489.3h0M646.4 1517.9h0M560.4 1534.1h0M565.8 1472.5h0M649.6 1485.4h0M552.8 1497.2h0M607.2 1505.1h0M654.1 1471.7h0M592.4 1497.7h0M607 1509h0M574.5 1469h0M551.3 1536.3h0M609.2 1523.6h0M611.5 1495h0M568.9 1468.1h0M642.5 1530.8h0M634 1505.6h0M557 1516.2h0M582.2 1567.7h0M605.9 1547.8h0M555.9 1443.8h0M624.3 1465.4h0M607.5 1530h0M613.2 1528.5h0M611.3 1561.3h0M639.1 1531.6h0M575 1494.8h0M624.5 1541.1h0M612.4 1498.3h0M610 1510.8h0M573.2 1528.6h0M558 1515.9h0M609.2 1541.2h0M641 1532.9h0M572.6 1493.7h0M604.2 1534h0M592.3 1547.8h0M598.7 1515h0M588.6 1471.8h0M615.5 1479.7h0M615.8 1459.1h0M530.9 1539.4h0M633.5 1520.8h0M604.7 1546.6h0M602.3 1466.3h0M616.6 1510.9h0M694.3 1525.6h0M610.8 1521.1h0M559.9 1481.4h0M566.4 1512.2h0M574.4 1530.5h0M633.8 1549.9h0M570.1 1515.4h0M600.8 1469.6h0M654.3 1518.2h0M548.1 1518h0M601.1 1474.8h0M571.2 1496.5h0M691 1403.8h0M684.7 1381.2h0M629 1395.7h0M657.5 1405.2h0M555.5 1419.5h0M633.3 1406.1h0M572.4 1442h0M573 1409.6h0M647.1 1387.3h0M582 1429h0M582.6 1401.4h0M687.5 1382.4h0M594.8 1429.2h0M681.8 1405.9h0M632.8 1413.2h0M653.9 1389.8h0M559.2 1416.2h0M690.7 1394.2h0M609.7 1421.9h0M684.6 1385.1h0M627.2 1391.2h0M561.3 1423.6h0M597.7 1412h0M649.7 1396.5h0M626.1 1408h0M618.6 1403.1h0M666.9 1404.6h0M674.8 1393.1h0M565.1 1412.8h0M691.5 1390.3h0M690.8 1412.3h0M675.5 1397.9h0M581.5 1421.5h0M595.2 1409.6h0M608 1410.6h0M652.8 1400.8h0M651.5 1394.2h0M598.3 1427.1h0M662.2 1383.8h0M678.3 1391h0M610.5 1412.3h0M587.2 1402.6h0M637 1392.7h0M603.8 1392.2h0M664.1 1380.8h0M633.2 1389.5h0M614.5 1391.3h0M564.9 1424h0M577.8 1416.2h0M584.9 1399.9h0M598.1 1419.2h0M575.5 1417h0M570.8 1420.5h0M657 1390.1h0M683.2 1393.9h0M575.1 1419.8h0M647.3 1383.8h0M630.1 1403.1h0M618.5 1421.2h0M591.4 1416.6h0M635.8 1395.3h0M664.6 1401.1h0M612.4 1397.2h0M682.9 1394.7h0M646.1 1403.8h0M658.6 1405.4h0M648 1390.4h0M599.7 1418.1h0M658.2 1385.9h0M563.9 1417.3h0M669.6 1413h0M687.1 1398.6h0M584.8 1409.6h0M620.1 1388.2h0M666.5 1390h0M589.3 1419.2h0M676.8 1406.9h0M622.1 1390.5h0M599.1 1396h0M595.1 1426.7h0M610.3 1414.9h0M689.6 1405.2h0M665 1390.1h0M565 1413.1h0M589.4 1401.7h0M650.9 1388.6h0M658.9 1381.8h0M585.7 1414.7h0M587.2 1425.3h0M598.4 1428.9h0M592.3 1405.3h0M651.7 1403.2h0M570.3 1432.3h0M597.4 1403.2h0M669.9 1405.7h0M604.2 1417.7h0M651.1 1406h0M596 1416.6h0M584.7 1402.7h0M667.7 1412h0M568.4 1413.5h0M684.2 1393.8h0M601.4 1422.2h0M568.2 1416.4h0M572.4 1439.2h0M670.6 1409.5h0M654.9 1407.3h0M636.3 1402.3h0M778 1478.9h0M769.6 1437.9h0M735.8 1435.5h0M779.8 1466h0M765.4 1425.6h0M780.7 1464.9h0M706.9 1419.2h0M745.3 1398.8h0M792 1466.3h0M776.7 1484.6h0M723.4 1429.2h0M778.6 1441.6h0M768.4 1450.9h0M777.9 1453.9h0M733.4 1428.1h0M766.7 1421.6h0M739.5 1443.4h0M747.4 1452.8h0M755.7 1412.4h0M782.1 1449.9h0M793.1 1462.6h0M775.1 1471.3h0M750 1445.7h0M764.4 1469.8h0M776.5 1473.3h0M773.6 1449.3h0M717.5 1406h0M815.4 1458.1h0M741.6 1443.2h0M707.6 1425.9h0M792.7 1449.5h0M803.4 1442.7h0M720 1392.1h0M791.3 1453.9h0M760.6 1443.7h0M790.7 1465.7h0M728.1 1442.2h0M791.7 1430.7h0M797.8 1465.8h0M756.6 1408.6h0M713.6 1404.3h0M796.4 1452.9h0M779.6 1436.6h0M755.6 1422.9h0M730.6 1413.5h0M746.4 1436.8h0M788.2 1446.8h0M708 1420.6h0M781.1 1424.7h0M755.8 1417.9h0M718.3 1388.5h0M713.6 1425.1h0M712.3 1434.9h0M738.4 1433.5h0M730.7 1393.4h0M745.4 1404.5h0M778.9 1425.7h0M792.3 1449.1h0M778.1 1432.4h0M749.2 1433.3h0M719 1389.4h0M740.1 1445.7h0M735.6 1430.3h0M704.4 1400.4h0M719.2 1427.8h0M753.4 1429.6h0M783.7 1475.1h0M807.3 1470.9h0M772.7 1417.2h0M805.3 1471.2h0M760.5 1441.4h0M796.9 1458.4h0M735.7 1411.5h0M751.8 1442.3h0M774.9 1433h0M730.8 1414.3h0M764.7 1411.1h0M709.7 1401.9h0M740.3 1441h0M789.3 1457.3h0M800.1 1444h0M742.5 1423h0M712.7 1398.1h0M711.6 1413.5h0M712.5 1403.3h0M709 1388.8h0M698.2 1431.9h0M760.1 1415.8h0M697.7 1412.3h0M709 1418h0M705.1 1398.3h0M696.8 1430.4h0M723.4 1394h0M784 1437.4h0M706.6 1392.3h0M772.8 1454.3h0M757.7 1459.5h0M752.3 1421.6h0M762.9 1436.7h0M726.8 1400.3h0M792.4 1468.5h0M718.4 1414.8h0M737 1424.8h0M791.1 1435.9h0M777.1 1418.7h0M747.6 1412h0M763 1436h0M794.9 1459.4h0M772.9 1473h0M732.3 1430.7h0M811.7 1467h0M705.6 1412.2h0M779.6 1428.2h0M778 1427.2h0M768.5 1463.5h0M730.9 1437.8h0M794.7 1467.9h0M757.1 1451.5h0M708.9 1404.3h0M757.7 1411.6h0M784.3 1467.2h0M781.1 1429.7h0M725.6 1440.3h0M750.6 1455.6h0M756.5 1458h0M724.9 1432h0M738.8 1439.1h0M769.1 1465.2h0M770.9 1435.7h0M737.6 1442.7h0M710.1 1409.8h0M760.2 1431.4h0M721.9 1437.1h0M713.4 1422.9h0M789.8 1431.5h0M796.1 1452.9h0M748.1 1422.8h0M752.4 1425h0M757.1 1418h0M713.5 1428.4h0M726.6 1395h0M795.3 1463.6h0M792.6 1473.1h0M721 1422.6h0M780.8 1434.1h0M757.3 1414.6h0M743 1420.7h0M738.8 1445.3h0M725.5 1402.3h0M730.5 1410.2h0M782.2 1455.6h0M784.9 1446.2h0M707.5 1390.4h0M770.5 1444.6h0M711.4 1422.8h0M770.6 1436.6h0M757.3 1463.1h0M719.8 1431h0M805.8 1457.4h0M802.7 1464.4h0M762.7 1447.1h0M791.4 1440.7h0M505.7 1498.2h0M493 1497.3h0M514.1 1502.4h0M526.6 1510.2h0M497.1 1494.4h0M517.1 1467.1h0M512.6 1495.5h0M510.8 1526.9h0M526.7 1500.2h0M517.2 1475.7h0M521.7 1506h0M511 1509.8h0M491.9 1520h0M509.1 1475.3h0M505.4 1483.3h0M519.6 1490.2h0M508.4 1491.7h0M498.7 1497.5h0M521.6 1463.1h0M514.5 1518.8h0M500.9 1496.6h0M494 1512.8h0M527.5 1524.7h0M522.6 1488.6h0M494.4 1502.1h0M495.4 1481.6h0M528 1481.7h0M503.6 1499.1h0M487.7 1508.1h0M508.3 1497.2h0M505.7 1510.6h0M481.4 1520.8h0M510.5 1475h0M496.4 1484.8h0M523.5 1468.3h0M485.7 1527.4h0M494.3 1487.8h0M514.7 1490.3h0M494.8 1537.9h0M490.8 1533.9h0M496.9 1538.9h0M515.1 1504.4h0M509.5 1513.4h0M512.5 1537.1h0M493.9 1499h0M513.4 1475.6h0M500.8 1493.4h0M524.8 1513.4h0M507.2 1472.9h0M492.3 1523.6h0M504.8 1486.4h0M517.8 1462.2h0M506.4 1510.1h0M510.4 1490.1h0M499.8 1542h0M484.8 1524.2h0M504.6 1490.8h0M492.9 1522.9h0M502.7 1496.4h0M518.5 1533.3h0M510.9 1538.6h0M516.5 1516.9h0M483.1 1521.8h0M525.4 1477.3h0M505.5 1485.1h0M506.6 1495.6h0M489.1 1526h0M520.7 1531.5h0M504.7 1521.4h0M507.9 1527.5h0M492.5 1521.2h0M519.4 1484h0M498 1501.1h0M516.9 1459.7h0M521.1 1495.8h0M502.7 1513.8h0M503.4 1478.1h0M493.6 1509.8h0M496 1514h0M518.8 1483.9h0M497.6 1533.8h0M521 1507.8h0M509.3 1502.1h0M499.8 1505h0M487.2 1523.3h0M506.6 1523.9h0M527.4 1484.8h0M537.3 1469.8h0M514.3 1522.7h0M514 1475.9h0M494.2 1519.2h0M526.5 1445.1h0M500.1 1485.4h0M511.7 1467h0M506.3 1534.3h0M504.4 1472.3h0M523.9 1489.8h0M498.6 1510h0M511.5 1496.4h0M500.9 1539.8h0M513.2 1533.4h0M506.8 1520.9h0M529.6 1486.4h0M518.2 1503.3h0M496.1 1482.4h0M508.2 1494.1h0M502.9 1508h0M507.2 1497.5h0M499.9 1494.7h0M491.4 1509.3h0M502.4 1510h0M494.4 1575.6h0M489.9 1576.1h0M499.2 1590.1h0M519.5 1576.2h0M485.2 1577.1h0M481.9 1584.5h0M485.8 1569.2h0M484 1585h0M503.7 1574.4h0M495.8 1578.3h0M514.1 1581.8h0M487.9 1567.2h0M527.5 1577h0M501.1 1580.3h0M498 1575.5h0M502.4 1568.9h0M487.4 1563.7h0M511.8 1572.5h0M484.1 1585.3h0M508 1589h0M509 1589.2h0M514.8 1577.7h0M477.9 1584.3h0M488.6 1572.2h0M480.3 1582.7h0M505.2 1574.4h0M514.7 1579.3h0M516.1 1581.3h0M526.1 1567.8h0M506.9 1566.3h0M504.7 1576.1h0M505.9 1581.1h0M496.9 1591h0M480.1 1574.5h0M494.7 1584.1h0M513.1 1589.1h0M480.8 1585.4h0M508.5 1567.3h0M489.4 1583.3h0M508.2 1567.8h0M484.4 1568.8h0M501.6 1590.8h0M494.7 1573.8h0M520.1 1578.7h0M510.5 1580.3h0M491.9 1570.5h0M504.5 1581h0M479.5 1571.5h0M516.8 1562.8h0M509.2 1571.6h0M502.5 1579.9h0M512.6 1562.7h0M486.8 1576.5h0M499.8 1580.5h0M483.1 1587.6h0M509.7 1576h0M508.2 1579.2h0M487.8 1580.6h0M495.2 1587.4h0M498.4 1562.8h0M517.8 1584.2h0M523.7 1573.6h0M534 1607.7h0M503.3 1599.2h0M528.6 1611.9h0M508.8 1611.2h0M528.1 1606.2h0M497.4 1608.7h0M545.7 1622.9h0M521.7 1583.5h0M523.1 1615.1h0M532.6 1627.8h0M538.1 1619.3h0M543.6 1603.6h0M545.6 1604.4h0M504.7 1600.8h0M527.4 1616h0M544.1 1588.3h0M497.1 1614.2h0M548.5 1624.6h0M532.8 1627.7h0M503.2 1613.8h0M550.3 1606.2h0M531.7 1624.6h0M523.5 1628.3h0M540.5 1620.1h0M525.9 1625.8h0M537.1 1583.4h0M542.7 1591.4h0M517.5 1612.4h0M506.7 1594h0M523.6 1592.6h0M517.9 1588.8h0M504.4 1595.6h0M506 1600h0M530.1 1592.2h0M552.8 1602.3h0M543 1601h0M513.8 1607.6h0M546.7 1608.5h0M509.7 1600.1h0M555.1 1604.1h0M560.2 1614.2h0M520.9 1609.4h0M513.3 1592.7h0M548.8 1622.1h0M562.6 1606.5h0M522.3 1614.1h0M531.3 1618.1h0M534.6 1593.6h0M533 1630.8h0M535.3 1584.4h0M512.5 1606.9h0M521.4 1593.4h0M555.7 1615.6h0M531.7 1588.8h0M555.3 1621.9h0M533.9 1611.1h0M509.6 1596.8h0M521 1609.7h0M545.8 1613.5h0M496.1 1601.8h0M526.1 1627.2h0M520.3 1606.8h0M546.1 1600.7h0M517.5 1625.4h0M525.5 1622.2h0M524.7 1601.1h0M549.6 1624.7h0M522.5 1595.8h0M550.1 1620.1h0M562.1 1602.8h0M557.6 1598.7h0M532.5 1606.8h0M504.3 1621.6h0M532.7 1622.7h0M541 1612.8h0M512.7 1611.1h0M507.6 1609.6h0M523.8 1600.3h0M521.9 1623.7h0M506.7 1613.9h0M512.1 1604.6h0M499.7 1594.2h0M535.3 1611.8h0M555.8 1595.3h0M528.2 1621.6h0M529.1 1607.6h0M548.4 1590.2h0M505.9 1622.4h0M532.7 1586.7h0M514.3 1618.7h0M538.8 1583.6h0M538.1 1603.5h0M536.5 1611.5h0M509.5 1613.2h0M499.9 1596.8h0M526.7 1598.4h0M498.5 1593.6h0M564.2 1608.2h0M509.8 1596.5h0M512.8 1589.6h0M514.3 1622.2h0M553.9 1620.3h0M529.7 1606.3h0M525.6 1583.3h0M520.9 1596.1h0M572.5 1596.7h0M532.4 1605.7h0M548.1 1588.7h0M539.9 1586.7h0M523.3 1592h0M509.5 1589.5h0M551.3 1655.3h0M544.8 1696h0M528 1677.9h0M528.1 1693.5h0M524.5 1659.4h0M557.7 1677.6h0M544.5 1702.2h0M556.6 1678.8h0M524.4 1676.2h0M559.2 1688.3h0M527.3 1660.4h0M522.1 1683.9h0M538 1651.7h0M523.8 1684.6h0M533.8 1645.2h0M561.5 1665.2h0M534.6 1676.6h0M534.3 1678.2h0M526 1686.5h0M540.4 1684.4h0M525.6 1669.5h0M514.6 1642.7h0M535.2 1698.9h0M549.6 1699.8h0M551.9 1701.2h0M517.8 1670.7h0M538.1 1689h0M518.3 1661.4h0M514.7 1656.2h0M538.5 1679.3h0M562.4 1684.9h0M534.7 1668.6h0M547.8 1687.9h0M513.9 1672.5h0M516.5 1667.3h0M553.2 1679.9h0M534.1 1676.7h0M526.3 1695.6h0M523.4 1689.3h0M521.1 1667.9h0M519.6 1664.7h0M530.2 1674h0M515.5 1652.8h0M535.4 1672.4h0M550.7 1661h0M535.6 1672h0M545.6 1671.1h0M538.5 1670h0M536.8 1673.1h0M541.8 1637.1h0M539.2 1699.3h0M522.4 1662.8h0M525.1 1679.7h0M535 1654.8h0M509.4 1662.9h0M540.4 1674.1h0M528 1656.9h0M532 1660.9h0M527.9 1683h0M509.7 1664.3h0M521.7 1680.5h0M538.3 1660.4h0M554.3 1675h0M544 1700.5h0M550.8 1682.3h0M542.8 1671.7h0M517 1669.5h0M521.3 1689.3h0M532.8 1685h0M530.6 1659.3h0M555 1671.4h0M546.4 1672.1h0M540.9 1655.3h0M528.6 1657.2h0M547.3 1702.2h0M533 1653.8h0M521.8 1671.4h0M561.2 1683.6h0M519.1 1654.6h0M522.7 1674.6h0M533.3 1675h0M534.6 1698.6h0M550.5 1656.2h0M549.6 1685.5h0M541.3 1682.4h0M530.4 1663.3h0M560.2 1674.7h0M556.3 1669.2h0M552.6 1659.5h0M548.8 1659.5h0M534.7 1676.2h0M538.5 1669.5h0M552.1 1665.5h0M526.5 1679h0M563.3 1672.7h0M535.7 1699h0M555 1688.6h0M543.1 1677.6h0M523.2 1658.3h0M521.9 1656.2h0M518.6 1651.1h0M525.3 1668.3h0M524.7 1678.6h0M532.6 1678.3h0M596.7 1740.2h0M590.3 1723.5h0M586.6 1647h0M634.3 1672.5h0M601.5 1662.3h0M619.5 1668h0M624.8 1674.7h0M593.2 1642.6h0M578.1 1687.3h0M600.4 1640.5h0M579 1697.8h0M620.2 1679.7h0M607 1719.7h0M605.9 1737.9h0M585.9 1654.1h0M580.3 1667.7h0M583.9 1681.9h0M584.9 1702.2h0M611.9 1652.6h0M621.8 1671.5h0M588 1677.5h0M616.3 1688.7h0M620 1669.2h0M604.6 1708.1h0M583.6 1659.7h0M625.7 1689.7h0M595.2 1677.3h0M603.6 1690h0M617.7 1654.8h0M572.5 1692.1h0M573.3 1681.3h0M592 1738.8h0M613.3 1686.3h0M576.3 1708.1h0M598.9 1702.8h0M596.5 1715.1h0M590.5 1703.6h0M617.3 1722.1h0M606 1696.6h0M595.7 1732.5h0M622.8 1699h0M623.3 1668.1h0M610.1 1655.8h0M712.3 1666.4h0M707.3 1662.8h0M684.9 1675.3h0M708.4 1671.9h0M655 1671.7h0M689.7 1677.4h0M662.4 1664.6h0M676 1677.1h0M682.4 1692.3h0M688.9 1692.1h0M699.3 1694h0M689.5 1701.4h0M690.2 1679.1h0M700.7 1658.3h0M690.5 1664.7h0M661.9 1694.9h0M673 1675.2h0M688.8 1658h0M668.1 1651.4h0M695.9 1679.3h0M686.7 1650.2h0M690.9 1663h0M676.1 1691.4h0M680.3 1686.5h0M700.9 1651.7h0M675.5 1686.9h0M684.1 1675.8h0M698.1 1686.7h0M706.9 1663.3h0M690.9 1688.8h0M695.6 1676h0M665.6 1679.2h0M710.1 1688.1h0M688.1 1683.4h0M661.6 1679.9h0M681.7 1672h0M680.1 1674h0M678.4 1701.8h0M723.2 1686.2h0M680.6 1689.7h0M682.2 1665.7h0M709.7 1663.1h0M681.6 1650.1h0M685.5 1670.6h0M704.7 1659.6h0M678.7 1704.2h0M658.4 1683.2h0M675.4 1664.4h0M692 1668.3h0M698.1 1656.3h0M705.3 1671h0M685.2 1673.7h0M681.1 1676.5h0M661.4 1674.6h0M665.3 1672.8h0M675 1655.9h0M680.6 1679.5h0M703.8 1697.3h0M694.8 1699.3h0M666.6 1673.8h0M690.8 1651.7h0M707.7 1685.3h0M699.4 1672.2h0M687.8 1617.8h0M683.4 1601.4h0M699.4 1614.4h0M702.6 1627.7h0M695.6 1626h0M683 1626.7h0M678.7 1624.7h0M689.8 1617.3h0M695.5 1601.1h0M693.1 1599.3h0M700.1 1615h0M702.4 1617.4h0M681 1639.3h0M696.1 1617.6h0M699.7 1618.2h0M706.1 1600.2h0M688.9 1721.2h0M658.6 1740.5h0M636.8 1728.9h0M657.9 1746.8h0M719.9 1728h0M692 1724.7h0M653.4 1731.1h0M702.2 1722.4h0M716.7 1735.3h0M675.2 1723.8h0M720.6 1732.8h0M721.5 1738.5h0M649.8 1749.6h0M644.4 1730.7h0M647 1722.2h0M676.6 1736.1h0M715.1 1737.4h0M646.2 1745.5h0M677 1742.3h0M660 1740.7h0M656.2 1745.6h0M687 1718.7h0M703 1733.3h0M671.6 1741.7h0M645.4 1741.2h0M663 1754.9h0M681.6 1751h0M673.7 1737.8h0M643.4 1731.5h0M705.5 1738.2h0M709.7 1736.4h0M680.8 1739.7h0M677.5 1745.7h0M718.1 1722.7h0M726.6 1734.4h0M715.3 1744.5h0M714.5 1737.2h0M679.6 1749.2h0M686.6 1751h0M648.6 1731.7h0M673.1 1753h0M685.5 1734.5h0M688.1 1733.8h0M692.5 1740.8h0M697.9 1727.9h0M649.6 1733.4h0M624.9 1745.1h0M666.7 1722.1h0M687.6 1738.4h0M698.2 1725.9h0M700.1 1744.8h0M662.1 1755.3h0M685.2 1719h0M680.6 1748.2h0M675.7 1734.3h0M764 1609.9h0M724.7 1599.8h0M754.2 1615.4h0M754.4 1588.5h0M712.1 1569.4h0M753.5 1606.1h0M768.6 1604.4h0M759.2 1576.5h0M770.8 1577.9h0M771.6 1590.3h0M747.3 1568.2h0M761.3 1583.5h0M757 1574.7h0M756.5 1579.8h0M744.2 1585.2h0M747.5 1577.6h0M735.5 1607.3h0M760 1574.1h0M714.5 1585h0M747.3 1607.2h0M803.2 1507.9h0M756.5 1527.3h0M795.6 1483.6h0M806.1 1477.1h0M808.1 1480.9h0M800.5 1506.8h0M804.4 1520.7h0M788.7 1518.3h0M808 1513h0M825.7 1497.5h0M833.6 1495.7h0M791.5 1486.4h0M798 1524.6h0M808.6 1532.7h0M825.1 1509.4h0M826.3 1481h0M810.1 1537.9h0M824.9 1508.3h0M823.9 1538.9h0M814.7 1504.2h0M794.8 1481.7h0M775.9 1526.2h0M822.1 1491.4h0M811 1524.4h0M795.4 1541.2h0M818.7 1537.5h0M806.8 1509.3h0M808.4 1512.6h0M828.1 1491.6h0M799.5 1473.4h0M779.7 1485.6h0M820.9 1533.7h0M814.6 1505.8h0M793.6 1499.6h0M832.4 1496.2h0M781.3 1532.1h0M800.9 1515.1h0M816.3 1528.5h0M813.2 1496.3h0M824.5 1494.2h0M814.6 1513.1h0M824.4 1521.6h0M802.4 1522.2h0M820.8 1479h0M789 1494.7h0M777.9 1527.9h0M816.6 1490.8h0M834 1496.1h0M835.2 1504h0M809.8 1523.3h0M796.7 1511.1h0M805.3 1524.9h0M812.1 1536.3h0M785.9 1517.5h0M815.6 1517.8h0M795.9 1501.1h0M798.8 1504.6h0M831.5 1488.9h0M832.1 1512.8h0M798.2 1507.3h0M812.1 1488.7h0M797.8 1526.1h0M800.9 1538.4h0M832.2 1518.8h0M834.9 1493.3h0M790.6 1500.4h0M810.5 1535.6h0M810.1 1515.3h0M827.1 1495.4h0M801.8 1524.7h0M792.5 1508.5h0M804.1 1486.5h0M781.2 1492.8h0M833.2 1507.2h0M816.8 1539.9h0M801.2 1479.8h0M785.5 1502.1h0M791.4 1480.9h0M769.5 1521.5h0M773.8 1500.3h0M811.4 1509.1h0M790.7 1502.9h0M812.7 1522h0M766.9 1511.6h0M768.6 1512.1h0M823.2 1497.9h0M777.1 1498.4h0M797.1 1512h0M795.3 1489.6h0M794.9 1505.2h0M785.7 1501.8h0M790.5 1482.7h0M813.6 1509h0M794.8 1519.7h0M776.6 1484.7h0M775.3 1530.9h0M783.8 1537.9h0M793.8 1504h0M835.4 1491.1h0M830.7 1489h0M765.7 1497h0M803.2 1537.8h0M825.5 1495.3h0M817.2 1574.9h0M839.3 1601.7h0M823.6 1568.6h0M823.6 1605.6h0M841.5 1599.5h0M838.1 1628.8h0M817.3 1575.9h0M836.5 1639.6h0M815.3 1586.4h0M847.5 1596h0M830.1 1600.3h0M833.1 1620.2h0M841.2 1611.6h0M826.4 1597h0M808.4 1588.5h0M843.6 1607.5h0M817.8 1615.7h0M834.4 1624.1h0M827.4 1622.7h0M831.3 1595.2h0M831.9 1570.5h0M808.9 1643.2h0M830.1 1601h0M805.5 1593.9h0M820 1628.4h0M832.6 1605.4h0M837.3 1593.8h0M821.5 1629.4h0M834.5 1557.8h0M823 1604h0M808.6 1600.5h0M830.6 1633.5h0M823 1622.9h0M813.5 1571.7h0M832.2 1592.6h0M822.7 1617.7h0M817.9 1608.6h0M831 1605.4h0M825.7 1569.2h0M814.8 1614.8h0M836.1 1598.8h0M831.5 1584.5h0M832 1596.6h0M808 1582.8h0M826 1561.7h0M812.8 1608.6h0M836.9 1604.4h0M822.3 1637.9h0M826.7 1622.1h0M821.4 1623.1h0M813.6 1579.5h0M830.3 1587h0M821.9 1587.9h0M811.9 1596.1h0M849.9 1598.8h0M837 1565.4h0M813.9 1621.6h0M830.9 1620.5h0M831.3 1637.4h0M840.4 1593.1h0M830.3 1636.3h0M837.6 1592.6h0M826.6 1612.8h0M840.9 1605.8h0M826.4 1618.5h0M831.1 1605.7h0M833.7 1579h0M828.2 1579.9h0M837.4 1622.8h0M813.6 1583.8h0M833.1 1612h0M806.9 1582h0M812.6 1583.2h0M829.1 1634.5h0M830.9 1588.3h0M808.3 1587.6h0M836.2 1618.8h0M837.7 1626.1h0M817.5 1568.6h0M840.5 1618.4h0M819 1602.9h0M838 1602.1h0M825.9 1609.1h0M823 1568.3h0M826 1609.5h0M842.6 1574.4h0M832.6 1569.5h0M822.8 1618.4h0M836.9 1599h0M844.1 1617.4h0M831.4 1592.1h0M826.7 1619.7h0M831.1 1605.9h0M838.3 1564h0M818.5 1610.5h0M832.4 1614.1h0M822.3 1600h0M832.1 1570.8h0M836.2 1580.9h0M847 1571.7h0M764.2 1675.9h0M788.1 1642.3h0M745 1695.1h0M748.6 1696.4h0M748.5 1688.5h0M720 1682.4h0M799.5 1668.5h0M786.2 1692.4h0M772.7 1657h0M746.3 1688.8h0M788.4 1675.4h0M715.7 1676.6h0M751.3 1706.7h0M779.3 1642.6h0M779.1 1635.4h0M773.4 1681.8h0M752.8 1686.9h0M747 1653.6h0M769.7 1688.2h0M779.3 1680.8h0M750.4 1721.7h0M753.8 1673.4h0M751.1 1645.9h0M750.6 1631.4h0M722.3 1679.7h0M784.7 1676.7h0M773.7 1706.9h0M736.8 1675.2h0M757.5 1683.6h0M748.2 1695.2h0M739.8 1670.9h0M773.4 1672.8h0M800.2 1691.1h0M782 1659.1h0M796.6 1675.8h0M767.6 1679.7h0M803.5 1671.3h0M748.5 1636.7h0M780.9 1701.2h0M795.8 1694.7h0M723.2 1661.4h0M730.1 1708.2h0M790.2 1640.4h0M743.4 1698h0M785.5 1648.1h0M799.4 1684.9h0M725.7 1669.1h0M773.5 1690.8h0M774.4 1656.3h0M723.4 1688.3h0M792 1657.4h0M731.6 1697h0M780 1662h0M789.6 1698.7h0M748.9 1720.2h0M756 1716.1h0M732.7 1667.9h0M777.8 1676h0M761.2 1681.1h0M764.2 1675.5h0M742.6 1657.5h0M776.9 1669.5h0M777.2 1708.3h0M747.2 1716.1h0M727 1700.6h0M726.6 1687.5h0M771.8 1657.8h0M765.6 1695.6h0M760.2 1683.2h0M740 1694.6h0M762 1653.9h0M775.4 1709.2h0M755.6 1651.3h0M796.2 1703.3h0M724.9 1662.2h0M767.9 1662.1h0M791.1 1651h0M725.8 1686.6h0M775.2 1683.9h0M761.6 1711.5h0M789.6 1698.5h0M765.4 1666.3h0M765.6 1655.6h0M699.4 1666.4h0M753.8 1716h0M801.9 1693h0M770.5 1644.2h0M778.5 1675.7h0M729.3 1681.6h0M737.5 1680.5h0M780.9 1640.1h0M766.2 1722.1h0M744.1 1675.2h0M791.8 1696h0M792.4 1676.6h0M722 1688.9h0M736 1690.1h0M733.8 1703.7h0M749.6 1671.6h0M779.8 1649.5h0M738 1656.5h0M728.6 1707.3h0M795 1673.3h0M785.8 1656.2h0M784.4 1667.4h0M755.1 1657.5h0M781.1 1659.6h0M793.5 1646.6h0M762.4 1676.9h0M768.1 1669.3h0M729.8 1681.4h0M729 1650.2h0M720.5 1695.2h0M768.8 1654.1h0M773 1677.6h0M762.4 1633.7h0M757.1 1621h0M714.4 1669.6h0M764.7 1694.2h0M742.3 1638.4h0M781.2 1675.5h0M790 1685.4h0M745.2 1719.3h0M717.5 1687.9h0M784 1666h0M800.6 1690.4h0M735.8 1710.2h0M787.5 1694.9h0M747.4 1676.4h0M791.3 1694.7h0M777.5 1643.2h0M719.7 1662.6h0M767.9 1707.2h0M766 1653.4h0M776.8 1706.3h0M745.6 1717.3h0M746.6 1650h0M785.8 1684.1h0M772.9 1653.8h0M747.7 1716.4h0M782.3 1656.8h0M793.2 1659h0M761.7 1685.9h0M720.2 1668.7h0M792.6 1699.8h0M763.7 1707.1h0M764.9 1675.8h0M788.7 1657h0M747.2 1714.8h0M764.8 1652.9h0M762.9 1659h0M773.7 1721.7h0M713.3 1503.1h0M719.9 1478.6h0M706.1 1503h0M705.9 1504.9h0M654.2 1489.3h0M719.2 1484.6h0M741.2 1500.4h0M683.9 1472.8h0M726.6 1498.9h0M692.4 1509.7h0M718.6 1515.7h0M701.7 1483.3h0M731.3 1518.6h0M717.6 1505.1h0M671.9 1523.3h0M740.1 1534.8h0M712 1504.9h0M732.5 1515.3h0M707.5 1514.7h0M700.9 1514.6h0M760.2 1514.3h0M703 1532.5h0M696.2 1549.7h0M706.8 1537.7h0M747.8 1524.9h0M690.1 1485h0M696.7 1500.1h0M676.5 1542.1h0M758 1514.1h0M776.1 1540.3h0M679.7 1547.4h0M728.5 1520h0M673.8 1535.1h0M743.6 1504.8h0M718.7 1502.1h0M697.4 1509.8h0M645.9 1511.7h0M717.8 1503.9h0M680.5 1511.6h0M692 1480.2h0M724.8 1504.5h0M712 1516.5h0M736.8 1496.6h0M740.7 1483.5h0M675.8 1493.7h0M737 1546.3h0M717.4 1556.2h0M714.9 1509.8h0M745.2 1507.4h0M679 1500h0M676.6 1507.3h0M683.7 1516h0M715.8 1494.5h0M740.3 1523.7h0M716.1 1541.7h0M724.2 1517.2h0M718 1510.8h0M731 1493.1h0M653.4 1512.9h0M703.2 1544.1h0M693.4 1533.2h0M651 1535.7h0M689.9 1470.9h0M647.2 1533.7h0M648.1 1494.3h0M679.3 1481.6h0M703.3 1507.3h0M717.3 1518.6h0M758 1516.7h0M710.1 1543.4h0M723.8 1502.7h0M711.1 1506.4h0M742.1 1533.9h0M714.9 1546.9h0M706.7 1523.2h0M704.4 1518.9h0M663 1493.4h0M724 1514.7h0M738.3 1527.2h0M690.8 1523.1h0M686.3 1556.6h0M731.6 1517.6h0M702.3 1553.5h0M709.5 1523.9h0M656.7 1531.9h0M719.1 1523.9h0M718.9 1483.1h0M734.8 1524.5h0M752.4 1526.3h0M690 1495.7h0M735.7 1523.5h0M693.6 1537.4h0M660.4 1537.7h0M710.6 1510.1h0M743.6 1541h0M740.1 1484h0M731.4 1485.2h0M746.1 1521.9h0M669.2 1519.5h0M706.6 1454.4h0M725.8 1552.6h0M749.2 1526.9h0M669.4 1527.6h0M691.3 1511h0M685.9 1471.7h0M667.2 1535.3h0M737.4 1528.3h0M693.8 1525.4h0M632.3 1531.2h0M676.8 1505.1h0M756.3 1528.1h0M702.3 1532.6h0M601.2 1610.9h0M602.8 1610.4h0M608.8 1616.3h0M627.6 1608.5h0M621 1619.2h0M621.9 1619.2h0M632.6 1600.9h0M584.4 1611.5h0M600.7 1603.6h0M639 1601.5h0M622.5 1621h0M650.3 1616h0M590.5 1600.6h0M646.9 1607.4h0M627.7 1601.7h0M593.2 1599.3h0M596.6 1612.6h0M577.5 1612.7h0M583.7 1612h0M624.1 1622.7h0M634.8 1612.1h0M622.2 1611.2h0M668.3 1610.9h0M618.1 1609.9h0M605.8 1628.4h0M571.9 1605.4h0M620.8 1614.1h0M646.2 1598.5h0M608.9 1614.9h0M622.5 1614.8h0M606.9 1627.8h0M600.5 1606.8h0M660.1 1607.3h0M633.9 1616h0M629.3 1620.4h0M627.1 1600.8h0M622.4 1599.5h0M604.1 1606.6h0M636.2 1627.6h0M613.8 1620h0M600.6 1609h0M588.1 1623.1h0M600.7 1609.7h0M620.4 1627h0M631.8 1611.7h0M621.8 1620.6h0M594.2 1622.1h0M625.5 1597.9h0M654.1 1618.7h0M618.7 1614.7h0M614.6 1621.5h0M640.7 1619.2h0M588.6 1605.7h0M592.4 1626h0M617.8 1611.8h0M616.9 1613.6h0M620.7 1606.6h0M582 1621.3h0M630.9 1595.8h0M666.5 1611.7h0M619.9 1602.8h0M639.2 1597.4h0M601.7 1600.8h0M589.5 1622.2h0M603.1 1596.4h0M628.8 1602.5h0M598.7 1608.8h0M604.9 1617.9h0M625.9 1604.3h0M606.7 1615.3h0M624.8 1609.5h0M638.2 1599.3h0M569.2 1596.7h0M604.8 1605.2h0M619.1 1602.8h0M632.4 1612h0M594 1607h0M659.9 1610.9h0M619.8 1609.3h0M644 1417h0M740.2 1423h0M487.9 1616.2h0M670.7 1570.9h0M665.8 1565.3h0M588.7 1443.4h0M656.7 1495.8h0M568.4 1667.8h0M671.1 1395.2h0M617.1 1732.8h0M795.3 1469.9h0M627 1507.2h0M650.3 1480.6h0M627.9 1453.1h0M673.5 1449.9h0M667.3 1436.5h0M685.7 1480.7h0M500.6 1570h0M822.9 1544.8h0M627.7 1675.5h0M779.2 1634.7h0M585.4 1548.8h0M648.1 1686.9h0M535.7 1477.1h0M547.5 1516.3h0M759.3 1454.4h0M522.6 1672.8h0M606.4 1614.2h0M726.8 1487.3h0M635.1 1532.8h0M567.4 1440.7h0M684.6 1569h0M629.4 1569.5h0M736.3 1515.4h0M560.9 1530h0M729 1655.9h0M823.1 1645.4h0M677.2 1575.3h0M776.7 1430.9h0M643.7 1724.9h0M813.9 1496.8h0M714.9 1505.2h0M605.6 1448.7h0M793.7 1462.7h0M663.7 1576.6h0M601.9 1719.3h0M753.5 1679.7h0M729.6 1563.3h0M707.2 1527.4h0M632.6 1392.4h0M761.8 1418.5h0M813.4 1647.8h0M604.2 1577.3h0M681.7 1394.4h0M538.3 1631.9h0M676.1 1492h0M676.9 1496.1h0M826.3 1540.2h0M554.7 1633.8h0M510.9 1601.4h0M623.7 1640.9h0M567.9 1688.6h0M737.4 1532.5h0M806.7 1521.9h0M570.9 1593h0M643.7 1640.8h0M746.6 1605.2h0M606 1670.5h0M546.2 1682.7h0M593.9 1525.8h0M560.1 1531.7h0M755.1 1529.8h0M837.6 1614.6h0M594.3 1726.7h0M733.9 1632.3h0M542.4 1504.8h0M516.7 1651.1h0M670.8 1535.1h0M702.1 1539h0M679 1558.6h0M743.9 1593.8h0M717.8 1443.6h0M593.9 1533.2h0M536.5 1532.4h0M836.1 1634.7h0M740.4 1612.2h0M541.2 1621.2h0M768.7 1622.5h0M604 1406.9h0M656.2 1423.9h0M781.9 1687.3h0M741.1 1504.2h0M790.6 1431.9h0M568.9 1428.6h0M577.3 1452.5h0M721.4 1693.1h0M754.5 1556.6h0M686.1 1495.1h0M628.8 1512.6h0M623.3 1639.4h0M816.7 1623.2h0M589.2 1408.4h0M846 1598.5h0M531.4 1638.7h0M777.1 1530.1h0M769.3 1668.3h0M563.7 1431.1h0M690.6 1691.3h0M756.5 1595.8h0M625 1519.7h0M644.6 1749.5h0M602.8 1591.6h0M752 1677.9h0M706.5 1573.9h0M689.2 1478.4h0M724.2 1412.1h0M518.1 1660h0M495.9 1613.5h0M540.4 1572.9h0M622.6 1723.8h0M700.1 1614.9h0M664.5 1538.8h0M618.5 1639.6h0M602.6 1704.8h0M663.1 1570.8h0M771.2 1466.9h0M778.2 1663.5h0M619.7 1631.8h0M589.4 1440h0M537.6 1609.4h0M527.6 1550.3h0M544.2 1690.7h0M556.9 1418.5h0M729.5 1449.8h0M633.1 1622.1h0M589.3 1399.6h0M731.5 1649.9h0M726.5 1410.1h0M677.4 1652.7h0M753.5 1578h0M652.4 1680.2h0M662 1521.6h0M616.5 1560.1h0M649.3 1416.3h0M703.9 1522.1h0M667.9 1595.5h0M500 1597.9h0M814.3 1527.1h0M724 1622.1h0M535.7 1478.4h0M606.2 1508.4h0M754.1 1710.2h0M729.9 1525.4h0M611.5 1669.5h0M740.3 1618.6h0M604.6 1575.2h0M650.1 1538.3h0M846.1 1584.9h0M722.3 1708.2h0M593.8 1476.8h0M499.5 1603.6h0M707.2 1499.9h0M660.1 1551.3h0M674.7 1511.6h0M729.3 1615.3h0M731.4 1556.9h0M642.9 1526.1h0M683 1580.9h0M534.2 1596h0M802.6 1620.2h0M789.1 1469.9h0M761.5 1661h0M708.9 1608.6h0M828.7 1527.8h0M758.4 1414.3h0M736 1513.1h0M751.8 1556.2h0M668.9 1747h0M637.6 1384.5h0M609.6 1559.1h0M741.3 1510.3h0M603.1 1411.9h0M540.3 1625.3h0M640.8 1621.3h0M614.1 1564h0M720.2 1617.2h0M581.6 1708.5h0M714.2 1724.9h0M799.6 1493.7h0M656.6 1575.8h0M797.5 1659.2h0M743.7 1513.6h0M721.3 1610.3h0M820.1 1468.1h0M690.5 1460.3h0M728.8 1429.2h0M695.7 1487.5h0M615 1607.4h0M720.5 1684h0M598.1 1622.7h0M512.5 1660.5h0M709.7 1671.9h0M623.5 1518.1h0M655.6 1401.3h0M752.5 1629.5h0M755.8 1545.4h0M717 1520.9h0M679.9 1575.9h0M764.3 1670h0M659.3 1465.7h0M584.5 1506.1h0M698.7 1466.8h0M649.9 1725.7h0M617.9 1689.6h0M557.4 1482.1h0M771.5 1486.4h0M674.4 1612.7h0M571.7 1507h0M713.2 1468.5h0M630.1 1525.3h0M649.9 1430.5h0M790.2 1538.3h0M745.3 1461h0M660.8 1478.3h0M556.5 1507.4h0M655.2 1721.5h0M633.5 1725.4h0M630.9 1507.1h0M519.6 1583.3h0M752.6 1674.3h0M663.4 1563.7h0M571.8 1656.6h0M537.4 1521h0M838.7 1521.1h0M618.4 1519.8h0M617.5 1584.3h0M700.9 1657.7h0M626.1 1508.3h0M616.9 1651.3h0M681.7 1610.9h0M756.7 1569.5h0M653.9 1447.6h0M621.8 1611.7h0M846.8 1542.7h0M605.4 1740.3h0M670.8 1561.3h0M630.3 1703h0M626.8 1719.8h0M673.6 1542.6h0M737.2 1660.4h0M674.3 1383.1h0M620.7 1571.7h0M751.9 1502.2h0M522.5 1679.2h0M638.3 1405.4h0M722.3 1587.5h0M667.1 1571.8h0M609.1 1529.9h0M761.9 1692.1h0M583.9 1535h0M645.5 1738.5h0M613.2 1575.4h0M559.3 1686.3h0M606.9 1625.6h0M656.1 1622.5h0M614 1475.4h0M623.1 1561.2h0M666.3 1483.3h0M629 1572.4h0M818.2 1493.7h0M687.9 1580h0M560.7 1643.1h0M668.3 1563.6h0M586 1659.6h0M733.5 1654h0M674.4 1536.2h0M647.6 1473.5h0M550.1 1684.4h0M480.3 1565.5h0M648.1 1552.9h0M502.7 1585.3h0" stroke="#b0b0b0" stroke-width="7.2" stroke-linecap="round" fill="none"/>
<path d="M623.2 1533.6h0M658.8 1502.7h0M635.2 1519.9h0M620.7 1492.5h0M649.1 1489.7h0M609.2 1470.4h0M618.7 1474.2h0M659.7 1513.8h0M652 1510.5h0M614.3 1523.1h0M617.6 1514.3h0M571.4 1512.3h0M643.6 1526.5h0M573.1 1534.8h0M610.2 1517h0M591 1481.4h0M641 1514h0M645.2 1550.8h0M595.7 1493.5h0M610.4 1492.8h0M641.5 1486.4h0M651.4 1531.8h0M659.1 1499.6h0M617 1544.7h0M609.7 1520.9h0M614.1 1515.2h0M625.7 1517.2h0M652.6 1544.9h0M662.3 1561.1h0M610.9 1515.6h0M579.1 1480h0M608.3 1492.1h0M600.7 1518.7h0M618.2 1541.2h0M574.4 1495.9h0M590.7 1513.9h0M596 1533.1h0M623.2 1520.8h0M577.1 1510.8h0M578.1 1519.5h0M619.2 1544.2h0M622.9 1483.3h0M643.7 1498.3h0M646.7 1526.4h0M655.5 1539.3h0M601 1468.7h0M580.8 1538.6h0M633.3 1479.4h0M555.8 1485.5h0M582.9 1539.1h0M609.5 1512.5h0M640.6 1561.4h0M659.6 1564h0M625.2 1501.4h0M645.4 1479.1h0M598.3 1491.9h0M629.6 1560.1h0M604 1549.8h0M599.7 1513.2h0M572.7 1541.2h0M648.3 1382.8h0M667.3 1412.2h0M582.8 1400.2h0M665.3 1413.4h0M607.6 1399.3h0M560.3 1420.7h0M594.8 1422.9h0M615.6 1410h0M603.6 1410.9h0M575.9 1409.3h0M623.4 1402.7h0M744.7 1409.3h0M799.9 1449.1h0M704.6 1410.3h0M793.9 1470h0M758.3 1436.2h0M774.3 1450.8h0M712.6 1386.5h0M750.3 1421.4h0M717.3 1421.7h0M731.8 1399.6h0M736.8 1411.4h0M722.8 1434.7h0M744.7 1410.7h0M751.5 1425.8h0M737.4 1407h0M762.6 1463.8h0M718.9 1408.9h0M756.8 1459.8h0M726.1 1396.1h0M779 1462h0M741.7 1425.6h0M716 1429h0M764.5 1417.3h0M777.5 1485.6h0M795.2 1450.8h0M709.8 1422.5h0M782.9 1449.6h0M729.4 1441.4h0M777.2 1426.6h0M794 1445.8h0M719 1405.7h0M762.4 1453.6h0M770.8 1426.5h0M729.7 1399.5h0M757.4 1427.8h0M713.5 1392.9h0M724 1425.9h0M780 1472.9h0M750.4 1406.6h0M710.1 1417.9h0M769.8 1466.4h0M768.5 1452.4h0M801.6 1473.2h0M760.4 1430h0M708.2 1389h0M742.5 1419.2h0M707.5 1430h0M505.2 1508.4h0M519.1 1533.1h0M519.4 1460.5h0M500.5 1530.2h0M514.2 1531.1h0M508.9 1499.9h0M504.9 1520.7h0M500.5 1513.8h0M501.2 1516.5h0M485.3 1520.4h0M510.6 1499.1h0M496.7 1495.8h0M521.3 1460.4h0M524.3 1499.6h0M520.6 1489.5h0M510 1471.8h0M488 1516.1h0M500.7 1501.1h0M524.9 1502.2h0M505.3 1496.9h0M504.5 1505.8h0M493.8 1565.7h0M500.3 1573.1h0M494.7 1589.4h0M515.3 1585.1h0M523.9 1599.6h0M500.3 1615.9h0M532.8 1679.5h0M510.1 1667.4h0M590 1657.7h0M601.9 1687.2h0M586.7 1692.5h0M578.9 1713.8h0M620.7 1685h0M610.4 1701.4h0M605.7 1719.9h0M600.7 1641.8h0M587.8 1690.1h0M606.7 1713.4h0M621.5 1699.2h0M615.3 1662.4h0M609 1734.3h0M596.5 1665.5h0M579.8 1667.9h0M594.3 1732.6h0M600 1680.5h0M606.6 1656.1h0M578.8 1702h0M588.8 1700.6h0M600.8 1725.8h0M582.7 1725.6h0M598.6 1694.8h0M593.4 1729.1h0M578.6 1722.7h0M600.2 1673.8h0M609.8 1710.1h0M619.5 1675.5h0M595.2 1704.5h0M574.4 1688.6h0M578.6 1669.9h0M595.4 1661h0M589.4 1696.8h0M573.9 1699.8h0M618.4 1704.2h0M593.7 1689.3h0M583.8 1706.2h0M589.4 1678.4h0M616.3 1663.5h0M601.9 1717.7h0M601.6 1673.1h0M587.3 1669.3h0M596.4 1650.5h0M604.7 1654.3h0M613.2 1707.5h0M598.1 1680.3h0M624.9 1702.8h0M598.4 1712.6h0M599.1 1681.9h0M596.7 1652.6h0M585.4 1714.1h0M603 1680.1h0M620.5 1715.2h0M604.8 1675.7h0M594.8 1656.1h0M606.9 1695.7h0M588.7 1661.3h0M616.8 1718.3h0M586.3 1687.4h0M597.5 1670.5h0M573.9 1692.5h0M598 1680.6h0M603.3 1646.4h0M606.4 1668.4h0M604 1678.4h0M579.5 1681.1h0M601.5 1665.2h0M598.7 1639.4h0M595.8 1641.3h0M605.3 1685.5h0M598.4 1690.4h0M608 1687.3h0M606.6 1690.1h0M585.8 1703.6h0M602.7 1663h0M610.4 1680.3h0M615.3 1689.1h0M579.4 1653.7h0M591.9 1693.6h0M598.4 1685.5h0M602.7 1657.4h0M586.3 1688.1h0M583.8 1687.7h0M608.9 1705.1h0M599.9 1661.7h0M590.9 1652.7h0M576.7 1664.5h0M586 1666.8h0M580 1726h0M600.3 1737.6h0M597.7 1642.9h0M603.8 1689.6h0M587.1 1670.7h0M597.5 1688.9h0M625.6 1689.4h0M624.6 1705.1h0M588.1 1688.4h0M604.6 1704.5h0M589.3 1687.7h0M621.1 1681.9h0M589.4 1622.3h0M593.1 1739.5h0M602.4 1670.7h0M581.4 1671.2h0M596.7 1735.2h0M608.5 1644.1h0M591.4 1687.5h0M587.4 1650.7h0M589.7 1720.1h0M597.5 1702.3h0M613 1718h0M585.2 1719.9h0M591.8 1700.6h0M703.2 1657.3h0M669.7 1692h0M699.5 1675.6h0M692 1657h0M687.8 1703h0M708.9 1670.9h0M688 1675.6h0M680.8 1688.2h0M668.3 1661.8h0M692.9 1687h0M712.6 1704.7h0M675.9 1704.3h0M693.6 1684.8h0M672 1673.2h0M687.4 1673h0M702.4 1657.5h0M701.1 1687.7h0M661.2 1663.4h0M683.2 1647.3h0M685.7 1660.4h0M694.3 1649.9h0M675.7 1675.8h0M707.2 1663.3h0M696.7 1663.2h0M688.9 1678.7h0M703.8 1665.7h0M671.7 1648.8h0M679 1674.4h0M685.8 1677.2h0M702.7 1685.4h0M681.2 1685.2h0M675 1704.5h0M674.8 1653.3h0M662.1 1655.6h0M688.7 1700.4h0M703.9 1694h0M672.2 1680.6h0M659.4 1672.5h0M677.5 1663.2h0M677.9 1700.3h0M699.9 1703.5h0M655.3 1670.5h0M697.5 1697.6h0M682.1 1679.6h0M687.6 1679.2h0M695.3 1702.9h0M655.5 1678.6h0M662.9 1696.4h0M684.2 1675.4h0M703.4 1660.3h0M698.4 1679.2h0M700.5 1664h0M691 1704h0M695.1 1689.3h0M698 1693h0M699.9 1651.8h0M683.6 1677.8h0M688.7 1686.7h0M674.4 1697.8h0M674.9 1695.7h0M673.9 1702.2h0M683.8 1675.5h0M688.9 1671.6h0M663.5 1654.4h0M693.1 1682.7h0M668.3 1678h0M662.6 1673.7h0M678.9 1682.2h0M685.4 1656.6h0M682.1 1703.6h0M643.5 1676.4h0M706.4 1680h0M687.6 1644.9h0M709.7 1691.2h0M690.4 1701.1h0M692.7 1661.2h0M663 1666.9h0M702.4 1688.6h0M697.3 1674.4h0M685 1698.1h0M654.9 1700.5h0M702.3 1665.5h0M689.5 1699.4h0M706.2 1658.6h0M674.3 1677.1h0M689.7 1657.2h0M687.3 1678.9h0M688.1 1676.6h0M673.7 1663.2h0M674.3 1668.9h0M657.4 1686.5h0M665 1679.5h0M677 1690.8h0M677.7 1649h0M697.9 1654.4h0M674 1652.2h0M662.8 1676.9h0M709.2 1681.5h0M658 1689.1h0M669.8 1680.9h0M686.3 1680.2h0M702.5 1682h0M698.8 1671.6h0M667.7 1663h0M709.8 1674.5h0M701.8 1671.9h0M669.9 1686.1h0M684.5 1646.4h0M690.6 1679.4h0M688.9 1683h0M667.3 1682.2h0M671.9 1673.4h0M673.4 1694.7h0M701.1 1687.3h0M684.5 1658.7h0M698.2 1661.3h0M654.2 1703.4h0M667.8 1665.8h0M671.2 1669.4h0M673.8 1697.8h0M674.8 1663.3h0M671.9 1652.1h0M693.8 1651.2h0M661.4 1659.7h0M705.9 1656.9h0M701.6 1680.9h0M663.9 1684.8h0M683.7 1684h0M676.7 1665.1h0M697 1700.5h0M678.3 1673.2h0M690 1684.5h0M702.3 1669.8h0M674.4 1682.1h0M698.2 1683.4h0M686.8 1700.2h0M670.7 1690.4h0M686.4 1677.5h0M683.1 1676.8h0M683.4 1690.1h0M677.5 1670.6h0M685 1675.6h0M666.9 1679.1h0M675.8 1668.7h0M690.3 1685.5h0M663 1666.3h0M683.9 1675.6h0M697 1664.8h0M664.2 1684.7h0M694.3 1694.1h0M673.4 1650.5h0M692 1671.2h0M696.1 1675.5h0M658.4 1677.9h0M684.5 1677.5h0M705.8 1694.9h0M687.3 1646.7h0M677.7 1667.5h0M698.8 1669.4h0M708.7 1686.1h0M684.1 1675.1h0M703.4 1691.3h0M685.1 1676.8h0M683.1 1697.8h0M683 1678.3h0M707 1680.6h0M662.7 1691.8h0M681.1 1674.7h0M702.1 1661.3h0M685 1649.3h0M712 1668.1h0M704.4 1694.3h0M672.1 1663.8h0M701.9 1668.3h0M664.1 1692.3h0M687.1 1647.5h0M680.4 1688.7h0M675.6 1699.8h0M664.5 1672.2h0M664.3 1679.8h0M699.2 1693.1h0M683.8 1695.2h0M685.9 1635.3h0M684 1631.4h0M693.2 1636.3h0M683.9 1643.9h0M684.9 1623.6h0M688.7 1644.2h0M682.5 1639.7h0M703.2 1619.8h0M681.3 1633.2h0M688.3 1615.5h0M700.7 1632.7h0M683.9 1601.1h0M684.9 1619.3h0M687.9 1643.8h0M700 1615.5h0M694.7 1637.9h0M695.6 1632.5h0M692.2 1615.4h0M690.1 1641.2h0M692.3 1617.5h0M687.6 1609.9h0M690.2 1629.3h0M700.7 1615.1h0M692.6 1615.9h0M691.5 1598.6h0M695.8 1644.6h0M676.6 1625.5h0M677 1609.8h0M677.7 1607.4h0M684.1 1624.5h0M677.3 1611.9h0M697.6 1610.2h0M688.6 1607.2h0M683.6 1603.9h0M691.3 1644.6h0M700.9 1612.4h0M691.1 1622.1h0M689.5 1615.4h0M679.9 1630.9h0M680.5 1603.4h0M683.8 1638.3h0M700.1 1624.6h0M691.3 1611.6h0M674.3 1616.8h0M727.9 1735.7h0M667 1730.9h0M674.2 1737h0M673.1 1753.3h0M673.2 1745.9h0M665.7 1743.9h0M697.4 1733.7h0M669.5 1727.1h0M658.5 1739.1h0M730.5 1727h0M692.2 1722.5h0M693.4 1721.1h0M713.2 1746.1h0M701 1733.1h0M691.5 1719h0M744.8 1736.5h0M696.8 1740.8h0M720.8 1729.1h0M688.6 1730.8h0M641.3 1736.1h0M636.3 1732.6h0M651.3 1724.1h0M668.2 1734.3h0M672 1753.8h0M679.9 1746.4h0M637.8 1731.3h0M649.4 1721.7h0M690.8 1735.8h0M693.8 1743.1h0M725 1738.7h0M659.1 1720.3h0M743.4 1588.4h0M760.5 1569.2h0M745.5 1590.5h0M733.1 1572.2h0M728.8 1587.5h0M734.4 1580.7h0M740.4 1567h0M745.2 1592h0M738.2 1599.7h0M764.7 1590.5h0M741.3 1604.4h0M773 1581.2h0M740.5 1588.8h0M747.7 1593.1h0M742.6 1589.2h0M742.5 1591h0M771 1575.4h0M751.8 1588.1h0M715.5 1593.6h0M749.3 1569.1h0M763.6 1603.4h0M772.4 1616.7h0M759.6 1566.8h0M758 1586h0M758.2 1593.7h0M771.7 1589.4h0M733 1572.9h0M771.8 1595.4h0M725.2 1590.8h0M749.7 1577.5h0M720.1 1599.2h0M758.7 1607.1h0M737.6 1609h0M727.9 1586.8h0M729.4 1582.6h0M728.5 1572.5h0M761 1557.6h0M776.1 1507.9h0M817 1523.5h0M810.9 1517.6h0M796.2 1498.7h0M832.8 1528.9h0M779.9 1492.4h0M771.9 1516.9h0M785.2 1531h0M804.3 1506.7h0M835.3 1508.1h0M812.1 1528.1h0M832.6 1510.2h0M801.3 1505.2h0M808.1 1489.6h0M833.5 1508.3h0M799.4 1539.6h0M777.7 1526.7h0M841.8 1506.3h0M797 1513.4h0M807 1474.5h0M795.7 1484.5h0M810.7 1514.7h0M784.7 1487.2h0M825.7 1500.4h0M824.8 1613.2h0M843.4 1606.1h0M836.2 1610.3h0M832.2 1638.6h0M852.4 1596.7h0M827.9 1600.5h0M839.4 1627.8h0M827.8 1571.6h0M848.5 1587.1h0M840.4 1628.7h0M828.9 1612h0M827.6 1617.4h0M819.5 1628.3h0M826.4 1593.3h0M848.2 1584.2h0M815.1 1610.4h0M821.5 1583.2h0M836.7 1577.5h0M765.9 1637.7h0M750.8 1662.6h0M745.8 1696.3h0M725.3 1653.6h0M725.4 1692.9h0M761 1639.4h0M722.9 1664.5h0M778.2 1635.3h0M724.4 1676.1h0M754.7 1707.8h0M743.1 1649.2h0M763.8 1690.5h0M724.1 1690h0M739.2 1681h0M758 1700.4h0M798.6 1671.5h0M750.2 1704.8h0M775.7 1674.2h0M751 1673.6h0M702.1 1517.7h0M692.3 1504.5h0M692.2 1516.8h0M672.3 1553.6h0M713.6 1551.2h0M695.6 1524.1h0M690.9 1476.6h0M749.4 1527.7h0M714.6 1512.1h0M676.2 1548.9h0M664 1483.9h0M730.7 1482.9h0M676.6 1492h0M697 1507.2h0M696.4 1508.9h0M583.2 1622.5h0M622.4 1615.9h0M625 1610.3h0M646.8 1604.8h0M637.3 1596.4h0M645.9 1603.2h0M607.5 1612.8h0M613.2 1607.5h0M648.8 1533.6h0M732.5 1655.2h0M652.4 1509.5h0M603.2 1732.6h0M580.3 1601.1h0M619.4 1531.3h0M683.9 1695.6h0" stroke="#d21f1f" stroke-width="8.2" stroke-linecap="round" fill="none"/>
<path d="M623.3 1514.8h0M586.4 1543.8h0M631.7 1500.3h0M643.7 1544.7h0M655.3 1513.1h0M620.6 1557.6h0M624.4 1448.5h0M633.5 1548.3h0M631.7 1523.7h0M667.9 1524.9h0M663.9 1499.9h0M605.5 1517.6h0M595.7 1510.7h0M621.2 1533.6h0M610.4 1504.6h0M635.6 1498.8h0M652.6 1543.3h0M594.9 1560.7h0M613.1 1513.1h0M605.8 1480.7h0M591.6 1477.1h0M634.4 1502.6h0M609.5 1520.8h0M591.7 1558.8h0M565.5 1525h0M606.1 1514.9h0M613.4 1516.1h0M604.2 1543.4h0M624.8 1517.8h0M628.8 1527.1h0M631.2 1550.2h0M629.1 1471.8h0M582.4 1490.6h0M563 1497h0M605.2 1520.3h0M565.3 1508.1h0M591.2 1526.2h0M598.9 1521.6h0M577.6 1524.4h0M644.4 1515.7h0M629.3 1562.2h0M583.1 1539.9h0M578.6 1549.9h0M618.8 1492.1h0M617.3 1525.1h0M614.1 1520.9h0M615.2 1483.2h0M628.8 1480.5h0M644.2 1489.7h0M655.2 1538.1h0M631.7 1546.2h0M571.5 1536.1h0M588.5 1543.2h0M599 1495.5h0M607.2 1545.1h0M596.6 1545.5h0M637.5 1557.9h0M620.1 1490.2h0M635.9 1468.9h0M584 1553.7h0M634.8 1484.8h0M594.5 1529.1h0M561.3 1528h0M580.1 1498.4h0M599.7 1535.6h0M570.8 1505.8h0M611.9 1539.9h0M593.7 1533.9h0M641 1480h0M637 1481h0M620.9 1533.7h0M643.9 1507.6h0M595.3 1489.7h0M610.9 1500.6h0M595.4 1488.8h0M614.3 1511.2h0M631.5 1526.8h0M618.2 1490.1h0M616.9 1527.3h0M653.5 1528.5h0M638.9 1513.1h0M612.6 1503.8h0M612.9 1542.4h0M650.9 1502.2h0M595.2 1542.7h0M628.8 1538.2h0M567.7 1509.6h0M566.6 1509.9h0M589.2 1550.4h0M571.5 1519.1h0M614.9 1510.5h0M640.2 1529.2h0M585.3 1501.7h0M589 1539.4h0M650.1 1496h0M638.6 1479h0M618.7 1486.2h0M606.5 1484.2h0M586.7 1551.3h0M595.4 1557.9h0M614.7 1512.7h0M579.2 1530.3h0M637.5 1537.8h0M588 1506.8h0M603 1517.2h0M617 1507.6h0M620.5 1513.2h0M566.8 1518.1h0M631.8 1554.6h0M616.2 1511.6h0M632.7 1500h0M584 1488.1h0M619 1483.3h0M597.4 1512.9h0M634 1503.5h0M565.8 1485.2h0M589.9 1497.4h0M619.4 1501.8h0M564.4 1524h0M588.1 1529.8h0M632 1495h0M618.6 1519.2h0M571.2 1523.5h0M648 1502.2h0M595.4 1505.6h0M624 1468.9h0M628.9 1507.8h0M627.7 1560.6h0M589.9 1527.4h0M575.3 1495.5h0M582.2 1502.5h0M572.2 1493.6h0M605.4 1494.1h0M607.8 1513.7h0M632.5 1521.2h0M618 1485.9h0M602.1 1464.5h0M604.6 1549.3h0M607.7 1498.1h0M644.2 1478.2h0M571.8 1495.3h0M602 1518.9h0M586.4 1518.7h0M546.5 1503.5h0M603.7 1524.4h0M621.3 1530.6h0M607.3 1510.1h0M609.3 1512.8h0M590.9 1508.8h0M603.3 1525.9h0M597.7 1471.9h0M611.7 1528.5h0M619.6 1491.8h0M603.6 1509.8h0M577.3 1546.4h0M568.5 1497.9h0M661 1513.2h0M581.7 1523.1h0M650.1 1542.6h0M622.4 1492.9h0M631.9 1527.2h0M642.3 1499.4h0M627 1490.4h0M614.5 1465.9h0M609.9 1543.4h0M584.1 1517.9h0M614.3 1522h0M573.9 1532.3h0M576.6 1553h0M598 1530.8h0M631.1 1537.1h0M620 1523h0M591.8 1575h0M638.7 1497.4h0M626.1 1544.6h0M622.1 1557.9h0M650.3 1492.1h0M618.5 1481h0M568.4 1505.7h0M654.7 1517.7h0M615.7 1472.6h0M615.9 1538.5h0M583.5 1515.1h0M568.8 1493.4h0M666.2 1538.2h0M620.6 1546.4h0M557.2 1484.9h0M590.3 1509.5h0M648.6 1478.3h0M576.7 1512.8h0M596.8 1498h0M569.6 1533.6h0M617.7 1567.7h0M621.8 1426.6h0M595.2 1564h0M652.8 1467h0M652.5 1414.3h0M592.4 1395.4h0M630.2 1417.4h0M684.8 1407h0M651.5 1414.4h0M611.6 1407.4h0M595.6 1405.9h0M574.5 1410.1h0M609 1423.3h0M581.8 1438h0M625.4 1393.6h0M729.9 1436.1h0M750.4 1405.7h0M784.2 1472.9h0M753.2 1417.8h0M711.6 1386.6h0M786.1 1449h0M716.2 1397.3h0M749.7 1445.8h0M770.4 1434.7h0M774.6 1451.1h0M712.4 1387.9h0M705.1 1391.7h0M772.8 1464.9h0M727.8 1437.5h0M720.2 1439.4h0M781.7 1479.2h0M710.5 1431.5h0M747.2 1420.7h0M755.9 1427.3h0M777.3 1438.3h0M734.3 1431.4h0M505 1483.7h0M499.9 1511.4h0M517 1469.6h0M501.9 1500.5h0M495.7 1539.1h0M505.2 1504.3h0M496.5 1524.6h0M516.5 1491.3h0M498.2 1576.3h0M497.8 1573h0M501.1 1585.5h0M506 1583.5h0M509 1623.7h0M558.9 1602.5h0M504.6 1620.3h0M542.1 1614.8h0M550.2 1596.3h0M513.9 1591.4h0M562.5 1613.4h0M506.9 1655.9h0M522.9 1682.2h0M553.7 1695.2h0M535.8 1676h0M589.1 1660.8h0M596.4 1695.3h0M615 1666.3h0M613.2 1710.4h0M602.3 1713.7h0M593.7 1695.5h0M585.8 1697h0M611.8 1715.6h0M576.1 1698.4h0M599.5 1688.8h0M594 1642.1h0M608.9 1649h0M597.2 1734.8h0M595.2 1647.6h0M671.8 1658.6h0M688.2 1683.9h0M707 1667.1h0M658 1657.7h0M676.9 1658.4h0M663 1709h0M696.5 1671.2h0M666.8 1680.9h0M681.4 1676.7h0M670.3 1690.5h0M702.1 1669.4h0M681.2 1658.6h0M664.3 1672.6h0M696 1666.3h0M705.6 1694.9h0M665.8 1675.8h0M683.5 1658.5h0M722.9 1687.3h0M670.6 1702.7h0M681.5 1687h0M684.7 1676.4h0M662.1 1661.9h0M688.6 1647.5h0M674.9 1689.6h0M676 1684.8h0M676.3 1666.9h0M710.6 1677.3h0M663.6 1663.7h0M684.5 1649.4h0M688.3 1676.8h0M663.5 1682h0M672.3 1664.9h0M691.3 1681h0M702.7 1687.4h0M708.4 1679.8h0M680.6 1693.4h0M682.1 1678h0M683.1 1677.4h0M686.9 1653h0M660.4 1674.1h0M683.2 1672.6h0M673.8 1689h0M676.2 1684.1h0M676.6 1688.6h0M675.8 1667.8h0M712.3 1679.5h0M676.9 1672.7h0M677.2 1692.3h0M660.8 1658.7h0M662.2 1684.9h0M681.5 1695h0M686 1705.3h0M683.3 1673.3h0M672.5 1667.3h0M680.9 1681.9h0M696.5 1736.9h0M641 1748.2h0M675.1 1738.4h0M673 1711.3h0M661.9 1754h0M671.1 1746.8h0M694.4 1724.6h0M650.2 1742.4h0M640.9 1733h0M681.9 1730.7h0M657.1 1733.4h0M694.8 1733.8h0M687.1 1741.2h0M685.3 1744.3h0M711.1 1723h0M701.1 1745.6h0M664.4 1730.7h0M674.3 1734.8h0M718.6 1739.6h0M664 1751.8h0M699.3 1737.3h0M672 1732.4h0M641.8 1748.8h0M643.1 1727.4h0M654.1 1746.4h0M674.2 1755.7h0M702.6 1751.2h0M662.9 1714h0M665.2 1738.2h0M683.2 1722.8h0M652.9 1752.9h0M666.2 1723h0M678 1753.4h0M693.2 1753.1h0M753.3 1582.1h0M749.4 1609.2h0M768 1585.4h0M760.1 1588.5h0M722.2 1591.7h0M730.4 1576.2h0M760.5 1588.1h0M753.2 1590.2h0M761.1 1588.2h0M721.1 1599.3h0M763.9 1583.4h0M718.7 1603.8h0M727.2 1579.1h0M749.8 1577.9h0M745.3 1582.2h0M754.1 1590h0M742.8 1574.3h0M737.9 1590.3h0M753.2 1591.8h0M760 1574.8h0M740.9 1594.4h0M769.8 1595h0M759.9 1605.7h0M754.7 1566.6h0M732.3 1587.7h0M736.2 1589.3h0M752.5 1609.2h0M746.5 1587.3h0M735.9 1580.1h0M759 1574.3h0M723.1 1579h0M739.1 1577.7h0M753.3 1580.4h0M731.6 1572.8h0M754.7 1612.6h0M741.1 1599.2h0M769.9 1574h0M767.1 1602.2h0M734.5 1608h0M740.6 1602.1h0M729.4 1608.2h0M714.2 1593.2h0M764.4 1604.4h0M751.2 1588.5h0M771.4 1577.2h0M742.4 1588.8h0M727.5 1596.3h0M761.8 1583.4h0M745.7 1589.2h0M751.5 1595.7h0M754 1589.1h0M720.3 1579.6h0M763.6 1600.4h0M748.1 1592.3h0M715.7 1582.7h0M732.9 1603.9h0M740 1613.7h0M741.5 1601.8h0M750.2 1568.7h0M736.5 1571.5h0M767.2 1585.9h0M733.1 1598h0M728.8 1574.7h0M805.5 1498.1h0M815.2 1506.9h0M772.9 1526.7h0M826.8 1581h0M830.8 1637.5h0M823.4 1638.5h0M851.8 1586h0M816.6 1631.4h0M817.5 1583.5h0M814.3 1606.1h0M829.2 1564.5h0M808.1 1642.1h0M838.9 1578.2h0M812.1 1611.5h0M837.9 1614.9h0M763.8 1686.4h0M755.8 1692.8h0M737.6 1706.1h0M804.9 1674.3h0M772.3 1698.7h0M733.9 1707h0M776.3 1650.1h0M789.6 1673.1h0M765.7 1679.6h0M763.7 1673.5h0M779.7 1634.2h0M763.6 1672h0M738.3 1708.8h0M759.1 1681h0M752.5 1682.2h0M737.9 1715.5h0M792.3 1691.8h0M804.3 1657.2h0M762.7 1677.6h0M737.9 1525.7h0M724 1477.3h0M682.2 1514.8h0M583.2 1624.5h0M653.7 1623.8h0M619.6 1627.6h0M702.7 1431.5h0M650.1 1529.6h0M624.8 1720.6h0M672 1666.4h0M565 1502.9h0M511.5 1661.8h0M533 1628.4h0M642.6 1549.6h0M773.7 1653.7h0M666.6 1623h0M682.6 1564.7h0M666.5 1666.3h0" stroke="#0f5ba7" stroke-width="8.2" stroke-linecap="round" fill="none"/>
<text x="85" y="1801" font-size="25">Protein</text>
<circle cx="189" cy="1796.5" r="8.5" fill="#0f5ba7" />
<text x="210" y="1804.8" font-size="25.1">Down in tumor</text>
<circle cx="189" cy="1826" r="8.5" fill="#d21f1f" />
<text x="210" y="1834.3" font-size="25.1">Up in tumor</text>
<circle cx="189" cy="1855.5" r="8.5" fill="#b0b0b0" />
<text x="210" y="1863.8" font-size="25.1">Not-sig</text>
<text x="504" y="1801" font-size="25">RNA-seq</text>
<circle cx="627.5" cy="1796.5" r="8.5" fill="#0f5ba7" />
<text x="650" y="1804.8" font-size="25.1">Down in tumor</text>
<circle cx="627.5" cy="1826" r="8.5" fill="#d21f1f" />
<text x="650" y="1834.3" font-size="25.1">Up in tumor</text>
<circle cx="627.5" cy="1855.5" r="8.5" fill="#b0b0b0" />
<text x="650" y="1863.8" font-size="25.1">Not-sig</text>
<text x="902" y="1264.5" font-size="50" font-weight="bold">g</text>
<text x="1186" y="1272.3" font-size="29" text-anchor="middle" font-weight="bold">Correlation of module score</text>
<text x="1186" y="1301" font-size="29" text-anchor="middle" font-weight="bold">calculated by protein and RNA-seq</text>
<line x1="964.4" y1="1359" x2="964.4" y2="1769.8" stroke="#000" stroke-width="2" />
<line x1="963.4" y1="1769" x2="1404" y2="1769" stroke="#000" stroke-width="2" />
<line x1="956" y1="1752.5" x2="964.4" y2="1752.5" stroke="#000" stroke-width="2" />
<text x="950" y="1761.3" font-size="24.8" text-anchor="end">0</text>
<line x1="956" y1="1663.2" x2="964.4" y2="1663.2" stroke="#000" stroke-width="2" />
<text x="950" y="1672" font-size="24.8" text-anchor="end">1</text>
<line x1="956" y1="1573.9" x2="964.4" y2="1573.9" stroke="#000" stroke-width="2" />
<text x="950" y="1582.7" font-size="24.8" text-anchor="end">2</text>
<line x1="956" y1="1484.6" x2="964.4" y2="1484.6" stroke="#000" stroke-width="2" />
<text x="950" y="1493.4" font-size="24.8" text-anchor="end">3</text>
<line x1="956" y1="1395.3" x2="964.4" y2="1395.3" stroke="#000" stroke-width="2" />
<text x="950" y="1404.1" font-size="24.8" text-anchor="end">4</text>
<line x1="1037.3" y1="1769" x2="1037.3" y2="1777.5" stroke="#000" stroke-width="2" />
<text x="1040.3" y="1804.5" font-size="24.8" text-anchor="middle">−0.1</text>
<line x1="1125.9" y1="1769" x2="1125.9" y2="1777.5" stroke="#000" stroke-width="2" />
<text x="1125.9" y="1804.5" font-size="24.8" text-anchor="middle">0.0</text>
<line x1="1214.5" y1="1769" x2="1214.5" y2="1777.5" stroke="#000" stroke-width="2" />
<text x="1214.5" y="1804.5" font-size="24.8" text-anchor="middle">0.1</text>
<line x1="1303.1" y1="1769" x2="1303.1" y2="1777.5" stroke="#000" stroke-width="2" />
<text x="1303.1" y="1804.5" font-size="24.8" text-anchor="middle">0.2</text>
<line x1="1391.7" y1="1769" x2="1391.7" y2="1777.5" stroke="#000" stroke-width="2" />
<text x="1391.7" y="1804.5" font-size="24.8" text-anchor="middle">0.3</text>
<text x="1194" y="1831" font-size="24.8" text-anchor="middle">Spearman’s correlation</text>
<text x="927" y="1571" font-size="24.8" text-anchor="middle" transform="rotate(-90 927 1571)">-log<tspan font-size="16" dy="6">10</tspan><tspan dy="-6">(</tspan><tspan font-style="italic">P</tspan>)</text>
<circle cx="999.2" cy="1638.2" r="5.2" fill="#d6d6d6" />
<circle cx="1250.8" cy="1639.1" r="5.2" fill="#d6d6d6" />
<circle cx="1241.1" cy="1653.4" r="4.8" fill="#d6d6d6" />
<circle cx="1237.5" cy="1657.8" r="4.8" fill="#d6d6d6" />
<circle cx="1226" cy="1671.2" r="4.5" fill="#d6d6d6" />
<circle cx="1200.3" cy="1698.9" r="4.0" fill="#d6d6d6" />
<circle cx="1196.8" cy="1703.4" r="4.0" fill="#d6d6d6" />
<circle cx="1172.9" cy="1723" r="3.4" fill="#d6d6d6" />
<circle cx="1055.9" cy="1704.3" r="4.0" fill="#d6d6d6" />
<circle cx="1062.1" cy="1713.2" r="3.8" fill="#d6d6d6" />
<circle cx="1067.4" cy="1718.6" r="3.6" fill="#d6d6d6" />
<circle cx="1074.5" cy="1723.9" r="3.4" fill="#d6d6d6" />
<circle cx="1101.1" cy="1738.7" r="2.8" fill="#d6d6d6" />
<circle cx="1141" cy="1744.5" r="2.4" fill="#d6d6d6" />
<circle cx="1122.4" cy="1750.7" r="1.6" fill="#d6d6d6" />
<circle cx="1383.7" cy="1376.5" r="7.2" fill="#d5413b" fill-opacity="0.85"/>
<circle cx="1374" cy="1402.4" r="7.0" fill="#d5413b" fill-opacity="0.85"/>
<circle cx="1362.5" cy="1432.8" r="6.8" fill="#d5413b" fill-opacity="0.85"/>
<circle cx="1341.2" cy="1481" r="6.5" fill="#d5413b" fill-opacity="0.85"/>
<circle cx="1336.8" cy="1490" r="6.4" fill="#d5413b" fill-opacity="0.85"/>
<circle cx="1326.1" cy="1511.4" r="6.2" fill="#d5413b" fill-opacity="0.85"/>
<circle cx="1312.8" cy="1539.1" r="6.0" fill="#d5413b" fill-opacity="0.85"/>
<circle cx="1309.3" cy="1546.2" r="6.0" fill="#d5413b" fill-opacity="0.85"/>
<circle cx="1271.2" cy="1612.3" r="5.6" fill="#d5413b" fill-opacity="0.85"/>
<circle cx="1269.4" cy="1615" r="5.6" fill="#d5413b" fill-opacity="0.85"/>
<circle cx="1267.7" cy="1617.7" r="5.6" fill="#d5413b" fill-opacity="0.85"/>
<circle cx="1265.9" cy="1619.4" r="5.6" fill="#d5413b" fill-opacity="0.85"/>
<circle cx="1265" cy="1621.2" r="5.6" fill="#d5413b" fill-opacity="0.85"/>
<circle cx="984.1" cy="1615.9" r="5.6" fill="#4a86c6" />
<line x1="1303.7" y1="1595.7" x2="1271.6" y2="1610.7" stroke="#cc2a2a" stroke-width="2" />
<text x="1361.9" y="1360.6" font-size="24.5" text-anchor="middle" fill="#c8333a">ME24</text>
<text x="1334" y="1402.7" font-size="24.5" text-anchor="middle" fill="#c8333a">ME31</text>
<text x="1315.5" y="1433.8" font-size="24.5" text-anchor="middle" fill="#c8333a">ME12</text>
<text x="1304.4" y="1470.2" font-size="24.5" text-anchor="middle" fill="#c8333a">ME22</text>
<text x="1380.5" y="1505.2" font-size="24.5" text-anchor="middle" fill="#c8333a">ME11</text>
<text x="1278.7" y="1514.2" font-size="24.5" text-anchor="middle" fill="#c8333a">ME25</text>
<text x="1361.9" y="1544.5" font-size="24.5" text-anchor="middle" fill="#c8333a">ME10</text>
<text x="1259.8" y="1558.8" font-size="24.5" text-anchor="middle" fill="#c8333a">ME26</text>
<text x="1240.5" y="1596.3" font-size="24.5" text-anchor="middle" fill="#c8333a">ME28</text>
<text x="1347.6" y="1603.4" font-size="24.5" text-anchor="middle" fill="#c8333a">ME29</text>
<text x="1209" y="1628.4" font-size="24.5" text-anchor="middle" fill="#c8333a">ME04</text>
<text x="1325.9" y="1633.8" font-size="24.5" text-anchor="middle" fill="#c8333a">ME14</text>
<text x="1303" y="1665.8" font-size="24.5" text-anchor="middle" fill="#c8333a">ME17</text>
<text x="1015.5" y="1606.3" font-size="24.5" text-anchor="middle" fill="#2a6db0">ME21</text>
<circle cx="984" cy="1382" r="8.2" fill="#d5413b" />
<circle cx="984" cy="1411.4" r="8.2" fill="#1b5ea8" />
<circle cx="984" cy="1441" r="8.2" fill="#d6d6d6" />
<text x="997" y="1390.5" font-size="24.8">Positive (<tspan font-style="italic">r</tspan> &gt; 0, <tspan font-style="italic">P</tspan> &lt; 0.05)</text>
<text x="997" y="1420" font-size="24.8">Negative (<tspan font-style="italic">r</tspan> &lt; 0, <tspan font-style="italic">P</tspan> &lt; 0.05)</text>
<text x="997" y="1449.5" font-size="24.8">Not-sig</text>
<text x="1480" y="1264" font-size="50" font-weight="bold">h</text>
<path d="M1653.8 1298.3H1656.1V1303.1H1657.6V1315.7H1679.5V1326.5H1699.2V1352.4H1701.1V1363.2H1723.1V1372.8H1728.7V1383.6H1731.8V1395.5H1733.3V1406.3H1735.2V1417H1737.4V1429.7H1740.1V1442.4H1742.7V1451.3H1745.8V1462H1748.8V1474.7H1759V1486.2H1781V1497.4H1798.8V1508.1H1818.4V1519.7H1878.2V1532.3H2033.4V1529.9H2029.6V1659.9H2033.4V1657.7H1878.2V1640.4H1818.4V1624.3H1798.8V1608.9H1781V1593.1H1759V1577H1748.8V1559.7H1745.8V1544.3H1742.7V1530.8H1740.1V1513.5H1737.4V1496.2H1735.2V1480.8H1733.3V1465.5H1731.8V1448.9H1728.7V1433.5H1723.1V1419.3H1701.1V1403.9H1699.2V1373.4H1679.5V1358H1657.6V1340.7H1656.1V1325.3H1653.8Z" fill="#e2766a" fill-opacity="0.06" stroke="none"/>
<path d="M1653.8 1298.3H1656.8V1298.3H1660.6V1298.3H1666.3V1298.9H1672V1301.2H1678.8V1303.9H1685.2V1306.2H1691.6V1308.9H1698.5V1311.3H1707.9V1314H1711.7V1317.4H1714.4V1320.9H1717.4V1325.1H1720.4V1329.7H1724.2V1336.9H1731V1340.4H1733.3V1345.7H1736.3V1351.1H1739.3V1356.4H1742V1361.8H1744.6V1367.1H1751.4V1370.6H1757.1V1374H1760.9V1379.4H1762.8V1384.7H1765.8V1393.9H1781.7V1399.2H1784.8V1406.5H1789.3V1411.8H1793.8V1415.3H1798.8V1418.7H1802.5V1422.2H1806.3V1425.6H1811.2V1431H1815.8V1434.4H1823.4V1437.9H1827.1V1442.1H1832.8V1444.8H1837.7V1449H1840.4V1451.7H1844.2V1456.3H1848V1460.5H1851.7V1465.9H1856.7V1469.3H1862V1472H1866.9V1474.4H1872.6V1477.8H1878.2V1481.3H1883.2V1484.7H1887.7V1488.2H1891.5V1491.7H1895.3V1495.1H1899.1V1498.6H1902.8V1502H1906.6V1505.5H1925.6V1508.9H1928.6V1512.4H1958.9V1513.2H1963.4V1520.4H2013.4V1520.1H2016.4V1535.7H2054.2V1535.4H2050.5V1593.4H2054.2V1593H2016.4V1576.8H2013.4V1576.5H1963.4V1568.6H1958.9V1567.1H1928.6V1563H1925.6V1558.9H1906.6V1554.8H1902.8V1550.7H1899.1V1546.6H1895.3V1542.4H1891.5V1538.3H1887.7V1534.2H1883.2V1530.1H1878.2V1526H1872.6V1521.9H1866.9V1518.9H1862V1515.5H1856.7V1511.4H1851.7V1505.4H1848V1500.6H1844.2V1495.3H1840.4V1492H1837.7V1487.1H1832.8V1483.7H1827.1V1478.9H1823.4V1474.7H1815.8V1470.6H1811.2V1464.6H1806.3V1460.5H1802.5V1456.4H1798.8V1452.3H1793.8V1448.2H1789.3V1442.2H1784.8V1434.3H1781.7V1428.3H1765.8V1418.5H1762.8V1412.5H1760.9V1406.5H1757.1V1402.4H1751.4V1398.2H1744.6V1392.2H1742V1386.2H1739.3V1380.2H1736.3V1374.2H1733.3V1368.2H1731V1364.1H1724.2V1356.2H1720.4V1351H1717.4V1346.1H1714.4V1342H1711.7V1337.9H1707.9V1334.5H1698.5V1331.5H1691.6V1328.2H1685.2V1325.2H1678.8V1321.8H1672V1318.9H1666.3V1315.9H1660.6V1311.8H1656.8V1310.3H1653.8Z" fill="#2a8ca6" fill-opacity="0.045" stroke="none"/>
<line x1="1632.2" y1="1491.4" x2="1859.3" y2="1491.4" stroke="#7a7a7a" stroke-width="1.8" stroke-dasharray="4.5 4"/>
<line x1="1745.8" y1="1491.4" x2="1745.8" y2="1703.4" stroke="#7a7a7a" stroke-width="1.8" stroke-dasharray="4.5 4"/>
<line x1="1859.3" y1="1491.4" x2="1859.3" y2="1703.4" stroke="#7a7a7a" stroke-width="1.8" stroke-dasharray="4.5 4"/>
<path d="M1653.8 1300.3H1656.1V1313.6H1657.6V1328.7H1679.5V1341.9H1699.2V1370.3H1701.1V1383.6H1723.1V1395.7H1728.7V1408.9H1731.8V1423.3H1733.3V1436.6H1735.2V1449.8H1737.4V1465H1740.1V1480.1H1742.7V1491.4H1745.8V1504.7H1748.8V1519.8H1759V1533.8H1781V1547.5H1798.8V1560.7H1818.4V1574.7H1878.2V1589.9H2033.4V1589.9" fill="none" stroke="#e2766a" stroke-width="2"/>
<path d="M1869.9 1569.7v10M1900.2 1584.9v10M1932 1584.9v10M2029.6 1584.9v10" stroke="#e2766a" stroke-width="1.8" fill="none"/>
<path d="M1653.8 1300.3H1656.8V1301.4H1660.6V1305.2H1666.3V1307.9H1672V1310.5H1678.8V1313.6H1685.2V1316.2H1691.6V1319.2H1698.5V1321.9H1707.9V1324.9H1711.7V1328.7H1714.4V1332.5H1717.4V1337H1720.4V1341.9H1724.2V1349.5H1731V1353.3H1733.3V1359H1736.3V1364.6H1739.3V1370.3H1742V1376H1744.6V1381.7H1751.4V1385.5H1757.1V1389.3H1760.9V1394.9H1762.8V1400.6H1765.8V1410.1H1781.7V1415.7H1784.8V1423.3H1789.3V1429H1793.8V1432.8H1798.8V1436.6H1802.5V1440.3H1806.3V1444.1H1811.2V1449.8H1815.8V1453.6H1823.4V1457.4H1827.1V1461.9H1832.8V1465H1837.7V1469.5H1840.4V1472.5H1844.2V1477.4H1848V1482H1851.7V1487.7H1856.7V1491.4H1862V1494.5H1866.9V1497.1H1872.6V1500.9H1878.2V1504.7H1883.2V1508.5H1887.7V1512.3H1891.5V1516H1895.3V1519.8H1899.1V1523.6H1902.8V1527.4H1906.6V1531.2H1925.6V1535H1928.6V1538.8H1958.9V1539.9H1963.4V1547.5H2013.4V1547.5H2016.4V1563.4H2054.2V1563.4" fill="none" stroke="#2a8ca6" stroke-width="2"/>
<path d="M1868.8 1492.1v10M1874.5 1495.9v10M1878.2 1499.7v10M1882 1499.7v10M1883.9 1503.5v10M1885.8 1503.5v10M1887.7 1507.3v10M1893.4 1511v10M1899.1 1518.6v10M1904.7 1522.4v10M1908.5 1526.2v10M1912.3 1526.2v10M1916.1 1526.2v10M1923.7 1526.2v10M1929.3 1533.8v10M1936.9 1533.8v10M1942.6 1533.8v10M1948.3 1533.8v10M1953.9 1533.8v10M1967.2 1542.5v10M1971 1542.5v10M1978.5 1542.5v10M1984.2 1542.5v10M1989.9 1542.5v10M1997.5 1542.5v10M2005 1542.5v10M2010.7 1542.5v10M2022.1 1558.4v10M2031.5 1558.4v10M2035.3 1558.4v10M2039.1 1558.4v10M2042.9 1558.4v10M2048.6 1558.4v10M2052.4 1558.4v10" stroke="#2a8ca6" stroke-width="1.8" fill="none"/>
<line x1="1632.2" y1="1281.4" x2="1632.2" y2="1704.4" stroke="#000" stroke-width="2" />
<line x1="1631.2" y1="1703.4" x2="2102.3" y2="1703.4" stroke="#000" stroke-width="2" />
<line x1="1625.2" y1="1684.5" x2="1632.2" y2="1684.5" stroke="#000" stroke-width="2" />
<text x="1624.2" y="1693.8" font-size="24.8" text-anchor="end">0.00</text>
<line x1="1653.8" y1="1703.4" x2="1653.8" y2="1710.4" stroke="#000" stroke-width="2" />
<text x="1654.8" y="1729" font-size="24.8" text-anchor="middle">0</text>
<line x1="1625.2" y1="1588.5" x2="1632.2" y2="1588.5" stroke="#000" stroke-width="2" />
<text x="1624.2" y="1597.8" font-size="24.8" text-anchor="end">0.25</text>
<line x1="1760.7" y1="1703.4" x2="1760.7" y2="1710.4" stroke="#000" stroke-width="2" />
<text x="1761.7" y="1729" font-size="24.8" text-anchor="middle">12</text>
<line x1="1625.2" y1="1492.4" x2="1632.2" y2="1492.4" stroke="#000" stroke-width="2" />
<text x="1624.2" y="1501.7" font-size="24.8" text-anchor="end">0.50</text>
<line x1="1867.7" y1="1703.4" x2="1867.7" y2="1710.4" stroke="#000" stroke-width="2" />
<text x="1868.7" y="1729" font-size="24.8" text-anchor="middle">24</text>
<line x1="1625.2" y1="1396.3" x2="1632.2" y2="1396.3" stroke="#000" stroke-width="2" />
<text x="1624.2" y="1405.6" font-size="24.8" text-anchor="end">0.75</text>
<line x1="1974.6" y1="1703.4" x2="1974.6" y2="1710.4" stroke="#000" stroke-width="2" />
<text x="1975.6" y="1729" font-size="24.8" text-anchor="middle">36</text>
<line x1="1625.2" y1="1300.3" x2="1632.2" y2="1300.3" stroke="#000" stroke-width="2" />
<text x="1624.2" y="1309.6" font-size="24.8" text-anchor="end">1.00</text>
<line x1="2081.5" y1="1703.4" x2="2081.5" y2="1710.4" stroke="#000" stroke-width="2" />
<text x="2082.5" y="1729" font-size="24.8" text-anchor="middle">48</text>
<text x="1874.5" y="1753" font-size="24.8" text-anchor="middle">Time (Months)</text>
<text x="1551.6" y="1496" font-size="24.8" text-anchor="middle" transform="rotate(-90 1551.6 1496)">Survival probability</text>
<line x1="1873.7" y1="1302.4" x2="1895.3" y2="1302.4" stroke="#e2766a" stroke-width="3.2" />
<text x="1902" y="1307" font-size="24.8" font-weight="bold" fill="#e2766a">Basal-like</text>
<line x1="1873.7" y1="1329.7" x2="1895.3" y2="1329.7" stroke="#2a8ca6" stroke-width="3.2" />
<text x="1902" y="1335.4" font-size="24.8" font-weight="bold" fill="#2a8ca6">Classical-like</text>
<text x="1873.7" y="1369.4" font-size="24.8"><tspan font-style="italic">P</tspan>-value = 6.08&#215;10<tspan font-size="13.5" dy="-10">-3</tspan></text>
<text x="1873.7" y="1394" font-size="24.8">HR = 1.921</text>
<text x="1873.7" y="1419.4" font-size="24.8">95% CI = 1.195-3.089</text>
<text x="1629" y="1781" font-size="24.8" font-weight="bold">Number at risk</text>
<text x="1624" y="1812" font-size="24.8" text-anchor="end" font-weight="bold" fill="#e2766a">Basal-like</text>
<text x="1653.8" y="1812" font-size="24.8" text-anchor="middle">28</text>
<text x="1760.7" y="1812" font-size="24.8" text-anchor="middle">11</text>
<text x="1867.7" y="1812" font-size="24.8" text-anchor="middle">8</text>
<text x="1974.6" y="1812" font-size="24.8" text-anchor="middle">1</text>
<text x="2081.5" y="1812" font-size="24.8" text-anchor="middle">0</text>
<text x="1624" y="1844.3" font-size="24.8" text-anchor="end" font-weight="bold" fill="#2a8ca6">Classical-like</text>
<text x="1653.8" y="1844.3" font-size="24.8" text-anchor="middle">157</text>
<text x="1760.7" y="1844.3" font-size="24.8" text-anchor="middle">119</text>
<text x="1867.7" y="1844.3" font-size="24.8" text-anchor="middle">76</text>
<text x="1974.6" y="1844.3" font-size="24.8" text-anchor="middle">16</text>
<text x="2081.5" y="1844.3" font-size="24.8" text-anchor="middle">0</text>
<text x="4" y="1949" font-size="50" font-weight="bold">i</text>
<path d="M208.9 2025.1H213.7V2027.6H217.7V2032.2H231.9V2033.6H235.9V2045.9H253.2V2049.3H256V2060.8H266.1V2062.2H270.2V2075.6H276.2V2079.1H278.2V2088.5H284.3V2093.9H287.1V2105.4H289.5V2112.8H292.3V2120.3H295.2V2127.7H298.4V2135.2H302.4V2142.6H308.5V2150H318.5V2153.4H338.7V2164.9H346V2172.4H350.8V2175.8H356.9V2183.2H366.9V2187.4H377V2190H383.1V2201.5H393.1V2204.9H399.2V2212.3H407.3V2221.8H411.3V2229.2H421.4V2232.6H431.5V2238.1H439.5V2243.5H449.6V2246.9H457.7V2252.3H465.7V2257.7H467.7V2265.2H485.9V2266.6H487.9V2272H612.9V2271.4H608.9V2326.4H612.9V2325.9H487.9V2319.3H485.9V2316.8H467.7V2308.2H465.7V2301.7H457.7V2295.1H449.6V2290.6H439.5V2284.1H431.5V2277.5H421.4V2273H411.3V2264.4H407.3V2253.8H399.2V2245.3H393.1V2240.7H383.1V2228.1H377V2224.4H366.9V2219.1H356.9V2210.5H350.8V2206H346V2197.4H338.7V2184.8H318.5V2180.3H308.5V2171.7H302.4V2163.2H298.4V2154.6H295.2V2146H292.3V2137.5H289.5V2128.9H287.1V2116.3H284.3V2109.8H278.2V2099.2H276.2V2094.6H270.2V2080H266.1V2077.5H256V2064.9H253.2V2060.4H235.9V2047H231.9V2044.5H217.7V2038.7H213.7V2032.2H208.9Z" fill="#1f62a8" fill-opacity="0.045" stroke="none"/>
<path d="M208.9 2025.1H215.7V2025.5H221.8V2028.5H246V2026.6H252V2030.7H266.1V2030.9H276.2V2035H284.3V2036H288.3V2047.4H294.4V2055.6H298.4V2059.7H306.5V2063.9H312.5V2064H316.5V2072.2H322.6V2092.5H338.7V2090.6H342.7V2100.8H352.8V2104.9H358.9V2109.1H364.9V2113.2H371V2123.5H383.1V2122.4H387.1V2125.7H405.2V2129.9H409.3V2132.8H419.4V2135H429.4V2138.3H437.5V2142.5H449.6V2144.6H451.6V2148.8H455.6V2152.1H483.9V2151H489.9V2156.4H522.2V2154.5H524.2V2165.5H578.6V2163.6H580.6V2193.2H621V2191.3H614.9V2311.3H621V2310.2H580.6V2277.7H578.6V2276.6H524.2V2262.6H522.2V2261.5H489.9V2253.2H483.9V2251.3H455.6V2245H451.6V2237.9H449.6V2232.7H437.5V2225.6H429.4V2219.3H419.4V2214.2H409.3V2208.3H405.2V2201.1H387.1V2194.8H383.1V2192.9H371V2179.7H364.9V2172.6H358.9V2165.5H352.8V2158.3H342.7V2145.2H338.7V2144.1H322.6V2120.8H316.5V2109.7H312.5V2106.6H306.5V2099.4H298.4V2092.3H294.4V2081.1H288.3V2066.8H284.3V2062.9H276.2V2055.7H266.1V2052.6H252V2045.5H246V2044.4H221.8V2038.5H215.7V2032.2H208.9Z" fill="#c9282d" fill-opacity="0.05" stroke="none"/>
<line x1="185.5" y1="2207.4" x2="450.8" y2="2207.4" stroke="#7a7a7a" stroke-width="1.8" stroke-dasharray="4.5 4"/>
<line x1="373" y1="2207.4" x2="373" y2="2407.4" stroke="#7a7a7a" stroke-width="1.8" stroke-dasharray="4.5 4"/>
<line x1="450.8" y1="2207.4" x2="450.8" y2="2407.4" stroke="#7a7a7a" stroke-width="1.8" stroke-dasharray="4.5 4"/>
<path d="M208.9 2027.2H213.7V2033.2H217.7V2038.5H231.9V2040.5H235.9V2053.4H253.2V2057.4H256V2069.5H266.1V2071.5H270.2V2085.6H276.2V2089.7H278.2V2099.8H284.3V2105.8H287.1V2117.9H289.5V2126H292.3V2134H295.2V2142.1H298.4V2150.2H302.4V2158.2H308.5V2166.3H318.5V2170.3H338.7V2182.4H346V2190.5H350.8V2194.5H356.9V2202.6H366.9V2207.4H377V2210.6H383.1V2222.7H393.1V2226.8H399.2V2234.8H407.3V2244.9H411.3V2253H421.4V2257H431.5V2263.1H439.5V2269.1H449.6V2273.1H457.7V2279.2H465.7V2285.2H467.7V2293.3H485.9V2295.3H487.9V2301.4H612.9V2301.4" fill="none" stroke="#1f62a8" stroke-width="2"/>
<path d="M425.4 2252v10M429.4 2252v10M437.5 2258.1v10M443.5 2264.1v10M448.4 2264.1v10M455.6 2268.1v10M459.7 2274.2v10M473.8 2288.3v10M475.8 2288.3v10M491.9 2296.4v10M496 2296.4v10M500 2296.4v10M510.1 2296.4v10M514.1 2296.4v10M532.3 2296.4v10M552.4 2296.4v10M562.5 2296.4v10M596 2296.4v10M598.8 2296.4v10M602.8 2296.4v10M606.9 2296.4v10" stroke="#1f62a8" stroke-width="1.8" fill="none"/>
<path d="M208.9 2027.2H215.7V2032.4H221.8V2037.3H246V2037.3H252V2043.3H266.1V2045.3H276.2V2051.4H284.3V2054.2H288.3V2067.5H294.4V2077.6H298.4V2083.6H306.5V2089.7H312.5V2091.7H316.5V2101.8H322.6V2124H338.7V2124H342.7V2136H352.8V2142.1H358.9V2148.1H364.9V2154.2H371V2166.3H383.1V2167.1H387.1V2172.3H405.2V2178.4H409.3V2183.2H419.4V2187.3H429.4V2192.5H437.5V2198.5H449.6V2202.6H451.6V2208.6H455.6V2213.9H483.9V2214.7H489.9V2221.9H522.2V2221.9H524.2V2234.8H578.6V2234.8H580.6V2266.3H621V2266.3" fill="none" stroke="#c9282d" stroke-width="2"/>
<path d="M415.3 2178.2v10M427.4 2182.3v10M433.5 2187.5v10M439.5 2193.5v10M443.5 2193.5v10M445.6 2193.5v10M447.6 2193.5v10M449.6 2197.6v10M457.7 2208.9v10M463.7 2208.9v10M469.8 2208.9v10M473.8 2208.9v10M477.8 2208.9v10M481.9 2208.9v10M483.9 2209.7v10M489.9 2216.9v10M500 2216.9v10M510.1 2216.9v10M514.1 2216.9v10M528.2 2229.8v10M546.4 2229.8v10M554.4 2229.8v10M560.5 2229.8v10M574.6 2229.8v10M592.7 2261.3v10M602.8 2261.3v10M612.9 2261.3v10" stroke="#c9282d" stroke-width="1.8" fill="none"/>
<line x1="185.5" y1="2009" x2="185.5" y2="2408.4" stroke="#000" stroke-width="2" />
<line x1="184.5" y1="2407.4" x2="667.3" y2="2407.4" stroke="#000" stroke-width="2" />
<line x1="178.5" y1="2390" x2="185.5" y2="2390" stroke="#000" stroke-width="2" />
<text x="173.5" y="2400" font-size="24.8" text-anchor="end">0.00</text>
<line x1="207.7" y1="2407.4" x2="207.7" y2="2414.4" stroke="#000" stroke-width="2" />
<text x="206.7" y="2433.8" font-size="24.8" text-anchor="middle">0</text>
<line x1="178.5" y1="2299.3" x2="185.5" y2="2299.3" stroke="#000" stroke-width="2" />
<text x="173.5" y="2309.3" font-size="24.8" text-anchor="end">0.25</text>
<line x1="317.1" y1="2407.4" x2="317.1" y2="2414.4" stroke="#000" stroke-width="2" />
<text x="316.1" y="2433.8" font-size="24.8" text-anchor="middle">12</text>
<line x1="178.5" y1="2208.6" x2="185.5" y2="2208.6" stroke="#000" stroke-width="2" />
<text x="173.5" y="2218.6" font-size="24.8" text-anchor="end">0.50</text>
<line x1="426.5" y1="2407.4" x2="426.5" y2="2414.4" stroke="#000" stroke-width="2" />
<text x="425.5" y="2433.8" font-size="24.8" text-anchor="middle">24</text>
<line x1="178.5" y1="2117.8" x2="185.5" y2="2117.8" stroke="#000" stroke-width="2" />
<text x="173.5" y="2127.8" font-size="24.8" text-anchor="end">0.75</text>
<line x1="535.9" y1="2407.4" x2="535.9" y2="2414.4" stroke="#000" stroke-width="2" />
<text x="534.9" y="2433.8" font-size="24.8" text-anchor="middle">36</text>
<line x1="178.5" y1="2027.1" x2="185.5" y2="2027.1" stroke="#000" stroke-width="2" />
<text x="173.5" y="2037.1" font-size="24.8" text-anchor="end">1.00</text>
<line x1="645.3" y1="2407.4" x2="645.3" y2="2414.4" stroke="#000" stroke-width="2" />
<text x="644.3" y="2433.8" font-size="24.8" text-anchor="middle">48</text>
<text x="431.5" y="2462.7" font-size="24.8" text-anchor="middle">Time (Months)</text>
<text x="84.3" y="2215.7" font-size="24.8" text-anchor="middle" transform="rotate(-90 84.3 2215.7)">Survival probability</text>
<line x1="203.6" y1="2271.3" x2="227.8" y2="2271.3" stroke="#1f62a8" stroke-width="3.2" />
<text x="233.9" y="2278.2" font-size="24.8" font-weight="bold" fill="#1f62a8">ME11 (Low)</text>
<line x1="203.6" y1="2302.4" x2="227.8" y2="2302.4" stroke="#c9282d" stroke-width="3.2" />
<text x="233.9" y="2308.4" font-size="24.8" font-weight="bold" fill="#c9282d">ME11 (High)</text>
<text x="203.6" y="2336.6" font-size="24.8"><tspan font-style="italic">P</tspan>-value = 3.58&#215;10<tspan font-size="13.5" dy="-10">-3</tspan></text>
<text x="203.6" y="2361.6" font-size="24.8">HR = 0.584</text>
<text x="203.6" y="2387" font-size="24.8">95% CI = 0.404-0.842</text>
<text x="182.3" y="2493" font-size="24.8" font-weight="bold">Number at risk</text>
<text x="173.4" y="2533" font-size="24.8" text-anchor="end" font-weight="bold" fill="#1f62a8">ME11 (Low)</text>
<text x="205.7" y="2533" font-size="24.8" text-anchor="middle">92</text>
<text x="315.1" y="2533" font-size="24.8" text-anchor="middle">56</text>
<text x="424.5" y="2533" font-size="24.8" text-anchor="middle">33</text>
<text x="533.9" y="2533" font-size="24.8" text-anchor="middle">7</text>
<text x="643.3" y="2533" font-size="24.8" text-anchor="middle">0</text>
<text x="173.4" y="2571.3" font-size="24.8" text-anchor="end" font-weight="bold" fill="#c9282d">ME11 (High)</text>
<text x="205.7" y="2571.3" font-size="24.8" text-anchor="middle">93</text>
<text x="315.1" y="2571.3" font-size="24.8" text-anchor="middle">74</text>
<text x="424.5" y="2571.3" font-size="24.8" text-anchor="middle">51</text>
<text x="533.9" y="2571.3" font-size="24.8" text-anchor="middle">10</text>
<text x="643.3" y="2571.3" font-size="24.8" text-anchor="middle">0</text>
<text x="399" y="1981" font-size="27.1" text-anchor="middle" font-weight="bold">RJ-cohort 1 (all patients)</text>
<path d="M896.5 2025.1H942V2034.3H964.2V2038.7H974.3V2038H977.1V2047.3H980.3V2062.6H986.4V2078H991.6V2091.3H997.3V2104.6H1006.5V2109.9H1024.7V2109.1H1029.5V2120.4H1034.8V2129.7H1044.8V2135H1046.9V2142.3H1056.9V2143.5H1067V2150.8H1071V2160.1H1077.1V2163.3H1087.2V2168.6H1091.2V2173.9H1097.3V2189.2H1105.3V2198.5H1113.4V2201.8H1123.5V2209.1H1127.5V2214.3H1137.6V2215.6H1143.6V2220.8H1149.7V2228.1H1153.7V2235.4H1171.9V2236.6H1175.9V2245.9H1294.8V2245.1H1290.8V2298.1H1294.8V2297.5H1175.9V2286.7H1171.9V2284H1153.7V2275.2H1149.7V2266.5H1143.6V2259.7H1137.6V2257H1127.5V2250.3H1123.5V2241.6H1113.4V2236.8H1105.3V2226.1H1097.3V2209.2H1091.2V2202.5H1087.2V2195.8H1077.1V2191.1H1071V2180.3H1067V2171.5H1056.9V2168.8H1046.9V2160.1H1044.8V2153.3H1034.8V2142.6H1029.5V2129.8H1024.7V2129.1H1006.5V2122.4H997.3V2107.6H991.6V2092.8H986.4V2076H980.3V2059.1H977.1V2048.4H974.3V2047.7H964.2V2041.8H942V2029.4H896.5Z" fill="#1f62a8" fill-opacity="0.045" stroke="none"/>
<path d="M896.5 2025.1H956.1V2025.8H977.1V2025.1H980.3V2030.8H990.4V2037.7H1000.5V2038.6H1004.5V2047.5H1008.5V2056.4H1012.6V2069.4H1024.7V2066.2H1028.7V2075.1H1036.8V2076H1046.9V2084.9H1057.7V2089.8H1067V2090.7H1075.1V2095.5H1095.2V2094.4H1097.3V2097.3H1115.4V2094.1H1117.4V2097H1137.6V2099.8H1139.6V2106.8H1147.7V2109.6H1177.9V2106.5H1179.9V2117.4H1212.2V2114.2H1213V2127.2H1266.6V2124H1268.6V2155.9H1309V2152.7H1303.7V2307.7H1309V2305.8H1268.6V2268.7H1266.6V2266.8H1213V2248.7H1212.2V2246.7H1179.9V2230.6H1177.9V2228.7H1147.7V2220.6H1139.6V2208.6H1137.6V2200.6H1117.4V2192.6H1115.4V2190.6H1097.3V2182.6H1095.2V2178.6H1075.1V2168.6H1067V2162.6H1057.7V2152.6H1046.9V2138.5H1036.8V2132.5H1028.7V2118.4H1024.7V2116.5H1012.6V2098.4H1008.5V2084.3H1004.5V2070.2H1000.5V2064.2H990.4V2052.2H980.3V2038.9H977.1V2037H956.1V2029.4H896.5Z" fill="#c9282d" fill-opacity="0.05" stroke="none"/>
<line x1="873.5" y1="2207.4" x2="1212.2" y2="2207.4" stroke="#7a7a7a" stroke-width="1.8" stroke-dasharray="4.5 4"/>
<line x1="1100.5" y1="2207.4" x2="1100.5" y2="2407.4" stroke="#7a7a7a" stroke-width="1.8" stroke-dasharray="4.5 4"/>
<line x1="1212.2" y1="2207.4" x2="1212.2" y2="2407.4" stroke="#7a7a7a" stroke-width="1.8" stroke-dasharray="4.5 4"/>
<path d="M896.5 2026.4H942V2038.1H964.2V2043.3H974.3V2043.3H977.1V2053.4H980.3V2069.5H986.4V2085.6H991.6V2099.8H997.3V2113.9H1006.5V2119.9H1024.7V2119.9H1029.5V2132H1034.8V2142.1H1044.8V2148.1H1046.9V2156.2H1056.9V2158.2H1067V2166.3H1071V2176.4H1077.1V2180.4H1087.2V2186.5H1091.2V2192.5H1097.3V2208.6H1105.3V2218.7H1113.4V2222.7H1123.5V2230.8H1127.5V2236.9H1137.6V2238.9H1143.6V2244.9H1149.7V2253H1153.7V2261H1171.9V2263.1H1175.9V2273.1H1294.8V2273.1" fill="none" stroke="#1f62a8" stroke-width="2"/>
<path d="M1117.4 2217.7v10M1123.5 2225.8v10M1127.5 2231.9v10M1131.5 2231.9v10M1135.6 2231.9v10M1141.6 2233.9v10M1147.7 2239.9v10M1151.7 2248v10M1161.8 2256v10M1179.9 2268.1v10M1186 2268.1v10M1190 2268.1v10M1222.3 2268.1v10M1242.4 2268.1v10M1248.5 2268.1v10M1284.8 2268.1v10M1292.8 2268.1v10" stroke="#1f62a8" stroke-width="1.8" fill="none"/>
<path d="M896.5 2026.4H956.1V2032H977.1V2032H980.3V2043.3H990.4V2053.4H1000.5V2057.4H1004.5V2069.5H1008.5V2081.6H1012.6V2097.7H1024.7V2097.7H1028.7V2109.8H1036.8V2113.9H1046.9V2126H1057.7V2134H1067V2138.1H1075.1V2146.1H1095.2V2148.1H1097.3V2154.2H1115.4V2154.2H1117.4V2160.2H1137.6V2166.3H1139.6V2176.4H1147.7V2182.4H1177.9V2182.4H1179.9V2196.5H1212.2V2196.5H1213V2212.7H1266.6V2212.7H1268.6V2247.7H1309V2247.7" fill="none" stroke="#c9282d" stroke-width="2"/>
<path d="M1105.3 2149.2v10M1117.4 2155.2v10M1123.5 2155.2v10M1129.5 2155.2v10M1133.5 2155.2v10M1135.6 2155.2v10M1139.6 2171.4v10M1145.6 2171.4v10M1151.7 2177.4v10M1157.7 2177.4v10M1161.8 2177.4v10M1167.8 2177.4v10M1171.9 2177.4v10M1177.9 2177.4v10M1186 2191.5v10M1200.1 2191.5v10M1234.4 2207.7v10M1250.5 2207.7v10M1262.6 2207.7v10M1282.7 2242.7v10M1294.8 2242.7v10M1304.9 2242.7v10" stroke="#c9282d" stroke-width="1.8" fill="none"/>
<line x1="874.3" y1="2009" x2="874.3" y2="2408.4" stroke="#000" stroke-width="2" />
<line x1="873.3" y1="2407.4" x2="1355" y2="2407.4" stroke="#000" stroke-width="2" />
<line x1="867.3" y1="2390" x2="874.3" y2="2390" stroke="#000" stroke-width="2" />
<text x="862.3" y="2400" font-size="24.8" text-anchor="end">0.00</text>
<line x1="896.5" y1="2407.4" x2="896.5" y2="2414.4" stroke="#000" stroke-width="2" />
<text x="895.5" y="2433.8" font-size="24.8" text-anchor="middle">0</text>
<line x1="867.3" y1="2299.3" x2="874.3" y2="2299.3" stroke="#000" stroke-width="2" />
<text x="862.3" y="2309.3" font-size="24.8" text-anchor="end">0.25</text>
<line x1="1005.9" y1="2407.4" x2="1005.9" y2="2414.4" stroke="#000" stroke-width="2" />
<text x="1004.9" y="2433.8" font-size="24.8" text-anchor="middle">12</text>
<line x1="867.3" y1="2208.6" x2="874.3" y2="2208.6" stroke="#000" stroke-width="2" />
<text x="862.3" y="2218.6" font-size="24.8" text-anchor="end">0.50</text>
<line x1="1115.3" y1="2407.4" x2="1115.3" y2="2414.4" stroke="#000" stroke-width="2" />
<text x="1114.3" y="2433.8" font-size="24.8" text-anchor="middle">24</text>
<line x1="867.3" y1="2117.8" x2="874.3" y2="2117.8" stroke="#000" stroke-width="2" />
<text x="862.3" y="2127.8" font-size="24.8" text-anchor="end">0.75</text>
<line x1="1224.7" y1="2407.4" x2="1224.7" y2="2414.4" stroke="#000" stroke-width="2" />
<text x="1223.7" y="2433.8" font-size="24.8" text-anchor="middle">36</text>
<line x1="867.3" y1="2027.1" x2="874.3" y2="2027.1" stroke="#000" stroke-width="2" />
<text x="862.3" y="2037.1" font-size="24.8" text-anchor="end">1.00</text>
<line x1="1334.1" y1="2407.4" x2="1334.1" y2="2414.4" stroke="#000" stroke-width="2" />
<text x="1333.1" y="2433.8" font-size="24.8" text-anchor="middle">48</text>
<text x="1119.4" y="2462.7" font-size="24.8" text-anchor="middle">Time (Months)</text>
<text x="790.5" y="2215.7" font-size="24.8" text-anchor="middle" transform="rotate(-90 790.5 2215.7)">Survival probability</text>
<line x1="898.9" y1="2271.3" x2="923" y2="2271.3" stroke="#1f62a8" stroke-width="3.2" />
<text x="929.9" y="2278.2" font-size="24.8" font-weight="bold" fill="#1f62a8">ME11 (Low)</text>
<line x1="898.9" y1="2302.4" x2="923" y2="2302.4" stroke="#c9282d" stroke-width="3.2" />
<text x="929.9" y="2308.4" font-size="24.8" font-weight="bold" fill="#c9282d">ME11 (High)</text>
<text x="898.9" y="2336.6" font-size="24.8"><tspan font-style="italic">P</tspan>-value = 0.0306</text>
<text x="898.9" y="2361.6" font-size="24.8">HR = 0.602</text>
<text x="898.9" y="2387" font-size="24.8">95% CI = 0.378-0.959</text>
<text x="870.2" y="2493" font-size="24.8" font-weight="bold">Number at risk</text>
<text x="860" y="2533" font-size="24.8" text-anchor="end" font-weight="bold" fill="#1f62a8">ME11 (Low)</text>
<text x="894.5" y="2533" font-size="24.8" text-anchor="middle">66</text>
<text x="1003.9" y="2533" font-size="24.8" text-anchor="middle">50</text>
<text x="1113.3" y="2533" font-size="24.8" text-anchor="middle">31</text>
<text x="1222.7" y="2533" font-size="24.8" text-anchor="middle">5</text>
<text x="1332.1" y="2533" font-size="24.8" text-anchor="middle">0</text>
<text x="860" y="2571.3" font-size="24.8" text-anchor="end" font-weight="bold" fill="#c9282d">ME11 (High)</text>
<text x="894.5" y="2571.3" font-size="24.8" text-anchor="middle">66</text>
<text x="1003.9" y="2571.3" font-size="24.8" text-anchor="middle">58</text>
<text x="1113.3" y="2571.3" font-size="24.8" text-anchor="middle">42</text>
<text x="1222.7" y="2571.3" font-size="24.8" text-anchor="middle">9</text>
<text x="1332.1" y="2571.3" font-size="24.8" text-anchor="middle">0</text>
<text x="1071" y="1981" font-size="27.1" text-anchor="middle" font-weight="bold">Patients with adjuvant therapy</text>
<path d="M1585.6 2025.1H1587.7V2028.2H1591.7V2043.2H1597.7V2054.2H1605.8V2053.1H1606.6V2066.1H1613.1V2067.1H1613.9V2092.2H1619.9V2093.1H1620.7V2104.1H1630V2105H1630.8V2116H1642.1V2117H1644.1V2130H1646.9V2141H1649.4V2166.1H1654.2V2187.2H1655V2205.4H1664.3V2206H1666.3V2218.2H1674.4V2219.1H1676.4V2244.2H1714.7V2243.1H1715.5V2256.1H1726V2255.8H1726.8V2268.1H1777.2V2267H1778V2280H1801.4V2278.9H1802.6V2291.9H1817.5V2290.8H1818.3V2303.8H1990.9V2302.7H1984.8V2377.7H1990.9V2377.1H1818.3V2362.4H1817.5V2361.8H1802.6V2347H1801.4V2346.4H1778V2331.7H1777.2V2331H1726.8V2317.1H1726V2315.7H1715.5V2300.9H1714.7V2300.3H1676.4V2273.5H1674.4V2270.8H1666.3V2256.9H1664.3V2254.7H1655V2234.7H1654.2V2211.9H1649.4V2185H1646.9V2172.3H1644.1V2157.6H1642.1V2154.9H1630.8V2142.2H1630V2139.6H1620.7V2126.9H1619.9V2124.2H1613.9V2097.4H1613.1V2094.7H1606.6V2080H1605.8V2079.4H1597.7V2066.7H1591.7V2049.9H1587.7V2036.4H1585.6Z" fill="#1f62a8" fill-opacity="0.045" stroke="none"/>
<path d="M1585.6 2025.1H1589.7V2025.1H1590.5V2031.6H1595.7V2041.3H1601V2051.8H1611.9V2050.7H1613.9V2061.2H1626V2058.9H1628V2069.8H1634V2068.3H1634.8V2079.2H1654.2V2076.9H1655V2088.6H1657.4V2098.3H1661.5V2098H1662.3V2107.7H1665.5V2119.5H1668.3V2129.2H1670.3V2139H1676.4V2151.9H1696.5V2149.6H1697.3V2160.1H1716.7V2157.7H1717.9V2169.5H1730.8V2167.1H1731.6V2178.9H1740.9V2176.5H1741.7V2188.3H1747.7V2185.9H1748.5V2196.9H1759V2194.5H1759.8V2204.2H1778.4V2201.9H1779.2V2212.4H1841.7V2210H1842.9V2227H1980.8V2224.7H1976.8V2354.7H1980.8V2353.8H1842.9V2333.7H1841.7V2332.8H1779.2V2319.1H1778.4V2318.3H1759.8V2305.3H1759V2304.5H1748.5V2290.3H1747.7V2289.5H1741.7V2274.6H1740.9V2273.7H1731.6V2258.8H1730.8V2258H1717.9V2243H1716.7V2242.2H1697.3V2228.4H1696.5V2227.6H1676.4V2211.5H1670.3V2198.5H1668.3V2185.6H1665.5V2170.6H1662.3V2157.7H1661.5V2154.9H1657.4V2141.9H1655V2127H1654.2V2126.2H1634.8V2112H1634V2110.4H1628V2096.2H1626V2095.4H1613.9V2081.7H1611.9V2079.6H1601V2065.9H1595.7V2053H1590.5V2040H1589.7V2036.4H1585.6Z" fill="#c9282d" fill-opacity="0.05" stroke="none"/>
<line x1="1563.5" y1="2207.4" x2="1696.5" y2="2207.4" stroke="#7a7a7a" stroke-width="1.8" stroke-dasharray="4.5 4"/>
<line x1="1653.4" y1="2207.4" x2="1653.4" y2="2407.4" stroke="#7a7a7a" stroke-width="1.8" stroke-dasharray="4.5 4"/>
<line x1="1696.5" y1="2207.4" x2="1696.5" y2="2407.4" stroke="#7a7a7a" stroke-width="1.8" stroke-dasharray="4.5 4"/>
<path d="M1585.6 2026.4H1587.7V2039.3H1591.7V2055.4H1597.7V2067.5H1605.8V2067.5H1606.6V2081.6H1613.1V2083.6H1613.9V2109.8H1619.9V2111.9H1620.7V2124H1630V2126H1630.8V2138.1H1642.1V2140.1H1644.1V2154.2H1646.9V2166.3H1649.4V2192.5H1654.2V2214.7H1655V2234H1664.3V2235.6H1666.3V2249H1674.4V2251H1676.4V2277.2H1714.7V2277.2H1715.5V2291.3H1726V2292.1H1726.8V2305.4H1777.2V2305.4H1778V2319.5H1801.4V2319.5H1802.6V2333.6H1817.5V2333.6H1818.3V2347.7H1990.9V2347.7" fill="none" stroke="#1f62a8" stroke-width="2"/>
<path d="M1894.1 2342.7v10M1976 2342.7v10M1986.9 2342.7v10" stroke="#1f62a8" stroke-width="1.8" fill="none"/>
<path d="M1585.6 2026.4H1589.7V2029.2H1590.5V2041.3H1595.7V2053.4H1601V2066.3H1611.9V2067.5H1613.9V2080.4H1626V2080.4H1628V2093.7H1634V2094.5H1634.8V2107.8H1654.2V2107.8H1655V2121.9H1657.4V2134H1661.5V2136H1662.3V2148.1H1665.5V2162.3H1668.3V2174.4H1670.3V2186.5H1676.4V2201.8H1696.5V2201.8H1697.3V2214.7H1716.7V2214.7H1717.9V2228.8H1730.8V2228.8H1731.6V2242.9H1740.9V2242.9H1741.7V2257H1747.7V2257H1748.5V2270.3H1759V2270.3H1759.8V2282.4H1778.4V2282.4H1779.2V2295.3H1841.7V2295.3H1842.9V2314.7H1980.8V2314.7" fill="none" stroke="#c9282d" stroke-width="2"/>
<path d="M1815.5 2290.3v10M1836.9 2290.3v10M1843.7 2309.7v10M1888.9 2309.7v10M1977.6 2309.7v10" stroke="#c9282d" stroke-width="1.8" fill="none"/>
<line x1="1563.5" y1="2009" x2="1563.5" y2="2408.4" stroke="#000" stroke-width="2" />
<line x1="1562.5" y1="2407.4" x2="2043" y2="2407.4" stroke="#000" stroke-width="2" />
<line x1="1556.5" y1="2390" x2="1563.5" y2="2390" stroke="#000" stroke-width="2" />
<text x="1551.5" y="2400" font-size="24.8" text-anchor="end">0.00</text>
<line x1="1584.8" y1="2407.4" x2="1584.8" y2="2414.4" stroke="#000" stroke-width="2" />
<text x="1583.8" y="2433.8" font-size="24.8" text-anchor="middle">0</text>
<line x1="1556.5" y1="2299.3" x2="1563.5" y2="2299.3" stroke="#000" stroke-width="2" />
<text x="1551.5" y="2309.3" font-size="24.8" text-anchor="end">0.25</text>
<line x1="1694.2" y1="2407.4" x2="1694.2" y2="2414.4" stroke="#000" stroke-width="2" />
<text x="1693.2" y="2433.8" font-size="24.8" text-anchor="middle">12</text>
<line x1="1556.5" y1="2208.6" x2="1563.5" y2="2208.6" stroke="#000" stroke-width="2" />
<text x="1551.5" y="2218.6" font-size="24.8" text-anchor="end">0.50</text>
<line x1="1803.6" y1="2407.4" x2="1803.6" y2="2414.4" stroke="#000" stroke-width="2" />
<text x="1802.6" y="2433.8" font-size="24.8" text-anchor="middle">24</text>
<line x1="1556.5" y1="2117.8" x2="1563.5" y2="2117.8" stroke="#000" stroke-width="2" />
<text x="1551.5" y="2127.8" font-size="24.8" text-anchor="end">0.75</text>
<line x1="1913" y1="2407.4" x2="1913" y2="2414.4" stroke="#000" stroke-width="2" />
<text x="1912" y="2433.8" font-size="24.8" text-anchor="middle">36</text>
<line x1="1556.5" y1="2027.1" x2="1563.5" y2="2027.1" stroke="#000" stroke-width="2" />
<text x="1551.5" y="2037.1" font-size="24.8" text-anchor="end">1.00</text>
<line x1="2022.4" y1="2407.4" x2="2022.4" y2="2414.4" stroke="#000" stroke-width="2" />
<text x="2021.4" y="2433.8" font-size="24.8" text-anchor="middle">48</text>
<text x="1807.4" y="2462.7" font-size="24.8" text-anchor="middle">Time (Months)</text>
<text x="1472.4" y="2215.7" font-size="24.8" text-anchor="middle" transform="rotate(-90 1472.4 2215.7)">Survival probability</text>
<line x1="1750" y1="2028.2" x2="1773" y2="2028.2" stroke="#1f62a8" stroke-width="3.2" />
<text x="1780.4" y="2032" font-size="24.8" font-weight="bold" fill="#1f62a8">ME11 (Low)</text>
<line x1="1750" y1="2058.4" x2="1773" y2="2058.4" stroke="#c9282d" stroke-width="3.2" />
<text x="1780.4" y="2062.5" font-size="24.8" font-weight="bold" fill="#c9282d">ME11 (High)</text>
<text x="1750" y="2092.7" font-size="24.8"><tspan font-style="italic">P</tspan>-value = 0.156</text>
<text x="1750" y="2118" font-size="24.8">HR = 0.653</text>
<text x="1750" y="2143" font-size="24.8">95% CI = 0.360-1.183</text>
<text x="1559.4" y="2493" font-size="24.8" font-weight="bold">Number at risk</text>
<text x="1548.5" y="2533" font-size="24.8" text-anchor="end" font-weight="bold" fill="#1f62a8">ME11 (Low)</text>
<text x="1582.8" y="2533" font-size="24.8" text-anchor="middle">26</text>
<text x="1692.2" y="2533" font-size="24.8" text-anchor="middle">8</text>
<text x="1801.6" y="2533" font-size="24.8" text-anchor="middle">4</text>
<text x="1911" y="2533" font-size="24.8" text-anchor="middle">2</text>
<text x="2020.4" y="2533" font-size="24.8" text-anchor="middle">0</text>
<text x="1548.5" y="2571.3" font-size="24.8" text-anchor="end" font-weight="bold" fill="#c9282d">ME11 (High)</text>
<text x="1582.8" y="2571.3" font-size="24.8" text-anchor="middle">27</text>
<text x="1692.2" y="2571.3" font-size="24.8" text-anchor="middle">14</text>
<text x="1801.6" y="2571.3" font-size="24.8" text-anchor="middle">7</text>
<text x="1911" y="2571.3" font-size="24.8" text-anchor="middle">1</text>
<text x="2020.4" y="2571.3" font-size="24.8" text-anchor="middle">0</text>
<text x="1797" y="1981" font-size="27.1" text-anchor="middle" font-weight="bold">Patients without adjuvant therapy</text>
</svg>
</body></html>
